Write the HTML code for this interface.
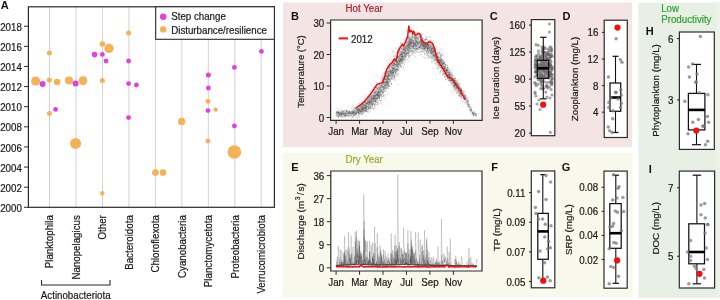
<!DOCTYPE html><html><head><meta charset="utf-8"><style>html,body{margin:0;padding:0;background:#fff;width:720px;height:300px;overflow:hidden}svg{display:block;will-change:transform}text{font-family:"Liberation Sans",sans-serif}</style></head><body>
<svg width="720" height="300" viewBox="0 0 720 300">
<rect width="720" height="300" fill="#fff"/>
<rect x="283" y="2.5" width="349" height="144.5" fill="#F4E4E4"/>
<rect x="283" y="153" width="349.5" height="144" fill="#F8F8EB"/>
<rect x="638.5" y="2.5" width="81.5" height="295.3" fill="#E8F0E6"/>
<rect x="716.3" y="2.5" width="3.7" height="295.3" fill="#EDF3EB"/>
<line x1="49.50" y1="6.8" x2="49.50" y2="207.3" stroke="#d2d2d2" stroke-width="1"/>
<line x1="75.97" y1="6.8" x2="75.97" y2="207.3" stroke="#d2d2d2" stroke-width="1"/>
<line x1="102.44" y1="6.8" x2="102.44" y2="207.3" stroke="#d2d2d2" stroke-width="1"/>
<line x1="128.91" y1="6.8" x2="128.91" y2="207.3" stroke="#d2d2d2" stroke-width="1"/>
<line x1="155.38" y1="6.8" x2="155.38" y2="207.3" stroke="#d2d2d2" stroke-width="1"/>
<line x1="181.85" y1="6.8" x2="181.85" y2="207.3" stroke="#d2d2d2" stroke-width="1"/>
<line x1="208.32" y1="6.8" x2="208.32" y2="207.3" stroke="#d2d2d2" stroke-width="1"/>
<line x1="234.79" y1="6.8" x2="234.79" y2="207.3" stroke="#d2d2d2" stroke-width="1"/>
<line x1="261.26" y1="6.8" x2="261.26" y2="207.3" stroke="#d2d2d2" stroke-width="1"/>
<line x1="24" y1="207.30" x2="28.4" y2="207.30" stroke="#2b2b2b" stroke-width="1"/>
<text transform="translate(21.8 211.9) scale(1 1.03)" font-size="9.75" text-anchor="end" fill="#1a1a1a" stroke="#1a1a1a" stroke-width="0.2" >2000</text>
<line x1="24" y1="187.18" x2="28.4" y2="187.18" stroke="#2b2b2b" stroke-width="1"/>
<text transform="translate(21.8 191.78) scale(1 1.03)" font-size="9.75" text-anchor="end" fill="#1a1a1a" stroke="#1a1a1a" stroke-width="0.2" >2002</text>
<line x1="24" y1="167.06" x2="28.4" y2="167.06" stroke="#2b2b2b" stroke-width="1"/>
<text transform="translate(21.8 171.66) scale(1 1.03)" font-size="9.75" text-anchor="end" fill="#1a1a1a" stroke="#1a1a1a" stroke-width="0.2" >2004</text>
<line x1="24" y1="146.94" x2="28.4" y2="146.94" stroke="#2b2b2b" stroke-width="1"/>
<text transform="translate(21.8 151.54) scale(1 1.03)" font-size="9.75" text-anchor="end" fill="#1a1a1a" stroke="#1a1a1a" stroke-width="0.2" >2006</text>
<line x1="24" y1="126.82" x2="28.4" y2="126.82" stroke="#2b2b2b" stroke-width="1"/>
<text transform="translate(21.8 131.42000000000002) scale(1 1.03)" font-size="9.75" text-anchor="end" fill="#1a1a1a" stroke="#1a1a1a" stroke-width="0.2" >2008</text>
<line x1="24" y1="106.70" x2="28.4" y2="106.70" stroke="#2b2b2b" stroke-width="1"/>
<text transform="translate(21.8 111.3) scale(1 1.03)" font-size="9.75" text-anchor="end" fill="#1a1a1a" stroke="#1a1a1a" stroke-width="0.2" >2010</text>
<line x1="24" y1="86.58" x2="28.4" y2="86.58" stroke="#2b2b2b" stroke-width="1"/>
<text transform="translate(21.8 91.18) scale(1 1.03)" font-size="9.75" text-anchor="end" fill="#1a1a1a" stroke="#1a1a1a" stroke-width="0.2" >2012</text>
<line x1="24" y1="66.46" x2="28.4" y2="66.46" stroke="#2b2b2b" stroke-width="1"/>
<text transform="translate(21.8 71.06) scale(1 1.03)" font-size="9.75" text-anchor="end" fill="#1a1a1a" stroke="#1a1a1a" stroke-width="0.2" >2014</text>
<line x1="24" y1="46.34" x2="28.4" y2="46.34" stroke="#2b2b2b" stroke-width="1"/>
<text transform="translate(21.8 50.940000000000005) scale(1 1.03)" font-size="9.75" text-anchor="end" fill="#1a1a1a" stroke="#1a1a1a" stroke-width="0.2" >2016</text>
<line x1="24" y1="26.22" x2="28.4" y2="26.22" stroke="#2b2b2b" stroke-width="1"/>
<text transform="translate(21.8 30.82) scale(1 1.03)" font-size="9.75" text-anchor="end" fill="#1a1a1a" stroke="#1a1a1a" stroke-width="0.2" >2018</text>
<text transform="translate(0.8 8.7)" font-size="11" text-anchor="start" fill="#111" font-weight="bold" >A</text>
<circle cx="49.4" cy="53" r="2.5" fill="#F6B156"/>
<circle cx="35.6" cy="81" r="4.5" fill="#F6B156"/>
<circle cx="42.6" cy="84" r="3" fill="#E23FDB"/>
<circle cx="49.4" cy="80" r="2.5" fill="#F6B156"/>
<circle cx="57" cy="82" r="3.3" fill="#F6B156"/>
<circle cx="69" cy="80.4" r="4" fill="#F6B156"/>
<circle cx="75.6" cy="83.6" r="3" fill="#E23FDB"/>
<circle cx="83" cy="80.6" r="4.3" fill="#F6B156"/>
<circle cx="102.4" cy="44" r="2.8" fill="#F6B156"/>
<circle cx="109" cy="48.4" r="4.6" fill="#F6B156"/>
<circle cx="94.6" cy="54.6" r="2.8" fill="#E23FDB"/>
<circle cx="102.4" cy="54.4" r="2.4" fill="#E23FDB"/>
<circle cx="106" cy="61" r="2.4" fill="#E23FDB"/>
<circle cx="102.4" cy="80.4" r="2.5" fill="#F6B156"/>
<circle cx="128.6" cy="61" r="2.4" fill="#E23FDB"/>
<circle cx="128.6" cy="83.6" r="2.4" fill="#E23FDB"/>
<circle cx="136.4" cy="85" r="2.4" fill="#E23FDB"/>
<circle cx="128.6" cy="33" r="2.5" fill="#F6B156"/>
<circle cx="55.6" cy="109.4" r="2.4" fill="#E23FDB"/>
<circle cx="49.4" cy="113.6" r="2.5" fill="#F6B156"/>
<circle cx="75.6" cy="143.4" r="5.5" fill="#F6B156"/>
<circle cx="128.6" cy="117.6" r="2.4" fill="#E23FDB"/>
<circle cx="102.3" cy="193.2" r="2.2" fill="#F6B156"/>
<circle cx="155.4" cy="172.6" r="3.3" fill="#F6B156"/>
<circle cx="163" cy="172.6" r="3.3" fill="#F6B156"/>
<circle cx="181.6" cy="121.4" r="3.6" fill="#F6B156"/>
<circle cx="208" cy="101.4" r="2.4" fill="#F6B156"/>
<circle cx="208" cy="110.6" r="2.4" fill="#E23FDB"/>
<circle cx="215.6" cy="109.6" r="2.2" fill="#F6B156"/>
<circle cx="208" cy="141" r="2.4" fill="#F6B156"/>
<circle cx="234.4" cy="67.4" r="2.4" fill="#E23FDB"/>
<circle cx="208.4" cy="75" r="2.5" fill="#E23FDB"/>
<circle cx="208.4" cy="88" r="2.4" fill="#E23FDB"/>
<circle cx="261.4" cy="51.4" r="2.4" fill="#E23FDB"/>
<circle cx="234.4" cy="126" r="2.4" fill="#E23FDB"/>
<circle cx="234.4" cy="152" r="6.8" fill="#F6B156"/>
<rect x="28.4" y="6.8" width="246.00" height="200.50" fill="none" stroke="#2b2b2b" stroke-width="1.2"/>
<rect x="155.7" y="6.8" width="118.70" height="32.50" fill="#fff" stroke="#2b2b2b" stroke-width="1.1"/>
<circle cx="163.2" cy="16.7" r="3.2" fill="#E23FDB"/>
<circle cx="163.2" cy="29.4" r="3.2" fill="#F6B156"/>
<text transform="translate(171.2 19.6) scale(1 1.03)" font-size="9.75" text-anchor="start" fill="#1a1a1a" stroke="#1a1a1a" stroke-width="0.2" >Step change</text>
<text transform="translate(171.2 33.5) scale(1 1.03)" font-size="9.75" text-anchor="start" fill="#1a1a1a" stroke="#1a1a1a" stroke-width="0.2" >Disturbance/resilience</text>
<text transform="translate(53.25 215.2) rotate(-90) scale(1 1.03)" font-size="9.75" text-anchor="end" fill="#1a1a1a" stroke="#1a1a1a" stroke-width="0.2" >Planktophila</text>
<text transform="translate(79.72 215.2) rotate(-90) scale(1 1.03)" font-size="9.75" text-anchor="end" fill="#1a1a1a" stroke="#1a1a1a" stroke-width="0.2" >Nanopelagicus</text>
<text transform="translate(106.19 215.2) rotate(-90) scale(1 1.03)" font-size="9.75" text-anchor="end" fill="#1a1a1a" stroke="#1a1a1a" stroke-width="0.2" >Other</text>
<text transform="translate(132.66 215.2) rotate(-90) scale(1 1.03)" font-size="9.75" text-anchor="end" fill="#1a1a1a" stroke="#1a1a1a" stroke-width="0.2" >Bacteroidota</text>
<text transform="translate(159.13 215.2) rotate(-90) scale(1 1.03)" font-size="9.75" text-anchor="end" fill="#1a1a1a" stroke="#1a1a1a" stroke-width="0.2" >Chloroflexota</text>
<text transform="translate(185.6 215.2) rotate(-90) scale(1 1.03)" font-size="9.75" text-anchor="end" fill="#1a1a1a" stroke="#1a1a1a" stroke-width="0.2" >Cyanobacteria</text>
<text transform="translate(212.07 215.2) rotate(-90) scale(1 1.03)" font-size="9.75" text-anchor="end" fill="#1a1a1a" stroke="#1a1a1a" stroke-width="0.2" >Planctomycetota</text>
<text transform="translate(238.54 215.2) rotate(-90) scale(1 1.03)" font-size="9.75" text-anchor="end" fill="#1a1a1a" stroke="#1a1a1a" stroke-width="0.2" >Proteobacteria</text>
<text transform="translate(265.01 215.2) rotate(-90) scale(1 1.03)" font-size="9.75" text-anchor="end" fill="#1a1a1a" stroke="#1a1a1a" stroke-width="0.2" >Verrucomicrobiota</text>
<path d="M41.5 280 V285 H110 V280" fill="none" stroke="#2b2b2b" stroke-width="1.1"/>
<text transform="translate(75.7 298.6) scale(1 1.03)" font-size="9.75" text-anchor="middle" fill="#1a1a1a" stroke="#1a1a1a" stroke-width="0.2" >Actinobacteriota</text>
<rect x="330.6" y="20.0" width="151.50" height="100.30" fill="#fff"/>
<g fill="#4a4a4a" fill-opacity="0.23"><circle cx="399.8" cy="65.2" r="0.6"/><circle cx="407.6" cy="45.0" r="0.6"/><circle cx="362.0" cy="105.4" r="0.6"/><circle cx="450.2" cy="72.5" r="0.6"/><circle cx="422.8" cy="49.3" r="0.6"/><circle cx="398.1" cy="62.7" r="0.6"/><circle cx="409.2" cy="37.3" r="0.6"/><circle cx="400.5" cy="58.5" r="0.6"/><circle cx="380.5" cy="90.4" r="0.6"/><circle cx="444.0" cy="69.2" r="0.6"/><circle cx="455.4" cy="90.3" r="0.6"/><circle cx="336.1" cy="112.6" r="0.6"/><circle cx="402.3" cy="54.0" r="0.6"/><circle cx="424.8" cy="46.3" r="0.6"/><circle cx="374.0" cy="92.5" r="0.6"/><circle cx="442.9" cy="75.2" r="0.6"/><circle cx="370.7" cy="108.3" r="0.6"/><circle cx="361.1" cy="111.5" r="0.6"/><circle cx="399.1" cy="60.2" r="0.6"/><circle cx="426.8" cy="44.2" r="0.6"/><circle cx="395.3" cy="64.2" r="0.6"/><circle cx="449.3" cy="84.9" r="0.6"/><circle cx="460.8" cy="87.4" r="0.6"/><circle cx="426.5" cy="51.4" r="0.6"/><circle cx="444.9" cy="68.7" r="0.6"/><circle cx="370.3" cy="103.7" r="0.6"/><circle cx="388.4" cy="83.7" r="0.6"/><circle cx="417.0" cy="41.7" r="0.6"/><circle cx="361.8" cy="113.5" r="0.6"/><circle cx="371.2" cy="97.2" r="0.6"/><circle cx="460.4" cy="90.2" r="0.6"/><circle cx="369.6" cy="103.7" r="0.6"/><circle cx="420.1" cy="45.6" r="0.6"/><circle cx="345.7" cy="115.9" r="0.6"/><circle cx="456.2" cy="84.1" r="0.6"/><circle cx="364.8" cy="113.8" r="0.6"/><circle cx="374.0" cy="100.8" r="0.6"/><circle cx="388.0" cy="79.1" r="0.6"/><circle cx="354.6" cy="115.2" r="0.6"/><circle cx="433.5" cy="52.2" r="0.6"/><circle cx="471.8" cy="108.7" r="0.6"/><circle cx="381.0" cy="91.0" r="0.6"/><circle cx="439.9" cy="64.2" r="0.6"/><circle cx="385.6" cy="69.5" r="0.6"/><circle cx="394.8" cy="72.1" r="0.6"/><circle cx="424.1" cy="40.7" r="0.6"/><circle cx="418.2" cy="48.3" r="0.6"/><circle cx="438.7" cy="62.9" r="0.6"/><circle cx="439.6" cy="53.5" r="0.6"/><circle cx="403.8" cy="57.4" r="0.6"/><circle cx="434.5" cy="46.9" r="0.6"/><circle cx="372.1" cy="94.1" r="0.6"/><circle cx="378.4" cy="94.3" r="0.6"/><circle cx="398.3" cy="65.1" r="0.6"/><circle cx="382.1" cy="89.9" r="0.6"/><circle cx="460.1" cy="94.0" r="0.6"/><circle cx="418.2" cy="46.2" r="0.6"/><circle cx="375.0" cy="101.1" r="0.6"/><circle cx="399.5" cy="61.2" r="0.6"/><circle cx="424.2" cy="49.2" r="0.6"/><circle cx="380.5" cy="96.6" r="0.6"/><circle cx="346.5" cy="113.3" r="0.6"/><circle cx="416.5" cy="43.3" r="0.6"/><circle cx="453.0" cy="80.3" r="0.6"/><circle cx="355.9" cy="108.8" r="0.6"/><circle cx="428.4" cy="49.4" r="0.6"/><circle cx="364.1" cy="107.4" r="0.6"/><circle cx="402.6" cy="56.1" r="0.6"/><circle cx="361.3" cy="107.1" r="0.6"/><circle cx="409.4" cy="52.1" r="0.6"/><circle cx="442.6" cy="68.0" r="0.6"/><circle cx="437.9" cy="49.7" r="0.6"/><circle cx="399.9" cy="64.0" r="0.6"/><circle cx="416.2" cy="40.7" r="0.6"/><circle cx="401.4" cy="59.7" r="0.6"/><circle cx="451.4" cy="83.9" r="0.6"/><circle cx="437.2" cy="67.8" r="0.6"/><circle cx="447.5" cy="66.9" r="0.6"/><circle cx="385.1" cy="76.0" r="0.6"/><circle cx="444.3" cy="70.0" r="0.6"/><circle cx="360.4" cy="110.5" r="0.6"/><circle cx="357.0" cy="110.2" r="0.6"/><circle cx="410.3" cy="43.1" r="0.6"/><circle cx="409.7" cy="36.9" r="0.6"/><circle cx="415.0" cy="36.5" r="0.6"/><circle cx="463.0" cy="98.9" r="0.6"/><circle cx="416.8" cy="37.8" r="0.6"/><circle cx="421.3" cy="42.2" r="0.6"/><circle cx="392.5" cy="63.9" r="0.6"/><circle cx="433.4" cy="51.0" r="0.6"/><circle cx="412.0" cy="55.2" r="0.6"/><circle cx="374.0" cy="95.5" r="0.6"/><circle cx="353.9" cy="114.2" r="0.6"/><circle cx="380.7" cy="86.9" r="0.6"/><circle cx="432.9" cy="48.4" r="0.6"/><circle cx="371.3" cy="105.5" r="0.6"/><circle cx="410.8" cy="40.1" r="0.6"/><circle cx="410.6" cy="48.0" r="0.6"/><circle cx="364.8" cy="104.1" r="0.6"/><circle cx="456.0" cy="82.2" r="0.6"/><circle cx="456.8" cy="86.0" r="0.6"/><circle cx="466.1" cy="96.0" r="0.6"/><circle cx="461.1" cy="92.9" r="0.6"/><circle cx="372.6" cy="106.5" r="0.6"/><circle cx="453.3" cy="81.8" r="0.6"/><circle cx="392.8" cy="66.9" r="0.6"/><circle cx="338.5" cy="117.3" r="0.6"/><circle cx="442.9" cy="60.4" r="0.6"/><circle cx="432.7" cy="53.8" r="0.6"/><circle cx="408.6" cy="47.4" r="0.6"/><circle cx="443.8" cy="62.7" r="0.6"/><circle cx="396.6" cy="65.7" r="0.6"/><circle cx="455.0" cy="78.7" r="0.6"/><circle cx="393.1" cy="72.3" r="0.6"/><circle cx="359.3" cy="116.1" r="0.6"/><circle cx="449.0" cy="76.0" r="0.6"/><circle cx="457.4" cy="83.6" r="0.6"/><circle cx="407.1" cy="52.8" r="0.6"/><circle cx="449.5" cy="80.8" r="0.6"/><circle cx="393.2" cy="64.1" r="0.6"/><circle cx="444.2" cy="62.7" r="0.6"/><circle cx="345.9" cy="115.0" r="0.6"/><circle cx="337.5" cy="112.6" r="0.6"/><circle cx="383.6" cy="82.5" r="0.6"/><circle cx="416.3" cy="27.9" r="0.6"/><circle cx="426.6" cy="58.0" r="0.6"/><circle cx="440.2" cy="60.8" r="0.6"/><circle cx="363.6" cy="108.2" r="0.6"/><circle cx="349.9" cy="111.6" r="0.6"/><circle cx="450.1" cy="75.6" r="0.6"/><circle cx="420.3" cy="51.9" r="0.6"/><circle cx="358.6" cy="112.5" r="0.6"/><circle cx="359.8" cy="109.9" r="0.6"/><circle cx="469.3" cy="105.9" r="0.6"/><circle cx="420.3" cy="41.3" r="0.6"/><circle cx="415.1" cy="50.2" r="0.6"/><circle cx="437.0" cy="61.0" r="0.6"/><circle cx="342.0" cy="113.6" r="0.6"/><circle cx="391.0" cy="72.7" r="0.6"/><circle cx="396.6" cy="62.5" r="0.6"/><circle cx="473.2" cy="115.5" r="0.6"/><circle cx="402.0" cy="52.7" r="0.6"/><circle cx="451.2" cy="81.9" r="0.6"/><circle cx="400.3" cy="64.1" r="0.6"/><circle cx="353.5" cy="110.9" r="0.6"/><circle cx="418.1" cy="43.8" r="0.6"/><circle cx="445.7" cy="79.7" r="0.6"/><circle cx="439.5" cy="60.9" r="0.6"/><circle cx="446.6" cy="69.7" r="0.6"/><circle cx="432.6" cy="54.4" r="0.6"/><circle cx="419.4" cy="42.7" r="0.6"/><circle cx="396.0" cy="61.4" r="0.6"/><circle cx="346.2" cy="111.2" r="0.6"/><circle cx="388.6" cy="73.9" r="0.6"/><circle cx="365.7" cy="105.7" r="0.6"/><circle cx="346.5" cy="110.3" r="0.6"/><circle cx="423.9" cy="45.8" r="0.6"/><circle cx="372.4" cy="104.2" r="0.6"/><circle cx="388.0" cy="83.0" r="0.6"/><circle cx="413.4" cy="43.3" r="0.6"/><circle cx="347.1" cy="110.9" r="0.6"/><circle cx="378.1" cy="94.4" r="0.6"/><circle cx="346.7" cy="114.8" r="0.6"/><circle cx="438.2" cy="61.1" r="0.6"/><circle cx="375.9" cy="91.4" r="0.6"/><circle cx="387.7" cy="85.8" r="0.6"/><circle cx="436.0" cy="65.3" r="0.6"/><circle cx="464.8" cy="95.3" r="0.6"/><circle cx="379.0" cy="83.3" r="0.6"/><circle cx="387.5" cy="86.7" r="0.6"/><circle cx="391.8" cy="74.2" r="0.6"/><circle cx="448.4" cy="78.6" r="0.6"/><circle cx="453.9" cy="84.7" r="0.6"/><circle cx="460.2" cy="95.7" r="0.6"/><circle cx="412.7" cy="51.0" r="0.6"/><circle cx="449.4" cy="74.7" r="0.6"/><circle cx="413.1" cy="45.5" r="0.6"/><circle cx="427.5" cy="47.7" r="0.6"/><circle cx="409.5" cy="41.0" r="0.6"/><circle cx="405.6" cy="53.9" r="0.6"/><circle cx="437.7" cy="62.4" r="0.6"/><circle cx="452.5" cy="78.5" r="0.6"/><circle cx="409.9" cy="46.2" r="0.6"/><circle cx="395.3" cy="60.4" r="0.6"/><circle cx="388.9" cy="77.9" r="0.6"/><circle cx="427.4" cy="51.1" r="0.6"/><circle cx="361.3" cy="105.9" r="0.6"/><circle cx="362.0" cy="109.9" r="0.6"/><circle cx="369.2" cy="100.9" r="0.6"/><circle cx="362.1" cy="107.7" r="0.6"/><circle cx="380.0" cy="94.2" r="0.6"/><circle cx="464.9" cy="95.8" r="0.6"/><circle cx="367.2" cy="110.8" r="0.6"/><circle cx="390.3" cy="70.2" r="0.6"/><circle cx="408.7" cy="54.1" r="0.6"/><circle cx="369.5" cy="102.6" r="0.6"/><circle cx="402.6" cy="57.8" r="0.6"/><circle cx="421.5" cy="37.0" r="0.6"/><circle cx="358.1" cy="110.8" r="0.6"/><circle cx="408.8" cy="57.1" r="0.6"/><circle cx="476.0" cy="115.7" r="0.6"/><circle cx="347.6" cy="115.9" r="0.6"/><circle cx="402.1" cy="46.5" r="0.6"/><circle cx="378.8" cy="87.8" r="0.6"/><circle cx="394.8" cy="76.4" r="0.6"/><circle cx="365.4" cy="109.5" r="0.6"/><circle cx="410.1" cy="46.5" r="0.6"/><circle cx="379.8" cy="88.0" r="0.6"/><circle cx="379.1" cy="91.6" r="0.6"/><circle cx="432.9" cy="48.2" r="0.6"/><circle cx="391.6" cy="83.2" r="0.6"/><circle cx="428.2" cy="45.6" r="0.6"/><circle cx="389.2" cy="76.3" r="0.6"/><circle cx="400.6" cy="65.6" r="0.6"/><circle cx="365.1" cy="105.6" r="0.6"/><circle cx="412.1" cy="48.7" r="0.6"/><circle cx="383.6" cy="83.3" r="0.6"/><circle cx="382.4" cy="83.8" r="0.6"/><circle cx="415.4" cy="38.9" r="0.6"/><circle cx="431.6" cy="57.5" r="0.6"/><circle cx="361.4" cy="111.3" r="0.6"/><circle cx="465.8" cy="97.0" r="0.6"/><circle cx="427.3" cy="48.5" r="0.6"/><circle cx="382.7" cy="82.0" r="0.6"/><circle cx="338.2" cy="116.5" r="0.6"/><circle cx="429.1" cy="46.9" r="0.6"/><circle cx="338.6" cy="113.0" r="0.6"/><circle cx="389.2" cy="73.2" r="0.6"/><circle cx="422.2" cy="44.7" r="0.6"/><circle cx="413.3" cy="32.8" r="0.6"/><circle cx="406.6" cy="45.6" r="0.6"/><circle cx="408.8" cy="30.3" r="0.6"/><circle cx="453.8" cy="86.4" r="0.6"/><circle cx="363.9" cy="105.9" r="0.6"/><circle cx="370.5" cy="100.8" r="0.6"/><circle cx="412.6" cy="39.4" r="0.6"/><circle cx="415.0" cy="56.0" r="0.6"/><circle cx="451.3" cy="72.8" r="0.6"/><circle cx="376.7" cy="95.6" r="0.6"/><circle cx="453.1" cy="85.5" r="0.6"/><circle cx="413.2" cy="46.8" r="0.6"/><circle cx="428.8" cy="48.2" r="0.6"/><circle cx="430.6" cy="44.9" r="0.6"/><circle cx="449.3" cy="78.9" r="0.6"/><circle cx="364.1" cy="109.1" r="0.6"/><circle cx="416.3" cy="46.7" r="0.6"/><circle cx="409.3" cy="40.8" r="0.6"/><circle cx="426.5" cy="44.7" r="0.6"/><circle cx="430.6" cy="54.8" r="0.6"/><circle cx="402.3" cy="53.9" r="0.6"/><circle cx="424.0" cy="45.2" r="0.6"/><circle cx="404.5" cy="43.1" r="0.6"/><circle cx="393.7" cy="56.7" r="0.6"/><circle cx="410.2" cy="39.4" r="0.6"/><circle cx="396.9" cy="62.9" r="0.6"/><circle cx="439.2" cy="62.0" r="0.6"/><circle cx="442.0" cy="63.4" r="0.6"/><circle cx="353.5" cy="112.0" r="0.6"/><circle cx="391.9" cy="68.7" r="0.6"/><circle cx="369.7" cy="98.3" r="0.6"/><circle cx="391.8" cy="83.8" r="0.6"/><circle cx="458.2" cy="91.1" r="0.6"/><circle cx="449.5" cy="75.9" r="0.6"/><circle cx="463.4" cy="92.6" r="0.6"/><circle cx="378.2" cy="103.4" r="0.6"/><circle cx="451.0" cy="80.9" r="0.6"/><circle cx="386.3" cy="82.1" r="0.6"/><circle cx="402.6" cy="55.6" r="0.6"/><circle cx="377.6" cy="96.8" r="0.6"/><circle cx="454.1" cy="81.2" r="0.6"/><circle cx="402.6" cy="68.8" r="0.6"/><circle cx="364.5" cy="99.8" r="0.6"/><circle cx="343.1" cy="112.1" r="0.6"/><circle cx="367.5" cy="111.6" r="0.6"/><circle cx="436.2" cy="57.9" r="0.6"/><circle cx="429.7" cy="51.0" r="0.6"/><circle cx="388.5" cy="82.9" r="0.6"/><circle cx="368.3" cy="100.6" r="0.6"/><circle cx="375.0" cy="108.0" r="0.6"/><circle cx="398.1" cy="71.0" r="0.6"/><circle cx="410.8" cy="40.5" r="0.6"/><circle cx="371.4" cy="99.1" r="0.6"/><circle cx="348.3" cy="113.5" r="0.6"/><circle cx="413.3" cy="47.7" r="0.6"/><circle cx="441.8" cy="68.9" r="0.6"/><circle cx="361.4" cy="108.0" r="0.6"/><circle cx="426.9" cy="42.4" r="0.6"/><circle cx="408.9" cy="37.9" r="0.6"/><circle cx="409.4" cy="49.5" r="0.6"/><circle cx="369.2" cy="109.0" r="0.6"/><circle cx="447.5" cy="70.4" r="0.6"/><circle cx="417.8" cy="43.1" r="0.6"/><circle cx="436.8" cy="59.3" r="0.6"/><circle cx="357.4" cy="110.2" r="0.6"/><circle cx="397.3" cy="62.4" r="0.6"/><circle cx="416.2" cy="51.4" r="0.6"/><circle cx="447.6" cy="75.0" r="0.6"/><circle cx="342.0" cy="114.7" r="0.6"/><circle cx="410.1" cy="42.2" r="0.6"/><circle cx="451.7" cy="78.3" r="0.6"/><circle cx="371.9" cy="97.6" r="0.6"/><circle cx="446.9" cy="65.5" r="0.6"/><circle cx="393.9" cy="71.7" r="0.6"/><circle cx="356.4" cy="117.5" r="0.6"/><circle cx="341.5" cy="114.6" r="0.6"/><circle cx="378.0" cy="97.7" r="0.6"/><circle cx="346.8" cy="113.7" r="0.6"/><circle cx="368.4" cy="97.8" r="0.6"/><circle cx="413.8" cy="32.4" r="0.6"/><circle cx="387.3" cy="82.2" r="0.6"/><circle cx="341.6" cy="114.9" r="0.6"/><circle cx="401.2" cy="59.2" r="0.6"/><circle cx="454.9" cy="84.0" r="0.6"/><circle cx="385.0" cy="79.1" r="0.6"/><circle cx="413.5" cy="44.6" r="0.6"/><circle cx="401.9" cy="60.1" r="0.6"/><circle cx="399.0" cy="55.7" r="0.6"/><circle cx="364.8" cy="100.8" r="0.6"/><circle cx="387.2" cy="82.9" r="0.6"/><circle cx="373.0" cy="99.6" r="0.6"/><circle cx="373.9" cy="104.2" r="0.6"/><circle cx="386.7" cy="91.3" r="0.6"/><circle cx="338.9" cy="116.5" r="0.6"/><circle cx="381.9" cy="94.0" r="0.6"/><circle cx="409.2" cy="42.2" r="0.6"/><circle cx="341.8" cy="114.3" r="0.6"/><circle cx="340.5" cy="112.6" r="0.6"/><circle cx="435.6" cy="55.2" r="0.6"/><circle cx="438.3" cy="61.2" r="0.6"/><circle cx="375.5" cy="99.0" r="0.6"/><circle cx="393.1" cy="72.4" r="0.6"/><circle cx="377.2" cy="92.2" r="0.6"/><circle cx="366.4" cy="110.2" r="0.6"/><circle cx="415.8" cy="44.2" r="0.6"/><circle cx="473.6" cy="114.5" r="0.6"/><circle cx="433.2" cy="51.1" r="0.6"/><circle cx="369.1" cy="106.6" r="0.6"/><circle cx="391.3" cy="75.7" r="0.6"/><circle cx="390.1" cy="69.1" r="0.6"/><circle cx="358.4" cy="111.0" r="0.6"/><circle cx="403.0" cy="52.6" r="0.6"/><circle cx="349.1" cy="112.4" r="0.6"/><circle cx="434.9" cy="54.6" r="0.6"/><circle cx="391.2" cy="71.2" r="0.6"/><circle cx="405.9" cy="45.5" r="0.6"/><circle cx="371.7" cy="101.3" r="0.6"/><circle cx="384.9" cy="79.0" r="0.6"/><circle cx="430.2" cy="47.2" r="0.6"/><circle cx="402.2" cy="61.1" r="0.6"/><circle cx="444.8" cy="67.8" r="0.6"/><circle cx="423.5" cy="41.6" r="0.6"/><circle cx="389.8" cy="77.0" r="0.6"/><circle cx="341.4" cy="112.9" r="0.6"/><circle cx="368.2" cy="107.2" r="0.6"/><circle cx="369.1" cy="99.6" r="0.6"/><circle cx="369.7" cy="101.7" r="0.6"/><circle cx="427.7" cy="43.0" r="0.6"/><circle cx="383.0" cy="81.4" r="0.6"/><circle cx="461.0" cy="91.3" r="0.6"/><circle cx="452.2" cy="74.8" r="0.6"/><circle cx="423.6" cy="40.9" r="0.6"/><circle cx="376.3" cy="93.9" r="0.6"/><circle cx="411.3" cy="44.0" r="0.6"/><circle cx="361.1" cy="112.1" r="0.6"/><circle cx="444.9" cy="73.1" r="0.6"/><circle cx="458.6" cy="94.2" r="0.6"/><circle cx="371.8" cy="101.7" r="0.6"/><circle cx="436.9" cy="53.5" r="0.6"/><circle cx="436.9" cy="53.9" r="0.6"/><circle cx="416.0" cy="50.0" r="0.6"/><circle cx="435.7" cy="59.7" r="0.6"/><circle cx="353.7" cy="109.2" r="0.6"/><circle cx="368.6" cy="108.6" r="0.6"/><circle cx="395.1" cy="67.2" r="0.6"/><circle cx="391.9" cy="73.2" r="0.6"/><circle cx="436.6" cy="57.0" r="0.6"/><circle cx="342.0" cy="114.4" r="0.6"/><circle cx="382.5" cy="87.1" r="0.6"/><circle cx="412.5" cy="40.7" r="0.6"/><circle cx="376.0" cy="98.9" r="0.6"/><circle cx="423.1" cy="48.5" r="0.6"/><circle cx="433.9" cy="53.0" r="0.6"/><circle cx="448.8" cy="75.7" r="0.6"/><circle cx="415.8" cy="45.2" r="0.6"/><circle cx="424.2" cy="45.6" r="0.6"/><circle cx="387.6" cy="85.2" r="0.6"/><circle cx="343.2" cy="113.3" r="0.6"/><circle cx="361.7" cy="110.2" r="0.6"/><circle cx="476.6" cy="113.8" r="0.6"/><circle cx="449.8" cy="76.7" r="0.6"/><circle cx="428.6" cy="45.8" r="0.6"/><circle cx="398.5" cy="75.0" r="0.6"/><circle cx="438.2" cy="61.9" r="0.6"/><circle cx="352.7" cy="112.9" r="0.6"/><circle cx="442.3" cy="64.5" r="0.6"/><circle cx="439.7" cy="61.2" r="0.6"/><circle cx="392.7" cy="70.1" r="0.6"/><circle cx="368.0" cy="112.1" r="0.6"/><circle cx="388.1" cy="79.7" r="0.6"/><circle cx="426.0" cy="42.2" r="0.6"/><circle cx="381.3" cy="84.9" r="0.6"/><circle cx="413.0" cy="50.9" r="0.6"/><circle cx="361.0" cy="111.3" r="0.6"/><circle cx="396.7" cy="68.4" r="0.6"/><circle cx="406.9" cy="45.9" r="0.6"/><circle cx="470.3" cy="110.1" r="0.6"/><circle cx="381.2" cy="101.8" r="0.6"/><circle cx="396.6" cy="75.2" r="0.6"/><circle cx="367.0" cy="104.3" r="0.6"/><circle cx="374.5" cy="94.9" r="0.6"/><circle cx="386.4" cy="85.5" r="0.6"/><circle cx="389.3" cy="82.4" r="0.6"/><circle cx="365.9" cy="110.8" r="0.6"/><circle cx="424.6" cy="39.8" r="0.6"/><circle cx="416.1" cy="46.9" r="0.6"/><circle cx="399.9" cy="51.9" r="0.6"/><circle cx="395.1" cy="67.5" r="0.6"/><circle cx="416.8" cy="49.2" r="0.6"/><circle cx="399.0" cy="49.6" r="0.6"/><circle cx="357.4" cy="108.2" r="0.6"/><circle cx="440.1" cy="60.7" r="0.6"/><circle cx="392.7" cy="51.8" r="0.6"/><circle cx="405.2" cy="55.7" r="0.6"/><circle cx="448.5" cy="70.0" r="0.6"/><circle cx="476.1" cy="114.5" r="0.6"/><circle cx="449.8" cy="73.9" r="0.6"/><circle cx="411.6" cy="45.3" r="0.6"/><circle cx="426.8" cy="49.7" r="0.6"/><circle cx="414.3" cy="39.8" r="0.6"/><circle cx="444.7" cy="68.9" r="0.6"/><circle cx="341.2" cy="113.9" r="0.6"/><circle cx="361.6" cy="108.0" r="0.6"/><circle cx="455.7" cy="85.8" r="0.6"/><circle cx="475.3" cy="114.1" r="0.6"/><circle cx="396.7" cy="61.4" r="0.6"/><circle cx="424.8" cy="48.4" r="0.6"/><circle cx="421.0" cy="44.0" r="0.6"/><circle cx="433.8" cy="55.5" r="0.6"/><circle cx="354.2" cy="110.7" r="0.6"/><circle cx="433.5" cy="50.4" r="0.6"/><circle cx="386.8" cy="77.0" r="0.6"/><circle cx="425.0" cy="46.7" r="0.6"/><circle cx="451.6" cy="75.1" r="0.6"/><circle cx="468.8" cy="106.0" r="0.6"/><circle cx="369.1" cy="101.5" r="0.6"/><circle cx="376.4" cy="105.0" r="0.6"/><circle cx="431.4" cy="54.1" r="0.6"/><circle cx="440.8" cy="61.2" r="0.6"/><circle cx="399.2" cy="56.3" r="0.6"/><circle cx="398.2" cy="64.3" r="0.6"/><circle cx="377.3" cy="92.9" r="0.6"/><circle cx="394.0" cy="64.2" r="0.6"/><circle cx="384.2" cy="88.9" r="0.6"/><circle cx="413.0" cy="38.2" r="0.6"/><circle cx="388.8" cy="73.6" r="0.6"/><circle cx="402.2" cy="51.4" r="0.6"/><circle cx="401.5" cy="53.2" r="0.6"/><circle cx="452.8" cy="76.7" r="0.6"/><circle cx="392.6" cy="74.0" r="0.6"/><circle cx="365.5" cy="115.9" r="0.6"/><circle cx="356.2" cy="112.8" r="0.6"/><circle cx="427.5" cy="48.2" r="0.6"/><circle cx="440.6" cy="65.2" r="0.6"/><circle cx="445.4" cy="64.0" r="0.6"/><circle cx="402.1" cy="64.7" r="0.6"/><circle cx="411.6" cy="34.2" r="0.6"/><circle cx="378.5" cy="97.9" r="0.6"/><circle cx="354.3" cy="114.1" r="0.6"/><circle cx="377.4" cy="94.6" r="0.6"/><circle cx="343.7" cy="115.2" r="0.6"/><circle cx="414.7" cy="44.7" r="0.6"/><circle cx="455.9" cy="83.8" r="0.6"/><circle cx="393.3" cy="79.5" r="0.6"/><circle cx="394.3" cy="56.1" r="0.6"/><circle cx="439.6" cy="64.1" r="0.6"/><circle cx="340.0" cy="115.2" r="0.6"/><circle cx="455.5" cy="83.4" r="0.6"/><circle cx="372.8" cy="100.4" r="0.6"/><circle cx="406.6" cy="45.6" r="0.6"/><circle cx="440.2" cy="64.3" r="0.6"/><circle cx="387.9" cy="72.3" r="0.6"/><circle cx="396.7" cy="65.0" r="0.6"/><circle cx="413.2" cy="44.0" r="0.6"/><circle cx="388.4" cy="79.7" r="0.6"/><circle cx="404.2" cy="52.8" r="0.6"/><circle cx="337.3" cy="111.5" r="0.6"/><circle cx="471.5" cy="109.7" r="0.6"/><circle cx="421.9" cy="46.2" r="0.6"/><circle cx="380.4" cy="82.2" r="0.6"/><circle cx="374.1" cy="97.3" r="0.6"/><circle cx="396.0" cy="61.2" r="0.6"/><circle cx="431.9" cy="52.9" r="0.6"/><circle cx="382.3" cy="91.8" r="0.6"/><circle cx="426.6" cy="39.5" r="0.6"/><circle cx="443.7" cy="63.6" r="0.6"/><circle cx="442.1" cy="61.2" r="0.6"/><circle cx="395.0" cy="80.0" r="0.6"/><circle cx="398.1" cy="60.7" r="0.6"/><circle cx="389.3" cy="72.6" r="0.6"/><circle cx="381.1" cy="90.8" r="0.6"/><circle cx="346.1" cy="112.4" r="0.6"/><circle cx="352.0" cy="110.9" r="0.6"/><circle cx="411.6" cy="51.6" r="0.6"/><circle cx="402.6" cy="63.3" r="0.6"/><circle cx="396.9" cy="57.7" r="0.6"/><circle cx="405.6" cy="39.4" r="0.6"/><circle cx="390.7" cy="81.2" r="0.6"/><circle cx="364.5" cy="110.1" r="0.6"/><circle cx="359.1" cy="108.2" r="0.6"/><circle cx="390.8" cy="68.9" r="0.6"/><circle cx="454.8" cy="80.2" r="0.6"/><circle cx="474.3" cy="113.3" r="0.6"/><circle cx="368.9" cy="102.7" r="0.6"/><circle cx="372.2" cy="94.6" r="0.6"/><circle cx="452.3" cy="79.2" r="0.6"/><circle cx="423.1" cy="39.9" r="0.6"/><circle cx="400.3" cy="59.9" r="0.6"/><circle cx="350.4" cy="116.2" r="0.6"/><circle cx="416.1" cy="41.8" r="0.6"/><circle cx="449.6" cy="77.9" r="0.6"/><circle cx="446.6" cy="73.0" r="0.6"/><circle cx="422.0" cy="48.6" r="0.6"/><circle cx="443.8" cy="74.8" r="0.6"/><circle cx="433.2" cy="46.7" r="0.6"/><circle cx="377.0" cy="94.4" r="0.6"/><circle cx="371.1" cy="98.1" r="0.6"/><circle cx="411.7" cy="42.8" r="0.6"/><circle cx="376.2" cy="99.3" r="0.6"/><circle cx="407.8" cy="53.4" r="0.6"/><circle cx="456.5" cy="91.2" r="0.6"/><circle cx="412.7" cy="36.4" r="0.6"/><circle cx="372.6" cy="98.3" r="0.6"/><circle cx="468.1" cy="104.2" r="0.6"/><circle cx="388.2" cy="83.9" r="0.6"/><circle cx="415.8" cy="44.5" r="0.6"/><circle cx="428.7" cy="58.0" r="0.6"/><circle cx="463.1" cy="101.5" r="0.6"/><circle cx="379.6" cy="102.7" r="0.6"/><circle cx="345.6" cy="116.1" r="0.6"/><circle cx="409.5" cy="44.1" r="0.6"/><circle cx="410.3" cy="39.2" r="0.6"/><circle cx="406.4" cy="48.8" r="0.6"/><circle cx="435.4" cy="53.8" r="0.6"/><circle cx="404.7" cy="52.4" r="0.6"/><circle cx="355.0" cy="110.5" r="0.6"/><circle cx="419.3" cy="33.0" r="0.6"/><circle cx="422.4" cy="45.5" r="0.6"/><circle cx="409.2" cy="44.4" r="0.6"/><circle cx="340.5" cy="113.9" r="0.6"/><circle cx="433.1" cy="52.2" r="0.6"/><circle cx="417.8" cy="42.9" r="0.6"/><circle cx="393.5" cy="68.8" r="0.6"/><circle cx="384.9" cy="83.7" r="0.6"/><circle cx="418.6" cy="39.4" r="0.6"/><circle cx="383.3" cy="82.1" r="0.6"/><circle cx="460.3" cy="91.9" r="0.6"/><circle cx="357.1" cy="111.8" r="0.6"/><circle cx="369.6" cy="99.4" r="0.6"/><circle cx="372.7" cy="99.3" r="0.6"/><circle cx="362.0" cy="114.7" r="0.6"/><circle cx="378.5" cy="92.2" r="0.6"/><circle cx="447.4" cy="67.4" r="0.6"/><circle cx="370.5" cy="91.7" r="0.6"/><circle cx="388.3" cy="86.6" r="0.6"/><circle cx="390.6" cy="76.0" r="0.6"/><circle cx="383.7" cy="75.8" r="0.6"/><circle cx="389.5" cy="66.6" r="0.6"/><circle cx="403.1" cy="49.4" r="0.6"/><circle cx="389.6" cy="77.8" r="0.6"/><circle cx="384.2" cy="82.7" r="0.6"/><circle cx="400.0" cy="62.6" r="0.6"/><circle cx="385.0" cy="86.1" r="0.6"/><circle cx="379.3" cy="97.0" r="0.6"/><circle cx="412.2" cy="48.2" r="0.6"/><circle cx="443.5" cy="68.5" r="0.6"/><circle cx="367.4" cy="104.1" r="0.6"/><circle cx="379.6" cy="97.5" r="0.6"/><circle cx="358.6" cy="109.6" r="0.6"/><circle cx="416.1" cy="46.5" r="0.6"/><circle cx="400.8" cy="43.2" r="0.6"/><circle cx="455.3" cy="87.0" r="0.6"/><circle cx="473.9" cy="116.6" r="0.6"/><circle cx="392.5" cy="72.4" r="0.6"/><circle cx="439.8" cy="63.8" r="0.6"/><circle cx="338.8" cy="111.0" r="0.6"/><circle cx="401.6" cy="56.9" r="0.6"/><circle cx="372.7" cy="96.3" r="0.6"/><circle cx="424.0" cy="48.3" r="0.6"/><circle cx="386.3" cy="75.4" r="0.6"/><circle cx="412.2" cy="41.2" r="0.6"/><circle cx="382.9" cy="88.0" r="0.6"/><circle cx="358.9" cy="116.7" r="0.6"/><circle cx="438.0" cy="56.8" r="0.6"/><circle cx="432.9" cy="50.9" r="0.6"/><circle cx="414.9" cy="48.5" r="0.6"/><circle cx="389.4" cy="71.7" r="0.6"/><circle cx="406.0" cy="43.2" r="0.6"/><circle cx="401.2" cy="53.8" r="0.6"/><circle cx="406.1" cy="40.7" r="0.6"/><circle cx="375.5" cy="87.1" r="0.6"/><circle cx="448.5" cy="77.9" r="0.6"/><circle cx="396.1" cy="61.0" r="0.6"/><circle cx="404.0" cy="56.8" r="0.6"/><circle cx="384.3" cy="78.6" r="0.6"/><circle cx="448.4" cy="76.7" r="0.6"/><circle cx="378.8" cy="84.6" r="0.6"/><circle cx="465.7" cy="97.1" r="0.6"/><circle cx="458.9" cy="93.8" r="0.6"/><circle cx="423.8" cy="44.5" r="0.6"/><circle cx="426.1" cy="44.6" r="0.6"/><circle cx="390.2" cy="77.5" r="0.6"/><circle cx="448.2" cy="74.3" r="0.6"/><circle cx="428.2" cy="45.5" r="0.6"/><circle cx="380.6" cy="84.8" r="0.6"/><circle cx="382.6" cy="91.0" r="0.6"/><circle cx="383.0" cy="84.1" r="0.6"/><circle cx="409.7" cy="55.3" r="0.6"/><circle cx="411.5" cy="46.3" r="0.6"/><circle cx="441.0" cy="64.9" r="0.6"/><circle cx="370.0" cy="107.4" r="0.6"/><circle cx="345.9" cy="109.4" r="0.6"/><circle cx="426.2" cy="44.3" r="0.6"/><circle cx="393.4" cy="54.0" r="0.6"/><circle cx="353.2" cy="113.4" r="0.6"/><circle cx="443.5" cy="60.9" r="0.6"/><circle cx="463.3" cy="90.9" r="0.6"/><circle cx="344.0" cy="113.1" r="0.6"/><circle cx="438.5" cy="66.5" r="0.6"/><circle cx="444.1" cy="66.7" r="0.6"/><circle cx="397.0" cy="57.5" r="0.6"/><circle cx="403.0" cy="56.2" r="0.6"/><circle cx="346.0" cy="113.1" r="0.6"/><circle cx="397.7" cy="55.8" r="0.6"/><circle cx="440.9" cy="65.6" r="0.6"/><circle cx="427.6" cy="45.9" r="0.6"/><circle cx="436.2" cy="55.7" r="0.6"/><circle cx="338.4" cy="112.7" r="0.6"/><circle cx="404.6" cy="52.8" r="0.6"/><circle cx="380.5" cy="94.1" r="0.6"/><circle cx="407.7" cy="50.8" r="0.6"/><circle cx="392.2" cy="70.3" r="0.6"/><circle cx="435.8" cy="63.8" r="0.6"/><circle cx="387.6" cy="73.5" r="0.6"/><circle cx="424.0" cy="45.9" r="0.6"/><circle cx="378.8" cy="87.5" r="0.6"/><circle cx="460.0" cy="91.8" r="0.6"/><circle cx="389.0" cy="86.6" r="0.6"/><circle cx="392.6" cy="68.7" r="0.6"/><circle cx="440.5" cy="60.7" r="0.6"/><circle cx="428.5" cy="37.0" r="0.6"/><circle cx="397.4" cy="64.7" r="0.6"/><circle cx="412.0" cy="52.7" r="0.6"/><circle cx="384.2" cy="90.2" r="0.6"/><circle cx="444.1" cy="68.2" r="0.6"/><circle cx="422.5" cy="33.2" r="0.6"/><circle cx="391.2" cy="84.2" r="0.6"/><circle cx="436.4" cy="56.8" r="0.6"/><circle cx="371.5" cy="95.5" r="0.6"/><circle cx="415.1" cy="45.9" r="0.6"/><circle cx="446.1" cy="70.6" r="0.6"/><circle cx="374.7" cy="92.2" r="0.6"/><circle cx="376.8" cy="94.2" r="0.6"/><circle cx="395.2" cy="61.1" r="0.6"/><circle cx="410.7" cy="40.4" r="0.6"/><circle cx="385.7" cy="86.0" r="0.6"/><circle cx="433.6" cy="54.7" r="0.6"/><circle cx="452.8" cy="80.2" r="0.6"/><circle cx="411.8" cy="48.8" r="0.6"/><circle cx="388.8" cy="79.4" r="0.6"/><circle cx="371.2" cy="104.0" r="0.6"/><circle cx="352.6" cy="112.6" r="0.6"/><circle cx="405.0" cy="47.4" r="0.6"/><circle cx="457.2" cy="85.4" r="0.6"/><circle cx="383.5" cy="77.3" r="0.6"/><circle cx="366.8" cy="103.6" r="0.6"/><circle cx="450.5" cy="80.9" r="0.6"/><circle cx="367.5" cy="103.0" r="0.6"/><circle cx="396.8" cy="61.7" r="0.6"/><circle cx="360.2" cy="109.9" r="0.6"/><circle cx="367.9" cy="101.7" r="0.6"/><circle cx="368.3" cy="109.3" r="0.6"/><circle cx="412.6" cy="46.1" r="0.6"/><circle cx="349.4" cy="115.8" r="0.6"/><circle cx="457.6" cy="87.0" r="0.6"/><circle cx="350.4" cy="114.0" r="0.6"/><circle cx="430.1" cy="51.5" r="0.6"/><circle cx="381.5" cy="87.5" r="0.6"/><circle cx="386.2" cy="88.2" r="0.6"/><circle cx="371.1" cy="101.3" r="0.6"/><circle cx="379.8" cy="92.9" r="0.6"/><circle cx="373.9" cy="101.1" r="0.6"/><circle cx="408.2" cy="41.9" r="0.6"/><circle cx="423.8" cy="42.9" r="0.6"/><circle cx="394.3" cy="61.2" r="0.6"/><circle cx="407.1" cy="41.9" r="0.6"/><circle cx="367.6" cy="103.6" r="0.6"/><circle cx="378.4" cy="95.4" r="0.6"/><circle cx="376.3" cy="89.5" r="0.6"/><circle cx="432.4" cy="51.3" r="0.6"/><circle cx="392.0" cy="64.4" r="0.6"/><circle cx="346.5" cy="111.5" r="0.6"/><circle cx="379.7" cy="90.4" r="0.6"/><circle cx="408.9" cy="61.3" r="0.6"/><circle cx="337.9" cy="115.9" r="0.6"/><circle cx="426.2" cy="36.7" r="0.6"/><circle cx="397.4" cy="57.8" r="0.6"/><circle cx="419.5" cy="44.8" r="0.6"/><circle cx="366.6" cy="108.7" r="0.6"/><circle cx="412.6" cy="37.4" r="0.6"/><circle cx="338.5" cy="112.4" r="0.6"/><circle cx="366.2" cy="105.8" r="0.6"/><circle cx="373.0" cy="95.4" r="0.6"/><circle cx="438.1" cy="60.2" r="0.6"/><circle cx="448.5" cy="74.8" r="0.6"/><circle cx="364.4" cy="108.8" r="0.6"/><circle cx="452.7" cy="83.8" r="0.6"/><circle cx="425.6" cy="46.9" r="0.6"/><circle cx="415.4" cy="42.7" r="0.6"/><circle cx="452.1" cy="79.2" r="0.6"/><circle cx="405.8" cy="47.0" r="0.6"/><circle cx="369.8" cy="107.7" r="0.6"/><circle cx="376.9" cy="91.5" r="0.6"/><circle cx="430.4" cy="43.7" r="0.6"/><circle cx="405.6" cy="56.8" r="0.6"/><circle cx="405.4" cy="49.4" r="0.6"/><circle cx="388.3" cy="76.7" r="0.6"/><circle cx="465.0" cy="94.2" r="0.6"/><circle cx="415.7" cy="43.3" r="0.6"/><circle cx="340.7" cy="114.8" r="0.6"/><circle cx="441.2" cy="58.5" r="0.6"/><circle cx="437.9" cy="59.9" r="0.6"/><circle cx="358.9" cy="109.6" r="0.6"/><circle cx="389.7" cy="86.2" r="0.6"/><circle cx="362.9" cy="109.8" r="0.6"/><circle cx="364.3" cy="108.0" r="0.6"/><circle cx="411.5" cy="46.7" r="0.6"/><circle cx="407.6" cy="46.2" r="0.6"/><circle cx="422.7" cy="44.3" r="0.6"/><circle cx="383.3" cy="91.5" r="0.6"/><circle cx="391.3" cy="66.9" r="0.6"/><circle cx="435.8" cy="53.6" r="0.6"/><circle cx="441.8" cy="55.6" r="0.6"/><circle cx="362.2" cy="111.7" r="0.6"/><circle cx="387.1" cy="71.3" r="0.6"/><circle cx="356.3" cy="114.3" r="0.6"/><circle cx="375.4" cy="102.5" r="0.6"/><circle cx="421.6" cy="35.6" r="0.6"/><circle cx="433.8" cy="56.2" r="0.6"/><circle cx="455.7" cy="82.0" r="0.6"/><circle cx="382.3" cy="86.0" r="0.6"/><circle cx="368.8" cy="102.2" r="0.6"/><circle cx="392.0" cy="59.2" r="0.6"/><circle cx="440.6" cy="61.6" r="0.6"/><circle cx="364.6" cy="105.1" r="0.6"/><circle cx="358.9" cy="109.5" r="0.6"/><circle cx="439.0" cy="61.8" r="0.6"/><circle cx="400.8" cy="55.1" r="0.6"/><circle cx="456.7" cy="82.5" r="0.6"/><circle cx="358.8" cy="109.6" r="0.6"/><circle cx="384.6" cy="83.1" r="0.6"/><circle cx="430.6" cy="53.3" r="0.6"/><circle cx="376.5" cy="91.5" r="0.6"/><circle cx="425.2" cy="50.4" r="0.6"/><circle cx="373.1" cy="99.4" r="0.6"/><circle cx="407.8" cy="50.2" r="0.6"/><circle cx="421.6" cy="44.2" r="0.6"/><circle cx="376.9" cy="86.4" r="0.6"/><circle cx="391.6" cy="71.4" r="0.6"/><circle cx="404.2" cy="47.6" r="0.6"/><circle cx="357.2" cy="111.6" r="0.6"/><circle cx="420.9" cy="39.7" r="0.6"/><circle cx="387.9" cy="79.6" r="0.6"/><circle cx="366.1" cy="108.6" r="0.6"/><circle cx="354.7" cy="110.5" r="0.6"/><circle cx="441.6" cy="62.8" r="0.6"/><circle cx="398.9" cy="57.3" r="0.6"/><circle cx="383.3" cy="86.5" r="0.6"/><circle cx="402.3" cy="53.1" r="0.6"/><circle cx="447.5" cy="77.7" r="0.6"/><circle cx="402.3" cy="57.9" r="0.6"/><circle cx="465.3" cy="103.8" r="0.6"/><circle cx="381.2" cy="95.0" r="0.6"/><circle cx="371.1" cy="100.3" r="0.6"/><circle cx="440.9" cy="65.4" r="0.6"/><circle cx="383.5" cy="82.7" r="0.6"/><circle cx="401.4" cy="48.5" r="0.6"/><circle cx="349.5" cy="111.1" r="0.6"/><circle cx="387.4" cy="78.9" r="0.6"/><circle cx="421.4" cy="41.6" r="0.6"/><circle cx="422.5" cy="38.5" r="0.6"/><circle cx="427.4" cy="43.3" r="0.6"/><circle cx="427.3" cy="48.9" r="0.6"/><circle cx="385.6" cy="84.5" r="0.6"/><circle cx="455.0" cy="79.0" r="0.6"/><circle cx="426.6" cy="45.5" r="0.6"/><circle cx="378.7" cy="95.2" r="0.6"/><circle cx="352.5" cy="113.4" r="0.6"/><circle cx="371.9" cy="99.4" r="0.6"/><circle cx="385.7" cy="83.1" r="0.6"/><circle cx="395.9" cy="70.1" r="0.6"/><circle cx="438.8" cy="55.1" r="0.6"/><circle cx="382.0" cy="80.8" r="0.6"/><circle cx="352.9" cy="112.4" r="0.6"/><circle cx="399.9" cy="58.7" r="0.6"/><circle cx="381.0" cy="85.5" r="0.6"/><circle cx="417.0" cy="45.0" r="0.6"/><circle cx="449.9" cy="75.1" r="0.6"/><circle cx="442.9" cy="65.4" r="0.6"/><circle cx="402.7" cy="53.6" r="0.6"/><circle cx="410.7" cy="41.3" r="0.6"/><circle cx="408.7" cy="43.5" r="0.6"/><circle cx="379.6" cy="85.9" r="0.6"/><circle cx="401.6" cy="55.0" r="0.6"/><circle cx="382.8" cy="96.2" r="0.6"/><circle cx="449.3" cy="74.2" r="0.6"/><circle cx="460.6" cy="91.4" r="0.6"/><circle cx="373.7" cy="93.1" r="0.6"/><circle cx="394.2" cy="63.0" r="0.6"/><circle cx="364.7" cy="106.6" r="0.6"/><circle cx="411.1" cy="52.0" r="0.6"/><circle cx="453.8" cy="85.4" r="0.6"/><circle cx="473.7" cy="115.7" r="0.6"/><circle cx="365.4" cy="107.4" r="0.6"/><circle cx="402.8" cy="58.5" r="0.6"/><circle cx="385.7" cy="76.2" r="0.6"/><circle cx="445.4" cy="64.9" r="0.6"/><circle cx="400.4" cy="54.3" r="0.6"/><circle cx="432.6" cy="55.3" r="0.6"/><circle cx="382.0" cy="89.2" r="0.6"/><circle cx="390.6" cy="74.8" r="0.6"/><circle cx="340.6" cy="116.5" r="0.6"/><circle cx="340.3" cy="112.4" r="0.6"/><circle cx="379.9" cy="83.5" r="0.6"/><circle cx="389.8" cy="68.1" r="0.6"/><circle cx="350.8" cy="113.6" r="0.6"/><circle cx="447.5" cy="78.8" r="0.6"/><circle cx="362.6" cy="109.0" r="0.6"/><circle cx="378.7" cy="84.9" r="0.6"/><circle cx="386.1" cy="82.3" r="0.6"/><circle cx="468.3" cy="102.9" r="0.6"/><circle cx="353.1" cy="114.2" r="0.6"/><circle cx="458.0" cy="84.0" r="0.6"/><circle cx="395.0" cy="57.5" r="0.6"/><circle cx="346.1" cy="111.7" r="0.6"/><circle cx="384.0" cy="86.4" r="0.6"/><circle cx="394.1" cy="68.7" r="0.6"/><circle cx="392.4" cy="70.3" r="0.6"/><circle cx="431.1" cy="50.5" r="0.6"/><circle cx="405.3" cy="51.0" r="0.6"/><circle cx="377.8" cy="95.6" r="0.6"/><circle cx="352.2" cy="116.7" r="0.6"/><circle cx="386.8" cy="81.3" r="0.6"/><circle cx="410.1" cy="51.9" r="0.6"/><circle cx="414.5" cy="48.5" r="0.6"/><circle cx="384.5" cy="73.8" r="0.6"/><circle cx="438.3" cy="59.3" r="0.6"/><circle cx="401.1" cy="51.5" r="0.6"/><circle cx="422.9" cy="41.7" r="0.6"/><circle cx="388.9" cy="80.1" r="0.6"/><circle cx="405.0" cy="57.9" r="0.6"/><circle cx="379.3" cy="96.1" r="0.6"/><circle cx="445.6" cy="70.2" r="0.6"/><circle cx="439.1" cy="65.4" r="0.6"/><circle cx="383.7" cy="82.5" r="0.6"/><circle cx="430.8" cy="47.1" r="0.6"/><circle cx="402.7" cy="60.2" r="0.6"/><circle cx="452.9" cy="80.9" r="0.6"/><circle cx="426.7" cy="51.1" r="0.6"/><circle cx="385.3" cy="82.0" r="0.6"/><circle cx="348.8" cy="113.8" r="0.6"/><circle cx="454.5" cy="83.3" r="0.6"/><circle cx="373.1" cy="102.3" r="0.6"/><circle cx="437.0" cy="57.6" r="0.6"/><circle cx="407.8" cy="38.1" r="0.6"/><circle cx="410.0" cy="40.7" r="0.6"/><circle cx="365.8" cy="110.1" r="0.6"/><circle cx="415.9" cy="42.2" r="0.6"/><circle cx="454.1" cy="76.3" r="0.6"/><circle cx="404.8" cy="58.1" r="0.6"/><circle cx="431.2" cy="49.7" r="0.6"/><circle cx="433.8" cy="52.4" r="0.6"/><circle cx="449.2" cy="74.4" r="0.6"/><circle cx="364.9" cy="104.8" r="0.6"/><circle cx="351.3" cy="111.0" r="0.6"/><circle cx="370.5" cy="102.7" r="0.6"/><circle cx="431.4" cy="54.6" r="0.6"/><circle cx="458.3" cy="88.0" r="0.6"/><circle cx="386.0" cy="73.3" r="0.6"/><circle cx="421.5" cy="50.8" r="0.6"/><circle cx="422.3" cy="41.9" r="0.6"/><circle cx="401.2" cy="56.7" r="0.6"/><circle cx="381.9" cy="88.8" r="0.6"/><circle cx="374.7" cy="100.5" r="0.6"/><circle cx="391.7" cy="74.7" r="0.6"/><circle cx="420.3" cy="43.9" r="0.6"/><circle cx="473.8" cy="112.7" r="0.6"/><circle cx="367.9" cy="101.7" r="0.6"/><circle cx="377.1" cy="104.5" r="0.6"/><circle cx="409.9" cy="42.4" r="0.6"/><circle cx="385.3" cy="82.0" r="0.6"/><circle cx="434.8" cy="59.5" r="0.6"/><circle cx="343.8" cy="111.4" r="0.6"/><circle cx="445.3" cy="64.7" r="0.6"/><circle cx="421.3" cy="40.8" r="0.6"/><circle cx="390.3" cy="71.5" r="0.6"/><circle cx="366.8" cy="102.7" r="0.6"/><circle cx="421.6" cy="38.8" r="0.6"/><circle cx="465.9" cy="95.5" r="0.6"/><circle cx="346.7" cy="115.4" r="0.6"/><circle cx="410.3" cy="50.3" r="0.6"/><circle cx="447.8" cy="78.6" r="0.6"/><circle cx="406.0" cy="43.5" r="0.6"/><circle cx="434.9" cy="55.7" r="0.6"/><circle cx="394.3" cy="59.9" r="0.6"/><circle cx="374.9" cy="100.5" r="0.6"/><circle cx="444.7" cy="66.5" r="0.6"/><circle cx="362.8" cy="113.1" r="0.6"/><circle cx="422.3" cy="42.3" r="0.6"/><circle cx="367.2" cy="108.8" r="0.6"/><circle cx="395.2" cy="67.6" r="0.6"/><circle cx="470.1" cy="107.1" r="0.6"/><circle cx="459.3" cy="89.5" r="0.6"/><circle cx="435.0" cy="51.8" r="0.6"/><circle cx="438.5" cy="52.1" r="0.6"/><circle cx="412.3" cy="36.1" r="0.6"/><circle cx="460.1" cy="95.9" r="0.6"/><circle cx="397.1" cy="62.1" r="0.6"/><circle cx="411.3" cy="42.0" r="0.6"/><circle cx="398.3" cy="61.0" r="0.6"/><circle cx="370.4" cy="109.4" r="0.6"/><circle cx="447.7" cy="69.0" r="0.6"/><circle cx="433.9" cy="51.8" r="0.6"/><circle cx="364.1" cy="106.5" r="0.6"/><circle cx="394.7" cy="74.5" r="0.6"/><circle cx="391.0" cy="77.6" r="0.6"/><circle cx="353.8" cy="115.2" r="0.6"/><circle cx="421.5" cy="47.9" r="0.6"/><circle cx="355.3" cy="114.0" r="0.6"/><circle cx="426.7" cy="47.5" r="0.6"/><circle cx="378.9" cy="90.5" r="0.6"/><circle cx="405.3" cy="57.0" r="0.6"/><circle cx="450.0" cy="72.8" r="0.6"/><circle cx="366.5" cy="110.8" r="0.6"/><circle cx="402.8" cy="58.4" r="0.6"/><circle cx="376.8" cy="103.6" r="0.6"/><circle cx="466.2" cy="95.9" r="0.6"/><circle cx="347.3" cy="113.3" r="0.6"/><circle cx="400.5" cy="47.3" r="0.6"/><circle cx="416.3" cy="46.3" r="0.6"/><circle cx="395.9" cy="70.5" r="0.6"/><circle cx="452.7" cy="83.3" r="0.6"/><circle cx="358.5" cy="108.6" r="0.6"/><circle cx="454.4" cy="80.1" r="0.6"/><circle cx="342.8" cy="111.6" r="0.6"/><circle cx="419.3" cy="47.8" r="0.6"/><circle cx="393.7" cy="70.9" r="0.6"/><circle cx="365.1" cy="107.2" r="0.6"/><circle cx="357.7" cy="111.3" r="0.6"/><circle cx="370.8" cy="107.3" r="0.6"/><circle cx="375.5" cy="92.6" r="0.6"/><circle cx="376.8" cy="94.6" r="0.6"/><circle cx="384.7" cy="94.9" r="0.6"/><circle cx="418.1" cy="40.5" r="0.6"/><circle cx="352.0" cy="111.6" r="0.6"/><circle cx="370.1" cy="102.7" r="0.6"/><circle cx="442.4" cy="63.1" r="0.6"/><circle cx="387.2" cy="84.4" r="0.6"/><circle cx="418.1" cy="35.5" r="0.6"/><circle cx="389.5" cy="75.3" r="0.6"/><circle cx="367.7" cy="109.5" r="0.6"/><circle cx="387.7" cy="82.5" r="0.6"/><circle cx="409.0" cy="40.0" r="0.6"/><circle cx="414.0" cy="37.7" r="0.6"/><circle cx="369.3" cy="101.4" r="0.6"/><circle cx="398.0" cy="66.8" r="0.6"/><circle cx="417.0" cy="41.8" r="0.6"/><circle cx="400.0" cy="59.8" r="0.6"/><circle cx="368.1" cy="102.5" r="0.6"/><circle cx="364.6" cy="110.2" r="0.6"/><circle cx="420.6" cy="45.3" r="0.6"/><circle cx="403.7" cy="51.8" r="0.6"/><circle cx="433.1" cy="57.1" r="0.6"/><circle cx="439.4" cy="66.8" r="0.6"/><circle cx="413.4" cy="42.5" r="0.6"/><circle cx="376.7" cy="88.2" r="0.6"/><circle cx="437.4" cy="61.1" r="0.6"/><circle cx="405.9" cy="46.4" r="0.6"/><circle cx="348.3" cy="112.4" r="0.6"/><circle cx="437.3" cy="59.0" r="0.6"/><circle cx="440.6" cy="58.2" r="0.6"/><circle cx="425.4" cy="42.9" r="0.6"/><circle cx="435.2" cy="50.5" r="0.6"/><circle cx="359.5" cy="109.7" r="0.6"/><circle cx="461.3" cy="94.1" r="0.6"/><circle cx="436.4" cy="42.3" r="0.6"/><circle cx="464.1" cy="96.2" r="0.6"/><circle cx="400.8" cy="54.1" r="0.6"/><circle cx="458.6" cy="91.5" r="0.6"/><circle cx="412.0" cy="35.1" r="0.6"/><circle cx="420.5" cy="40.4" r="0.6"/><circle cx="374.2" cy="98.8" r="0.6"/><circle cx="427.4" cy="45.8" r="0.6"/><circle cx="376.6" cy="95.9" r="0.6"/><circle cx="395.5" cy="72.3" r="0.6"/><circle cx="374.1" cy="90.3" r="0.6"/><circle cx="449.4" cy="76.9" r="0.6"/><circle cx="383.2" cy="84.7" r="0.6"/><circle cx="432.4" cy="47.0" r="0.6"/><circle cx="457.3" cy="89.3" r="0.6"/><circle cx="392.5" cy="65.6" r="0.6"/><circle cx="409.7" cy="32.2" r="0.6"/><circle cx="440.7" cy="58.9" r="0.6"/><circle cx="451.4" cy="80.8" r="0.6"/><circle cx="405.8" cy="51.1" r="0.6"/><circle cx="343.5" cy="115.9" r="0.6"/><circle cx="456.5" cy="85.0" r="0.6"/><circle cx="369.8" cy="100.8" r="0.6"/><circle cx="405.3" cy="51.6" r="0.6"/><circle cx="374.5" cy="100.4" r="0.6"/><circle cx="362.4" cy="109.7" r="0.6"/><circle cx="433.0" cy="50.1" r="0.6"/><circle cx="383.0" cy="79.7" r="0.6"/><circle cx="400.2" cy="60.0" r="0.6"/><circle cx="427.0" cy="48.2" r="0.6"/><circle cx="340.9" cy="113.9" r="0.6"/><circle cx="444.2" cy="70.9" r="0.6"/><circle cx="398.8" cy="57.8" r="0.6"/><circle cx="446.8" cy="65.0" r="0.6"/><circle cx="446.0" cy="73.8" r="0.6"/><circle cx="362.0" cy="111.3" r="0.6"/><circle cx="397.1" cy="69.6" r="0.6"/><circle cx="444.4" cy="66.8" r="0.6"/><circle cx="392.3" cy="63.2" r="0.6"/><circle cx="433.0" cy="44.1" r="0.6"/><circle cx="410.0" cy="36.9" r="0.6"/><circle cx="408.2" cy="52.9" r="0.6"/><circle cx="439.2" cy="58.0" r="0.6"/><circle cx="420.2" cy="44.4" r="0.6"/><circle cx="432.4" cy="52.7" r="0.6"/><circle cx="371.7" cy="95.6" r="0.6"/><circle cx="440.2" cy="60.5" r="0.6"/><circle cx="367.2" cy="103.4" r="0.6"/><circle cx="439.5" cy="68.1" r="0.6"/><circle cx="345.5" cy="114.3" r="0.6"/><circle cx="444.2" cy="60.8" r="0.6"/><circle cx="421.1" cy="42.8" r="0.6"/><circle cx="362.1" cy="110.2" r="0.6"/><circle cx="420.0" cy="47.2" r="0.6"/><circle cx="425.7" cy="43.1" r="0.6"/><circle cx="454.7" cy="80.7" r="0.6"/><circle cx="433.3" cy="52.7" r="0.6"/><circle cx="429.2" cy="49.8" r="0.6"/><circle cx="422.3" cy="40.4" r="0.6"/><circle cx="369.8" cy="100.1" r="0.6"/><circle cx="381.0" cy="84.7" r="0.6"/><circle cx="425.2" cy="46.9" r="0.6"/><circle cx="399.3" cy="57.4" r="0.6"/><circle cx="452.9" cy="78.5" r="0.6"/><circle cx="414.5" cy="43.0" r="0.6"/><circle cx="375.2" cy="97.3" r="0.6"/><circle cx="470.1" cy="111.0" r="0.6"/><circle cx="375.4" cy="95.3" r="0.6"/><circle cx="460.2" cy="88.9" r="0.6"/><circle cx="431.0" cy="59.4" r="0.6"/><circle cx="453.5" cy="80.2" r="0.6"/><circle cx="389.4" cy="75.1" r="0.6"/><circle cx="451.2" cy="77.5" r="0.6"/><circle cx="372.2" cy="98.2" r="0.6"/><circle cx="417.9" cy="41.8" r="0.6"/><circle cx="416.1" cy="38.4" r="0.6"/><circle cx="361.3" cy="105.9" r="0.6"/><circle cx="401.9" cy="53.9" r="0.6"/><circle cx="443.5" cy="70.0" r="0.6"/><circle cx="372.0" cy="96.1" r="0.6"/><circle cx="401.7" cy="53.8" r="0.6"/><circle cx="371.7" cy="99.5" r="0.6"/><circle cx="440.0" cy="66.5" r="0.6"/><circle cx="428.8" cy="44.2" r="0.6"/><circle cx="462.7" cy="95.3" r="0.6"/><circle cx="432.3" cy="62.1" r="0.6"/><circle cx="439.2" cy="57.4" r="0.6"/><circle cx="383.2" cy="89.7" r="0.6"/><circle cx="358.6" cy="114.6" r="0.6"/><circle cx="385.9" cy="87.1" r="0.6"/><circle cx="396.3" cy="71.4" r="0.6"/><circle cx="467.2" cy="99.9" r="0.6"/><circle cx="345.7" cy="113.4" r="0.6"/><circle cx="442.3" cy="64.9" r="0.6"/><circle cx="395.6" cy="70.4" r="0.6"/><circle cx="369.2" cy="98.7" r="0.6"/><circle cx="394.3" cy="63.2" r="0.6"/><circle cx="379.7" cy="93.3" r="0.6"/><circle cx="385.1" cy="74.4" r="0.6"/><circle cx="437.9" cy="57.5" r="0.6"/><circle cx="433.4" cy="54.1" r="0.6"/><circle cx="361.0" cy="110.2" r="0.6"/><circle cx="361.7" cy="109.6" r="0.6"/><circle cx="410.0" cy="45.1" r="0.6"/><circle cx="358.5" cy="110.8" r="0.6"/><circle cx="446.7" cy="70.2" r="0.6"/><circle cx="409.8" cy="54.5" r="0.6"/><circle cx="390.9" cy="74.8" r="0.6"/><circle cx="350.9" cy="113.6" r="0.6"/><circle cx="439.3" cy="62.2" r="0.6"/><circle cx="403.3" cy="50.4" r="0.6"/><circle cx="431.7" cy="46.9" r="0.6"/><circle cx="377.5" cy="94.9" r="0.6"/><circle cx="376.4" cy="90.3" r="0.6"/><circle cx="409.4" cy="44.8" r="0.6"/><circle cx="344.5" cy="113.6" r="0.6"/><circle cx="459.9" cy="94.1" r="0.6"/><circle cx="432.1" cy="49.2" r="0.6"/><circle cx="397.5" cy="55.8" r="0.6"/><circle cx="384.4" cy="88.4" r="0.6"/><circle cx="365.3" cy="102.6" r="0.6"/><circle cx="343.8" cy="114.4" r="0.6"/><circle cx="359.4" cy="114.2" r="0.6"/><circle cx="439.5" cy="60.8" r="0.6"/><circle cx="391.8" cy="78.3" r="0.6"/><circle cx="374.3" cy="98.7" r="0.6"/><circle cx="407.5" cy="55.1" r="0.6"/><circle cx="405.1" cy="55.4" r="0.6"/><circle cx="394.1" cy="71.6" r="0.6"/><circle cx="408.7" cy="55.4" r="0.6"/><circle cx="427.8" cy="49.6" r="0.6"/><circle cx="407.7" cy="46.7" r="0.6"/><circle cx="359.4" cy="111.3" r="0.6"/><circle cx="430.0" cy="50.7" r="0.6"/><circle cx="401.7" cy="56.4" r="0.6"/><circle cx="441.5" cy="60.3" r="0.6"/><circle cx="423.7" cy="48.2" r="0.6"/><circle cx="439.3" cy="62.7" r="0.6"/><circle cx="341.4" cy="112.7" r="0.6"/><circle cx="337.4" cy="112.6" r="0.6"/><circle cx="439.5" cy="60.8" r="0.6"/><circle cx="427.6" cy="48.6" r="0.6"/><circle cx="443.1" cy="70.8" r="0.6"/><circle cx="398.9" cy="59.9" r="0.6"/><circle cx="447.1" cy="75.2" r="0.6"/><circle cx="384.8" cy="81.6" r="0.6"/><circle cx="420.8" cy="48.1" r="0.6"/><circle cx="438.1" cy="57.8" r="0.6"/><circle cx="397.8" cy="61.6" r="0.6"/><circle cx="439.6" cy="65.2" r="0.6"/><circle cx="381.2" cy="91.7" r="0.6"/><circle cx="344.9" cy="110.7" r="0.6"/><circle cx="377.9" cy="94.2" r="0.6"/><circle cx="399.6" cy="60.7" r="0.6"/><circle cx="421.2" cy="48.1" r="0.6"/><circle cx="409.7" cy="47.6" r="0.6"/><circle cx="367.5" cy="101.1" r="0.6"/><circle cx="418.5" cy="43.2" r="0.6"/><circle cx="374.9" cy="96.8" r="0.6"/><circle cx="364.8" cy="112.0" r="0.6"/><circle cx="439.8" cy="52.0" r="0.6"/><circle cx="386.6" cy="77.7" r="0.6"/><circle cx="424.3" cy="45.8" r="0.6"/><circle cx="427.8" cy="48.7" r="0.6"/><circle cx="411.0" cy="43.3" r="0.6"/><circle cx="378.0" cy="95.3" r="0.6"/><circle cx="445.2" cy="71.1" r="0.6"/><circle cx="402.7" cy="54.6" r="0.6"/><circle cx="383.7" cy="87.2" r="0.6"/><circle cx="410.8" cy="45.1" r="0.6"/><circle cx="445.6" cy="71.2" r="0.6"/><circle cx="415.8" cy="36.7" r="0.6"/><circle cx="356.2" cy="110.3" r="0.6"/><circle cx="352.9" cy="117.3" r="0.6"/><circle cx="367.0" cy="101.9" r="0.6"/><circle cx="385.3" cy="79.4" r="0.6"/><circle cx="434.1" cy="47.3" r="0.6"/><circle cx="385.8" cy="75.3" r="0.6"/><circle cx="423.6" cy="43.9" r="0.6"/><circle cx="408.5" cy="46.7" r="0.6"/><circle cx="411.9" cy="40.0" r="0.6"/><circle cx="435.1" cy="53.2" r="0.6"/><circle cx="454.6" cy="84.5" r="0.6"/><circle cx="424.5" cy="48.2" r="0.6"/><circle cx="413.1" cy="45.9" r="0.6"/><circle cx="421.2" cy="45.5" r="0.6"/><circle cx="456.6" cy="84.4" r="0.6"/><circle cx="422.8" cy="49.4" r="0.6"/><circle cx="414.0" cy="43.7" r="0.6"/><circle cx="471.2" cy="110.7" r="0.6"/><circle cx="424.0" cy="41.8" r="0.6"/><circle cx="379.6" cy="95.4" r="0.6"/><circle cx="370.3" cy="97.9" r="0.6"/><circle cx="460.9" cy="93.3" r="0.6"/><circle cx="449.0" cy="75.4" r="0.6"/><circle cx="385.6" cy="71.8" r="0.6"/><circle cx="385.5" cy="79.5" r="0.6"/><circle cx="437.2" cy="59.1" r="0.6"/><circle cx="406.2" cy="40.0" r="0.6"/><circle cx="438.3" cy="54.0" r="0.6"/><circle cx="440.5" cy="67.4" r="0.6"/><circle cx="429.2" cy="45.0" r="0.6"/><circle cx="411.3" cy="42.9" r="0.6"/><circle cx="406.7" cy="52.6" r="0.6"/><circle cx="436.7" cy="60.2" r="0.6"/><circle cx="423.3" cy="44.5" r="0.6"/><circle cx="431.9" cy="55.9" r="0.6"/><circle cx="473.3" cy="114.9" r="0.6"/><circle cx="422.5" cy="38.9" r="0.6"/><circle cx="397.3" cy="63.0" r="0.6"/><circle cx="430.1" cy="50.1" r="0.6"/><circle cx="365.9" cy="105.8" r="0.6"/><circle cx="367.9" cy="108.6" r="0.6"/><circle cx="466.2" cy="98.1" r="0.6"/><circle cx="377.1" cy="94.9" r="0.6"/><circle cx="379.2" cy="88.3" r="0.6"/><circle cx="438.3" cy="61.6" r="0.6"/><circle cx="372.5" cy="101.3" r="0.6"/><circle cx="381.5" cy="96.0" r="0.6"/><circle cx="450.9" cy="80.6" r="0.6"/><circle cx="408.4" cy="42.2" r="0.6"/><circle cx="450.3" cy="80.4" r="0.6"/><circle cx="439.8" cy="51.1" r="0.6"/><circle cx="344.7" cy="113.7" r="0.6"/><circle cx="400.9" cy="50.2" r="0.6"/><circle cx="343.3" cy="112.5" r="0.6"/><circle cx="438.2" cy="62.4" r="0.6"/><circle cx="394.5" cy="70.3" r="0.6"/><circle cx="360.0" cy="106.6" r="0.6"/><circle cx="387.4" cy="66.9" r="0.6"/><circle cx="420.4" cy="51.7" r="0.6"/><circle cx="415.0" cy="37.2" r="0.6"/><circle cx="434.5" cy="63.4" r="0.6"/><circle cx="353.8" cy="112.6" r="0.6"/><circle cx="437.0" cy="56.0" r="0.6"/><circle cx="410.8" cy="42.1" r="0.6"/><circle cx="375.7" cy="89.8" r="0.6"/><circle cx="387.8" cy="75.7" r="0.6"/><circle cx="363.1" cy="109.7" r="0.6"/><circle cx="450.7" cy="74.6" r="0.6"/><circle cx="418.0" cy="36.9" r="0.6"/><circle cx="371.7" cy="104.3" r="0.6"/><circle cx="383.7" cy="83.8" r="0.6"/><circle cx="369.6" cy="102.3" r="0.6"/><circle cx="354.7" cy="108.1" r="0.6"/><circle cx="338.4" cy="113.3" r="0.6"/><circle cx="396.4" cy="62.7" r="0.6"/><circle cx="459.2" cy="91.0" r="0.6"/><circle cx="380.9" cy="91.6" r="0.6"/><circle cx="398.0" cy="59.9" r="0.6"/><circle cx="436.7" cy="50.0" r="0.6"/><circle cx="368.0" cy="112.0" r="0.6"/><circle cx="412.8" cy="55.6" r="0.6"/><circle cx="451.2" cy="69.1" r="0.6"/><circle cx="341.4" cy="114.3" r="0.6"/><circle cx="429.3" cy="41.1" r="0.6"/><circle cx="468.1" cy="101.7" r="0.6"/><circle cx="410.2" cy="42.6" r="0.6"/><circle cx="453.7" cy="83.2" r="0.6"/><circle cx="385.2" cy="79.7" r="0.6"/><circle cx="403.6" cy="53.0" r="0.6"/><circle cx="377.4" cy="102.8" r="0.6"/><circle cx="396.2" cy="68.9" r="0.6"/><circle cx="414.5" cy="46.8" r="0.6"/><circle cx="393.4" cy="68.7" r="0.6"/><circle cx="412.8" cy="52.2" r="0.6"/><circle cx="471.2" cy="109.7" r="0.6"/><circle cx="390.6" cy="65.4" r="0.6"/><circle cx="469.3" cy="106.0" r="0.6"/><circle cx="446.1" cy="68.3" r="0.6"/><circle cx="382.9" cy="87.6" r="0.6"/><circle cx="437.9" cy="57.1" r="0.6"/><circle cx="401.3" cy="49.3" r="0.6"/><circle cx="363.4" cy="103.1" r="0.6"/><circle cx="377.2" cy="95.1" r="0.6"/><circle cx="439.9" cy="48.2" r="0.6"/><circle cx="393.5" cy="79.3" r="0.6"/><circle cx="388.6" cy="84.8" r="0.6"/><circle cx="383.5" cy="81.7" r="0.6"/><circle cx="358.2" cy="109.1" r="0.6"/><circle cx="433.0" cy="47.2" r="0.6"/><circle cx="393.9" cy="68.6" r="0.6"/><circle cx="343.8" cy="112.9" r="0.6"/><circle cx="396.9" cy="68.6" r="0.6"/><circle cx="443.1" cy="60.3" r="0.6"/><circle cx="384.4" cy="80.9" r="0.6"/><circle cx="386.1" cy="85.2" r="0.6"/><circle cx="415.1" cy="45.9" r="0.6"/><circle cx="401.4" cy="46.1" r="0.6"/><circle cx="374.3" cy="95.7" r="0.6"/><circle cx="423.6" cy="45.9" r="0.6"/><circle cx="444.8" cy="69.8" r="0.6"/><circle cx="373.9" cy="108.7" r="0.6"/><circle cx="426.4" cy="44.5" r="0.6"/><circle cx="384.3" cy="82.2" r="0.6"/><circle cx="425.1" cy="48.2" r="0.6"/><circle cx="388.1" cy="66.8" r="0.6"/><circle cx="361.8" cy="110.1" r="0.6"/><circle cx="448.6" cy="74.0" r="0.6"/><circle cx="428.4" cy="41.6" r="0.6"/><circle cx="386.8" cy="76.4" r="0.6"/><circle cx="434.2" cy="56.4" r="0.6"/><circle cx="423.9" cy="44.2" r="0.6"/><circle cx="368.1" cy="107.0" r="0.6"/><circle cx="348.4" cy="116.4" r="0.6"/><circle cx="430.3" cy="48.2" r="0.6"/><circle cx="365.1" cy="110.3" r="0.6"/><circle cx="384.7" cy="84.2" r="0.6"/><circle cx="366.8" cy="111.2" r="0.6"/><circle cx="355.3" cy="115.6" r="0.6"/><circle cx="338.2" cy="117.3" r="0.6"/><circle cx="455.1" cy="82.2" r="0.6"/><circle cx="443.5" cy="65.6" r="0.6"/><circle cx="416.6" cy="38.5" r="0.6"/><circle cx="399.1" cy="58.9" r="0.6"/><circle cx="367.6" cy="100.4" r="0.6"/><circle cx="458.6" cy="91.9" r="0.6"/><circle cx="455.6" cy="83.2" r="0.6"/><circle cx="381.1" cy="91.3" r="0.6"/><circle cx="448.2" cy="79.2" r="0.6"/><circle cx="392.6" cy="69.0" r="0.6"/><circle cx="459.0" cy="80.0" r="0.6"/><circle cx="440.3" cy="55.6" r="0.6"/><circle cx="358.2" cy="110.6" r="0.6"/><circle cx="435.7" cy="59.1" r="0.6"/><circle cx="442.7" cy="73.2" r="0.6"/><circle cx="423.8" cy="47.2" r="0.6"/><circle cx="413.5" cy="41.7" r="0.6"/><circle cx="398.6" cy="62.5" r="0.6"/><circle cx="381.1" cy="99.9" r="0.6"/><circle cx="469.9" cy="107.0" r="0.6"/><circle cx="454.3" cy="83.4" r="0.6"/><circle cx="449.0" cy="76.6" r="0.6"/><circle cx="451.1" cy="80.4" r="0.6"/><circle cx="339.2" cy="115.4" r="0.6"/><circle cx="369.8" cy="96.4" r="0.6"/><circle cx="386.4" cy="79.3" r="0.6"/><circle cx="402.2" cy="54.0" r="0.6"/><circle cx="400.8" cy="55.9" r="0.6"/><circle cx="409.3" cy="40.1" r="0.6"/><circle cx="432.0" cy="53.2" r="0.6"/><circle cx="470.1" cy="109.0" r="0.6"/><circle cx="388.0" cy="62.8" r="0.6"/><circle cx="406.7" cy="49.0" r="0.6"/><circle cx="432.5" cy="54.2" r="0.6"/><circle cx="396.4" cy="71.5" r="0.6"/><circle cx="445.2" cy="67.4" r="0.6"/><circle cx="399.4" cy="63.3" r="0.6"/><circle cx="406.9" cy="47.2" r="0.6"/><circle cx="392.4" cy="72.4" r="0.6"/><circle cx="403.6" cy="50.5" r="0.6"/><circle cx="408.7" cy="45.4" r="0.6"/><circle cx="405.6" cy="47.5" r="0.6"/><circle cx="371.3" cy="96.2" r="0.6"/><circle cx="401.3" cy="66.4" r="0.6"/><circle cx="423.1" cy="42.8" r="0.6"/><circle cx="363.8" cy="105.4" r="0.6"/><circle cx="457.7" cy="86.3" r="0.6"/><circle cx="381.5" cy="84.8" r="0.6"/><circle cx="441.7" cy="59.8" r="0.6"/><circle cx="367.8" cy="96.5" r="0.6"/><circle cx="422.1" cy="41.5" r="0.6"/><circle cx="377.0" cy="86.4" r="0.6"/><circle cx="448.8" cy="77.2" r="0.6"/><circle cx="419.3" cy="49.3" r="0.6"/><circle cx="431.5" cy="45.8" r="0.6"/><circle cx="441.0" cy="61.5" r="0.6"/><circle cx="461.6" cy="90.0" r="0.6"/><circle cx="390.6" cy="71.9" r="0.6"/><circle cx="407.8" cy="45.3" r="0.6"/><circle cx="427.4" cy="45.8" r="0.6"/><circle cx="375.5" cy="99.9" r="0.6"/><circle cx="457.7" cy="84.4" r="0.6"/><circle cx="391.1" cy="64.2" r="0.6"/><circle cx="427.8" cy="47.2" r="0.6"/><circle cx="460.2" cy="84.3" r="0.6"/><circle cx="423.0" cy="46.7" r="0.6"/><circle cx="411.6" cy="50.4" r="0.6"/><circle cx="408.1" cy="48.5" r="0.6"/><circle cx="435.5" cy="48.9" r="0.6"/><circle cx="402.3" cy="57.5" r="0.6"/><circle cx="399.8" cy="61.0" r="0.6"/><circle cx="376.8" cy="82.7" r="0.6"/><circle cx="357.7" cy="112.4" r="0.6"/><circle cx="387.1" cy="88.3" r="0.6"/><circle cx="398.4" cy="71.2" r="0.6"/><circle cx="381.8" cy="78.9" r="0.6"/><circle cx="340.1" cy="114.7" r="0.6"/><circle cx="388.1" cy="77.1" r="0.6"/><circle cx="410.4" cy="49.3" r="0.6"/><circle cx="379.0" cy="89.7" r="0.6"/><circle cx="409.1" cy="46.3" r="0.6"/><circle cx="416.9" cy="40.0" r="0.6"/><circle cx="394.8" cy="68.2" r="0.6"/><circle cx="378.7" cy="91.1" r="0.6"/><circle cx="396.8" cy="62.0" r="0.6"/><circle cx="412.5" cy="51.2" r="0.6"/><circle cx="430.0" cy="40.1" r="0.6"/><circle cx="458.6" cy="85.2" r="0.6"/><circle cx="454.1" cy="85.8" r="0.6"/><circle cx="394.3" cy="64.9" r="0.6"/><circle cx="461.8" cy="93.4" r="0.6"/><circle cx="445.5" cy="66.7" r="0.6"/><circle cx="407.3" cy="48.3" r="0.6"/><circle cx="413.5" cy="44.0" r="0.6"/><circle cx="375.2" cy="90.2" r="0.6"/><circle cx="369.5" cy="98.8" r="0.6"/><circle cx="372.8" cy="101.7" r="0.6"/><circle cx="409.1" cy="44.6" r="0.6"/><circle cx="419.8" cy="41.7" r="0.6"/><circle cx="390.0" cy="73.8" r="0.6"/><circle cx="351.1" cy="113.5" r="0.6"/><circle cx="440.3" cy="64.0" r="0.6"/><circle cx="368.2" cy="102.5" r="0.6"/><circle cx="411.1" cy="39.9" r="0.6"/><circle cx="425.1" cy="54.0" r="0.6"/><circle cx="417.0" cy="33.0" r="0.6"/><circle cx="338.1" cy="111.9" r="0.6"/><circle cx="371.9" cy="99.1" r="0.6"/><circle cx="345.2" cy="112.8" r="0.6"/><circle cx="460.2" cy="88.1" r="0.6"/><circle cx="420.3" cy="42.5" r="0.6"/><circle cx="401.7" cy="57.5" r="0.6"/><circle cx="378.5" cy="87.3" r="0.6"/><circle cx="396.3" cy="62.1" r="0.6"/><circle cx="404.1" cy="65.0" r="0.6"/><circle cx="413.0" cy="32.6" r="0.6"/><circle cx="415.3" cy="47.8" r="0.6"/><circle cx="387.2" cy="78.2" r="0.6"/><circle cx="373.2" cy="103.7" r="0.6"/><circle cx="387.5" cy="77.2" r="0.6"/><circle cx="413.5" cy="41.7" r="0.6"/><circle cx="438.0" cy="60.2" r="0.6"/><circle cx="433.1" cy="51.8" r="0.6"/><circle cx="426.6" cy="42.9" r="0.6"/><circle cx="412.1" cy="43.6" r="0.6"/><circle cx="455.3" cy="80.4" r="0.6"/><circle cx="459.2" cy="88.0" r="0.6"/><circle cx="393.6" cy="76.7" r="0.6"/><circle cx="410.8" cy="42.7" r="0.6"/><circle cx="421.2" cy="41.4" r="0.6"/><circle cx="389.3" cy="71.4" r="0.6"/><circle cx="437.6" cy="57.5" r="0.6"/><circle cx="442.5" cy="54.6" r="0.6"/><circle cx="381.3" cy="97.9" r="0.6"/><circle cx="448.3" cy="78.8" r="0.6"/><circle cx="428.1" cy="44.5" r="0.6"/><circle cx="457.1" cy="86.3" r="0.6"/><circle cx="437.3" cy="61.2" r="0.6"/><circle cx="427.7" cy="45.7" r="0.6"/><circle cx="414.8" cy="43.6" r="0.6"/><circle cx="353.4" cy="115.7" r="0.6"/><circle cx="393.7" cy="65.4" r="0.6"/><circle cx="447.4" cy="70.0" r="0.6"/><circle cx="361.1" cy="108.3" r="0.6"/><circle cx="464.7" cy="98.4" r="0.6"/><circle cx="402.1" cy="56.7" r="0.6"/><circle cx="455.1" cy="85.8" r="0.6"/><circle cx="441.3" cy="59.3" r="0.6"/><circle cx="378.7" cy="96.8" r="0.6"/><circle cx="396.7" cy="62.6" r="0.6"/><circle cx="389.5" cy="80.9" r="0.6"/><circle cx="386.5" cy="76.1" r="0.6"/><circle cx="338.3" cy="112.5" r="0.6"/><circle cx="371.7" cy="98.0" r="0.6"/><circle cx="375.3" cy="101.4" r="0.6"/><circle cx="464.1" cy="94.8" r="0.6"/><circle cx="437.6" cy="57.6" r="0.6"/><circle cx="389.7" cy="84.9" r="0.6"/><circle cx="437.7" cy="63.2" r="0.6"/><circle cx="402.8" cy="63.1" r="0.6"/><circle cx="458.1" cy="89.4" r="0.6"/><circle cx="440.4" cy="54.9" r="0.6"/><circle cx="404.3" cy="52.7" r="0.6"/><circle cx="409.7" cy="47.7" r="0.6"/><circle cx="453.7" cy="85.1" r="0.6"/><circle cx="457.7" cy="84.4" r="0.6"/><circle cx="416.9" cy="48.4" r="0.6"/><circle cx="358.0" cy="115.0" r="0.6"/><circle cx="434.1" cy="53.6" r="0.6"/><circle cx="455.0" cy="80.4" r="0.6"/><circle cx="367.7" cy="103.8" r="0.6"/><circle cx="402.6" cy="48.0" r="0.6"/><circle cx="344.7" cy="114.0" r="0.6"/><circle cx="376.7" cy="100.1" r="0.6"/><circle cx="458.6" cy="95.4" r="0.6"/><circle cx="382.5" cy="96.2" r="0.6"/><circle cx="431.9" cy="44.4" r="0.6"/><circle cx="468.8" cy="105.2" r="0.6"/><circle cx="428.8" cy="48.5" r="0.6"/><circle cx="461.2" cy="91.1" r="0.6"/><circle cx="342.7" cy="111.9" r="0.6"/><circle cx="388.7" cy="79.3" r="0.6"/><circle cx="401.2" cy="66.5" r="0.6"/><circle cx="439.8" cy="64.8" r="0.6"/><circle cx="444.6" cy="68.4" r="0.6"/><circle cx="407.5" cy="41.3" r="0.6"/><circle cx="440.4" cy="71.4" r="0.6"/><circle cx="412.1" cy="31.3" r="0.6"/><circle cx="398.5" cy="64.1" r="0.6"/><circle cx="380.8" cy="84.1" r="0.6"/><circle cx="410.1" cy="41.6" r="0.6"/><circle cx="416.5" cy="41.3" r="0.6"/><circle cx="348.2" cy="114.9" r="0.6"/><circle cx="394.2" cy="77.8" r="0.6"/><circle cx="414.2" cy="52.4" r="0.6"/><circle cx="399.4" cy="56.6" r="0.6"/><circle cx="450.9" cy="78.2" r="0.6"/><circle cx="409.6" cy="43.3" r="0.6"/><circle cx="399.7" cy="61.3" r="0.6"/><circle cx="431.1" cy="50.4" r="0.6"/><circle cx="409.1" cy="44.0" r="0.6"/><circle cx="378.3" cy="87.6" r="0.6"/><circle cx="460.7" cy="88.8" r="0.6"/><circle cx="386.7" cy="80.8" r="0.6"/><circle cx="406.7" cy="45.8" r="0.6"/><circle cx="404.4" cy="48.3" r="0.6"/><circle cx="425.3" cy="44.1" r="0.6"/><circle cx="406.2" cy="47.1" r="0.6"/><circle cx="450.3" cy="70.0" r="0.6"/><circle cx="448.8" cy="77.1" r="0.6"/><circle cx="397.4" cy="73.7" r="0.6"/><circle cx="441.0" cy="61.9" r="0.6"/><circle cx="373.6" cy="108.4" r="0.6"/><circle cx="389.8" cy="70.6" r="0.6"/><circle cx="365.2" cy="101.5" r="0.6"/><circle cx="359.4" cy="110.9" r="0.6"/><circle cx="394.4" cy="64.2" r="0.6"/><circle cx="418.1" cy="35.0" r="0.6"/><circle cx="398.8" cy="73.3" r="0.6"/><circle cx="423.4" cy="45.5" r="0.6"/><circle cx="440.4" cy="64.5" r="0.6"/><circle cx="377.2" cy="93.7" r="0.6"/><circle cx="416.3" cy="48.9" r="0.6"/><circle cx="375.5" cy="97.5" r="0.6"/><circle cx="411.7" cy="46.0" r="0.6"/><circle cx="386.2" cy="83.0" r="0.6"/><circle cx="417.0" cy="51.4" r="0.6"/><circle cx="453.7" cy="83.1" r="0.6"/><circle cx="450.7" cy="77.9" r="0.6"/><circle cx="460.8" cy="91.1" r="0.6"/><circle cx="365.6" cy="108.0" r="0.6"/><circle cx="365.7" cy="101.5" r="0.6"/><circle cx="415.0" cy="52.0" r="0.6"/><circle cx="443.2" cy="64.2" r="0.6"/><circle cx="448.8" cy="75.5" r="0.6"/><circle cx="401.4" cy="48.0" r="0.6"/><circle cx="359.1" cy="111.7" r="0.6"/><circle cx="424.9" cy="58.3" r="0.6"/><circle cx="427.0" cy="46.2" r="0.6"/><circle cx="374.2" cy="101.1" r="0.6"/><circle cx="415.7" cy="39.2" r="0.6"/><circle cx="371.1" cy="103.3" r="0.6"/><circle cx="373.8" cy="103.3" r="0.6"/><circle cx="395.2" cy="66.1" r="0.6"/><circle cx="432.6" cy="56.8" r="0.6"/><circle cx="360.5" cy="108.5" r="0.6"/><circle cx="429.1" cy="47.4" r="0.6"/><circle cx="424.5" cy="41.8" r="0.6"/><circle cx="375.3" cy="96.3" r="0.6"/><circle cx="433.5" cy="52.4" r="0.6"/><circle cx="434.3" cy="57.2" r="0.6"/><circle cx="407.8" cy="46.4" r="0.6"/><circle cx="351.7" cy="113.2" r="0.6"/><circle cx="411.1" cy="42.1" r="0.6"/><circle cx="381.1" cy="89.0" r="0.6"/><circle cx="378.2" cy="92.7" r="0.6"/><circle cx="380.6" cy="93.7" r="0.6"/><circle cx="385.7" cy="91.6" r="0.6"/><circle cx="378.1" cy="95.9" r="0.6"/><circle cx="413.6" cy="47.9" r="0.6"/><circle cx="338.4" cy="111.0" r="0.6"/><circle cx="403.1" cy="58.5" r="0.6"/><circle cx="431.2" cy="49.6" r="0.6"/><circle cx="447.7" cy="72.4" r="0.6"/><circle cx="423.8" cy="43.6" r="0.6"/><circle cx="427.5" cy="54.8" r="0.6"/><circle cx="437.0" cy="56.4" r="0.6"/><circle cx="345.0" cy="115.3" r="0.6"/><circle cx="365.5" cy="105.9" r="0.6"/><circle cx="358.7" cy="109.7" r="0.6"/><circle cx="474.0" cy="114.7" r="0.6"/><circle cx="359.1" cy="108.6" r="0.6"/><circle cx="446.5" cy="71.5" r="0.6"/><circle cx="424.7" cy="50.8" r="0.6"/><circle cx="471.2" cy="111.9" r="0.6"/><circle cx="433.7" cy="52.5" r="0.6"/><circle cx="426.0" cy="43.6" r="0.6"/><circle cx="397.8" cy="66.1" r="0.6"/><circle cx="446.4" cy="70.6" r="0.6"/><circle cx="461.3" cy="91.7" r="0.6"/><circle cx="387.9" cy="69.5" r="0.6"/><circle cx="387.1" cy="84.4" r="0.6"/><circle cx="414.7" cy="36.4" r="0.6"/><circle cx="437.5" cy="56.4" r="0.6"/><circle cx="424.3" cy="46.8" r="0.6"/><circle cx="446.9" cy="72.2" r="0.6"/><circle cx="386.2" cy="77.4" r="0.6"/><circle cx="365.7" cy="112.0" r="0.6"/><circle cx="339.4" cy="113.1" r="0.6"/><circle cx="400.1" cy="65.0" r="0.6"/><circle cx="400.7" cy="49.0" r="0.6"/><circle cx="375.6" cy="96.3" r="0.6"/><circle cx="351.6" cy="114.5" r="0.6"/><circle cx="397.8" cy="73.9" r="0.6"/><circle cx="342.1" cy="117.1" r="0.6"/><circle cx="400.2" cy="50.9" r="0.6"/><circle cx="403.9" cy="49.6" r="0.6"/><circle cx="363.9" cy="104.9" r="0.6"/><circle cx="449.4" cy="75.8" r="0.6"/><circle cx="379.1" cy="93.2" r="0.6"/><circle cx="403.6" cy="66.6" r="0.6"/><circle cx="405.1" cy="47.5" r="0.6"/><circle cx="379.5" cy="97.1" r="0.6"/><circle cx="403.5" cy="63.7" r="0.6"/><circle cx="462.0" cy="90.8" r="0.6"/><circle cx="377.6" cy="97.8" r="0.6"/><circle cx="434.3" cy="57.0" r="0.6"/><circle cx="398.5" cy="47.6" r="0.6"/><circle cx="466.5" cy="101.8" r="0.6"/><circle cx="396.6" cy="68.0" r="0.6"/><circle cx="387.8" cy="73.1" r="0.6"/><circle cx="429.7" cy="44.3" r="0.6"/><circle cx="430.7" cy="45.6" r="0.6"/><circle cx="403.5" cy="52.7" r="0.6"/><circle cx="451.7" cy="73.0" r="0.6"/><circle cx="362.5" cy="102.5" r="0.6"/><circle cx="385.4" cy="79.8" r="0.6"/><circle cx="453.1" cy="92.6" r="0.6"/><circle cx="406.5" cy="53.1" r="0.6"/><circle cx="457.5" cy="93.5" r="0.6"/><circle cx="467.3" cy="103.0" r="0.6"/><circle cx="433.1" cy="54.7" r="0.6"/><circle cx="457.9" cy="91.2" r="0.6"/><circle cx="412.0" cy="46.2" r="0.6"/><circle cx="378.9" cy="95.9" r="0.6"/><circle cx="369.2" cy="102.0" r="0.6"/><circle cx="370.7" cy="102.5" r="0.6"/><circle cx="449.6" cy="71.4" r="0.6"/><circle cx="472.8" cy="112.4" r="0.6"/><circle cx="406.7" cy="49.0" r="0.6"/><circle cx="364.6" cy="102.6" r="0.6"/><circle cx="418.0" cy="41.3" r="0.6"/><circle cx="406.3" cy="55.0" r="0.6"/><circle cx="414.5" cy="38.0" r="0.6"/><circle cx="339.3" cy="115.1" r="0.6"/><circle cx="382.5" cy="94.3" r="0.6"/><circle cx="430.3" cy="48.2" r="0.6"/><circle cx="389.6" cy="69.2" r="0.6"/><circle cx="365.1" cy="108.0" r="0.6"/><circle cx="409.4" cy="38.1" r="0.6"/><circle cx="390.9" cy="70.4" r="0.6"/><circle cx="400.2" cy="59.8" r="0.6"/><circle cx="432.8" cy="45.4" r="0.6"/><circle cx="412.5" cy="35.0" r="0.6"/><circle cx="358.0" cy="109.9" r="0.6"/><circle cx="465.1" cy="97.6" r="0.6"/><circle cx="420.3" cy="34.1" r="0.6"/><circle cx="398.1" cy="56.7" r="0.6"/><circle cx="413.0" cy="51.4" r="0.6"/><circle cx="408.6" cy="51.4" r="0.6"/><circle cx="436.0" cy="49.5" r="0.6"/><circle cx="407.5" cy="38.8" r="0.6"/><circle cx="398.1" cy="63.7" r="0.6"/><circle cx="386.7" cy="79.7" r="0.6"/><circle cx="417.5" cy="45.3" r="0.6"/><circle cx="356.8" cy="113.1" r="0.6"/><circle cx="417.9" cy="42.5" r="0.6"/><circle cx="461.8" cy="97.6" r="0.6"/><circle cx="368.7" cy="102.4" r="0.6"/><circle cx="378.5" cy="91.6" r="0.6"/><circle cx="461.4" cy="93.7" r="0.6"/><circle cx="398.7" cy="69.7" r="0.6"/><circle cx="426.9" cy="44.7" r="0.6"/><circle cx="444.8" cy="68.0" r="0.6"/><circle cx="416.9" cy="45.6" r="0.6"/><circle cx="398.1" cy="64.9" r="0.6"/><circle cx="339.8" cy="113.4" r="0.6"/><circle cx="369.4" cy="108.6" r="0.6"/><circle cx="434.1" cy="54.8" r="0.6"/><circle cx="414.2" cy="39.4" r="0.6"/><circle cx="458.5" cy="87.5" r="0.6"/><circle cx="405.2" cy="50.6" r="0.6"/><circle cx="406.3" cy="53.0" r="0.6"/><circle cx="337.3" cy="113.4" r="0.6"/><circle cx="394.6" cy="76.8" r="0.6"/><circle cx="419.2" cy="47.6" r="0.6"/><circle cx="433.9" cy="51.2" r="0.6"/><circle cx="410.6" cy="43.8" r="0.6"/><circle cx="444.6" cy="64.0" r="0.6"/><circle cx="396.8" cy="69.2" r="0.6"/><circle cx="435.0" cy="52.2" r="0.6"/><circle cx="413.8" cy="42.8" r="0.6"/><circle cx="430.7" cy="52.4" r="0.6"/><circle cx="441.3" cy="62.3" r="0.6"/><circle cx="458.8" cy="85.0" r="0.6"/><circle cx="390.0" cy="85.6" r="0.6"/><circle cx="454.9" cy="82.7" r="0.6"/><circle cx="449.6" cy="72.6" r="0.6"/><circle cx="453.1" cy="85.8" r="0.6"/><circle cx="394.2" cy="76.4" r="0.6"/><circle cx="384.9" cy="82.9" r="0.6"/><circle cx="362.4" cy="108.2" r="0.6"/><circle cx="440.9" cy="60.1" r="0.6"/><circle cx="416.7" cy="42.4" r="0.6"/><circle cx="411.8" cy="44.4" r="0.6"/><circle cx="427.3" cy="49.6" r="0.6"/><circle cx="431.2" cy="46.5" r="0.6"/><circle cx="423.9" cy="43.2" r="0.6"/><circle cx="368.3" cy="103.0" r="0.6"/><circle cx="436.6" cy="60.3" r="0.6"/><circle cx="411.0" cy="49.9" r="0.6"/><circle cx="378.1" cy="88.2" r="0.6"/><circle cx="420.0" cy="41.3" r="0.6"/><circle cx="389.4" cy="65.2" r="0.6"/><circle cx="406.1" cy="38.0" r="0.6"/><circle cx="383.7" cy="81.1" r="0.6"/><circle cx="425.8" cy="48.7" r="0.6"/><circle cx="399.5" cy="47.1" r="0.6"/><circle cx="472.6" cy="112.4" r="0.6"/><circle cx="424.8" cy="39.6" r="0.6"/><circle cx="385.1" cy="78.6" r="0.6"/><circle cx="391.9" cy="70.9" r="0.6"/><circle cx="425.8" cy="56.0" r="0.6"/><circle cx="442.6" cy="62.1" r="0.6"/><circle cx="347.3" cy="113.1" r="0.6"/><circle cx="379.7" cy="94.9" r="0.6"/><circle cx="399.1" cy="61.0" r="0.6"/><circle cx="451.6" cy="79.9" r="0.6"/><circle cx="401.8" cy="56.4" r="0.6"/><circle cx="339.4" cy="115.0" r="0.6"/><circle cx="364.9" cy="106.0" r="0.6"/><circle cx="437.2" cy="57.6" r="0.6"/><circle cx="381.3" cy="89.9" r="0.6"/><circle cx="352.0" cy="116.7" r="0.6"/><circle cx="372.4" cy="104.8" r="0.6"/><circle cx="362.7" cy="103.9" r="0.6"/><circle cx="465.4" cy="103.0" r="0.6"/><circle cx="442.3" cy="66.5" r="0.6"/><circle cx="404.1" cy="50.3" r="0.6"/><circle cx="416.0" cy="39.7" r="0.6"/><circle cx="338.2" cy="113.1" r="0.6"/><circle cx="399.1" cy="58.2" r="0.6"/><circle cx="362.5" cy="106.6" r="0.6"/><circle cx="442.0" cy="59.1" r="0.6"/><circle cx="426.2" cy="47.6" r="0.6"/><circle cx="388.1" cy="75.8" r="0.6"/><circle cx="443.3" cy="61.7" r="0.6"/><circle cx="446.6" cy="69.6" r="0.6"/><circle cx="392.9" cy="69.5" r="0.6"/><circle cx="340.3" cy="112.1" r="0.6"/><circle cx="432.8" cy="46.5" r="0.6"/><circle cx="421.0" cy="39.8" r="0.6"/><circle cx="443.2" cy="65.6" r="0.6"/><circle cx="378.0" cy="88.3" r="0.6"/><circle cx="455.6" cy="78.1" r="0.6"/><circle cx="402.0" cy="51.6" r="0.6"/><circle cx="383.8" cy="94.9" r="0.6"/><circle cx="421.8" cy="42.5" r="0.6"/><circle cx="458.6" cy="88.2" r="0.6"/><circle cx="362.3" cy="113.1" r="0.6"/><circle cx="447.1" cy="74.7" r="0.6"/><circle cx="398.4" cy="57.1" r="0.6"/><circle cx="459.9" cy="86.6" r="0.6"/><circle cx="397.4" cy="65.2" r="0.6"/><circle cx="354.5" cy="110.4" r="0.6"/><circle cx="401.1" cy="55.5" r="0.6"/><circle cx="395.9" cy="64.1" r="0.6"/><circle cx="462.2" cy="94.5" r="0.6"/><circle cx="408.4" cy="50.4" r="0.6"/><circle cx="472.9" cy="113.1" r="0.6"/><circle cx="390.1" cy="79.8" r="0.6"/><circle cx="369.8" cy="106.2" r="0.6"/><circle cx="440.9" cy="64.0" r="0.6"/><circle cx="456.7" cy="87.3" r="0.6"/><circle cx="448.0" cy="67.4" r="0.6"/><circle cx="417.9" cy="43.2" r="0.6"/><circle cx="389.0" cy="72.1" r="0.6"/><circle cx="461.0" cy="89.2" r="0.6"/><circle cx="400.9" cy="61.1" r="0.6"/><circle cx="387.6" cy="69.6" r="0.6"/><circle cx="461.7" cy="97.5" r="0.6"/><circle cx="415.4" cy="35.0" r="0.6"/><circle cx="408.9" cy="39.2" r="0.6"/><circle cx="399.1" cy="68.8" r="0.6"/><circle cx="405.7" cy="49.1" r="0.6"/><circle cx="426.1" cy="43.2" r="0.6"/><circle cx="391.3" cy="73.1" r="0.6"/><circle cx="367.7" cy="106.4" r="0.6"/><circle cx="437.5" cy="60.6" r="0.6"/><circle cx="455.3" cy="85.5" r="0.6"/><circle cx="389.1" cy="86.1" r="0.6"/><circle cx="336.1" cy="111.7" r="0.6"/><circle cx="419.2" cy="42.8" r="0.6"/><circle cx="425.0" cy="47.7" r="0.6"/><circle cx="398.9" cy="57.1" r="0.6"/><circle cx="456.1" cy="87.5" r="0.6"/><circle cx="373.5" cy="98.4" r="0.6"/><circle cx="415.2" cy="35.2" r="0.6"/><circle cx="371.5" cy="102.4" r="0.6"/><circle cx="371.9" cy="97.3" r="0.6"/><circle cx="408.2" cy="47.7" r="0.6"/><circle cx="461.3" cy="92.0" r="0.6"/><circle cx="413.5" cy="45.6" r="0.6"/><circle cx="389.8" cy="76.2" r="0.6"/><circle cx="415.4" cy="40.8" r="0.6"/><circle cx="407.9" cy="43.2" r="0.6"/><circle cx="430.3" cy="46.4" r="0.6"/><circle cx="353.5" cy="109.7" r="0.6"/><circle cx="398.1" cy="52.8" r="0.6"/><circle cx="346.4" cy="113.3" r="0.6"/><circle cx="445.2" cy="70.5" r="0.6"/><circle cx="399.1" cy="53.3" r="0.6"/><circle cx="470.8" cy="110.3" r="0.6"/><circle cx="420.8" cy="46.4" r="0.6"/><circle cx="359.3" cy="113.2" r="0.6"/><circle cx="430.4" cy="52.1" r="0.6"/><circle cx="442.9" cy="64.1" r="0.6"/><circle cx="363.3" cy="104.5" r="0.6"/><circle cx="419.4" cy="43.4" r="0.6"/><circle cx="452.1" cy="79.4" r="0.6"/><circle cx="421.7" cy="46.6" r="0.6"/><circle cx="365.8" cy="103.8" r="0.6"/><circle cx="412.7" cy="35.9" r="0.6"/><circle cx="385.9" cy="87.9" r="0.6"/><circle cx="454.2" cy="82.5" r="0.6"/><circle cx="374.9" cy="91.9" r="0.6"/><circle cx="413.8" cy="48.5" r="0.6"/><circle cx="354.1" cy="115.1" r="0.6"/><circle cx="454.1" cy="91.6" r="0.6"/><circle cx="406.9" cy="48.0" r="0.6"/><circle cx="341.3" cy="113.3" r="0.6"/><circle cx="363.7" cy="110.7" r="0.6"/><circle cx="337.5" cy="108.7" r="0.6"/><circle cx="361.5" cy="107.7" r="0.6"/><circle cx="397.2" cy="62.4" r="0.6"/><circle cx="453.6" cy="89.1" r="0.6"/><circle cx="375.1" cy="91.5" r="0.6"/><circle cx="470.8" cy="106.8" r="0.6"/><circle cx="349.5" cy="113.5" r="0.6"/><circle cx="391.9" cy="72.2" r="0.6"/><circle cx="435.0" cy="51.3" r="0.6"/><circle cx="445.4" cy="67.0" r="0.6"/><circle cx="399.0" cy="67.1" r="0.6"/><circle cx="415.9" cy="45.2" r="0.6"/><circle cx="365.0" cy="108.2" r="0.6"/><circle cx="444.2" cy="70.6" r="0.6"/><circle cx="435.4" cy="57.0" r="0.6"/><circle cx="405.7" cy="49.9" r="0.6"/><circle cx="407.3" cy="50.8" r="0.6"/><circle cx="388.1" cy="73.5" r="0.6"/><circle cx="387.6" cy="74.4" r="0.6"/><circle cx="411.3" cy="45.1" r="0.6"/><circle cx="464.0" cy="97.2" r="0.6"/><circle cx="459.7" cy="92.7" r="0.6"/><circle cx="378.7" cy="101.0" r="0.6"/><circle cx="398.1" cy="66.7" r="0.6"/><circle cx="383.8" cy="97.0" r="0.6"/><circle cx="390.1" cy="80.0" r="0.6"/><circle cx="413.3" cy="44.1" r="0.6"/><circle cx="383.0" cy="83.6" r="0.6"/><circle cx="464.4" cy="98.2" r="0.6"/><circle cx="467.1" cy="102.4" r="0.6"/><circle cx="465.2" cy="96.6" r="0.6"/><circle cx="459.5" cy="88.0" r="0.6"/><circle cx="436.1" cy="52.5" r="0.6"/><circle cx="437.3" cy="59.5" r="0.6"/><circle cx="361.1" cy="113.5" r="0.6"/><circle cx="427.4" cy="43.8" r="0.6"/><circle cx="414.6" cy="40.9" r="0.6"/><circle cx="428.9" cy="45.2" r="0.6"/><circle cx="363.6" cy="107.5" r="0.6"/><circle cx="436.2" cy="59.0" r="0.6"/><circle cx="441.0" cy="66.4" r="0.6"/><circle cx="360.0" cy="111.5" r="0.6"/><circle cx="358.1" cy="112.7" r="0.6"/><circle cx="350.4" cy="114.1" r="0.6"/><circle cx="392.9" cy="72.8" r="0.6"/><circle cx="377.9" cy="93.8" r="0.6"/><circle cx="402.1" cy="53.1" r="0.6"/><circle cx="435.3" cy="56.3" r="0.6"/><circle cx="460.8" cy="93.7" r="0.6"/><circle cx="443.6" cy="69.2" r="0.6"/><circle cx="394.9" cy="61.4" r="0.6"/><circle cx="428.0" cy="45.9" r="0.6"/><circle cx="454.8" cy="80.1" r="0.6"/><circle cx="374.1" cy="99.2" r="0.6"/><circle cx="342.6" cy="117.2" r="0.6"/><circle cx="421.5" cy="42.3" r="0.6"/><circle cx="375.1" cy="94.8" r="0.6"/><circle cx="419.6" cy="37.6" r="0.6"/><circle cx="382.5" cy="89.5" r="0.6"/><circle cx="418.5" cy="52.2" r="0.6"/><circle cx="421.3" cy="41.9" r="0.6"/><circle cx="414.8" cy="48.5" r="0.6"/><circle cx="389.0" cy="67.9" r="0.6"/><circle cx="461.4" cy="96.7" r="0.6"/><circle cx="395.5" cy="70.1" r="0.6"/><circle cx="456.7" cy="87.5" r="0.6"/><circle cx="371.1" cy="105.9" r="0.6"/><circle cx="399.5" cy="54.8" r="0.6"/><circle cx="465.3" cy="97.5" r="0.6"/><circle cx="445.3" cy="68.9" r="0.6"/><circle cx="448.0" cy="68.4" r="0.6"/><circle cx="411.2" cy="44.7" r="0.6"/><circle cx="355.8" cy="114.9" r="0.6"/><circle cx="357.5" cy="109.3" r="0.6"/><circle cx="412.1" cy="39.8" r="0.6"/><circle cx="344.7" cy="115.7" r="0.6"/><circle cx="377.2" cy="102.6" r="0.6"/><circle cx="427.1" cy="46.4" r="0.6"/><circle cx="374.6" cy="92.7" r="0.6"/><circle cx="365.1" cy="103.6" r="0.6"/><circle cx="387.7" cy="82.5" r="0.6"/><circle cx="419.2" cy="41.3" r="0.6"/><circle cx="422.7" cy="45.8" r="0.6"/><circle cx="413.4" cy="51.6" r="0.6"/><circle cx="415.4" cy="40.4" r="0.6"/><circle cx="365.1" cy="104.8" r="0.6"/><circle cx="374.6" cy="100.2" r="0.6"/><circle cx="397.5" cy="60.9" r="0.6"/><circle cx="464.4" cy="91.7" r="0.6"/><circle cx="338.9" cy="114.2" r="0.6"/><circle cx="336.6" cy="112.9" r="0.6"/><circle cx="381.5" cy="85.4" r="0.6"/><circle cx="345.1" cy="114.9" r="0.6"/><circle cx="447.0" cy="72.0" r="0.6"/><circle cx="368.3" cy="104.7" r="0.6"/><circle cx="462.2" cy="90.7" r="0.6"/><circle cx="426.7" cy="51.2" r="0.6"/><circle cx="346.5" cy="112.0" r="0.6"/><circle cx="365.4" cy="104.8" r="0.6"/><circle cx="441.4" cy="56.4" r="0.6"/><circle cx="388.0" cy="67.6" r="0.6"/><circle cx="452.8" cy="79.1" r="0.6"/><circle cx="432.0" cy="48.5" r="0.6"/><circle cx="449.5" cy="74.6" r="0.6"/><circle cx="414.8" cy="45.4" r="0.6"/><circle cx="439.9" cy="66.1" r="0.6"/><circle cx="445.1" cy="78.1" r="0.6"/><circle cx="415.3" cy="43.5" r="0.6"/><circle cx="429.6" cy="49.5" r="0.6"/><circle cx="373.0" cy="96.1" r="0.6"/><circle cx="442.7" cy="67.2" r="0.6"/><circle cx="372.6" cy="103.9" r="0.6"/><circle cx="430.3" cy="43.4" r="0.6"/><circle cx="359.5" cy="111.1" r="0.6"/><circle cx="439.2" cy="59.5" r="0.6"/><circle cx="428.2" cy="46.6" r="0.6"/><circle cx="414.7" cy="32.5" r="0.6"/><circle cx="404.8" cy="46.1" r="0.6"/><circle cx="431.8" cy="51.1" r="0.6"/><circle cx="370.1" cy="102.4" r="0.6"/><circle cx="444.5" cy="63.4" r="0.6"/><circle cx="398.9" cy="63.4" r="0.6"/><circle cx="380.5" cy="95.1" r="0.6"/><circle cx="411.1" cy="39.1" r="0.6"/><circle cx="396.8" cy="56.5" r="0.6"/><circle cx="431.8" cy="50.8" r="0.6"/><circle cx="401.0" cy="47.4" r="0.6"/><circle cx="458.9" cy="90.2" r="0.6"/><circle cx="356.8" cy="108.5" r="0.6"/><circle cx="385.0" cy="89.2" r="0.6"/><circle cx="366.3" cy="105.4" r="0.6"/><circle cx="420.6" cy="45.3" r="0.6"/><circle cx="387.4" cy="85.2" r="0.6"/><circle cx="354.3" cy="112.2" r="0.6"/><circle cx="421.0" cy="37.1" r="0.6"/><circle cx="357.0" cy="108.7" r="0.6"/><circle cx="369.7" cy="103.8" r="0.6"/><circle cx="387.9" cy="81.6" r="0.6"/><circle cx="352.7" cy="110.8" r="0.6"/><circle cx="336.4" cy="115.1" r="0.6"/><circle cx="378.8" cy="84.8" r="0.6"/><circle cx="387.3" cy="71.5" r="0.6"/><circle cx="365.1" cy="96.8" r="0.6"/><circle cx="449.0" cy="72.2" r="0.6"/><circle cx="444.7" cy="64.2" r="0.6"/><circle cx="418.1" cy="39.1" r="0.6"/><circle cx="386.2" cy="83.4" r="0.6"/><circle cx="408.6" cy="44.2" r="0.6"/><circle cx="434.8" cy="54.4" r="0.6"/><circle cx="404.3" cy="55.4" r="0.6"/><circle cx="441.1" cy="53.3" r="0.6"/><circle cx="401.2" cy="62.1" r="0.6"/><circle cx="403.7" cy="56.0" r="0.6"/><circle cx="400.6" cy="63.2" r="0.6"/><circle cx="397.5" cy="69.0" r="0.6"/><circle cx="411.4" cy="39.8" r="0.6"/><circle cx="437.3" cy="56.4" r="0.6"/><circle cx="336.4" cy="112.0" r="0.6"/><circle cx="442.0" cy="70.8" r="0.6"/><circle cx="403.7" cy="52.5" r="0.6"/><circle cx="424.9" cy="48.5" r="0.6"/><circle cx="396.7" cy="63.6" r="0.6"/><circle cx="409.7" cy="45.3" r="0.6"/><circle cx="406.1" cy="46.8" r="0.6"/><circle cx="358.4" cy="112.2" r="0.6"/><circle cx="379.7" cy="87.1" r="0.6"/><circle cx="446.0" cy="79.4" r="0.6"/><circle cx="369.1" cy="100.6" r="0.6"/><circle cx="375.6" cy="102.0" r="0.6"/><circle cx="444.1" cy="68.8" r="0.6"/><circle cx="416.8" cy="48.9" r="0.6"/><circle cx="450.6" cy="71.5" r="0.6"/><circle cx="417.1" cy="43.3" r="0.6"/><circle cx="389.8" cy="69.3" r="0.6"/><circle cx="425.7" cy="39.3" r="0.6"/><circle cx="393.1" cy="65.4" r="0.6"/><circle cx="343.0" cy="110.9" r="0.6"/><circle cx="366.5" cy="110.7" r="0.6"/><circle cx="400.2" cy="54.9" r="0.6"/><circle cx="392.7" cy="71.8" r="0.6"/><circle cx="443.7" cy="62.5" r="0.6"/><circle cx="369.3" cy="107.5" r="0.6"/><circle cx="406.6" cy="55.3" r="0.6"/><circle cx="386.1" cy="80.2" r="0.6"/><circle cx="408.1" cy="51.2" r="0.6"/><circle cx="402.2" cy="51.3" r="0.6"/><circle cx="408.1" cy="53.1" r="0.6"/><circle cx="386.9" cy="82.5" r="0.6"/><circle cx="352.1" cy="116.2" r="0.6"/><circle cx="391.4" cy="83.6" r="0.6"/><circle cx="366.0" cy="103.5" r="0.6"/><circle cx="414.2" cy="47.6" r="0.6"/><circle cx="380.6" cy="89.1" r="0.6"/><circle cx="404.9" cy="58.0" r="0.6"/><circle cx="408.4" cy="52.7" r="0.6"/><circle cx="397.9" cy="58.5" r="0.6"/><circle cx="400.2" cy="54.5" r="0.6"/><circle cx="357.0" cy="117.0" r="0.6"/><circle cx="373.6" cy="92.2" r="0.6"/><circle cx="348.1" cy="112.6" r="0.6"/><circle cx="393.8" cy="73.3" r="0.6"/><circle cx="406.7" cy="55.0" r="0.6"/><circle cx="412.8" cy="40.6" r="0.6"/><circle cx="429.2" cy="50.5" r="0.6"/><circle cx="365.9" cy="107.7" r="0.6"/><circle cx="365.5" cy="103.7" r="0.6"/><circle cx="436.0" cy="58.5" r="0.6"/><circle cx="448.2" cy="77.6" r="0.6"/><circle cx="392.8" cy="60.1" r="0.6"/><circle cx="466.8" cy="102.6" r="0.6"/><circle cx="458.4" cy="86.9" r="0.6"/><circle cx="451.7" cy="85.6" r="0.6"/><circle cx="389.5" cy="70.7" r="0.6"/><circle cx="423.3" cy="41.7" r="0.6"/><circle cx="395.0" cy="79.4" r="0.6"/><circle cx="411.5" cy="47.9" r="0.6"/><circle cx="395.2" cy="64.6" r="0.6"/><circle cx="396.0" cy="62.9" r="0.6"/><circle cx="359.1" cy="105.7" r="0.6"/><circle cx="403.7" cy="55.0" r="0.6"/><circle cx="386.2" cy="75.6" r="0.6"/><circle cx="374.6" cy="97.3" r="0.6"/><circle cx="375.7" cy="99.5" r="0.6"/><circle cx="427.5" cy="49.9" r="0.6"/><circle cx="370.5" cy="95.9" r="0.6"/><circle cx="418.6" cy="38.2" r="0.6"/><circle cx="401.4" cy="59.1" r="0.6"/><circle cx="350.2" cy="111.4" r="0.6"/><circle cx="391.4" cy="76.4" r="0.6"/><circle cx="350.4" cy="114.1" r="0.6"/><circle cx="407.8" cy="45.9" r="0.6"/><circle cx="404.8" cy="62.1" r="0.6"/><circle cx="371.3" cy="101.1" r="0.6"/><circle cx="413.4" cy="53.3" r="0.6"/><circle cx="446.1" cy="69.9" r="0.6"/><circle cx="448.8" cy="75.5" r="0.6"/><circle cx="472.0" cy="113.0" r="0.6"/><circle cx="377.5" cy="104.6" r="0.6"/><circle cx="416.6" cy="33.1" r="0.6"/><circle cx="365.8" cy="108.5" r="0.6"/><circle cx="401.1" cy="52.3" r="0.6"/><circle cx="457.9" cy="84.1" r="0.6"/><circle cx="349.0" cy="113.7" r="0.6"/><circle cx="386.5" cy="81.0" r="0.6"/><circle cx="417.0" cy="36.3" r="0.6"/><circle cx="418.1" cy="42.6" r="0.6"/><circle cx="397.0" cy="70.3" r="0.6"/><circle cx="436.1" cy="56.6" r="0.6"/><circle cx="421.4" cy="43.8" r="0.6"/><circle cx="436.4" cy="57.2" r="0.6"/><circle cx="396.4" cy="61.5" r="0.6"/><circle cx="363.6" cy="106.9" r="0.6"/><circle cx="398.3" cy="52.5" r="0.6"/><circle cx="453.7" cy="78.6" r="0.6"/><circle cx="433.6" cy="56.9" r="0.6"/><circle cx="340.5" cy="115.1" r="0.6"/><circle cx="374.2" cy="93.3" r="0.6"/><circle cx="391.1" cy="73.5" r="0.6"/><circle cx="457.8" cy="85.8" r="0.6"/><circle cx="426.8" cy="46.0" r="0.6"/><circle cx="358.1" cy="112.3" r="0.6"/><circle cx="425.1" cy="47.4" r="0.6"/><circle cx="461.5" cy="95.9" r="0.6"/><circle cx="389.4" cy="75.9" r="0.6"/><circle cx="439.4" cy="63.3" r="0.6"/><circle cx="475.0" cy="112.9" r="0.6"/><circle cx="370.9" cy="106.7" r="0.6"/><circle cx="381.6" cy="86.3" r="0.6"/><circle cx="446.3" cy="70.7" r="0.6"/><circle cx="418.5" cy="42.4" r="0.6"/><circle cx="441.3" cy="62.4" r="0.6"/><circle cx="377.0" cy="97.8" r="0.6"/><circle cx="392.0" cy="68.0" r="0.6"/><circle cx="439.1" cy="53.4" r="0.6"/><circle cx="387.0" cy="81.6" r="0.6"/><circle cx="408.3" cy="45.4" r="0.6"/><circle cx="369.1" cy="96.3" r="0.6"/><circle cx="388.6" cy="85.5" r="0.6"/><circle cx="419.6" cy="34.1" r="0.6"/><circle cx="419.0" cy="36.9" r="0.6"/><circle cx="455.5" cy="83.4" r="0.6"/><circle cx="380.0" cy="96.0" r="0.6"/><circle cx="382.4" cy="81.8" r="0.6"/><circle cx="434.4" cy="47.5" r="0.6"/><circle cx="426.9" cy="50.9" r="0.6"/><circle cx="459.9" cy="92.0" r="0.6"/><circle cx="453.1" cy="78.8" r="0.6"/><circle cx="363.5" cy="107.9" r="0.6"/><circle cx="358.9" cy="113.3" r="0.6"/><circle cx="445.8" cy="80.1" r="0.6"/><circle cx="361.8" cy="109.5" r="0.6"/><circle cx="468.1" cy="106.3" r="0.6"/><circle cx="362.2" cy="104.6" r="0.6"/><circle cx="405.7" cy="48.3" r="0.6"/><circle cx="408.9" cy="56.8" r="0.6"/><circle cx="411.7" cy="41.2" r="0.6"/><circle cx="451.1" cy="83.0" r="0.6"/><circle cx="396.9" cy="66.2" r="0.6"/><circle cx="368.6" cy="106.7" r="0.6"/><circle cx="441.6" cy="67.9" r="0.6"/><circle cx="376.4" cy="99.4" r="0.6"/><circle cx="456.8" cy="83.5" r="0.6"/><circle cx="383.3" cy="95.1" r="0.6"/><circle cx="437.8" cy="62.6" r="0.6"/><circle cx="467.8" cy="106.7" r="0.6"/><circle cx="360.9" cy="111.3" r="0.6"/><circle cx="390.5" cy="70.5" r="0.6"/><circle cx="365.7" cy="109.3" r="0.6"/><circle cx="383.7" cy="90.8" r="0.6"/><circle cx="446.5" cy="70.4" r="0.6"/><circle cx="387.5" cy="77.9" r="0.6"/><circle cx="454.5" cy="86.9" r="0.6"/><circle cx="366.6" cy="106.5" r="0.6"/><circle cx="396.2" cy="64.3" r="0.6"/><circle cx="377.4" cy="93.0" r="0.6"/><circle cx="383.8" cy="91.6" r="0.6"/><circle cx="368.9" cy="102.0" r="0.6"/><circle cx="379.8" cy="95.8" r="0.6"/><circle cx="347.4" cy="112.9" r="0.6"/><circle cx="388.4" cy="85.4" r="0.6"/><circle cx="460.3" cy="89.6" r="0.6"/><circle cx="372.0" cy="104.1" r="0.6"/><circle cx="435.4" cy="52.6" r="0.6"/><circle cx="417.1" cy="44.5" r="0.6"/><circle cx="422.4" cy="43.1" r="0.6"/><circle cx="473.0" cy="114.1" r="0.6"/><circle cx="428.8" cy="49.7" r="0.6"/><circle cx="443.9" cy="69.1" r="0.6"/><circle cx="372.1" cy="94.9" r="0.6"/><circle cx="375.8" cy="101.4" r="0.6"/><circle cx="447.9" cy="69.1" r="0.6"/><circle cx="404.4" cy="50.8" r="0.6"/><circle cx="382.6" cy="75.8" r="0.6"/><circle cx="423.3" cy="51.8" r="0.6"/><circle cx="402.1" cy="53.6" r="0.6"/><circle cx="461.5" cy="91.4" r="0.6"/><circle cx="423.2" cy="49.9" r="0.6"/><circle cx="438.8" cy="59.3" r="0.6"/><circle cx="341.4" cy="111.7" r="0.6"/><circle cx="358.0" cy="112.3" r="0.6"/><circle cx="399.4" cy="63.8" r="0.6"/><circle cx="437.4" cy="52.1" r="0.6"/><circle cx="437.2" cy="63.0" r="0.6"/><circle cx="337.9" cy="113.2" r="0.6"/><circle cx="388.4" cy="74.9" r="0.6"/><circle cx="393.6" cy="72.5" r="0.6"/><circle cx="416.3" cy="33.2" r="0.6"/><circle cx="455.0" cy="83.1" r="0.6"/><circle cx="355.2" cy="112.0" r="0.6"/><circle cx="411.1" cy="40.0" r="0.6"/><circle cx="401.1" cy="60.4" r="0.6"/><circle cx="363.1" cy="111.3" r="0.6"/><circle cx="377.5" cy="99.3" r="0.6"/><circle cx="370.3" cy="104.6" r="0.6"/><circle cx="408.7" cy="54.3" r="0.6"/><circle cx="386.2" cy="89.8" r="0.6"/><circle cx="395.9" cy="73.1" r="0.6"/><circle cx="364.4" cy="111.1" r="0.6"/><circle cx="420.6" cy="45.3" r="0.6"/><circle cx="384.2" cy="79.9" r="0.6"/><circle cx="475.2" cy="115.8" r="0.6"/><circle cx="448.4" cy="78.4" r="0.6"/><circle cx="408.0" cy="49.3" r="0.6"/><circle cx="443.3" cy="68.9" r="0.6"/><circle cx="370.5" cy="96.0" r="0.6"/><circle cx="399.8" cy="64.4" r="0.6"/><circle cx="410.6" cy="39.4" r="0.6"/><circle cx="441.4" cy="62.5" r="0.6"/><circle cx="415.4" cy="37.7" r="0.6"/><circle cx="470.1" cy="107.5" r="0.6"/><circle cx="426.1" cy="53.2" r="0.6"/><circle cx="355.6" cy="113.4" r="0.6"/><circle cx="413.9" cy="32.2" r="0.6"/><circle cx="400.7" cy="63.6" r="0.6"/><circle cx="373.6" cy="100.9" r="0.6"/><circle cx="365.8" cy="107.4" r="0.6"/><circle cx="395.4" cy="72.7" r="0.6"/><circle cx="366.0" cy="106.4" r="0.6"/><circle cx="405.3" cy="50.7" r="0.6"/><circle cx="390.4" cy="73.9" r="0.6"/><circle cx="426.1" cy="42.7" r="0.6"/><circle cx="360.3" cy="107.7" r="0.6"/><circle cx="419.2" cy="35.9" r="0.6"/><circle cx="388.0" cy="84.1" r="0.6"/><circle cx="434.0" cy="54.8" r="0.6"/><circle cx="389.2" cy="65.8" r="0.6"/><circle cx="366.3" cy="107.7" r="0.6"/><circle cx="385.0" cy="87.8" r="0.6"/><circle cx="404.2" cy="53.4" r="0.6"/><circle cx="344.0" cy="111.2" r="0.6"/><circle cx="397.1" cy="53.0" r="0.6"/><circle cx="396.5" cy="62.6" r="0.6"/><circle cx="447.0" cy="76.4" r="0.6"/><circle cx="397.2" cy="70.2" r="0.6"/><circle cx="402.4" cy="54.0" r="0.6"/><circle cx="393.8" cy="70.8" r="0.6"/><circle cx="385.9" cy="86.4" r="0.6"/><circle cx="454.9" cy="78.6" r="0.6"/><circle cx="472.5" cy="113.2" r="0.6"/><circle cx="449.1" cy="72.1" r="0.6"/><circle cx="452.2" cy="80.2" r="0.6"/><circle cx="430.5" cy="45.1" r="0.6"/><circle cx="389.2" cy="71.3" r="0.6"/><circle cx="395.8" cy="74.1" r="0.6"/><circle cx="411.0" cy="42.9" r="0.6"/><circle cx="381.3" cy="87.0" r="0.6"/><circle cx="405.6" cy="43.7" r="0.6"/><circle cx="368.3" cy="99.7" r="0.6"/><circle cx="438.8" cy="62.2" r="0.6"/><circle cx="383.3" cy="89.1" r="0.6"/><circle cx="456.6" cy="84.8" r="0.6"/><circle cx="410.3" cy="42.7" r="0.6"/><circle cx="391.2" cy="73.0" r="0.6"/><circle cx="369.0" cy="104.1" r="0.6"/><circle cx="364.8" cy="111.4" r="0.6"/><circle cx="416.0" cy="36.7" r="0.6"/><circle cx="451.2" cy="79.6" r="0.6"/><circle cx="386.4" cy="82.1" r="0.6"/><circle cx="450.9" cy="79.3" r="0.6"/><circle cx="383.5" cy="88.9" r="0.6"/><circle cx="347.3" cy="111.4" r="0.6"/><circle cx="387.8" cy="82.7" r="0.6"/><circle cx="408.4" cy="53.8" r="0.6"/><circle cx="354.1" cy="107.4" r="0.6"/><circle cx="362.7" cy="106.6" r="0.6"/><circle cx="410.8" cy="50.4" r="0.6"/><circle cx="394.1" cy="68.3" r="0.6"/><circle cx="407.8" cy="45.2" r="0.6"/><circle cx="439.3" cy="61.5" r="0.6"/><circle cx="407.0" cy="44.0" r="0.6"/><circle cx="401.4" cy="67.6" r="0.6"/><circle cx="386.9" cy="73.7" r="0.6"/><circle cx="404.6" cy="45.7" r="0.6"/><circle cx="400.8" cy="56.4" r="0.6"/><circle cx="378.1" cy="104.4" r="0.6"/><circle cx="421.2" cy="36.3" r="0.6"/><circle cx="376.0" cy="93.8" r="0.6"/><circle cx="429.5" cy="47.3" r="0.6"/><circle cx="360.8" cy="111.6" r="0.6"/><circle cx="395.3" cy="74.1" r="0.6"/><circle cx="457.8" cy="86.7" r="0.6"/><circle cx="400.9" cy="57.7" r="0.6"/><circle cx="380.5" cy="86.8" r="0.6"/><circle cx="336.1" cy="113.6" r="0.6"/><circle cx="367.0" cy="104.2" r="0.6"/><circle cx="338.7" cy="114.0" r="0.6"/><circle cx="434.5" cy="54.1" r="0.6"/><circle cx="424.3" cy="45.2" r="0.6"/><circle cx="457.2" cy="79.7" r="0.6"/><circle cx="404.2" cy="53.7" r="0.6"/><circle cx="384.5" cy="85.5" r="0.6"/><circle cx="344.2" cy="112.9" r="0.6"/><circle cx="458.1" cy="88.8" r="0.6"/><circle cx="367.6" cy="106.5" r="0.6"/><circle cx="417.8" cy="38.7" r="0.6"/><circle cx="449.0" cy="74.3" r="0.6"/><circle cx="457.7" cy="85.5" r="0.6"/><circle cx="339.6" cy="113.3" r="0.6"/><circle cx="417.0" cy="45.2" r="0.6"/><circle cx="372.7" cy="104.1" r="0.6"/><circle cx="436.4" cy="54.8" r="0.6"/><circle cx="438.3" cy="62.8" r="0.6"/><circle cx="408.7" cy="41.4" r="0.6"/><circle cx="414.3" cy="49.5" r="0.6"/><circle cx="401.7" cy="57.4" r="0.6"/><circle cx="342.8" cy="114.2" r="0.6"/><circle cx="448.8" cy="75.1" r="0.6"/><circle cx="428.3" cy="55.5" r="0.6"/><circle cx="383.7" cy="78.4" r="0.6"/><circle cx="384.7" cy="77.1" r="0.6"/><circle cx="422.7" cy="48.4" r="0.6"/><circle cx="427.5" cy="48.3" r="0.6"/><circle cx="351.1" cy="114.3" r="0.6"/><circle cx="440.8" cy="57.0" r="0.6"/><circle cx="432.5" cy="49.9" r="0.6"/><circle cx="387.2" cy="76.3" r="0.6"/><circle cx="400.8" cy="56.5" r="0.6"/><circle cx="443.3" cy="72.9" r="0.6"/><circle cx="423.7" cy="42.9" r="0.6"/><circle cx="360.1" cy="109.3" r="0.6"/><circle cx="346.3" cy="115.3" r="0.6"/><circle cx="337.2" cy="115.0" r="0.6"/><circle cx="376.7" cy="94.9" r="0.6"/><circle cx="433.2" cy="60.3" r="0.6"/><circle cx="467.3" cy="99.9" r="0.6"/><circle cx="429.1" cy="52.0" r="0.6"/><circle cx="388.4" cy="75.0" r="0.6"/><circle cx="433.2" cy="48.2" r="0.6"/><circle cx="450.0" cy="76.5" r="0.6"/><circle cx="398.0" cy="70.0" r="0.6"/><circle cx="414.1" cy="49.2" r="0.6"/><circle cx="432.0" cy="55.6" r="0.6"/><circle cx="386.3" cy="75.4" r="0.6"/><circle cx="365.0" cy="106.0" r="0.6"/><circle cx="366.7" cy="107.0" r="0.6"/><circle cx="379.5" cy="96.0" r="0.6"/><circle cx="389.0" cy="82.8" r="0.6"/><circle cx="368.6" cy="102.9" r="0.6"/><circle cx="371.7" cy="105.0" r="0.6"/><circle cx="422.9" cy="46.6" r="0.6"/><circle cx="364.5" cy="108.2" r="0.6"/><circle cx="383.3" cy="86.9" r="0.6"/><circle cx="460.7" cy="89.0" r="0.6"/><circle cx="383.5" cy="87.8" r="0.6"/><circle cx="432.1" cy="51.1" r="0.6"/><circle cx="413.9" cy="48.0" r="0.6"/><circle cx="411.2" cy="43.9" r="0.6"/><circle cx="379.6" cy="97.6" r="0.6"/><circle cx="428.5" cy="44.1" r="0.6"/><circle cx="399.3" cy="46.1" r="0.6"/><circle cx="458.5" cy="82.6" r="0.6"/><circle cx="414.5" cy="44.6" r="0.6"/><circle cx="341.1" cy="110.1" r="0.6"/><circle cx="385.5" cy="82.1" r="0.6"/><circle cx="441.4" cy="65.9" r="0.6"/><circle cx="371.2" cy="99.2" r="0.6"/><circle cx="336.8" cy="114.3" r="0.6"/><circle cx="408.8" cy="46.9" r="0.6"/><circle cx="395.4" cy="70.7" r="0.6"/><circle cx="439.2" cy="61.5" r="0.6"/><circle cx="370.5" cy="98.6" r="0.6"/><circle cx="440.2" cy="63.8" r="0.6"/><circle cx="368.8" cy="102.4" r="0.6"/><circle cx="361.0" cy="109.6" r="0.6"/><circle cx="420.8" cy="43.5" r="0.6"/><circle cx="394.1" cy="73.4" r="0.6"/><circle cx="461.2" cy="90.3" r="0.6"/><circle cx="383.3" cy="89.8" r="0.6"/><circle cx="380.4" cy="91.5" r="0.6"/><circle cx="408.4" cy="53.1" r="0.6"/><circle cx="416.0" cy="40.3" r="0.6"/><circle cx="385.9" cy="73.0" r="0.6"/><circle cx="421.3" cy="41.6" r="0.6"/><circle cx="454.0" cy="85.7" r="0.6"/><circle cx="428.7" cy="42.9" r="0.6"/><circle cx="384.9" cy="78.2" r="0.6"/><circle cx="372.7" cy="108.2" r="0.6"/><circle cx="409.4" cy="42.8" r="0.6"/><circle cx="466.3" cy="101.4" r="0.6"/><circle cx="436.3" cy="60.4" r="0.6"/><circle cx="458.8" cy="92.4" r="0.6"/><circle cx="444.6" cy="72.9" r="0.6"/><circle cx="376.8" cy="100.5" r="0.6"/><circle cx="400.6" cy="59.4" r="0.6"/><circle cx="461.5" cy="92.6" r="0.6"/><circle cx="402.9" cy="50.8" r="0.6"/><circle cx="399.0" cy="50.9" r="0.6"/><circle cx="382.7" cy="92.4" r="0.6"/><circle cx="435.4" cy="55.2" r="0.6"/><circle cx="406.6" cy="56.5" r="0.6"/><circle cx="410.6" cy="43.7" r="0.6"/><circle cx="393.1" cy="74.7" r="0.6"/><circle cx="416.9" cy="50.8" r="0.6"/><circle cx="421.3" cy="42.8" r="0.6"/><circle cx="424.7" cy="47.9" r="0.6"/><circle cx="382.3" cy="91.8" r="0.6"/><circle cx="459.9" cy="90.5" r="0.6"/><circle cx="411.5" cy="36.2" r="0.6"/><circle cx="444.2" cy="66.4" r="0.6"/><circle cx="407.9" cy="44.0" r="0.6"/><circle cx="421.7" cy="44.1" r="0.6"/><circle cx="388.6" cy="75.4" r="0.6"/><circle cx="428.8" cy="51.4" r="0.6"/><circle cx="455.8" cy="84.7" r="0.6"/><circle cx="356.0" cy="113.1" r="0.6"/><circle cx="453.3" cy="80.8" r="0.6"/><circle cx="399.9" cy="55.8" r="0.6"/><circle cx="437.2" cy="59.6" r="0.6"/><circle cx="377.8" cy="92.5" r="0.6"/><circle cx="354.2" cy="113.0" r="0.6"/><circle cx="372.8" cy="102.5" r="0.6"/><circle cx="383.8" cy="80.8" r="0.6"/><circle cx="459.8" cy="94.8" r="0.6"/><circle cx="453.7" cy="88.0" r="0.6"/><circle cx="363.9" cy="110.7" r="0.6"/><circle cx="441.2" cy="59.1" r="0.6"/><circle cx="454.8" cy="83.2" r="0.6"/><circle cx="414.8" cy="33.0" r="0.6"/><circle cx="369.3" cy="97.3" r="0.6"/><circle cx="387.7" cy="78.2" r="0.6"/><circle cx="410.3" cy="47.6" r="0.6"/><circle cx="370.4" cy="108.0" r="0.6"/><circle cx="449.2" cy="80.4" r="0.6"/><circle cx="464.5" cy="94.9" r="0.6"/><circle cx="366.0" cy="101.6" r="0.6"/><circle cx="413.5" cy="43.0" r="0.6"/><circle cx="396.0" cy="61.1" r="0.6"/><circle cx="448.1" cy="75.9" r="0.6"/><circle cx="360.1" cy="105.6" r="0.6"/><circle cx="386.2" cy="79.6" r="0.6"/><circle cx="400.4" cy="62.1" r="0.6"/><circle cx="363.4" cy="112.3" r="0.6"/><circle cx="383.7" cy="75.9" r="0.6"/><circle cx="401.7" cy="62.8" r="0.6"/><circle cx="392.3" cy="72.6" r="0.6"/><circle cx="402.4" cy="61.9" r="0.6"/><circle cx="394.9" cy="71.1" r="0.6"/><circle cx="453.3" cy="88.5" r="0.6"/><circle cx="351.7" cy="115.3" r="0.6"/><circle cx="392.3" cy="73.4" r="0.6"/><circle cx="359.6" cy="111.1" r="0.6"/><circle cx="400.0" cy="60.6" r="0.6"/><circle cx="385.0" cy="77.4" r="0.6"/><circle cx="433.5" cy="52.4" r="0.6"/><circle cx="367.5" cy="102.8" r="0.6"/><circle cx="454.6" cy="85.7" r="0.6"/><circle cx="384.8" cy="86.5" r="0.6"/><circle cx="397.6" cy="65.0" r="0.6"/><circle cx="356.0" cy="112.0" r="0.6"/><circle cx="356.5" cy="109.8" r="0.6"/><circle cx="435.5" cy="54.2" r="0.6"/><circle cx="416.3" cy="41.7" r="0.6"/><circle cx="379.4" cy="92.4" r="0.6"/><circle cx="391.3" cy="78.8" r="0.6"/><circle cx="400.9" cy="59.1" r="0.6"/><circle cx="473.8" cy="113.8" r="0.6"/><circle cx="403.2" cy="62.0" r="0.6"/><circle cx="458.6" cy="90.8" r="0.6"/><circle cx="389.0" cy="67.4" r="0.6"/><circle cx="454.7" cy="86.0" r="0.6"/><circle cx="448.4" cy="72.6" r="0.6"/><circle cx="410.3" cy="44.5" r="0.6"/><circle cx="387.2" cy="76.2" r="0.6"/><circle cx="399.8" cy="60.4" r="0.6"/><circle cx="337.0" cy="113.3" r="0.6"/><circle cx="439.9" cy="61.8" r="0.6"/><circle cx="336.6" cy="113.6" r="0.6"/><circle cx="395.2" cy="69.1" r="0.6"/><circle cx="370.3" cy="106.0" r="0.6"/><circle cx="400.0" cy="65.1" r="0.6"/><circle cx="342.1" cy="113.2" r="0.6"/><circle cx="410.4" cy="48.5" r="0.6"/><circle cx="361.2" cy="108.9" r="0.6"/><circle cx="415.7" cy="41.4" r="0.6"/><circle cx="365.8" cy="109.4" r="0.6"/><circle cx="446.5" cy="73.2" r="0.6"/><circle cx="447.3" cy="70.6" r="0.6"/><circle cx="458.0" cy="87.0" r="0.6"/><circle cx="437.4" cy="62.2" r="0.6"/><circle cx="408.2" cy="49.4" r="0.6"/><circle cx="388.3" cy="76.7" r="0.6"/><circle cx="396.8" cy="67.3" r="0.6"/><circle cx="338.6" cy="116.6" r="0.6"/><circle cx="414.5" cy="33.7" r="0.6"/><circle cx="393.8" cy="67.7" r="0.6"/><circle cx="369.5" cy="103.4" r="0.6"/><circle cx="405.3" cy="56.6" r="0.6"/><circle cx="442.3" cy="63.7" r="0.6"/><circle cx="465.9" cy="103.6" r="0.6"/><circle cx="348.6" cy="113.7" r="0.6"/><circle cx="365.9" cy="109.1" r="0.6"/><circle cx="374.5" cy="99.1" r="0.6"/><circle cx="402.9" cy="54.7" r="0.6"/><circle cx="384.0" cy="78.7" r="0.6"/><circle cx="445.7" cy="73.2" r="0.6"/><circle cx="415.4" cy="45.8" r="0.6"/><circle cx="427.1" cy="50.5" r="0.6"/><circle cx="415.3" cy="38.3" r="0.6"/><circle cx="470.0" cy="107.7" r="0.6"/><circle cx="404.7" cy="58.2" r="0.6"/><circle cx="377.9" cy="90.3" r="0.6"/><circle cx="447.8" cy="73.9" r="0.6"/><circle cx="342.1" cy="113.3" r="0.6"/><circle cx="385.2" cy="85.0" r="0.6"/><circle cx="455.3" cy="82.6" r="0.6"/><circle cx="373.1" cy="100.3" r="0.6"/><circle cx="387.5" cy="93.8" r="0.6"/><circle cx="420.3" cy="47.1" r="0.6"/><circle cx="408.2" cy="38.0" r="0.6"/><circle cx="469.3" cy="105.7" r="0.6"/><circle cx="357.2" cy="111.1" r="0.6"/><circle cx="417.8" cy="33.6" r="0.6"/><circle cx="462.3" cy="91.2" r="0.6"/><circle cx="376.1" cy="87.6" r="0.6"/><circle cx="448.4" cy="76.9" r="0.6"/><circle cx="397.8" cy="64.8" r="0.6"/><circle cx="379.5" cy="85.5" r="0.6"/><circle cx="462.0" cy="90.4" r="0.6"/><circle cx="431.5" cy="54.5" r="0.6"/><circle cx="442.3" cy="62.9" r="0.6"/><circle cx="394.2" cy="63.3" r="0.6"/><circle cx="399.5" cy="61.0" r="0.6"/><circle cx="422.3" cy="44.6" r="0.6"/><circle cx="412.8" cy="47.5" r="0.6"/><circle cx="404.7" cy="47.4" r="0.6"/><circle cx="385.1" cy="88.1" r="0.6"/><circle cx="363.4" cy="108.5" r="0.6"/><circle cx="387.9" cy="80.8" r="0.6"/><circle cx="447.8" cy="67.4" r="0.6"/><circle cx="380.8" cy="95.9" r="0.6"/><circle cx="378.4" cy="84.2" r="0.6"/><circle cx="405.1" cy="53.3" r="0.6"/><circle cx="421.2" cy="40.7" r="0.6"/><circle cx="394.5" cy="77.1" r="0.6"/><circle cx="402.8" cy="50.0" r="0.6"/><circle cx="382.3" cy="78.0" r="0.6"/><circle cx="379.9" cy="91.2" r="0.6"/><circle cx="393.0" cy="68.0" r="0.6"/><circle cx="453.0" cy="76.1" r="0.6"/><circle cx="379.6" cy="84.9" r="0.6"/><circle cx="340.4" cy="114.9" r="0.6"/><circle cx="386.7" cy="79.0" r="0.6"/><circle cx="372.3" cy="97.3" r="0.6"/><circle cx="434.7" cy="47.9" r="0.6"/><circle cx="430.0" cy="47.8" r="0.6"/><circle cx="393.6" cy="63.4" r="0.6"/><circle cx="409.2" cy="40.1" r="0.6"/><circle cx="408.7" cy="47.8" r="0.6"/><circle cx="390.9" cy="76.0" r="0.6"/><circle cx="428.0" cy="48.0" r="0.6"/><circle cx="424.7" cy="49.3" r="0.6"/><circle cx="451.1" cy="79.9" r="0.6"/><circle cx="408.5" cy="47.5" r="0.6"/><circle cx="426.1" cy="55.2" r="0.6"/><circle cx="400.8" cy="59.2" r="0.6"/><circle cx="416.2" cy="43.1" r="0.6"/><circle cx="402.4" cy="58.4" r="0.6"/><circle cx="378.7" cy="93.6" r="0.6"/><circle cx="390.7" cy="72.2" r="0.6"/><circle cx="409.8" cy="43.3" r="0.6"/><circle cx="374.8" cy="92.8" r="0.6"/><circle cx="446.0" cy="73.2" r="0.6"/><circle cx="338.1" cy="114.9" r="0.6"/><circle cx="418.2" cy="44.5" r="0.6"/><circle cx="372.8" cy="98.1" r="0.6"/><circle cx="442.2" cy="68.6" r="0.6"/><circle cx="343.9" cy="113.8" r="0.6"/><circle cx="463.7" cy="93.4" r="0.6"/><circle cx="452.9" cy="81.2" r="0.6"/><circle cx="355.6" cy="111.5" r="0.6"/><circle cx="364.0" cy="109.4" r="0.6"/><circle cx="386.9" cy="82.0" r="0.6"/><circle cx="374.4" cy="101.5" r="0.6"/><circle cx="374.5" cy="92.9" r="0.6"/><circle cx="410.1" cy="48.8" r="0.6"/><circle cx="362.5" cy="108.3" r="0.6"/><circle cx="379.3" cy="91.5" r="0.6"/><circle cx="435.9" cy="57.5" r="0.6"/><circle cx="394.6" cy="60.2" r="0.6"/><circle cx="376.9" cy="96.6" r="0.6"/><circle cx="398.8" cy="59.4" r="0.6"/><circle cx="418.8" cy="36.9" r="0.6"/><circle cx="397.8" cy="70.1" r="0.6"/><circle cx="371.1" cy="107.8" r="0.6"/><circle cx="375.9" cy="98.3" r="0.6"/><circle cx="444.5" cy="73.5" r="0.6"/><circle cx="415.3" cy="50.8" r="0.6"/><circle cx="392.8" cy="75.6" r="0.6"/><circle cx="397.5" cy="54.5" r="0.6"/><circle cx="449.2" cy="77.1" r="0.6"/><circle cx="384.6" cy="90.1" r="0.6"/><circle cx="460.8" cy="96.5" r="0.6"/><circle cx="417.3" cy="49.4" r="0.6"/><circle cx="445.7" cy="65.3" r="0.6"/><circle cx="348.2" cy="116.4" r="0.6"/><circle cx="404.3" cy="69.9" r="0.6"/><circle cx="446.0" cy="73.8" r="0.6"/><circle cx="387.6" cy="72.8" r="0.6"/><circle cx="360.5" cy="107.6" r="0.6"/><circle cx="408.7" cy="38.3" r="0.6"/><circle cx="396.6" cy="72.6" r="0.6"/><circle cx="391.4" cy="70.5" r="0.6"/><circle cx="442.4" cy="68.3" r="0.6"/><circle cx="380.9" cy="80.3" r="0.6"/><circle cx="391.7" cy="61.0" r="0.6"/><circle cx="359.4" cy="107.9" r="0.6"/><circle cx="377.7" cy="93.7" r="0.6"/><circle cx="473.9" cy="114.8" r="0.6"/><circle cx="361.7" cy="110.1" r="0.6"/><circle cx="369.3" cy="102.1" r="0.6"/><circle cx="373.9" cy="96.1" r="0.6"/><circle cx="348.8" cy="111.1" r="0.6"/><circle cx="392.2" cy="74.9" r="0.6"/><circle cx="393.1" cy="68.4" r="0.6"/><circle cx="395.3" cy="65.4" r="0.6"/><circle cx="360.5" cy="111.3" r="0.6"/><circle cx="376.2" cy="87.1" r="0.6"/><circle cx="441.5" cy="61.8" r="0.6"/><circle cx="405.1" cy="56.6" r="0.6"/><circle cx="342.2" cy="113.6" r="0.6"/><circle cx="449.4" cy="75.7" r="0.6"/><circle cx="336.9" cy="112.4" r="0.6"/><circle cx="350.5" cy="116.0" r="0.6"/><circle cx="371.7" cy="98.6" r="0.6"/><circle cx="440.9" cy="64.8" r="0.6"/><circle cx="423.3" cy="44.9" r="0.6"/><circle cx="358.6" cy="112.2" r="0.6"/><circle cx="404.1" cy="49.5" r="0.6"/><circle cx="396.9" cy="65.9" r="0.6"/><circle cx="416.8" cy="38.0" r="0.6"/><circle cx="453.8" cy="84.2" r="0.6"/><circle cx="387.2" cy="87.4" r="0.6"/><circle cx="360.4" cy="111.8" r="0.6"/><circle cx="394.5" cy="71.2" r="0.6"/><circle cx="457.4" cy="91.0" r="0.6"/><circle cx="369.9" cy="104.3" r="0.6"/><circle cx="374.5" cy="97.0" r="0.6"/><circle cx="399.8" cy="70.1" r="0.6"/><circle cx="456.7" cy="86.5" r="0.6"/><circle cx="428.9" cy="46.5" r="0.6"/><circle cx="430.7" cy="53.4" r="0.6"/><circle cx="447.3" cy="76.3" r="0.6"/><circle cx="363.1" cy="108.7" r="0.6"/><circle cx="407.7" cy="44.7" r="0.6"/><circle cx="358.3" cy="105.6" r="0.6"/><circle cx="364.0" cy="104.7" r="0.6"/><circle cx="414.1" cy="45.4" r="0.6"/><circle cx="416.5" cy="37.4" r="0.6"/><circle cx="406.3" cy="49.7" r="0.6"/><circle cx="389.7" cy="58.7" r="0.6"/><circle cx="398.5" cy="52.4" r="0.6"/><circle cx="414.3" cy="36.5" r="0.6"/><circle cx="455.5" cy="88.4" r="0.6"/><circle cx="368.8" cy="97.8" r="0.6"/><circle cx="389.8" cy="75.3" r="0.6"/><circle cx="437.4" cy="54.0" r="0.6"/><circle cx="449.6" cy="79.7" r="0.6"/><circle cx="428.0" cy="52.3" r="0.6"/><circle cx="411.4" cy="42.0" r="0.6"/><circle cx="373.5" cy="109.3" r="0.6"/><circle cx="452.8" cy="86.8" r="0.6"/><circle cx="409.0" cy="48.2" r="0.6"/><circle cx="341.2" cy="117.2" r="0.6"/><circle cx="413.6" cy="43.0" r="0.6"/><circle cx="401.4" cy="56.1" r="0.6"/><circle cx="409.3" cy="48.3" r="0.6"/><circle cx="385.2" cy="73.2" r="0.6"/><circle cx="467.9" cy="102.1" r="0.6"/><circle cx="371.1" cy="100.8" r="0.6"/><circle cx="418.4" cy="47.4" r="0.6"/><circle cx="456.7" cy="88.4" r="0.6"/><circle cx="428.0" cy="51.1" r="0.6"/><circle cx="445.5" cy="74.0" r="0.6"/><circle cx="346.1" cy="114.3" r="0.6"/><circle cx="399.4" cy="57.9" r="0.6"/><circle cx="432.0" cy="58.1" r="0.6"/><circle cx="409.4" cy="41.8" r="0.6"/><circle cx="414.6" cy="43.8" r="0.6"/><circle cx="463.1" cy="94.3" r="0.6"/><circle cx="366.5" cy="94.8" r="0.6"/><circle cx="379.7" cy="98.7" r="0.6"/><circle cx="424.6" cy="44.5" r="0.6"/><circle cx="385.6" cy="82.6" r="0.6"/><circle cx="390.1" cy="67.1" r="0.6"/><circle cx="341.5" cy="116.3" r="0.6"/><circle cx="378.1" cy="93.6" r="0.6"/><circle cx="434.0" cy="49.6" r="0.6"/><circle cx="396.7" cy="69.9" r="0.6"/><circle cx="406.4" cy="53.9" r="0.6"/><circle cx="368.0" cy="97.1" r="0.6"/><circle cx="412.3" cy="40.9" r="0.6"/><circle cx="451.9" cy="78.1" r="0.6"/><circle cx="461.6" cy="95.6" r="0.6"/><circle cx="444.3" cy="68.7" r="0.6"/><circle cx="408.5" cy="45.2" r="0.6"/><circle cx="377.3" cy="98.4" r="0.6"/><circle cx="448.6" cy="77.2" r="0.6"/><circle cx="460.3" cy="93.9" r="0.6"/><circle cx="440.0" cy="57.7" r="0.6"/><circle cx="393.4" cy="73.2" r="0.6"/><circle cx="442.3" cy="63.7" r="0.6"/><circle cx="416.7" cy="52.1" r="0.6"/><circle cx="429.5" cy="45.7" r="0.6"/><circle cx="376.7" cy="102.1" r="0.6"/><circle cx="430.6" cy="40.7" r="0.6"/><circle cx="415.7" cy="33.8" r="0.6"/><circle cx="402.9" cy="56.8" r="0.6"/><circle cx="460.4" cy="96.7" r="0.6"/><circle cx="356.3" cy="113.1" r="0.6"/><circle cx="391.9" cy="64.2" r="0.6"/><circle cx="423.1" cy="38.5" r="0.6"/><circle cx="458.1" cy="83.0" r="0.6"/><circle cx="409.5" cy="43.0" r="0.6"/><circle cx="388.3" cy="79.3" r="0.6"/><circle cx="350.5" cy="112.4" r="0.6"/><circle cx="403.3" cy="47.0" r="0.6"/><circle cx="450.3" cy="74.4" r="0.6"/><circle cx="374.8" cy="96.1" r="0.6"/><circle cx="463.3" cy="96.4" r="0.6"/><circle cx="428.1" cy="51.0" r="0.6"/><circle cx="442.2" cy="67.5" r="0.6"/><circle cx="406.9" cy="35.5" r="0.6"/><circle cx="359.0" cy="109.6" r="0.6"/><circle cx="397.2" cy="69.4" r="0.6"/><circle cx="389.0" cy="81.9" r="0.6"/><circle cx="372.2" cy="103.1" r="0.6"/><circle cx="379.1" cy="100.2" r="0.6"/><circle cx="392.2" cy="62.0" r="0.6"/><circle cx="432.3" cy="42.8" r="0.6"/><circle cx="397.3" cy="68.4" r="0.6"/><circle cx="447.6" cy="67.8" r="0.6"/><circle cx="412.0" cy="42.7" r="0.6"/><circle cx="400.2" cy="58.6" r="0.6"/><circle cx="428.0" cy="55.3" r="0.6"/><circle cx="441.3" cy="60.7" r="0.6"/><circle cx="410.2" cy="39.0" r="0.6"/><circle cx="372.5" cy="104.3" r="0.6"/><circle cx="422.8" cy="38.9" r="0.6"/><circle cx="379.0" cy="96.3" r="0.6"/><circle cx="375.1" cy="98.6" r="0.6"/><circle cx="397.2" cy="69.6" r="0.6"/><circle cx="421.3" cy="44.4" r="0.6"/><circle cx="402.8" cy="59.8" r="0.6"/><circle cx="464.0" cy="95.0" r="0.6"/><circle cx="421.0" cy="35.9" r="0.6"/><circle cx="411.1" cy="45.6" r="0.6"/><circle cx="413.1" cy="42.1" r="0.6"/><circle cx="451.7" cy="74.1" r="0.6"/><circle cx="451.1" cy="76.7" r="0.6"/><circle cx="430.4" cy="52.0" r="0.6"/><circle cx="456.5" cy="92.8" r="0.6"/><circle cx="420.1" cy="40.4" r="0.6"/><circle cx="380.0" cy="89.5" r="0.6"/><circle cx="425.1" cy="44.0" r="0.6"/><circle cx="406.1" cy="42.6" r="0.6"/><circle cx="456.3" cy="86.8" r="0.6"/><circle cx="470.2" cy="109.0" r="0.6"/><circle cx="370.7" cy="101.3" r="0.6"/><circle cx="447.1" cy="73.3" r="0.6"/><circle cx="369.3" cy="97.4" r="0.6"/><circle cx="426.4" cy="39.3" r="0.6"/><circle cx="378.0" cy="97.1" r="0.6"/><circle cx="429.5" cy="57.6" r="0.6"/><circle cx="415.0" cy="32.6" r="0.6"/><circle cx="370.7" cy="99.5" r="0.6"/><circle cx="459.6" cy="85.9" r="0.6"/><circle cx="373.6" cy="101.8" r="0.6"/><circle cx="430.4" cy="53.7" r="0.6"/><circle cx="340.5" cy="112.8" r="0.6"/><circle cx="353.5" cy="111.2" r="0.6"/><circle cx="467.0" cy="98.8" r="0.6"/><circle cx="362.5" cy="104.9" r="0.6"/><circle cx="419.8" cy="47.8" r="0.6"/><circle cx="460.8" cy="93.9" r="0.6"/><circle cx="443.4" cy="62.5" r="0.6"/><circle cx="419.4" cy="41.9" r="0.6"/><circle cx="376.3" cy="97.9" r="0.6"/><circle cx="398.5" cy="48.8" r="0.6"/><circle cx="410.3" cy="42.4" r="0.6"/><circle cx="409.1" cy="51.6" r="0.6"/><circle cx="423.7" cy="40.7" r="0.6"/><circle cx="446.3" cy="73.5" r="0.6"/><circle cx="430.7" cy="46.7" r="0.6"/><circle cx="428.9" cy="51.7" r="0.6"/><circle cx="419.3" cy="50.8" r="0.6"/><circle cx="359.7" cy="111.6" r="0.6"/><circle cx="467.6" cy="100.5" r="0.6"/><circle cx="362.0" cy="109.0" r="0.6"/><circle cx="361.4" cy="105.1" r="0.6"/><circle cx="427.8" cy="47.7" r="0.6"/><circle cx="382.1" cy="76.6" r="0.6"/><circle cx="388.8" cy="68.0" r="0.6"/><circle cx="377.5" cy="95.1" r="0.6"/><circle cx="363.6" cy="108.2" r="0.6"/><circle cx="430.5" cy="57.3" r="0.6"/><circle cx="416.3" cy="45.8" r="0.6"/><circle cx="459.1" cy="92.1" r="0.6"/><circle cx="431.7" cy="61.7" r="0.6"/><circle cx="468.1" cy="101.5" r="0.6"/><circle cx="377.5" cy="98.6" r="0.6"/><circle cx="412.8" cy="48.0" r="0.6"/><circle cx="444.0" cy="63.6" r="0.6"/><circle cx="409.4" cy="52.8" r="0.6"/><circle cx="437.1" cy="57.5" r="0.6"/><circle cx="352.6" cy="112.0" r="0.6"/><circle cx="398.3" cy="68.0" r="0.6"/><circle cx="425.8" cy="51.8" r="0.6"/><circle cx="381.5" cy="91.5" r="0.6"/><circle cx="373.8" cy="98.2" r="0.6"/><circle cx="391.4" cy="67.6" r="0.6"/><circle cx="387.1" cy="82.1" r="0.6"/><circle cx="410.1" cy="56.8" r="0.6"/><circle cx="379.9" cy="95.2" r="0.6"/><circle cx="386.8" cy="83.9" r="0.6"/><circle cx="403.1" cy="53.2" r="0.6"/><circle cx="418.8" cy="36.6" r="0.6"/><circle cx="447.3" cy="74.5" r="0.6"/><circle cx="442.6" cy="67.9" r="0.6"/><circle cx="421.3" cy="52.7" r="0.6"/><circle cx="367.0" cy="103.5" r="0.6"/><circle cx="428.3" cy="56.7" r="0.6"/><circle cx="438.5" cy="61.5" r="0.6"/><circle cx="448.8" cy="72.4" r="0.6"/><circle cx="471.3" cy="110.4" r="0.6"/><circle cx="429.1" cy="45.1" r="0.6"/><circle cx="442.6" cy="64.0" r="0.6"/><circle cx="413.0" cy="38.4" r="0.6"/><circle cx="383.8" cy="82.0" r="0.6"/><circle cx="406.0" cy="51.4" r="0.6"/><circle cx="400.1" cy="59.5" r="0.6"/><circle cx="382.3" cy="79.1" r="0.6"/><circle cx="428.5" cy="45.4" r="0.6"/><circle cx="363.5" cy="104.9" r="0.6"/><circle cx="426.8" cy="45.9" r="0.6"/><circle cx="464.8" cy="99.6" r="0.6"/><circle cx="409.8" cy="50.7" r="0.6"/><circle cx="373.3" cy="104.8" r="0.6"/><circle cx="473.3" cy="114.3" r="0.6"/><circle cx="424.1" cy="45.6" r="0.6"/><circle cx="427.3" cy="48.4" r="0.6"/><circle cx="400.1" cy="55.5" r="0.6"/><circle cx="392.1" cy="69.9" r="0.6"/><circle cx="461.8" cy="95.5" r="0.6"/><circle cx="341.2" cy="111.8" r="0.6"/><circle cx="372.0" cy="97.7" r="0.6"/><circle cx="388.8" cy="76.0" r="0.6"/><circle cx="449.2" cy="77.2" r="0.6"/><circle cx="372.3" cy="91.7" r="0.6"/><circle cx="359.8" cy="107.7" r="0.6"/><circle cx="387.1" cy="77.8" r="0.6"/><circle cx="437.5" cy="57.5" r="0.6"/><circle cx="394.9" cy="59.6" r="0.6"/><circle cx="378.0" cy="94.1" r="0.6"/><circle cx="440.0" cy="62.6" r="0.6"/><circle cx="393.5" cy="58.6" r="0.6"/><circle cx="444.3" cy="69.2" r="0.6"/><circle cx="395.0" cy="54.6" r="0.6"/><circle cx="374.1" cy="103.0" r="0.6"/><circle cx="433.2" cy="48.3" r="0.6"/><circle cx="392.6" cy="77.7" r="0.6"/><circle cx="457.7" cy="80.7" r="0.6"/><circle cx="420.8" cy="40.3" r="0.6"/><circle cx="389.1" cy="67.2" r="0.6"/><circle cx="408.1" cy="45.1" r="0.6"/><circle cx="425.7" cy="41.7" r="0.6"/><circle cx="375.4" cy="96.6" r="0.6"/><circle cx="422.6" cy="42.4" r="0.6"/><circle cx="384.0" cy="85.6" r="0.6"/><circle cx="435.0" cy="54.4" r="0.6"/><circle cx="353.4" cy="116.1" r="0.6"/><circle cx="402.4" cy="58.6" r="0.6"/><circle cx="388.3" cy="87.9" r="0.6"/><circle cx="455.3" cy="78.6" r="0.6"/><circle cx="456.0" cy="81.9" r="0.6"/><circle cx="427.4" cy="52.7" r="0.6"/><circle cx="371.3" cy="96.0" r="0.6"/><circle cx="408.5" cy="44.0" r="0.6"/><circle cx="439.1" cy="56.3" r="0.6"/><circle cx="401.0" cy="62.0" r="0.6"/><circle cx="393.2" cy="50.4" r="0.6"/><circle cx="360.0" cy="110.8" r="0.6"/><circle cx="434.7" cy="55.8" r="0.6"/><circle cx="410.2" cy="40.3" r="0.6"/><circle cx="422.6" cy="45.3" r="0.6"/><circle cx="394.8" cy="78.5" r="0.6"/><circle cx="438.0" cy="62.3" r="0.6"/><circle cx="394.1" cy="63.1" r="0.6"/><circle cx="357.8" cy="111.2" r="0.6"/><circle cx="391.0" cy="72.5" r="0.6"/><circle cx="429.4" cy="50.1" r="0.6"/><circle cx="423.3" cy="45.0" r="0.6"/><circle cx="438.0" cy="57.9" r="0.6"/><circle cx="371.8" cy="101.0" r="0.6"/><circle cx="354.7" cy="112.0" r="0.6"/><circle cx="402.4" cy="54.5" r="0.6"/><circle cx="349.3" cy="112.4" r="0.6"/><circle cx="441.3" cy="67.2" r="0.6"/><circle cx="380.4" cy="100.6" r="0.6"/><circle cx="402.7" cy="53.1" r="0.6"/><circle cx="434.7" cy="60.0" r="0.6"/><circle cx="404.1" cy="47.4" r="0.6"/><circle cx="378.1" cy="88.3" r="0.6"/><circle cx="421.0" cy="37.5" r="0.6"/><circle cx="441.4" cy="69.3" r="0.6"/><circle cx="393.5" cy="78.2" r="0.6"/><circle cx="384.8" cy="91.3" r="0.6"/><circle cx="376.9" cy="98.6" r="0.6"/><circle cx="390.6" cy="72.7" r="0.6"/><circle cx="404.4" cy="52.3" r="0.6"/><circle cx="444.9" cy="76.8" r="0.6"/><circle cx="393.5" cy="74.0" r="0.6"/><circle cx="439.7" cy="59.2" r="0.6"/><circle cx="392.4" cy="76.0" r="0.6"/><circle cx="355.7" cy="114.0" r="0.6"/><circle cx="447.8" cy="69.4" r="0.6"/><circle cx="377.6" cy="97.0" r="0.6"/><circle cx="451.2" cy="78.0" r="0.6"/><circle cx="369.9" cy="108.5" r="0.6"/><circle cx="408.6" cy="44.2" r="0.6"/><circle cx="417.0" cy="42.3" r="0.6"/><circle cx="352.3" cy="114.7" r="0.6"/><circle cx="461.2" cy="88.6" r="0.6"/><circle cx="442.1" cy="66.2" r="0.6"/><circle cx="389.2" cy="79.2" r="0.6"/><circle cx="372.9" cy="99.0" r="0.6"/><circle cx="392.4" cy="69.1" r="0.6"/><circle cx="428.3" cy="48.8" r="0.6"/><circle cx="346.8" cy="110.6" r="0.6"/><circle cx="471.3" cy="108.2" r="0.6"/><circle cx="377.9" cy="88.8" r="0.6"/><circle cx="435.5" cy="58.2" r="0.6"/><circle cx="461.9" cy="95.0" r="0.6"/><circle cx="424.4" cy="48.7" r="0.6"/><circle cx="422.9" cy="51.7" r="0.6"/><circle cx="401.9" cy="59.9" r="0.6"/><circle cx="418.6" cy="46.8" r="0.6"/><circle cx="380.1" cy="94.3" r="0.6"/><circle cx="379.5" cy="99.9" r="0.6"/><circle cx="357.0" cy="109.4" r="0.6"/><circle cx="343.3" cy="111.2" r="0.6"/><circle cx="440.8" cy="72.3" r="0.6"/><circle cx="442.4" cy="61.5" r="0.6"/><circle cx="428.1" cy="37.0" r="0.6"/><circle cx="361.5" cy="113.9" r="0.6"/><circle cx="366.5" cy="105.5" r="0.6"/><circle cx="387.5" cy="76.6" r="0.6"/><circle cx="453.2" cy="79.1" r="0.6"/><circle cx="357.3" cy="112.4" r="0.6"/><circle cx="410.7" cy="43.4" r="0.6"/><circle cx="409.3" cy="46.9" r="0.6"/><circle cx="425.0" cy="45.0" r="0.6"/><circle cx="455.2" cy="83.0" r="0.6"/><circle cx="408.1" cy="53.3" r="0.6"/><circle cx="386.3" cy="82.7" r="0.6"/><circle cx="373.0" cy="102.4" r="0.6"/><circle cx="397.3" cy="50.5" r="0.6"/><circle cx="421.4" cy="48.5" r="0.6"/><circle cx="460.7" cy="90.6" r="0.6"/><circle cx="422.2" cy="47.9" r="0.6"/><circle cx="465.6" cy="97.4" r="0.6"/><circle cx="449.5" cy="68.4" r="0.6"/><circle cx="446.4" cy="71.3" r="0.6"/><circle cx="462.1" cy="94.4" r="0.6"/><circle cx="461.3" cy="91.3" r="0.6"/><circle cx="388.6" cy="76.0" r="0.6"/><circle cx="371.8" cy="100.5" r="0.6"/><circle cx="338.5" cy="115.2" r="0.6"/><circle cx="407.2" cy="45.2" r="0.6"/><circle cx="360.1" cy="112.5" r="0.6"/><circle cx="403.4" cy="47.2" r="0.6"/><circle cx="421.8" cy="44.3" r="0.6"/><circle cx="418.4" cy="42.3" r="0.6"/><circle cx="393.8" cy="65.3" r="0.6"/><circle cx="387.3" cy="68.6" r="0.6"/><circle cx="415.5" cy="43.4" r="0.6"/><circle cx="424.8" cy="39.1" r="0.6"/><circle cx="406.9" cy="43.1" r="0.6"/><circle cx="388.1" cy="87.9" r="0.6"/><circle cx="438.9" cy="58.4" r="0.6"/><circle cx="458.8" cy="87.1" r="0.6"/><circle cx="361.3" cy="106.1" r="0.6"/><circle cx="448.4" cy="73.5" r="0.6"/><circle cx="452.0" cy="82.5" r="0.6"/><circle cx="431.3" cy="48.9" r="0.6"/><circle cx="416.6" cy="41.8" r="0.6"/><circle cx="443.0" cy="67.2" r="0.6"/><circle cx="443.4" cy="66.9" r="0.6"/><circle cx="354.8" cy="114.0" r="0.6"/><circle cx="424.2" cy="43.7" r="0.6"/><circle cx="355.1" cy="110.9" r="0.6"/><circle cx="365.6" cy="110.7" r="0.6"/><circle cx="389.0" cy="73.5" r="0.6"/><circle cx="385.5" cy="84.5" r="0.6"/><circle cx="429.6" cy="47.6" r="0.6"/><circle cx="403.4" cy="49.4" r="0.6"/><circle cx="360.9" cy="105.5" r="0.6"/><circle cx="474.9" cy="113.4" r="0.6"/><circle cx="398.9" cy="56.0" r="0.6"/><circle cx="393.5" cy="68.3" r="0.6"/><circle cx="370.5" cy="101.8" r="0.6"/><circle cx="368.7" cy="106.9" r="0.6"/><circle cx="436.9" cy="59.3" r="0.6"/><circle cx="415.9" cy="38.4" r="0.6"/><circle cx="450.1" cy="77.4" r="0.6"/><circle cx="437.8" cy="54.5" r="0.6"/><circle cx="433.7" cy="52.2" r="0.6"/><circle cx="456.3" cy="81.1" r="0.6"/><circle cx="434.6" cy="59.8" r="0.6"/><circle cx="338.6" cy="116.5" r="0.6"/><circle cx="407.1" cy="42.1" r="0.6"/><circle cx="388.9" cy="67.8" r="0.6"/><circle cx="459.3" cy="89.7" r="0.6"/><circle cx="410.5" cy="46.5" r="0.6"/><circle cx="417.4" cy="43.4" r="0.6"/><circle cx="362.9" cy="108.4" r="0.6"/><circle cx="352.1" cy="107.8" r="0.6"/><circle cx="474.6" cy="113.9" r="0.6"/><circle cx="450.1" cy="81.8" r="0.6"/><circle cx="431.5" cy="48.2" r="0.6"/><circle cx="417.6" cy="44.6" r="0.6"/><circle cx="460.5" cy="93.2" r="0.6"/><circle cx="410.1" cy="51.6" r="0.6"/><circle cx="379.5" cy="89.1" r="0.6"/><circle cx="397.4" cy="57.1" r="0.6"/><circle cx="462.3" cy="93.2" r="0.6"/><circle cx="464.7" cy="97.1" r="0.6"/><circle cx="432.0" cy="48.7" r="0.6"/><circle cx="452.6" cy="79.4" r="0.6"/><circle cx="362.6" cy="106.4" r="0.6"/><circle cx="388.6" cy="71.0" r="0.6"/><circle cx="376.3" cy="88.5" r="0.6"/><circle cx="459.7" cy="94.8" r="0.6"/><circle cx="381.8" cy="82.5" r="0.6"/><circle cx="445.1" cy="70.4" r="0.6"/><circle cx="426.0" cy="45.6" r="0.6"/><circle cx="438.4" cy="57.3" r="0.6"/><circle cx="373.3" cy="97.1" r="0.6"/><circle cx="451.9" cy="80.8" r="0.6"/><circle cx="402.1" cy="49.0" r="0.6"/><circle cx="425.1" cy="52.0" r="0.6"/><circle cx="457.3" cy="92.3" r="0.6"/><circle cx="417.0" cy="37.2" r="0.6"/><circle cx="392.4" cy="65.4" r="0.6"/><circle cx="437.8" cy="65.1" r="0.6"/><circle cx="450.4" cy="80.4" r="0.6"/><circle cx="383.2" cy="73.5" r="0.6"/><circle cx="452.4" cy="80.1" r="0.6"/><circle cx="358.9" cy="112.4" r="0.6"/><circle cx="360.5" cy="106.8" r="0.6"/><circle cx="431.9" cy="51.2" r="0.6"/><circle cx="438.0" cy="62.0" r="0.6"/><circle cx="425.1" cy="46.1" r="0.6"/><circle cx="410.5" cy="38.5" r="0.6"/><circle cx="428.5" cy="51.9" r="0.6"/><circle cx="414.6" cy="49.5" r="0.6"/><circle cx="384.2" cy="78.0" r="0.6"/><circle cx="356.4" cy="111.7" r="0.6"/><circle cx="365.8" cy="104.0" r="0.6"/><circle cx="386.5" cy="85.4" r="0.6"/><circle cx="393.4" cy="71.3" r="0.6"/><circle cx="387.9" cy="83.1" r="0.6"/><circle cx="395.5" cy="71.3" r="0.6"/><circle cx="384.0" cy="83.9" r="0.6"/><circle cx="393.4" cy="65.2" r="0.6"/><circle cx="365.5" cy="111.0" r="0.6"/><circle cx="429.3" cy="45.1" r="0.6"/><circle cx="397.7" cy="60.6" r="0.6"/><circle cx="410.4" cy="52.2" r="0.6"/><circle cx="409.0" cy="38.2" r="0.6"/><circle cx="375.4" cy="101.2" r="0.6"/><circle cx="436.7" cy="59.2" r="0.6"/><circle cx="444.7" cy="69.4" r="0.6"/><circle cx="406.7" cy="50.2" r="0.6"/><circle cx="441.0" cy="61.7" r="0.6"/><circle cx="407.0" cy="52.5" r="0.6"/><circle cx="436.3" cy="63.3" r="0.6"/><circle cx="378.0" cy="95.1" r="0.6"/><circle cx="434.8" cy="55.6" r="0.6"/><circle cx="410.3" cy="44.0" r="0.6"/><circle cx="374.8" cy="104.6" r="0.6"/><circle cx="418.4" cy="43.9" r="0.6"/><circle cx="358.4" cy="109.2" r="0.6"/><circle cx="385.0" cy="86.7" r="0.6"/><circle cx="401.0" cy="55.2" r="0.6"/><circle cx="393.1" cy="64.3" r="0.6"/><circle cx="379.0" cy="92.1" r="0.6"/><circle cx="414.1" cy="38.1" r="0.6"/><circle cx="420.9" cy="34.9" r="0.6"/><circle cx="356.5" cy="114.7" r="0.6"/><circle cx="402.6" cy="48.9" r="0.6"/><circle cx="363.2" cy="113.2" r="0.6"/><circle cx="381.5" cy="85.9" r="0.6"/><circle cx="400.5" cy="60.9" r="0.6"/><circle cx="398.0" cy="56.0" r="0.6"/><circle cx="393.0" cy="76.7" r="0.6"/><circle cx="396.0" cy="52.8" r="0.6"/><circle cx="386.7" cy="60.7" r="0.6"/><circle cx="445.4" cy="70.0" r="0.6"/><circle cx="393.2" cy="72.6" r="0.6"/><circle cx="457.3" cy="92.3" r="0.6"/><circle cx="411.8" cy="39.1" r="0.6"/><circle cx="438.5" cy="65.9" r="0.6"/><circle cx="430.9" cy="49.5" r="0.6"/><circle cx="345.2" cy="113.5" r="0.6"/><circle cx="454.5" cy="83.2" r="0.6"/><circle cx="437.7" cy="56.7" r="0.6"/><circle cx="388.7" cy="80.9" r="0.6"/><circle cx="349.5" cy="113.8" r="0.6"/><circle cx="456.2" cy="83.7" r="0.6"/><circle cx="374.1" cy="95.4" r="0.6"/><circle cx="373.0" cy="97.6" r="0.6"/><circle cx="400.9" cy="56.4" r="0.6"/><circle cx="391.4" cy="79.2" r="0.6"/><circle cx="388.8" cy="68.7" r="0.6"/><circle cx="366.2" cy="103.4" r="0.6"/><circle cx="375.1" cy="92.4" r="0.6"/><circle cx="393.0" cy="67.7" r="0.6"/><circle cx="362.4" cy="107.6" r="0.6"/><circle cx="400.1" cy="62.5" r="0.6"/><circle cx="390.2" cy="72.7" r="0.6"/><circle cx="368.0" cy="101.1" r="0.6"/><circle cx="365.9" cy="105.8" r="0.6"/><circle cx="431.7" cy="47.1" r="0.6"/><circle cx="345.5" cy="112.9" r="0.6"/><circle cx="455.5" cy="81.7" r="0.6"/><circle cx="447.6" cy="72.2" r="0.6"/><circle cx="461.4" cy="90.8" r="0.6"/><circle cx="358.4" cy="113.1" r="0.6"/><circle cx="440.8" cy="55.4" r="0.6"/><circle cx="461.5" cy="97.1" r="0.6"/><circle cx="465.7" cy="96.0" r="0.6"/><circle cx="413.0" cy="46.5" r="0.6"/><circle cx="453.8" cy="86.1" r="0.6"/><circle cx="353.9" cy="112.0" r="0.6"/><circle cx="340.1" cy="112.7" r="0.6"/><circle cx="373.7" cy="97.1" r="0.6"/><circle cx="389.5" cy="65.5" r="0.6"/><circle cx="388.5" cy="78.4" r="0.6"/><circle cx="370.6" cy="101.4" r="0.6"/><circle cx="450.2" cy="78.5" r="0.6"/><circle cx="375.4" cy="103.4" r="0.6"/><circle cx="369.7" cy="103.0" r="0.6"/><circle cx="392.6" cy="73.2" r="0.6"/><circle cx="421.9" cy="39.6" r="0.6"/><circle cx="456.0" cy="88.9" r="0.6"/><circle cx="386.1" cy="75.1" r="0.6"/><circle cx="392.2" cy="60.4" r="0.6"/><circle cx="387.3" cy="80.9" r="0.6"/><circle cx="420.3" cy="48.9" r="0.6"/><circle cx="440.9" cy="68.1" r="0.6"/><circle cx="372.2" cy="101.0" r="0.6"/><circle cx="422.3" cy="51.7" r="0.6"/><circle cx="363.4" cy="108.7" r="0.6"/><circle cx="386.8" cy="82.1" r="0.6"/><circle cx="425.3" cy="35.5" r="0.6"/><circle cx="436.2" cy="61.5" r="0.6"/><circle cx="390.7" cy="70.9" r="0.6"/><circle cx="409.4" cy="51.0" r="0.6"/><circle cx="393.8" cy="68.8" r="0.6"/><circle cx="384.1" cy="82.3" r="0.6"/><circle cx="444.4" cy="62.4" r="0.6"/><circle cx="413.3" cy="30.3" r="0.6"/><circle cx="343.0" cy="112.0" r="0.6"/><circle cx="348.5" cy="111.9" r="0.6"/><circle cx="407.6" cy="48.6" r="0.6"/><circle cx="388.5" cy="88.5" r="0.6"/><circle cx="413.8" cy="46.3" r="0.6"/><circle cx="369.9" cy="104.9" r="0.6"/><circle cx="455.1" cy="85.0" r="0.6"/><circle cx="415.4" cy="48.7" r="0.6"/><circle cx="397.3" cy="76.3" r="0.6"/><circle cx="427.9" cy="46.1" r="0.6"/><circle cx="367.8" cy="104.7" r="0.6"/><circle cx="409.5" cy="48.0" r="0.6"/><circle cx="441.8" cy="66.1" r="0.6"/><circle cx="371.8" cy="108.1" r="0.6"/><circle cx="389.0" cy="79.2" r="0.6"/><circle cx="427.0" cy="53.7" r="0.6"/><circle cx="447.3" cy="70.4" r="0.6"/><circle cx="445.5" cy="65.7" r="0.6"/><circle cx="391.3" cy="63.5" r="0.6"/><circle cx="384.1" cy="78.3" r="0.6"/><circle cx="404.8" cy="54.3" r="0.6"/><circle cx="373.4" cy="94.2" r="0.6"/><circle cx="377.6" cy="94.7" r="0.6"/><circle cx="372.0" cy="96.0" r="0.6"/><circle cx="422.3" cy="46.6" r="0.6"/><circle cx="435.9" cy="57.3" r="0.6"/><circle cx="384.2" cy="88.2" r="0.6"/><circle cx="354.2" cy="114.2" r="0.6"/><circle cx="373.5" cy="95.5" r="0.6"/><circle cx="458.1" cy="89.1" r="0.6"/><circle cx="473.0" cy="113.5" r="0.6"/><circle cx="412.2" cy="43.4" r="0.6"/><circle cx="406.6" cy="50.3" r="0.6"/><circle cx="368.4" cy="107.5" r="0.6"/><circle cx="444.5" cy="68.5" r="0.6"/><circle cx="458.1" cy="87.6" r="0.6"/><circle cx="407.0" cy="47.4" r="0.6"/><circle cx="363.5" cy="98.2" r="0.6"/><circle cx="410.7" cy="48.3" r="0.6"/><circle cx="440.6" cy="53.8" r="0.6"/><circle cx="400.1" cy="51.5" r="0.6"/><circle cx="371.7" cy="103.1" r="0.6"/><circle cx="424.0" cy="45.0" r="0.6"/><circle cx="344.2" cy="115.0" r="0.6"/><circle cx="403.1" cy="54.7" r="0.6"/><circle cx="395.0" cy="66.2" r="0.6"/><circle cx="450.7" cy="74.7" r="0.6"/><circle cx="426.5" cy="39.6" r="0.6"/><circle cx="427.1" cy="42.9" r="0.6"/><circle cx="410.2" cy="41.3" r="0.6"/><circle cx="365.2" cy="110.2" r="0.6"/><circle cx="402.4" cy="59.2" r="0.6"/><circle cx="408.1" cy="52.3" r="0.6"/><circle cx="451.3" cy="79.1" r="0.6"/><circle cx="341.9" cy="113.9" r="0.6"/><circle cx="420.5" cy="46.6" r="0.6"/><circle cx="367.7" cy="101.3" r="0.6"/><circle cx="419.8" cy="46.7" r="0.6"/><circle cx="392.4" cy="71.1" r="0.6"/><circle cx="450.6" cy="75.6" r="0.6"/><circle cx="341.7" cy="113.9" r="0.6"/><circle cx="433.0" cy="45.3" r="0.6"/><circle cx="428.4" cy="50.5" r="0.6"/><circle cx="423.1" cy="41.8" r="0.6"/><circle cx="413.8" cy="45.6" r="0.6"/><circle cx="448.0" cy="70.8" r="0.6"/><circle cx="425.6" cy="40.1" r="0.6"/><circle cx="400.6" cy="60.8" r="0.6"/><circle cx="363.7" cy="106.2" r="0.6"/><circle cx="454.9" cy="88.0" r="0.6"/><circle cx="411.7" cy="40.2" r="0.6"/><circle cx="428.4" cy="46.5" r="0.6"/><circle cx="372.8" cy="105.0" r="0.6"/><circle cx="438.5" cy="54.0" r="0.6"/><circle cx="393.6" cy="75.0" r="0.6"/><circle cx="388.9" cy="78.8" r="0.6"/><circle cx="418.8" cy="41.9" r="0.6"/><circle cx="363.6" cy="112.4" r="0.6"/><circle cx="408.1" cy="44.4" r="0.6"/><circle cx="343.7" cy="114.2" r="0.6"/><circle cx="372.5" cy="103.2" r="0.6"/><circle cx="394.8" cy="66.9" r="0.6"/><circle cx="403.9" cy="60.1" r="0.6"/><circle cx="390.0" cy="75.0" r="0.6"/><circle cx="373.5" cy="97.9" r="0.6"/><circle cx="410.2" cy="44.0" r="0.6"/><circle cx="386.1" cy="78.6" r="0.6"/><circle cx="391.2" cy="71.1" r="0.6"/><circle cx="418.3" cy="37.9" r="0.6"/><circle cx="347.9" cy="114.9" r="0.6"/><circle cx="426.3" cy="46.9" r="0.6"/><circle cx="392.5" cy="75.6" r="0.6"/><circle cx="338.0" cy="113.9" r="0.6"/><circle cx="409.6" cy="37.4" r="0.6"/><circle cx="405.9" cy="42.3" r="0.6"/><circle cx="426.0" cy="46.4" r="0.6"/><circle cx="466.7" cy="99.0" r="0.6"/><circle cx="422.4" cy="44.7" r="0.6"/><circle cx="431.8" cy="50.0" r="0.6"/><circle cx="438.7" cy="61.0" r="0.6"/><circle cx="452.9" cy="82.0" r="0.6"/><circle cx="407.3" cy="49.0" r="0.6"/><circle cx="386.8" cy="74.9" r="0.6"/><circle cx="408.0" cy="50.2" r="0.6"/><circle cx="430.8" cy="52.0" r="0.6"/><circle cx="372.3" cy="106.0" r="0.6"/><circle cx="391.3" cy="74.3" r="0.6"/><circle cx="343.4" cy="116.1" r="0.6"/><circle cx="475.7" cy="113.6" r="0.6"/><circle cx="435.3" cy="62.5" r="0.6"/><circle cx="431.9" cy="53.9" r="0.6"/><circle cx="451.2" cy="80.3" r="0.6"/><circle cx="420.9" cy="47.8" r="0.6"/><circle cx="434.8" cy="51.4" r="0.6"/><circle cx="424.0" cy="45.4" r="0.6"/><circle cx="437.6" cy="57.7" r="0.6"/><circle cx="400.6" cy="54.7" r="0.6"/><circle cx="357.3" cy="117.4" r="0.6"/><circle cx="450.0" cy="76.3" r="0.6"/><circle cx="451.3" cy="78.2" r="0.6"/><circle cx="438.4" cy="56.8" r="0.6"/><circle cx="456.0" cy="89.9" r="0.6"/><circle cx="425.4" cy="46.4" r="0.6"/><circle cx="431.5" cy="50.3" r="0.6"/><circle cx="375.0" cy="106.7" r="0.6"/><circle cx="461.7" cy="98.6" r="0.6"/><circle cx="404.9" cy="54.6" r="0.6"/><circle cx="409.7" cy="45.6" r="0.6"/><circle cx="449.3" cy="80.3" r="0.6"/><circle cx="360.7" cy="108.2" r="0.6"/><circle cx="455.6" cy="84.3" r="0.6"/><circle cx="463.1" cy="95.9" r="0.6"/><circle cx="454.1" cy="85.4" r="0.6"/><circle cx="402.1" cy="60.2" r="0.6"/><circle cx="396.1" cy="64.6" r="0.6"/><circle cx="381.1" cy="89.6" r="0.6"/><circle cx="416.2" cy="46.7" r="0.6"/><circle cx="395.0" cy="61.2" r="0.6"/><circle cx="412.1" cy="40.5" r="0.6"/><circle cx="459.6" cy="88.2" r="0.6"/><circle cx="400.2" cy="51.8" r="0.6"/><circle cx="416.2" cy="40.7" r="0.6"/><circle cx="375.1" cy="95.0" r="0.6"/><circle cx="445.8" cy="71.0" r="0.6"/><circle cx="422.8" cy="38.4" r="0.6"/><circle cx="409.8" cy="45.9" r="0.6"/><circle cx="404.7" cy="56.5" r="0.6"/><circle cx="336.0" cy="112.0" r="0.6"/><circle cx="395.7" cy="59.7" r="0.6"/><circle cx="467.5" cy="103.0" r="0.6"/><circle cx="392.2" cy="75.0" r="0.6"/><circle cx="431.6" cy="48.8" r="0.6"/><circle cx="377.9" cy="100.3" r="0.6"/><circle cx="406.4" cy="53.8" r="0.6"/><circle cx="342.6" cy="113.5" r="0.6"/><circle cx="390.2" cy="74.7" r="0.6"/><circle cx="387.6" cy="82.6" r="0.6"/><circle cx="409.0" cy="57.1" r="0.6"/><circle cx="386.7" cy="82.6" r="0.6"/><circle cx="437.3" cy="52.2" r="0.6"/><circle cx="370.4" cy="105.2" r="0.6"/><circle cx="377.8" cy="92.0" r="0.6"/><circle cx="438.7" cy="65.4" r="0.6"/><circle cx="354.2" cy="111.6" r="0.6"/><circle cx="440.7" cy="56.2" r="0.6"/><circle cx="390.1" cy="69.8" r="0.6"/><circle cx="366.2" cy="102.1" r="0.6"/><circle cx="409.0" cy="56.2" r="0.6"/><circle cx="412.4" cy="37.3" r="0.6"/><circle cx="425.9" cy="44.8" r="0.6"/><circle cx="464.3" cy="95.9" r="0.6"/><circle cx="366.0" cy="109.0" r="0.6"/><circle cx="401.4" cy="61.4" r="0.6"/><circle cx="386.5" cy="81.7" r="0.6"/><circle cx="374.3" cy="98.1" r="0.6"/><circle cx="391.5" cy="77.3" r="0.6"/><circle cx="431.0" cy="53.1" r="0.6"/><circle cx="414.4" cy="50.9" r="0.6"/><circle cx="439.7" cy="62.4" r="0.6"/><circle cx="365.8" cy="108.2" r="0.6"/><circle cx="444.0" cy="67.2" r="0.6"/><circle cx="427.0" cy="52.2" r="0.6"/><circle cx="375.7" cy="91.7" r="0.6"/><circle cx="441.5" cy="61.2" r="0.6"/><circle cx="405.0" cy="56.5" r="0.6"/><circle cx="413.8" cy="47.0" r="0.6"/><circle cx="386.1" cy="74.9" r="0.6"/><circle cx="454.2" cy="86.9" r="0.6"/><circle cx="379.4" cy="92.5" r="0.6"/><circle cx="347.0" cy="111.3" r="0.6"/><circle cx="363.1" cy="107.5" r="0.6"/><circle cx="423.4" cy="40.8" r="0.6"/><circle cx="375.8" cy="98.2" r="0.6"/><circle cx="404.0" cy="59.7" r="0.6"/><circle cx="394.2" cy="69.4" r="0.6"/><circle cx="394.7" cy="80.8" r="0.6"/><circle cx="384.2" cy="82.0" r="0.6"/><circle cx="394.2" cy="62.2" r="0.6"/><circle cx="389.1" cy="78.5" r="0.6"/><circle cx="442.6" cy="66.5" r="0.6"/><circle cx="358.0" cy="109.8" r="0.6"/><circle cx="453.6" cy="81.8" r="0.6"/><circle cx="465.1" cy="94.4" r="0.6"/><circle cx="412.5" cy="36.8" r="0.6"/><circle cx="431.2" cy="52.1" r="0.6"/><circle cx="456.1" cy="87.9" r="0.6"/><circle cx="380.8" cy="91.8" r="0.6"/><circle cx="353.1" cy="113.5" r="0.6"/><circle cx="456.1" cy="89.5" r="0.6"/><circle cx="382.7" cy="85.2" r="0.6"/><circle cx="444.6" cy="62.2" r="0.6"/><circle cx="460.6" cy="93.0" r="0.6"/><circle cx="410.2" cy="38.5" r="0.6"/><circle cx="458.6" cy="86.7" r="0.6"/><circle cx="400.5" cy="52.8" r="0.6"/><circle cx="434.7" cy="56.4" r="0.6"/><circle cx="343.5" cy="113.8" r="0.6"/><circle cx="432.4" cy="44.4" r="0.6"/><circle cx="453.0" cy="75.7" r="0.6"/><circle cx="419.4" cy="46.6" r="0.6"/><circle cx="433.1" cy="49.3" r="0.6"/><circle cx="378.1" cy="95.1" r="0.6"/><circle cx="438.8" cy="60.0" r="0.6"/><circle cx="435.1" cy="47.8" r="0.6"/><circle cx="382.7" cy="92.6" r="0.6"/><circle cx="457.2" cy="88.5" r="0.6"/><circle cx="378.4" cy="92.2" r="0.6"/><circle cx="387.9" cy="76.3" r="0.6"/><circle cx="424.3" cy="50.0" r="0.6"/><circle cx="375.2" cy="104.7" r="0.6"/><circle cx="416.1" cy="36.3" r="0.6"/><circle cx="359.2" cy="109.5" r="0.6"/><circle cx="392.0" cy="78.9" r="0.6"/><circle cx="374.7" cy="103.8" r="0.6"/><circle cx="434.3" cy="59.2" r="0.6"/><circle cx="426.0" cy="42.9" r="0.6"/><circle cx="386.8" cy="75.6" r="0.6"/><circle cx="430.6" cy="46.9" r="0.6"/><circle cx="380.2" cy="90.1" r="0.6"/><circle cx="358.1" cy="115.3" r="0.6"/><circle cx="379.7" cy="93.7" r="0.6"/><circle cx="425.9" cy="46.6" r="0.6"/><circle cx="427.5" cy="47.4" r="0.6"/><circle cx="385.0" cy="81.4" r="0.6"/><circle cx="428.0" cy="45.0" r="0.6"/><circle cx="360.5" cy="110.7" r="0.6"/><circle cx="402.4" cy="56.0" r="0.6"/><circle cx="408.5" cy="51.3" r="0.6"/><circle cx="376.1" cy="99.9" r="0.6"/><circle cx="440.4" cy="57.7" r="0.6"/><circle cx="414.7" cy="38.1" r="0.6"/><circle cx="459.7" cy="84.3" r="0.6"/><circle cx="427.5" cy="49.1" r="0.6"/><circle cx="416.1" cy="39.7" r="0.6"/><circle cx="394.9" cy="62.4" r="0.6"/><circle cx="452.8" cy="77.6" r="0.6"/><circle cx="450.8" cy="77.5" r="0.6"/><circle cx="457.9" cy="85.2" r="0.6"/><circle cx="379.4" cy="93.1" r="0.6"/><circle cx="370.9" cy="100.8" r="0.6"/><circle cx="386.3" cy="87.9" r="0.6"/><circle cx="401.2" cy="56.8" r="0.6"/><circle cx="459.4" cy="89.8" r="0.6"/><circle cx="394.5" cy="75.9" r="0.6"/><circle cx="459.9" cy="87.7" r="0.6"/><circle cx="457.5" cy="88.2" r="0.6"/><circle cx="392.6" cy="66.5" r="0.6"/><circle cx="383.3" cy="93.2" r="0.6"/><circle cx="388.1" cy="71.3" r="0.6"/><circle cx="433.2" cy="54.5" r="0.6"/><circle cx="398.0" cy="56.2" r="0.6"/><circle cx="447.4" cy="75.6" r="0.6"/><circle cx="377.0" cy="91.9" r="0.6"/><circle cx="455.1" cy="85.1" r="0.6"/><circle cx="377.2" cy="94.6" r="0.6"/><circle cx="406.2" cy="53.9" r="0.6"/><circle cx="405.0" cy="51.4" r="0.6"/><circle cx="406.6" cy="47.1" r="0.6"/><circle cx="469.5" cy="104.1" r="0.6"/><circle cx="402.9" cy="56.0" r="0.6"/><circle cx="447.2" cy="74.6" r="0.6"/><circle cx="422.5" cy="43.5" r="0.6"/><circle cx="371.2" cy="102.2" r="0.6"/><circle cx="400.4" cy="65.6" r="0.6"/><circle cx="396.3" cy="64.6" r="0.6"/><circle cx="386.2" cy="78.8" r="0.6"/><circle cx="371.3" cy="99.6" r="0.6"/><circle cx="389.2" cy="86.3" r="0.6"/><circle cx="370.4" cy="106.0" r="0.6"/><circle cx="429.0" cy="53.3" r="0.6"/><circle cx="459.6" cy="85.8" r="0.6"/><circle cx="401.7" cy="53.9" r="0.6"/><circle cx="428.4" cy="53.5" r="0.6"/><circle cx="404.5" cy="53.7" r="0.6"/><circle cx="445.8" cy="70.4" r="0.6"/><circle cx="362.0" cy="104.6" r="0.6"/><circle cx="443.9" cy="66.7" r="0.6"/><circle cx="420.7" cy="38.5" r="0.6"/><circle cx="421.5" cy="50.7" r="0.6"/><circle cx="402.9" cy="49.1" r="0.6"/><circle cx="364.9" cy="108.8" r="0.6"/><circle cx="337.1" cy="116.6" r="0.6"/><circle cx="419.8" cy="47.0" r="0.6"/><circle cx="448.4" cy="70.3" r="0.6"/><circle cx="342.1" cy="111.0" r="0.6"/><circle cx="377.5" cy="87.8" r="0.6"/><circle cx="457.0" cy="81.1" r="0.6"/><circle cx="388.5" cy="71.0" r="0.6"/><circle cx="403.1" cy="48.8" r="0.6"/><circle cx="390.4" cy="65.9" r="0.6"/><circle cx="376.3" cy="95.5" r="0.6"/><circle cx="387.7" cy="84.1" r="0.6"/><circle cx="380.7" cy="92.8" r="0.6"/><circle cx="385.1" cy="72.6" r="0.6"/><circle cx="427.6" cy="53.4" r="0.6"/><circle cx="375.5" cy="90.2" r="0.6"/><circle cx="438.7" cy="60.2" r="0.6"/><circle cx="414.2" cy="45.4" r="0.6"/><circle cx="371.5" cy="104.1" r="0.6"/><circle cx="446.6" cy="74.4" r="0.6"/><circle cx="454.1" cy="77.9" r="0.6"/><circle cx="394.4" cy="64.6" r="0.6"/><circle cx="472.0" cy="110.6" r="0.6"/><circle cx="362.1" cy="110.1" r="0.6"/><circle cx="355.0" cy="109.6" r="0.6"/><circle cx="379.5" cy="88.8" r="0.6"/><circle cx="387.4" cy="86.0" r="0.6"/><circle cx="423.9" cy="49.2" r="0.6"/><circle cx="398.0" cy="70.0" r="0.6"/><circle cx="355.0" cy="113.1" r="0.6"/><circle cx="452.8" cy="82.0" r="0.6"/><circle cx="423.0" cy="46.2" r="0.6"/><circle cx="419.4" cy="35.1" r="0.6"/><circle cx="344.9" cy="114.9" r="0.6"/><circle cx="373.5" cy="96.7" r="0.6"/><circle cx="455.8" cy="82.7" r="0.6"/><circle cx="410.1" cy="42.2" r="0.6"/><circle cx="367.0" cy="107.1" r="0.6"/><circle cx="428.9" cy="53.5" r="0.6"/><circle cx="359.3" cy="117.0" r="0.6"/><circle cx="438.5" cy="59.9" r="0.6"/><circle cx="452.7" cy="82.7" r="0.6"/><circle cx="425.4" cy="45.1" r="0.6"/><circle cx="407.9" cy="31.7" r="0.6"/><circle cx="439.9" cy="58.2" r="0.6"/><circle cx="367.4" cy="99.3" r="0.6"/><circle cx="434.9" cy="49.6" r="0.6"/><circle cx="425.9" cy="47.8" r="0.6"/><circle cx="360.0" cy="113.6" r="0.6"/><circle cx="412.0" cy="37.0" r="0.6"/><circle cx="404.6" cy="53.5" r="0.6"/><circle cx="353.0" cy="112.9" r="0.6"/><circle cx="380.5" cy="87.8" r="0.6"/><circle cx="442.4" cy="54.7" r="0.6"/><circle cx="443.1" cy="67.3" r="0.6"/><circle cx="352.0" cy="113.6" r="0.6"/><circle cx="417.6" cy="37.8" r="0.6"/><circle cx="446.3" cy="69.6" r="0.6"/><circle cx="377.9" cy="89.5" r="0.6"/><circle cx="430.1" cy="46.6" r="0.6"/><circle cx="385.7" cy="84.3" r="0.6"/><circle cx="351.3" cy="112.1" r="0.6"/><circle cx="358.3" cy="113.1" r="0.6"/><circle cx="410.2" cy="39.6" r="0.6"/><circle cx="455.9" cy="83.2" r="0.6"/><circle cx="460.5" cy="92.6" r="0.6"/><circle cx="437.9" cy="67.6" r="0.6"/><circle cx="377.7" cy="83.2" r="0.6"/><circle cx="397.8" cy="74.6" r="0.6"/><circle cx="456.2" cy="84.4" r="0.6"/><circle cx="384.3" cy="90.5" r="0.6"/><circle cx="423.1" cy="44.9" r="0.6"/><circle cx="377.0" cy="96.5" r="0.6"/><circle cx="363.1" cy="101.1" r="0.6"/><circle cx="413.2" cy="35.1" r="0.6"/><circle cx="453.2" cy="79.8" r="0.6"/><circle cx="419.5" cy="43.1" r="0.6"/><circle cx="425.6" cy="44.2" r="0.6"/><circle cx="439.6" cy="72.7" r="0.6"/><circle cx="391.0" cy="73.1" r="0.6"/><circle cx="445.1" cy="64.5" r="0.6"/><circle cx="403.1" cy="44.2" r="0.6"/><circle cx="393.6" cy="71.9" r="0.6"/><circle cx="338.6" cy="111.8" r="0.6"/><circle cx="370.7" cy="107.3" r="0.6"/><circle cx="374.8" cy="105.5" r="0.6"/><circle cx="456.8" cy="85.5" r="0.6"/><circle cx="379.8" cy="93.1" r="0.6"/><circle cx="404.3" cy="38.9" r="0.6"/><circle cx="392.4" cy="70.5" r="0.6"/><circle cx="386.8" cy="95.5" r="0.6"/><circle cx="353.1" cy="113.3" r="0.6"/><circle cx="434.9" cy="53.4" r="0.6"/><circle cx="445.9" cy="72.3" r="0.6"/><circle cx="365.8" cy="104.6" r="0.6"/><circle cx="383.3" cy="82.9" r="0.6"/><circle cx="393.3" cy="61.4" r="0.6"/><circle cx="395.8" cy="69.8" r="0.6"/><circle cx="389.9" cy="81.3" r="0.6"/><circle cx="356.1" cy="113.4" r="0.6"/><circle cx="441.6" cy="65.0" r="0.6"/><circle cx="441.7" cy="67.6" r="0.6"/><circle cx="444.7" cy="68.4" r="0.6"/><circle cx="345.9" cy="115.2" r="0.6"/><circle cx="473.5" cy="113.2" r="0.6"/><circle cx="434.1" cy="50.3" r="0.6"/><circle cx="375.2" cy="98.4" r="0.6"/><circle cx="358.7" cy="110.5" r="0.6"/><circle cx="401.9" cy="59.4" r="0.6"/><circle cx="373.7" cy="97.1" r="0.6"/><circle cx="363.3" cy="110.9" r="0.6"/><circle cx="387.7" cy="78.7" r="0.6"/><circle cx="452.0" cy="76.1" r="0.6"/><circle cx="423.0" cy="47.9" r="0.6"/><circle cx="381.0" cy="95.2" r="0.6"/><circle cx="439.0" cy="52.2" r="0.6"/><circle cx="462.0" cy="90.4" r="0.6"/><circle cx="446.0" cy="75.1" r="0.6"/><circle cx="365.2" cy="104.7" r="0.6"/><circle cx="384.4" cy="86.7" r="0.6"/><circle cx="424.9" cy="47.4" r="0.6"/><circle cx="424.2" cy="46.4" r="0.6"/><circle cx="384.0" cy="88.6" r="0.6"/><circle cx="415.6" cy="40.9" r="0.6"/><circle cx="399.9" cy="53.4" r="0.6"/><circle cx="405.3" cy="50.9" r="0.6"/><circle cx="459.7" cy="87.7" r="0.6"/><circle cx="408.8" cy="48.9" r="0.6"/><circle cx="377.5" cy="94.9" r="0.6"/><circle cx="401.1" cy="60.0" r="0.6"/><circle cx="359.4" cy="113.3" r="0.6"/><circle cx="371.8" cy="99.2" r="0.6"/><circle cx="433.9" cy="57.6" r="0.6"/><circle cx="414.8" cy="38.4" r="0.6"/><circle cx="365.3" cy="105.1" r="0.6"/><circle cx="381.6" cy="93.6" r="0.6"/><circle cx="366.7" cy="106.0" r="0.6"/><circle cx="341.5" cy="112.6" r="0.6"/><circle cx="393.4" cy="64.2" r="0.6"/><circle cx="440.8" cy="61.8" r="0.6"/><circle cx="468.1" cy="100.2" r="0.6"/><circle cx="435.6" cy="55.7" r="0.6"/><circle cx="345.4" cy="115.9" r="0.6"/><circle cx="384.5" cy="87.6" r="0.6"/><circle cx="403.6" cy="48.4" r="0.6"/><circle cx="411.1" cy="38.2" r="0.6"/><circle cx="345.0" cy="114.6" r="0.6"/><circle cx="435.4" cy="50.6" r="0.6"/><circle cx="404.4" cy="60.0" r="0.6"/><circle cx="377.7" cy="102.1" r="0.6"/><circle cx="362.6" cy="103.8" r="0.6"/><circle cx="388.4" cy="75.7" r="0.6"/><circle cx="408.1" cy="49.7" r="0.6"/><circle cx="394.7" cy="61.6" r="0.6"/><circle cx="403.5" cy="56.1" r="0.6"/><circle cx="391.8" cy="65.4" r="0.6"/><circle cx="370.8" cy="97.1" r="0.6"/><circle cx="414.4" cy="44.7" r="0.6"/><circle cx="380.9" cy="86.3" r="0.6"/><circle cx="346.2" cy="110.3" r="0.6"/><circle cx="394.1" cy="65.4" r="0.6"/><circle cx="463.1" cy="93.1" r="0.6"/><circle cx="390.4" cy="71.7" r="0.6"/><circle cx="415.8" cy="41.6" r="0.6"/><circle cx="405.8" cy="45.5" r="0.6"/><circle cx="444.6" cy="74.7" r="0.6"/><circle cx="455.1" cy="81.7" r="0.6"/><circle cx="388.8" cy="81.3" r="0.6"/><circle cx="404.2" cy="42.7" r="0.6"/><circle cx="442.6" cy="64.5" r="0.6"/><circle cx="449.6" cy="71.2" r="0.6"/><circle cx="357.0" cy="107.2" r="0.6"/><circle cx="395.6" cy="74.9" r="0.6"/><circle cx="382.3" cy="92.2" r="0.6"/><circle cx="344.3" cy="110.9" r="0.6"/><circle cx="395.9" cy="58.8" r="0.6"/><circle cx="455.6" cy="84.7" r="0.6"/><circle cx="342.6" cy="115.7" r="0.6"/><circle cx="433.7" cy="50.6" r="0.6"/><circle cx="419.0" cy="47.9" r="0.6"/><circle cx="394.3" cy="64.0" r="0.6"/><circle cx="441.1" cy="67.5" r="0.6"/><circle cx="461.3" cy="94.8" r="0.6"/><circle cx="391.3" cy="66.5" r="0.6"/><circle cx="385.5" cy="79.2" r="0.6"/><circle cx="451.1" cy="82.4" r="0.6"/><circle cx="430.8" cy="53.4" r="0.6"/><circle cx="399.8" cy="63.8" r="0.6"/><circle cx="435.4" cy="60.5" r="0.6"/><circle cx="415.9" cy="48.5" r="0.6"/><circle cx="415.8" cy="50.1" r="0.6"/><circle cx="362.1" cy="102.4" r="0.6"/><circle cx="387.9" cy="68.6" r="0.6"/><circle cx="440.3" cy="59.4" r="0.6"/><circle cx="462.8" cy="101.5" r="0.6"/><circle cx="386.8" cy="79.8" r="0.6"/><circle cx="383.0" cy="83.2" r="0.6"/><circle cx="430.0" cy="49.1" r="0.6"/><circle cx="425.1" cy="45.8" r="0.6"/><circle cx="417.4" cy="48.0" r="0.6"/><circle cx="403.5" cy="57.2" r="0.6"/><circle cx="376.8" cy="97.6" r="0.6"/><circle cx="399.5" cy="50.2" r="0.6"/><circle cx="376.1" cy="92.6" r="0.6"/><circle cx="376.0" cy="87.3" r="0.6"/><circle cx="430.0" cy="52.3" r="0.6"/><circle cx="426.3" cy="37.2" r="0.6"/><circle cx="356.9" cy="110.5" r="0.6"/><circle cx="357.5" cy="111.8" r="0.6"/><circle cx="424.4" cy="54.6" r="0.6"/><circle cx="422.1" cy="37.7" r="0.6"/><circle cx="424.0" cy="45.8" r="0.6"/><circle cx="400.8" cy="60.0" r="0.6"/><circle cx="367.6" cy="103.5" r="0.6"/><circle cx="369.2" cy="100.5" r="0.6"/><circle cx="434.5" cy="51.3" r="0.6"/><circle cx="471.0" cy="114.7" r="0.6"/><circle cx="383.8" cy="87.3" r="0.6"/><circle cx="366.2" cy="103.8" r="0.6"/><circle cx="446.9" cy="78.0" r="0.6"/><circle cx="405.2" cy="57.0" r="0.6"/><circle cx="404.0" cy="52.3" r="0.6"/><circle cx="336.2" cy="115.6" r="0.6"/><circle cx="411.2" cy="43.3" r="0.6"/><circle cx="445.3" cy="67.0" r="0.6"/><circle cx="450.1" cy="73.2" r="0.6"/><circle cx="405.3" cy="60.5" r="0.6"/><circle cx="437.0" cy="56.9" r="0.6"/><circle cx="451.9" cy="80.2" r="0.6"/><circle cx="378.7" cy="96.9" r="0.6"/><circle cx="414.6" cy="43.3" r="0.6"/><circle cx="453.0" cy="84.0" r="0.6"/><circle cx="392.7" cy="69.5" r="0.6"/><circle cx="382.0" cy="95.5" r="0.6"/><circle cx="339.1" cy="113.2" r="0.6"/><circle cx="377.3" cy="89.0" r="0.6"/><circle cx="347.5" cy="114.1" r="0.6"/><circle cx="405.5" cy="53.4" r="0.6"/><circle cx="400.8" cy="56.0" r="0.6"/><circle cx="453.9" cy="83.1" r="0.6"/><circle cx="449.6" cy="74.4" r="0.6"/><circle cx="464.0" cy="98.1" r="0.6"/><circle cx="437.8" cy="64.2" r="0.6"/><circle cx="369.4" cy="101.6" r="0.6"/><circle cx="452.0" cy="80.2" r="0.6"/><circle cx="384.6" cy="72.1" r="0.6"/><circle cx="402.3" cy="57.0" r="0.6"/><circle cx="400.9" cy="58.7" r="0.6"/><circle cx="412.5" cy="46.4" r="0.6"/><circle cx="443.7" cy="63.7" r="0.6"/><circle cx="390.9" cy="79.3" r="0.6"/><circle cx="431.0" cy="57.4" r="0.6"/><circle cx="381.9" cy="85.1" r="0.6"/><circle cx="429.5" cy="40.4" r="0.6"/><circle cx="387.5" cy="81.4" r="0.6"/><circle cx="392.0" cy="67.3" r="0.6"/><circle cx="394.1" cy="55.6" r="0.6"/><circle cx="413.8" cy="43.0" r="0.6"/><circle cx="345.4" cy="113.3" r="0.6"/><circle cx="425.9" cy="44.2" r="0.6"/><circle cx="413.8" cy="45.9" r="0.6"/><circle cx="396.5" cy="66.3" r="0.6"/><circle cx="452.6" cy="70.4" r="0.6"/><circle cx="382.0" cy="81.2" r="0.6"/><circle cx="433.1" cy="56.8" r="0.6"/><circle cx="415.3" cy="42.4" r="0.6"/><circle cx="367.7" cy="107.0" r="0.6"/><circle cx="472.4" cy="111.5" r="0.6"/><circle cx="404.2" cy="49.4" r="0.6"/><circle cx="387.7" cy="78.9" r="0.6"/><circle cx="401.8" cy="44.0" r="0.6"/><circle cx="451.8" cy="79.8" r="0.6"/><circle cx="405.7" cy="54.8" r="0.6"/><circle cx="427.5" cy="44.8" r="0.6"/><circle cx="358.0" cy="105.2" r="0.6"/><circle cx="406.1" cy="47.3" r="0.6"/><circle cx="426.1" cy="44.5" r="0.6"/><circle cx="395.5" cy="72.0" r="0.6"/><circle cx="440.7" cy="65.8" r="0.6"/><circle cx="413.9" cy="42.4" r="0.6"/><circle cx="397.3" cy="63.8" r="0.6"/><circle cx="395.6" cy="58.1" r="0.6"/><circle cx="447.4" cy="65.2" r="0.6"/><circle cx="385.4" cy="77.4" r="0.6"/><circle cx="384.9" cy="83.0" r="0.6"/><circle cx="379.4" cy="96.4" r="0.6"/><circle cx="361.1" cy="111.9" r="0.6"/><circle cx="419.6" cy="46.7" r="0.6"/><circle cx="382.4" cy="86.6" r="0.6"/><circle cx="371.0" cy="100.2" r="0.6"/><circle cx="451.3" cy="75.4" r="0.6"/><circle cx="453.6" cy="87.5" r="0.6"/><circle cx="355.7" cy="111.7" r="0.6"/><circle cx="426.7" cy="46.5" r="0.6"/><circle cx="390.9" cy="65.3" r="0.6"/><circle cx="413.7" cy="43.6" r="0.6"/><circle cx="437.7" cy="58.6" r="0.6"/><circle cx="387.0" cy="87.4" r="0.6"/><circle cx="438.5" cy="60.4" r="0.6"/><circle cx="467.5" cy="105.0" r="0.6"/><circle cx="374.7" cy="90.5" r="0.6"/><circle cx="412.0" cy="41.5" r="0.6"/><circle cx="394.9" cy="73.0" r="0.6"/><circle cx="450.8" cy="73.1" r="0.6"/><circle cx="356.9" cy="112.9" r="0.6"/><circle cx="373.1" cy="104.1" r="0.6"/><circle cx="447.8" cy="72.8" r="0.6"/><circle cx="381.9" cy="90.0" r="0.6"/><circle cx="374.7" cy="110.5" r="0.6"/><circle cx="398.8" cy="62.6" r="0.6"/><circle cx="375.6" cy="94.1" r="0.6"/><circle cx="421.7" cy="36.0" r="0.6"/><circle cx="460.3" cy="92.3" r="0.6"/><circle cx="409.4" cy="44.6" r="0.6"/><circle cx="436.0" cy="64.0" r="0.6"/><circle cx="410.1" cy="43.0" r="0.6"/><circle cx="376.4" cy="95.4" r="0.6"/><circle cx="405.8" cy="47.9" r="0.6"/><circle cx="343.4" cy="113.1" r="0.6"/><circle cx="416.0" cy="42.8" r="0.6"/><circle cx="415.6" cy="53.4" r="0.6"/><circle cx="354.1" cy="112.9" r="0.6"/><circle cx="438.2" cy="56.9" r="0.6"/><circle cx="452.0" cy="80.6" r="0.6"/><circle cx="356.4" cy="110.9" r="0.6"/><circle cx="439.7" cy="60.9" r="0.6"/><circle cx="397.6" cy="62.7" r="0.6"/><circle cx="458.4" cy="86.8" r="0.6"/><circle cx="459.9" cy="90.0" r="0.6"/><circle cx="419.9" cy="47.5" r="0.6"/><circle cx="386.3" cy="80.7" r="0.6"/><circle cx="397.9" cy="56.6" r="0.6"/><circle cx="431.5" cy="48.0" r="0.6"/><circle cx="382.5" cy="86.7" r="0.6"/><circle cx="461.2" cy="89.9" r="0.6"/><circle cx="405.6" cy="54.9" r="0.6"/><circle cx="467.9" cy="104.8" r="0.6"/><circle cx="354.0" cy="112.4" r="0.6"/><circle cx="391.1" cy="70.7" r="0.6"/><circle cx="379.3" cy="96.9" r="0.6"/><circle cx="475.8" cy="115.7" r="0.6"/><circle cx="383.5" cy="93.2" r="0.6"/><circle cx="368.7" cy="108.5" r="0.6"/><circle cx="437.5" cy="55.2" r="0.6"/><circle cx="361.4" cy="106.6" r="0.6"/><circle cx="361.2" cy="109.8" r="0.6"/><circle cx="451.6" cy="82.1" r="0.6"/><circle cx="364.3" cy="111.0" r="0.6"/><circle cx="416.8" cy="48.2" r="0.6"/><circle cx="431.9" cy="48.7" r="0.6"/><circle cx="386.5" cy="82.2" r="0.6"/><circle cx="375.6" cy="95.5" r="0.6"/><circle cx="421.6" cy="45.3" r="0.6"/><circle cx="400.1" cy="66.9" r="0.6"/><circle cx="372.1" cy="97.8" r="0.6"/><circle cx="417.5" cy="47.1" r="0.6"/><circle cx="351.2" cy="112.6" r="0.6"/><circle cx="431.8" cy="50.3" r="0.6"/><circle cx="356.5" cy="114.1" r="0.6"/><circle cx="344.9" cy="115.2" r="0.6"/><circle cx="433.7" cy="55.6" r="0.6"/><circle cx="468.8" cy="107.3" r="0.6"/><circle cx="361.1" cy="112.3" r="0.6"/><circle cx="457.1" cy="86.4" r="0.6"/><circle cx="392.0" cy="65.7" r="0.6"/><circle cx="392.7" cy="67.6" r="0.6"/><circle cx="399.4" cy="61.9" r="0.6"/><circle cx="359.0" cy="110.3" r="0.6"/><circle cx="403.0" cy="56.3" r="0.6"/><circle cx="435.5" cy="61.6" r="0.6"/><circle cx="355.1" cy="112.5" r="0.6"/><circle cx="368.7" cy="106.1" r="0.6"/><circle cx="418.6" cy="47.7" r="0.6"/><circle cx="433.4" cy="48.7" r="0.6"/><circle cx="407.4" cy="54.8" r="0.6"/><circle cx="402.5" cy="60.0" r="0.6"/><circle cx="390.6" cy="79.2" r="0.6"/><circle cx="467.7" cy="104.4" r="0.6"/><circle cx="389.0" cy="79.7" r="0.6"/><circle cx="382.5" cy="86.9" r="0.6"/><circle cx="416.7" cy="45.0" r="0.6"/><circle cx="381.1" cy="77.4" r="0.6"/><circle cx="437.0" cy="59.7" r="0.6"/><circle cx="392.5" cy="70.8" r="0.6"/><circle cx="417.8" cy="37.2" r="0.6"/><circle cx="426.3" cy="46.6" r="0.6"/><circle cx="435.9" cy="56.8" r="0.6"/><circle cx="432.2" cy="58.7" r="0.6"/><circle cx="363.4" cy="107.4" r="0.6"/><circle cx="411.4" cy="48.1" r="0.6"/><circle cx="411.2" cy="42.4" r="0.6"/><circle cx="433.7" cy="50.5" r="0.6"/><circle cx="373.4" cy="98.4" r="0.6"/><circle cx="441.5" cy="63.0" r="0.6"/><circle cx="468.4" cy="105.3" r="0.6"/><circle cx="336.2" cy="116.9" r="0.6"/><circle cx="385.2" cy="91.1" r="0.6"/><circle cx="397.9" cy="66.7" r="0.6"/><circle cx="430.3" cy="44.3" r="0.6"/><circle cx="404.9" cy="51.7" r="0.6"/><circle cx="370.4" cy="106.0" r="0.6"/><circle cx="410.0" cy="44.2" r="0.6"/><circle cx="421.7" cy="45.0" r="0.6"/><circle cx="443.2" cy="63.9" r="0.6"/><circle cx="464.9" cy="96.8" r="0.6"/><circle cx="439.2" cy="61.8" r="0.6"/><circle cx="360.2" cy="107.7" r="0.6"/><circle cx="456.9" cy="88.4" r="0.6"/><circle cx="447.8" cy="72.6" r="0.6"/><circle cx="373.4" cy="99.1" r="0.6"/><circle cx="402.5" cy="57.1" r="0.6"/><circle cx="414.6" cy="45.3" r="0.6"/><circle cx="408.5" cy="43.4" r="0.6"/><circle cx="449.4" cy="75.1" r="0.6"/><circle cx="402.8" cy="51.5" r="0.6"/><circle cx="397.9" cy="71.9" r="0.6"/><circle cx="425.6" cy="46.6" r="0.6"/><circle cx="454.6" cy="84.3" r="0.6"/><circle cx="339.8" cy="114.1" r="0.6"/><circle cx="435.5" cy="48.3" r="0.6"/><circle cx="459.9" cy="97.0" r="0.6"/><circle cx="401.4" cy="56.5" r="0.6"/><circle cx="407.7" cy="42.5" r="0.6"/><circle cx="359.0" cy="113.7" r="0.6"/><circle cx="415.8" cy="38.2" r="0.6"/><circle cx="391.3" cy="63.9" r="0.6"/><circle cx="341.7" cy="114.2" r="0.6"/><circle cx="465.5" cy="101.1" r="0.6"/><circle cx="402.9" cy="45.4" r="0.6"/><circle cx="424.7" cy="39.0" r="0.6"/><circle cx="380.4" cy="94.6" r="0.6"/><circle cx="449.8" cy="73.0" r="0.6"/><circle cx="366.2" cy="107.2" r="0.6"/><circle cx="394.1" cy="68.7" r="0.6"/><circle cx="463.6" cy="92.3" r="0.6"/><circle cx="410.5" cy="55.7" r="0.6"/><circle cx="357.3" cy="107.8" r="0.6"/><circle cx="349.6" cy="111.1" r="0.6"/><circle cx="412.5" cy="47.6" r="0.6"/><circle cx="402.0" cy="61.1" r="0.6"/><circle cx="451.2" cy="83.8" r="0.6"/><circle cx="339.5" cy="113.8" r="0.6"/><circle cx="442.6" cy="63.3" r="0.6"/><circle cx="388.1" cy="83.8" r="0.6"/><circle cx="340.9" cy="116.1" r="0.6"/><circle cx="407.7" cy="48.6" r="0.6"/><circle cx="460.4" cy="95.1" r="0.6"/><circle cx="434.7" cy="50.2" r="0.6"/><circle cx="460.6" cy="93.5" r="0.6"/><circle cx="356.0" cy="112.4" r="0.6"/><circle cx="363.5" cy="101.8" r="0.6"/><circle cx="366.7" cy="106.3" r="0.6"/><circle cx="426.2" cy="44.7" r="0.6"/><circle cx="450.5" cy="76.3" r="0.6"/><circle cx="441.1" cy="62.4" r="0.6"/><circle cx="362.2" cy="114.6" r="0.6"/><circle cx="439.0" cy="62.0" r="0.6"/><circle cx="404.5" cy="48.2" r="0.6"/><circle cx="394.2" cy="75.3" r="0.6"/><circle cx="388.9" cy="75.7" r="0.6"/><circle cx="443.0" cy="74.9" r="0.6"/><circle cx="437.1" cy="53.6" r="0.6"/><circle cx="419.2" cy="44.6" r="0.6"/><circle cx="394.9" cy="70.2" r="0.6"/><circle cx="453.7" cy="83.1" r="0.6"/><circle cx="437.4" cy="62.2" r="0.6"/><circle cx="435.3" cy="49.8" r="0.6"/><circle cx="340.1" cy="115.6" r="0.6"/><circle cx="365.3" cy="109.2" r="0.6"/><circle cx="393.3" cy="72.1" r="0.6"/><circle cx="366.0" cy="106.7" r="0.6"/><circle cx="336.3" cy="115.1" r="0.6"/><circle cx="382.9" cy="87.9" r="0.6"/><circle cx="465.8" cy="98.8" r="0.6"/><circle cx="461.1" cy="101.1" r="0.6"/><circle cx="427.7" cy="40.0" r="0.6"/><circle cx="408.0" cy="40.3" r="0.6"/><circle cx="385.6" cy="71.0" r="0.6"/><circle cx="362.6" cy="105.3" r="0.6"/><circle cx="378.6" cy="91.1" r="0.6"/><circle cx="340.2" cy="112.5" r="0.6"/><circle cx="389.3" cy="75.9" r="0.6"/><circle cx="370.4" cy="100.4" r="0.6"/><circle cx="375.6" cy="97.0" r="0.6"/><circle cx="381.4" cy="85.7" r="0.6"/><circle cx="396.6" cy="70.2" r="0.6"/><circle cx="382.2" cy="96.7" r="0.6"/><circle cx="411.1" cy="37.6" r="0.6"/><circle cx="342.1" cy="111.1" r="0.6"/><circle cx="376.6" cy="90.6" r="0.6"/><circle cx="438.4" cy="62.8" r="0.6"/><circle cx="421.4" cy="41.4" r="0.6"/><circle cx="394.2" cy="69.3" r="0.6"/><circle cx="374.4" cy="95.2" r="0.6"/><circle cx="386.1" cy="88.6" r="0.6"/><circle cx="425.0" cy="49.2" r="0.6"/><circle cx="375.4" cy="94.2" r="0.6"/><circle cx="365.5" cy="107.0" r="0.6"/><circle cx="434.7" cy="56.2" r="0.6"/><circle cx="414.8" cy="44.1" r="0.6"/><circle cx="415.0" cy="46.1" r="0.6"/><circle cx="375.2" cy="86.3" r="0.6"/><circle cx="375.8" cy="95.0" r="0.6"/><circle cx="449.1" cy="70.9" r="0.6"/><circle cx="452.2" cy="80.2" r="0.6"/><circle cx="367.6" cy="100.4" r="0.6"/><circle cx="382.8" cy="86.2" r="0.6"/><circle cx="418.6" cy="49.4" r="0.6"/><circle cx="385.6" cy="87.7" r="0.6"/><circle cx="349.9" cy="112.4" r="0.6"/><circle cx="378.9" cy="93.5" r="0.6"/><circle cx="395.0" cy="64.1" r="0.6"/><circle cx="376.7" cy="87.9" r="0.6"/><circle cx="420.9" cy="41.8" r="0.6"/><circle cx="451.2" cy="76.3" r="0.6"/><circle cx="459.0" cy="96.2" r="0.6"/><circle cx="460.8" cy="88.6" r="0.6"/><circle cx="452.3" cy="78.9" r="0.6"/><circle cx="363.2" cy="105.0" r="0.6"/><circle cx="427.5" cy="54.0" r="0.6"/><circle cx="399.7" cy="53.6" r="0.6"/><circle cx="368.6" cy="104.0" r="0.6"/><circle cx="345.1" cy="116.1" r="0.6"/><circle cx="428.4" cy="48.3" r="0.6"/><circle cx="457.9" cy="87.2" r="0.6"/><circle cx="393.8" cy="63.6" r="0.6"/><circle cx="448.5" cy="76.9" r="0.6"/><circle cx="381.6" cy="91.6" r="0.6"/><circle cx="428.2" cy="44.9" r="0.6"/><circle cx="381.0" cy="87.6" r="0.6"/><circle cx="359.5" cy="110.7" r="0.6"/><circle cx="376.7" cy="100.8" r="0.6"/><circle cx="342.0" cy="109.8" r="0.6"/><circle cx="424.5" cy="44.0" r="0.6"/><circle cx="386.5" cy="68.8" r="0.6"/><circle cx="439.7" cy="63.5" r="0.6"/><circle cx="391.6" cy="67.5" r="0.6"/><circle cx="430.6" cy="46.4" r="0.6"/><circle cx="374.2" cy="92.5" r="0.6"/><circle cx="401.7" cy="54.0" r="0.6"/><circle cx="423.4" cy="47.5" r="0.6"/><circle cx="451.1" cy="77.1" r="0.6"/><circle cx="370.1" cy="98.6" r="0.6"/><circle cx="368.4" cy="104.8" r="0.6"/><circle cx="348.8" cy="115.3" r="0.6"/><circle cx="454.7" cy="84.7" r="0.6"/><circle cx="422.2" cy="43.7" r="0.6"/><circle cx="445.5" cy="68.3" r="0.6"/><circle cx="372.7" cy="100.7" r="0.6"/><circle cx="439.3" cy="62.8" r="0.6"/><circle cx="369.0" cy="100.0" r="0.6"/><circle cx="450.0" cy="75.8" r="0.6"/><circle cx="375.3" cy="100.2" r="0.6"/><circle cx="387.7" cy="74.8" r="0.6"/><circle cx="444.6" cy="66.9" r="0.6"/><circle cx="362.1" cy="107.3" r="0.6"/><circle cx="434.6" cy="58.4" r="0.6"/><circle cx="403.1" cy="58.6" r="0.6"/><circle cx="440.9" cy="60.0" r="0.6"/><circle cx="409.3" cy="35.8" r="0.6"/><circle cx="368.2" cy="111.9" r="0.6"/><circle cx="361.6" cy="103.4" r="0.6"/><circle cx="395.2" cy="55.8" r="0.6"/><circle cx="432.3" cy="51.8" r="0.6"/><circle cx="354.6" cy="115.4" r="0.6"/><circle cx="390.5" cy="72.5" r="0.6"/><circle cx="391.7" cy="61.7" r="0.6"/><circle cx="428.3" cy="44.3" r="0.6"/><circle cx="348.2" cy="112.9" r="0.6"/><circle cx="465.8" cy="98.9" r="0.6"/><circle cx="424.9" cy="43.6" r="0.6"/><circle cx="368.9" cy="108.7" r="0.6"/><circle cx="397.0" cy="66.2" r="0.6"/><circle cx="408.5" cy="40.8" r="0.6"/><circle cx="407.9" cy="59.2" r="0.6"/><circle cx="434.9" cy="57.5" r="0.6"/><circle cx="398.2" cy="66.9" r="0.6"/><circle cx="418.1" cy="44.6" r="0.6"/><circle cx="371.4" cy="102.0" r="0.6"/><circle cx="349.3" cy="113.5" r="0.6"/><circle cx="457.2" cy="91.0" r="0.6"/><circle cx="413.0" cy="42.9" r="0.6"/><circle cx="446.8" cy="71.6" r="0.6"/><circle cx="434.2" cy="60.0" r="0.6"/><circle cx="361.9" cy="108.5" r="0.6"/><circle cx="398.5" cy="55.9" r="0.6"/><circle cx="369.8" cy="96.5" r="0.6"/><circle cx="396.2" cy="53.0" r="0.6"/><circle cx="363.8" cy="107.2" r="0.6"/><circle cx="384.7" cy="85.5" r="0.6"/><circle cx="375.3" cy="92.9" r="0.6"/><circle cx="368.1" cy="101.8" r="0.6"/><circle cx="421.5" cy="43.2" r="0.6"/><circle cx="380.6" cy="90.9" r="0.6"/><circle cx="405.5" cy="59.2" r="0.6"/><circle cx="438.6" cy="64.2" r="0.6"/><circle cx="474.1" cy="111.9" r="0.6"/><circle cx="386.1" cy="85.9" r="0.6"/><circle cx="371.6" cy="103.9" r="0.6"/><circle cx="377.0" cy="98.1" r="0.6"/><circle cx="421.9" cy="49.8" r="0.6"/><circle cx="379.5" cy="82.3" r="0.6"/><circle cx="415.0" cy="43.4" r="0.6"/><circle cx="420.4" cy="45.6" r="0.6"/><circle cx="443.2" cy="68.3" r="0.6"/><circle cx="424.4" cy="44.8" r="0.6"/><circle cx="372.1" cy="103.0" r="0.6"/><circle cx="399.7" cy="53.3" r="0.6"/><circle cx="404.1" cy="56.1" r="0.6"/><circle cx="436.8" cy="59.2" r="0.6"/><circle cx="358.9" cy="109.3" r="0.6"/><circle cx="417.0" cy="48.6" r="0.6"/><circle cx="441.9" cy="62.6" r="0.6"/><circle cx="413.5" cy="41.1" r="0.6"/><circle cx="438.7" cy="59.6" r="0.6"/><circle cx="382.3" cy="82.4" r="0.6"/><circle cx="391.0" cy="68.5" r="0.6"/><circle cx="382.0" cy="82.1" r="0.6"/><circle cx="394.4" cy="63.3" r="0.6"/><circle cx="391.5" cy="56.2" r="0.6"/><circle cx="452.6" cy="80.3" r="0.6"/><circle cx="426.6" cy="39.5" r="0.6"/><circle cx="388.1" cy="72.6" r="0.6"/><circle cx="362.9" cy="110.0" r="0.6"/><circle cx="366.1" cy="107.9" r="0.6"/><circle cx="401.5" cy="53.0" r="0.6"/><circle cx="448.0" cy="70.1" r="0.6"/><circle cx="436.2" cy="60.8" r="0.6"/><circle cx="410.0" cy="41.3" r="0.6"/><circle cx="416.9" cy="45.1" r="0.6"/><circle cx="399.9" cy="58.8" r="0.6"/><circle cx="374.1" cy="95.1" r="0.6"/><circle cx="368.9" cy="104.8" r="0.6"/><circle cx="402.5" cy="55.8" r="0.6"/><circle cx="366.2" cy="108.4" r="0.6"/><circle cx="408.2" cy="46.3" r="0.6"/><circle cx="346.5" cy="115.6" r="0.6"/><circle cx="368.0" cy="101.7" r="0.6"/><circle cx="378.3" cy="95.5" r="0.6"/><circle cx="411.5" cy="50.7" r="0.6"/><circle cx="352.8" cy="111.3" r="0.6"/><circle cx="442.5" cy="71.0" r="0.6"/><circle cx="389.3" cy="73.8" r="0.6"/><circle cx="401.8" cy="61.6" r="0.6"/><circle cx="390.0" cy="71.6" r="0.6"/><circle cx="414.2" cy="37.0" r="0.6"/><circle cx="362.9" cy="107.8" r="0.6"/><circle cx="337.7" cy="111.2" r="0.6"/><circle cx="408.4" cy="45.5" r="0.6"/><circle cx="381.2" cy="89.9" r="0.6"/><circle cx="394.1" cy="75.2" r="0.6"/><circle cx="377.8" cy="89.9" r="0.6"/><circle cx="401.8" cy="59.7" r="0.6"/><circle cx="422.4" cy="44.1" r="0.6"/><circle cx="420.3" cy="40.2" r="0.6"/><circle cx="339.0" cy="114.6" r="0.6"/><circle cx="454.6" cy="85.8" r="0.6"/><circle cx="455.3" cy="88.4" r="0.6"/><circle cx="409.9" cy="49.2" r="0.6"/><circle cx="445.1" cy="68.0" r="0.6"/><circle cx="442.3" cy="59.0" r="0.6"/><circle cx="398.4" cy="56.4" r="0.6"/><circle cx="419.7" cy="47.0" r="0.6"/><circle cx="374.9" cy="98.4" r="0.6"/><circle cx="431.9" cy="52.4" r="0.6"/><circle cx="406.7" cy="57.3" r="0.6"/><circle cx="355.7" cy="112.3" r="0.6"/><circle cx="362.1" cy="110.9" r="0.6"/><circle cx="432.2" cy="58.9" r="0.6"/><circle cx="349.0" cy="111.7" r="0.6"/><circle cx="454.8" cy="80.9" r="0.6"/><circle cx="413.3" cy="47.2" r="0.6"/><circle cx="436.9" cy="58.0" r="0.6"/><circle cx="374.8" cy="105.7" r="0.6"/><circle cx="444.4" cy="62.4" r="0.6"/><circle cx="371.7" cy="102.4" r="0.6"/><circle cx="427.9" cy="47.3" r="0.6"/><circle cx="404.5" cy="49.2" r="0.6"/><circle cx="361.9" cy="113.4" r="0.6"/><circle cx="372.3" cy="98.9" r="0.6"/><circle cx="433.6" cy="49.7" r="0.6"/><circle cx="362.2" cy="109.9" r="0.6"/><circle cx="350.0" cy="112.3" r="0.6"/><circle cx="353.6" cy="112.0" r="0.6"/><circle cx="423.2" cy="43.5" r="0.6"/><circle cx="390.7" cy="72.2" r="0.6"/><circle cx="419.0" cy="47.5" r="0.6"/><circle cx="376.4" cy="92.9" r="0.6"/><circle cx="385.4" cy="85.6" r="0.6"/><circle cx="376.0" cy="101.8" r="0.6"/><circle cx="368.8" cy="99.7" r="0.6"/><circle cx="437.8" cy="61.0" r="0.6"/><circle cx="398.5" cy="63.2" r="0.6"/><circle cx="420.3" cy="36.6" r="0.6"/><circle cx="427.5" cy="44.6" r="0.6"/><circle cx="415.1" cy="45.4" r="0.6"/><circle cx="434.5" cy="61.5" r="0.6"/><circle cx="407.8" cy="39.1" r="0.6"/><circle cx="390.9" cy="71.0" r="0.6"/><circle cx="423.2" cy="41.9" r="0.6"/><circle cx="397.8" cy="56.9" r="0.6"/><circle cx="421.1" cy="55.2" r="0.6"/><circle cx="424.9" cy="47.8" r="0.6"/><circle cx="338.5" cy="112.3" r="0.6"/><circle cx="438.1" cy="60.6" r="0.6"/><circle cx="459.6" cy="89.4" r="0.6"/><circle cx="364.0" cy="105.3" r="0.6"/><circle cx="449.9" cy="77.6" r="0.6"/><circle cx="382.9" cy="92.7" r="0.6"/><circle cx="412.0" cy="54.3" r="0.6"/><circle cx="352.9" cy="114.3" r="0.6"/><circle cx="408.8" cy="46.9" r="0.6"/><circle cx="364.3" cy="103.6" r="0.6"/><circle cx="460.9" cy="89.6" r="0.6"/><circle cx="454.6" cy="86.9" r="0.6"/><circle cx="413.2" cy="51.3" r="0.6"/><circle cx="374.8" cy="106.5" r="0.6"/><circle cx="422.4" cy="44.0" r="0.6"/><circle cx="455.9" cy="85.9" r="0.6"/><circle cx="442.2" cy="60.8" r="0.6"/><circle cx="467.4" cy="102.0" r="0.6"/><circle cx="428.0" cy="57.4" r="0.6"/><circle cx="368.6" cy="107.2" r="0.6"/><circle cx="432.8" cy="52.7" r="0.6"/><circle cx="456.3" cy="89.1" r="0.6"/><circle cx="435.6" cy="52.0" r="0.6"/><circle cx="384.7" cy="79.6" r="0.6"/><circle cx="380.5" cy="91.9" r="0.6"/><circle cx="448.9" cy="80.4" r="0.6"/><circle cx="447.2" cy="68.6" r="0.6"/><circle cx="440.7" cy="70.9" r="0.6"/><circle cx="426.5" cy="51.9" r="0.6"/><circle cx="358.5" cy="113.4" r="0.6"/><circle cx="398.2" cy="64.1" r="0.6"/><circle cx="363.6" cy="108.9" r="0.6"/><circle cx="447.1" cy="71.9" r="0.6"/><circle cx="432.1" cy="47.9" r="0.6"/><circle cx="404.7" cy="62.4" r="0.6"/><circle cx="356.2" cy="108.9" r="0.6"/><circle cx="471.1" cy="109.7" r="0.6"/><circle cx="451.5" cy="83.1" r="0.6"/><circle cx="393.3" cy="70.8" r="0.6"/><circle cx="372.5" cy="94.3" r="0.6"/><circle cx="399.3" cy="61.9" r="0.6"/><circle cx="377.4" cy="94.2" r="0.6"/><circle cx="376.6" cy="98.5" r="0.6"/><circle cx="401.7" cy="54.6" r="0.6"/><circle cx="364.3" cy="101.8" r="0.6"/><circle cx="392.5" cy="66.6" r="0.6"/><circle cx="391.1" cy="77.7" r="0.6"/><circle cx="413.4" cy="42.4" r="0.6"/><circle cx="404.6" cy="56.0" r="0.6"/><circle cx="339.7" cy="110.2" r="0.6"/><circle cx="389.6" cy="60.8" r="0.6"/><circle cx="460.1" cy="91.2" r="0.6"/><circle cx="444.7" cy="69.7" r="0.6"/><circle cx="378.1" cy="89.1" r="0.6"/><circle cx="456.7" cy="82.3" r="0.6"/><circle cx="409.2" cy="38.8" r="0.6"/><circle cx="405.6" cy="41.5" r="0.6"/><circle cx="470.3" cy="110.0" r="0.6"/><circle cx="443.2" cy="63.3" r="0.6"/><circle cx="473.3" cy="114.0" r="0.6"/><circle cx="401.2" cy="53.2" r="0.6"/><circle cx="377.6" cy="94.5" r="0.6"/><circle cx="360.6" cy="106.5" r="0.6"/><circle cx="352.6" cy="112.8" r="0.6"/><circle cx="436.6" cy="60.4" r="0.6"/><circle cx="402.5" cy="45.6" r="0.6"/><circle cx="373.9" cy="96.7" r="0.6"/><circle cx="440.3" cy="70.5" r="0.6"/><circle cx="446.6" cy="70.2" r="0.6"/><circle cx="434.1" cy="55.5" r="0.6"/><circle cx="434.6" cy="55.3" r="0.6"/><circle cx="349.9" cy="111.8" r="0.6"/><circle cx="437.6" cy="65.1" r="0.6"/><circle cx="413.1" cy="46.1" r="0.6"/><circle cx="408.0" cy="47.4" r="0.6"/><circle cx="401.8" cy="49.0" r="0.6"/><circle cx="444.9" cy="76.4" r="0.6"/><circle cx="348.6" cy="114.0" r="0.6"/><circle cx="441.6" cy="59.8" r="0.6"/><circle cx="456.9" cy="84.6" r="0.6"/><circle cx="432.2" cy="48.9" r="0.6"/><circle cx="377.9" cy="96.4" r="0.6"/><circle cx="368.0" cy="104.3" r="0.6"/><circle cx="362.7" cy="106.3" r="0.6"/><circle cx="431.4" cy="44.8" r="0.6"/><circle cx="354.7" cy="107.7" r="0.6"/><circle cx="447.6" cy="70.0" r="0.6"/><circle cx="395.0" cy="66.0" r="0.6"/><circle cx="412.1" cy="39.6" r="0.6"/><circle cx="467.9" cy="104.5" r="0.6"/><circle cx="401.3" cy="55.0" r="0.6"/><circle cx="425.8" cy="47.0" r="0.6"/><circle cx="417.8" cy="38.2" r="0.6"/><circle cx="347.9" cy="115.7" r="0.6"/><circle cx="410.1" cy="45.2" r="0.6"/><circle cx="390.2" cy="80.2" r="0.6"/><circle cx="456.7" cy="83.1" r="0.6"/><circle cx="429.4" cy="49.6" r="0.6"/><circle cx="437.3" cy="53.7" r="0.6"/><circle cx="399.9" cy="58.3" r="0.6"/><circle cx="418.8" cy="40.4" r="0.6"/><circle cx="440.2" cy="54.8" r="0.6"/><circle cx="422.3" cy="39.6" r="0.6"/><circle cx="406.1" cy="45.5" r="0.6"/><circle cx="460.8" cy="94.7" r="0.6"/><circle cx="431.3" cy="56.7" r="0.6"/><circle cx="384.3" cy="85.2" r="0.6"/><circle cx="420.4" cy="36.2" r="0.6"/><circle cx="367.9" cy="103.0" r="0.6"/><circle cx="409.5" cy="41.6" r="0.6"/><circle cx="425.8" cy="37.9" r="0.6"/><circle cx="401.9" cy="59.0" r="0.6"/><circle cx="388.3" cy="63.1" r="0.6"/><circle cx="420.5" cy="40.0" r="0.6"/><circle cx="348.2" cy="112.0" r="0.6"/><circle cx="374.4" cy="95.0" r="0.6"/><circle cx="425.8" cy="39.7" r="0.6"/><circle cx="454.7" cy="85.4" r="0.6"/><circle cx="388.0" cy="81.4" r="0.6"/><circle cx="415.3" cy="38.7" r="0.6"/><circle cx="413.1" cy="42.6" r="0.6"/><circle cx="453.7" cy="79.1" r="0.6"/><circle cx="461.8" cy="90.5" r="0.6"/><circle cx="362.1" cy="110.8" r="0.6"/><circle cx="394.6" cy="69.1" r="0.6"/><circle cx="403.5" cy="59.7" r="0.6"/><circle cx="393.2" cy="73.2" r="0.6"/><circle cx="381.5" cy="87.5" r="0.6"/><circle cx="435.0" cy="56.0" r="0.6"/><circle cx="349.6" cy="113.7" r="0.6"/><circle cx="403.5" cy="59.1" r="0.6"/><circle cx="419.9" cy="47.7" r="0.6"/><circle cx="405.1" cy="60.3" r="0.6"/><circle cx="364.4" cy="107.4" r="0.6"/><circle cx="405.1" cy="47.8" r="0.6"/><circle cx="471.2" cy="109.4" r="0.6"/><circle cx="439.7" cy="60.1" r="0.6"/><circle cx="414.2" cy="43.4" r="0.6"/><circle cx="398.3" cy="58.9" r="0.6"/><circle cx="379.4" cy="95.2" r="0.6"/><circle cx="397.3" cy="66.3" r="0.6"/><circle cx="428.9" cy="55.0" r="0.6"/><circle cx="422.9" cy="51.5" r="0.6"/><circle cx="453.3" cy="81.7" r="0.6"/><circle cx="412.5" cy="34.9" r="0.6"/><circle cx="337.7" cy="114.7" r="0.6"/><circle cx="439.0" cy="64.0" r="0.6"/><circle cx="363.1" cy="109.4" r="0.6"/><circle cx="368.6" cy="106.0" r="0.6"/><circle cx="388.6" cy="75.0" r="0.6"/><circle cx="399.3" cy="65.1" r="0.6"/><circle cx="443.7" cy="65.3" r="0.6"/><circle cx="453.0" cy="77.8" r="0.6"/><circle cx="391.5" cy="72.9" r="0.6"/><circle cx="463.7" cy="97.6" r="0.6"/><circle cx="379.7" cy="94.1" r="0.6"/><circle cx="406.6" cy="37.5" r="0.6"/><circle cx="439.7" cy="59.1" r="0.6"/><circle cx="412.4" cy="43.7" r="0.6"/><circle cx="461.2" cy="90.3" r="0.6"/><circle cx="424.7" cy="48.6" r="0.6"/><circle cx="386.9" cy="83.7" r="0.6"/><circle cx="432.1" cy="56.9" r="0.6"/><circle cx="356.1" cy="109.3" r="0.6"/><circle cx="384.5" cy="73.0" r="0.6"/><circle cx="348.5" cy="112.1" r="0.6"/><circle cx="395.2" cy="60.8" r="0.6"/><circle cx="383.9" cy="86.6" r="0.6"/><circle cx="405.8" cy="52.0" r="0.6"/><circle cx="454.4" cy="79.9" r="0.6"/><circle cx="394.4" cy="67.1" r="0.6"/><circle cx="389.3" cy="78.6" r="0.6"/><circle cx="425.1" cy="57.3" r="0.6"/><circle cx="461.3" cy="89.0" r="0.6"/><circle cx="382.9" cy="78.2" r="0.6"/><circle cx="404.8" cy="57.1" r="0.6"/><circle cx="407.0" cy="52.5" r="0.6"/><circle cx="415.2" cy="35.2" r="0.6"/><circle cx="344.3" cy="112.2" r="0.6"/><circle cx="440.3" cy="70.9" r="0.6"/><circle cx="387.3" cy="76.3" r="0.6"/><circle cx="382.7" cy="83.0" r="0.6"/><circle cx="448.0" cy="71.5" r="0.6"/><circle cx="379.9" cy="89.1" r="0.6"/><circle cx="370.1" cy="94.5" r="0.6"/><circle cx="340.8" cy="111.6" r="0.6"/><circle cx="475.4" cy="115.5" r="0.6"/><circle cx="382.1" cy="79.3" r="0.6"/><circle cx="436.9" cy="53.9" r="0.6"/><circle cx="393.1" cy="74.1" r="0.6"/><circle cx="399.0" cy="58.8" r="0.6"/><circle cx="387.6" cy="80.4" r="0.6"/><circle cx="469.0" cy="106.7" r="0.6"/><circle cx="380.3" cy="91.6" r="0.6"/><circle cx="336.8" cy="112.5" r="0.6"/><circle cx="392.4" cy="62.0" r="0.6"/><circle cx="393.2" cy="67.2" r="0.6"/><circle cx="447.4" cy="76.1" r="0.6"/><circle cx="374.8" cy="101.2" r="0.6"/><circle cx="393.8" cy="51.4" r="0.6"/><circle cx="383.8" cy="78.8" r="0.6"/><circle cx="415.9" cy="44.1" r="0.6"/><circle cx="424.5" cy="43.9" r="0.6"/><circle cx="441.1" cy="64.7" r="0.6"/><circle cx="378.6" cy="92.0" r="0.6"/><circle cx="428.4" cy="41.2" r="0.6"/><circle cx="367.8" cy="106.5" r="0.6"/><circle cx="393.8" cy="66.2" r="0.6"/><circle cx="418.5" cy="48.8" r="0.6"/><circle cx="403.2" cy="52.3" r="0.6"/><circle cx="341.5" cy="114.9" r="0.6"/><circle cx="370.2" cy="97.4" r="0.6"/><circle cx="378.3" cy="91.8" r="0.6"/><circle cx="445.2" cy="65.7" r="0.6"/><circle cx="362.0" cy="109.7" r="0.6"/><circle cx="407.9" cy="49.2" r="0.6"/><circle cx="396.0" cy="70.2" r="0.6"/><circle cx="418.1" cy="43.0" r="0.6"/><circle cx="449.5" cy="79.4" r="0.6"/><circle cx="420.3" cy="43.5" r="0.6"/><circle cx="414.1" cy="40.5" r="0.6"/><circle cx="394.9" cy="60.5" r="0.6"/><circle cx="436.4" cy="47.9" r="0.6"/><circle cx="417.2" cy="34.8" r="0.6"/><circle cx="407.4" cy="53.5" r="0.6"/><circle cx="443.5" cy="68.2" r="0.6"/><circle cx="423.9" cy="46.4" r="0.6"/><circle cx="454.6" cy="85.3" r="0.6"/><circle cx="450.1" cy="77.1" r="0.6"/><circle cx="429.7" cy="43.5" r="0.6"/><circle cx="415.0" cy="57.0" r="0.6"/><circle cx="423.4" cy="46.5" r="0.6"/><circle cx="354.8" cy="112.1" r="0.6"/><circle cx="434.9" cy="48.8" r="0.6"/><circle cx="436.9" cy="67.9" r="0.6"/><circle cx="387.4" cy="82.4" r="0.6"/><circle cx="358.3" cy="111.1" r="0.6"/><circle cx="388.4" cy="83.7" r="0.6"/><circle cx="437.8" cy="68.5" r="0.6"/><circle cx="393.4" cy="75.3" r="0.6"/><circle cx="415.5" cy="44.7" r="0.6"/><circle cx="422.7" cy="47.1" r="0.6"/><circle cx="378.3" cy="102.0" r="0.6"/><circle cx="476.0" cy="115.4" r="0.6"/><circle cx="400.6" cy="42.6" r="0.6"/><circle cx="449.2" cy="80.2" r="0.6"/><circle cx="431.6" cy="51.7" r="0.6"/><circle cx="366.4" cy="102.7" r="0.6"/><circle cx="420.8" cy="44.0" r="0.6"/><circle cx="406.0" cy="54.0" r="0.6"/><circle cx="402.9" cy="50.2" r="0.6"/><circle cx="395.8" cy="47.8" r="0.6"/><circle cx="393.3" cy="60.0" r="0.6"/><circle cx="344.0" cy="114.3" r="0.6"/><circle cx="411.8" cy="42.5" r="0.6"/><circle cx="388.7" cy="75.2" r="0.6"/><circle cx="458.4" cy="86.6" r="0.6"/><circle cx="401.5" cy="63.1" r="0.6"/><circle cx="391.3" cy="66.0" r="0.6"/><circle cx="443.1" cy="63.2" r="0.6"/><circle cx="426.4" cy="48.2" r="0.6"/><circle cx="474.6" cy="111.6" r="0.6"/><circle cx="404.7" cy="53.8" r="0.6"/><circle cx="458.2" cy="83.3" r="0.6"/><circle cx="463.6" cy="98.1" r="0.6"/><circle cx="446.7" cy="67.2" r="0.6"/><circle cx="393.7" cy="68.0" r="0.6"/><circle cx="423.6" cy="44.3" r="0.6"/><circle cx="416.5" cy="35.7" r="0.6"/><circle cx="371.0" cy="103.6" r="0.6"/><circle cx="448.3" cy="74.1" r="0.6"/><circle cx="375.8" cy="87.0" r="0.6"/><circle cx="371.4" cy="108.5" r="0.6"/><circle cx="433.3" cy="45.8" r="0.6"/><circle cx="421.9" cy="42.7" r="0.6"/><circle cx="431.4" cy="52.1" r="0.6"/><circle cx="388.0" cy="73.4" r="0.6"/><circle cx="377.4" cy="94.4" r="0.6"/><circle cx="362.5" cy="114.5" r="0.6"/><circle cx="436.2" cy="55.5" r="0.6"/><circle cx="367.3" cy="99.3" r="0.6"/><circle cx="420.6" cy="38.6" r="0.6"/><circle cx="420.9" cy="46.3" r="0.6"/><circle cx="388.6" cy="74.8" r="0.6"/><circle cx="416.3" cy="48.4" r="0.6"/><circle cx="338.3" cy="112.3" r="0.6"/><circle cx="399.6" cy="65.6" r="0.6"/><circle cx="418.0" cy="41.7" r="0.6"/><circle cx="458.7" cy="82.6" r="0.6"/><circle cx="374.9" cy="104.3" r="0.6"/><circle cx="413.1" cy="45.9" r="0.6"/><circle cx="379.9" cy="88.2" r="0.6"/><circle cx="404.5" cy="51.2" r="0.6"/><circle cx="443.7" cy="72.0" r="0.6"/><circle cx="375.9" cy="96.7" r="0.6"/><circle cx="383.9" cy="80.3" r="0.6"/><circle cx="416.3" cy="42.0" r="0.6"/><circle cx="383.9" cy="89.2" r="0.6"/><circle cx="352.2" cy="112.6" r="0.6"/><circle cx="366.0" cy="107.4" r="0.6"/><circle cx="424.9" cy="41.2" r="0.6"/><circle cx="435.0" cy="52.0" r="0.6"/><circle cx="351.1" cy="111.5" r="0.6"/><circle cx="373.8" cy="105.0" r="0.6"/><circle cx="418.3" cy="45.5" r="0.6"/><circle cx="469.2" cy="104.6" r="0.6"/><circle cx="398.9" cy="64.4" r="0.6"/><circle cx="395.5" cy="71.9" r="0.6"/><circle cx="413.3" cy="45.4" r="0.6"/><circle cx="377.8" cy="86.5" r="0.6"/><circle cx="400.6" cy="58.3" r="0.6"/><circle cx="425.4" cy="45.1" r="0.6"/><circle cx="428.6" cy="52.0" r="0.6"/><circle cx="383.0" cy="91.8" r="0.6"/><circle cx="454.7" cy="78.7" r="0.6"/><circle cx="338.1" cy="113.2" r="0.6"/><circle cx="398.3" cy="66.9" r="0.6"/><circle cx="411.4" cy="37.6" r="0.6"/><circle cx="407.2" cy="43.0" r="0.6"/><circle cx="395.7" cy="48.8" r="0.6"/><circle cx="435.5" cy="50.9" r="0.6"/><circle cx="475.9" cy="116.7" r="0.6"/><circle cx="352.2" cy="115.1" r="0.6"/><circle cx="341.8" cy="112.5" r="0.6"/><circle cx="431.7" cy="52.8" r="0.6"/><circle cx="350.4" cy="112.6" r="0.6"/><circle cx="385.4" cy="73.5" r="0.6"/><circle cx="451.5" cy="79.2" r="0.6"/><circle cx="444.4" cy="76.6" r="0.6"/><circle cx="373.3" cy="95.9" r="0.6"/><circle cx="456.4" cy="87.7" r="0.6"/><circle cx="351.2" cy="113.3" r="0.6"/><circle cx="385.3" cy="76.8" r="0.6"/><circle cx="468.5" cy="103.8" r="0.6"/><circle cx="373.6" cy="96.6" r="0.6"/><circle cx="351.1" cy="115.3" r="0.6"/><circle cx="409.9" cy="47.6" r="0.6"/><circle cx="414.4" cy="40.9" r="0.6"/><circle cx="366.7" cy="105.5" r="0.6"/><circle cx="438.8" cy="63.3" r="0.6"/><circle cx="446.0" cy="68.5" r="0.6"/><circle cx="392.6" cy="78.3" r="0.6"/><circle cx="338.2" cy="112.2" r="0.6"/><circle cx="417.9" cy="49.4" r="0.6"/><circle cx="447.2" cy="70.7" r="0.6"/><circle cx="457.0" cy="83.4" r="0.6"/><circle cx="415.9" cy="41.9" r="0.6"/><circle cx="351.9" cy="113.2" r="0.6"/><circle cx="422.7" cy="45.8" r="0.6"/><circle cx="385.5" cy="81.5" r="0.6"/><circle cx="427.2" cy="49.6" r="0.6"/><circle cx="397.3" cy="57.2" r="0.6"/><circle cx="395.0" cy="75.9" r="0.6"/><circle cx="456.3" cy="80.8" r="0.6"/><circle cx="374.6" cy="94.0" r="0.6"/><circle cx="389.8" cy="73.5" r="0.6"/><circle cx="386.7" cy="85.1" r="0.6"/><circle cx="414.0" cy="43.9" r="0.6"/><circle cx="441.4" cy="58.9" r="0.6"/><circle cx="451.6" cy="90.8" r="0.6"/><circle cx="459.5" cy="94.1" r="0.6"/><circle cx="441.6" cy="64.4" r="0.6"/><circle cx="401.2" cy="58.5" r="0.6"/><circle cx="352.1" cy="112.2" r="0.6"/><circle cx="448.1" cy="73.9" r="0.6"/><circle cx="469.6" cy="109.1" r="0.6"/><circle cx="359.4" cy="103.3" r="0.6"/><circle cx="375.7" cy="95.4" r="0.6"/><circle cx="427.2" cy="46.0" r="0.6"/><circle cx="401.0" cy="66.4" r="0.6"/><circle cx="461.3" cy="88.4" r="0.6"/><circle cx="391.1" cy="75.6" r="0.6"/><circle cx="368.2" cy="108.0" r="0.6"/><circle cx="455.2" cy="85.2" r="0.6"/><circle cx="417.1" cy="45.4" r="0.6"/><circle cx="388.1" cy="84.3" r="0.6"/><circle cx="381.5" cy="85.1" r="0.6"/><circle cx="459.4" cy="92.7" r="0.6"/><circle cx="368.8" cy="104.7" r="0.6"/><circle cx="428.8" cy="46.5" r="0.6"/><circle cx="449.2" cy="76.4" r="0.6"/><circle cx="358.7" cy="112.5" r="0.6"/><circle cx="360.7" cy="112.8" r="0.6"/><circle cx="439.9" cy="59.6" r="0.6"/><circle cx="396.9" cy="65.9" r="0.6"/><circle cx="355.2" cy="113.9" r="0.6"/><circle cx="476.2" cy="115.0" r="0.6"/><circle cx="378.5" cy="98.0" r="0.6"/><circle cx="369.4" cy="103.3" r="0.6"/><circle cx="382.7" cy="91.6" r="0.6"/><circle cx="380.7" cy="100.4" r="0.6"/><circle cx="406.0" cy="59.0" r="0.6"/><circle cx="457.6" cy="84.6" r="0.6"/><circle cx="410.8" cy="36.4" r="0.6"/><circle cx="404.3" cy="48.7" r="0.6"/><circle cx="420.5" cy="45.0" r="0.6"/><circle cx="393.0" cy="68.7" r="0.6"/><circle cx="423.8" cy="42.9" r="0.6"/><circle cx="417.4" cy="39.4" r="0.6"/><circle cx="404.1" cy="59.4" r="0.6"/><circle cx="455.5" cy="85.0" r="0.6"/><circle cx="437.2" cy="61.9" r="0.6"/><circle cx="366.1" cy="102.3" r="0.6"/><circle cx="350.5" cy="112.9" r="0.6"/><circle cx="400.1" cy="60.2" r="0.6"/><circle cx="352.3" cy="110.9" r="0.6"/><circle cx="387.9" cy="71.6" r="0.6"/><circle cx="445.0" cy="75.2" r="0.6"/><circle cx="445.8" cy="72.0" r="0.6"/><circle cx="465.3" cy="99.6" r="0.6"/><circle cx="401.2" cy="61.2" r="0.6"/><circle cx="392.3" cy="71.2" r="0.6"/><circle cx="418.5" cy="52.4" r="0.6"/><circle cx="399.5" cy="62.5" r="0.6"/><circle cx="390.0" cy="73.7" r="0.6"/><circle cx="336.7" cy="111.6" r="0.6"/><circle cx="364.6" cy="102.3" r="0.6"/><circle cx="412.9" cy="42.0" r="0.6"/><circle cx="403.3" cy="50.2" r="0.6"/><circle cx="363.6" cy="111.3" r="0.6"/><circle cx="408.6" cy="41.4" r="0.6"/><circle cx="458.2" cy="90.2" r="0.6"/><circle cx="339.5" cy="113.3" r="0.6"/><circle cx="397.5" cy="50.5" r="0.6"/><circle cx="367.6" cy="103.9" r="0.6"/><circle cx="367.1" cy="109.0" r="0.6"/><circle cx="435.0" cy="55.5" r="0.6"/><circle cx="448.9" cy="73.2" r="0.6"/><circle cx="420.7" cy="44.0" r="0.6"/><circle cx="398.4" cy="60.9" r="0.6"/><circle cx="398.1" cy="55.8" r="0.6"/><circle cx="466.7" cy="100.0" r="0.6"/><circle cx="383.5" cy="96.2" r="0.6"/><circle cx="452.3" cy="78.4" r="0.6"/><circle cx="443.7" cy="55.9" r="0.6"/><circle cx="445.8" cy="70.9" r="0.6"/><circle cx="378.9" cy="85.0" r="0.6"/><circle cx="428.3" cy="42.5" r="0.6"/><circle cx="369.9" cy="101.7" r="0.6"/><circle cx="384.8" cy="87.8" r="0.6"/><circle cx="402.1" cy="61.7" r="0.6"/><circle cx="392.9" cy="70.3" r="0.6"/><circle cx="413.4" cy="37.0" r="0.6"/><circle cx="433.9" cy="55.4" r="0.6"/><circle cx="398.4" cy="50.0" r="0.6"/><circle cx="393.9" cy="69.6" r="0.6"/><circle cx="413.9" cy="52.5" r="0.6"/><circle cx="411.0" cy="41.6" r="0.6"/><circle cx="405.6" cy="55.2" r="0.6"/><circle cx="459.1" cy="87.6" r="0.6"/><circle cx="396.8" cy="61.2" r="0.6"/><circle cx="411.8" cy="51.5" r="0.6"/><circle cx="440.4" cy="65.3" r="0.6"/><circle cx="358.8" cy="113.7" r="0.6"/><circle cx="387.7" cy="77.0" r="0.6"/><circle cx="411.6" cy="60.1" r="0.6"/><circle cx="418.7" cy="45.4" r="0.6"/><circle cx="373.5" cy="98.3" r="0.6"/><circle cx="395.3" cy="64.5" r="0.6"/><circle cx="396.9" cy="63.4" r="0.6"/><circle cx="359.1" cy="109.7" r="0.6"/><circle cx="453.9" cy="80.1" r="0.6"/><circle cx="468.4" cy="101.4" r="0.6"/><circle cx="435.0" cy="54.5" r="0.6"/><circle cx="430.6" cy="51.2" r="0.6"/><circle cx="367.9" cy="110.4" r="0.6"/><circle cx="379.2" cy="87.5" r="0.6"/><circle cx="461.9" cy="93.5" r="0.6"/><circle cx="476.6" cy="114.8" r="0.6"/><circle cx="465.2" cy="100.9" r="0.6"/><circle cx="350.2" cy="114.8" r="0.6"/><circle cx="371.5" cy="96.6" r="0.6"/><circle cx="375.7" cy="87.0" r="0.6"/><circle cx="408.7" cy="44.6" r="0.6"/><circle cx="405.5" cy="49.4" r="0.6"/><circle cx="406.5" cy="51.3" r="0.6"/><circle cx="432.0" cy="48.6" r="0.6"/><circle cx="372.8" cy="97.2" r="0.6"/><circle cx="421.3" cy="42.8" r="0.6"/><circle cx="409.0" cy="55.3" r="0.6"/><circle cx="408.6" cy="39.5" r="0.6"/><circle cx="413.5" cy="40.9" r="0.6"/><circle cx="438.9" cy="60.8" r="0.6"/><circle cx="406.0" cy="53.7" r="0.6"/><circle cx="378.2" cy="92.3" r="0.6"/><circle cx="467.7" cy="100.7" r="0.6"/><circle cx="372.6" cy="104.9" r="0.6"/><circle cx="408.9" cy="37.2" r="0.6"/><circle cx="429.9" cy="48.3" r="0.6"/><circle cx="419.2" cy="34.6" r="0.6"/><circle cx="375.9" cy="95.2" r="0.6"/><circle cx="423.3" cy="47.6" r="0.6"/><circle cx="376.0" cy="101.6" r="0.6"/><circle cx="407.2" cy="52.2" r="0.6"/><circle cx="383.1" cy="92.6" r="0.6"/><circle cx="408.3" cy="37.6" r="0.6"/><circle cx="410.7" cy="42.9" r="0.6"/><circle cx="454.4" cy="82.3" r="0.6"/><circle cx="396.6" cy="65.9" r="0.6"/><circle cx="384.2" cy="84.9" r="0.6"/><circle cx="452.2" cy="80.3" r="0.6"/><circle cx="439.6" cy="64.5" r="0.6"/><circle cx="399.3" cy="60.8" r="0.6"/><circle cx="431.2" cy="52.2" r="0.6"/><circle cx="375.1" cy="92.4" r="0.6"/><circle cx="398.9" cy="68.4" r="0.6"/><circle cx="424.7" cy="50.8" r="0.6"/><circle cx="374.1" cy="98.7" r="0.6"/><circle cx="342.7" cy="112.8" r="0.6"/><circle cx="455.5" cy="87.0" r="0.6"/><circle cx="404.2" cy="50.8" r="0.6"/><circle cx="374.0" cy="101.0" r="0.6"/><circle cx="395.8" cy="64.4" r="0.6"/><circle cx="377.8" cy="98.0" r="0.6"/><circle cx="460.3" cy="92.6" r="0.6"/><circle cx="470.8" cy="108.2" r="0.6"/><circle cx="409.3" cy="58.4" r="0.6"/><circle cx="462.8" cy="93.4" r="0.6"/><circle cx="407.2" cy="43.8" r="0.6"/><circle cx="402.4" cy="46.2" r="0.6"/><circle cx="401.4" cy="51.5" r="0.6"/><circle cx="394.8" cy="63.1" r="0.6"/><circle cx="377.5" cy="89.2" r="0.6"/><circle cx="379.5" cy="98.4" r="0.6"/><circle cx="423.6" cy="48.4" r="0.6"/><circle cx="468.5" cy="104.1" r="0.6"/><circle cx="461.5" cy="95.1" r="0.6"/><circle cx="431.9" cy="44.6" r="0.6"/><circle cx="433.0" cy="52.1" r="0.6"/><circle cx="429.8" cy="50.1" r="0.6"/><circle cx="363.3" cy="104.7" r="0.6"/><circle cx="423.9" cy="48.6" r="0.6"/><circle cx="423.1" cy="42.4" r="0.6"/><circle cx="445.6" cy="73.1" r="0.6"/><circle cx="427.8" cy="48.9" r="0.6"/><circle cx="420.6" cy="42.1" r="0.6"/><circle cx="425.9" cy="42.4" r="0.6"/><circle cx="388.4" cy="74.7" r="0.6"/><circle cx="427.8" cy="50.5" r="0.6"/><circle cx="394.8" cy="61.2" r="0.6"/><circle cx="345.1" cy="112.8" r="0.6"/><circle cx="397.2" cy="58.2" r="0.6"/><circle cx="453.9" cy="79.3" r="0.6"/><circle cx="401.6" cy="52.1" r="0.6"/><circle cx="448.6" cy="76.1" r="0.6"/><circle cx="339.4" cy="116.7" r="0.6"/><circle cx="426.8" cy="45.2" r="0.6"/><circle cx="456.2" cy="83.5" r="0.6"/><circle cx="377.7" cy="97.8" r="0.6"/><circle cx="391.3" cy="71.0" r="0.6"/><circle cx="422.1" cy="39.4" r="0.6"/><circle cx="346.8" cy="113.8" r="0.6"/><circle cx="339.5" cy="114.6" r="0.6"/><circle cx="398.3" cy="57.6" r="0.6"/><circle cx="362.6" cy="109.9" r="0.6"/><circle cx="404.9" cy="55.6" r="0.6"/><circle cx="445.2" cy="76.8" r="0.6"/><circle cx="395.2" cy="64.1" r="0.6"/><circle cx="459.0" cy="95.5" r="0.6"/><circle cx="393.7" cy="63.2" r="0.6"/><circle cx="402.7" cy="56.5" r="0.6"/><circle cx="468.7" cy="104.1" r="0.6"/><circle cx="411.7" cy="45.9" r="0.6"/><circle cx="406.3" cy="53.9" r="0.6"/><circle cx="398.6" cy="63.8" r="0.6"/><circle cx="374.2" cy="97.8" r="0.6"/><circle cx="401.3" cy="53.8" r="0.6"/><circle cx="412.4" cy="47.0" r="0.6"/><circle cx="397.0" cy="64.5" r="0.6"/><circle cx="413.2" cy="40.6" r="0.6"/><circle cx="455.1" cy="82.7" r="0.6"/><circle cx="362.4" cy="111.7" r="0.6"/><circle cx="426.3" cy="46.5" r="0.6"/><circle cx="459.7" cy="91.2" r="0.6"/><circle cx="409.7" cy="42.5" r="0.6"/><circle cx="428.5" cy="55.8" r="0.6"/><circle cx="355.8" cy="113.1" r="0.6"/><circle cx="377.5" cy="97.6" r="0.6"/><circle cx="454.9" cy="80.6" r="0.6"/><circle cx="413.2" cy="42.2" r="0.6"/><circle cx="407.2" cy="47.0" r="0.6"/><circle cx="385.2" cy="77.1" r="0.6"/><circle cx="423.2" cy="50.9" r="0.6"/><circle cx="423.9" cy="43.4" r="0.6"/><circle cx="405.3" cy="48.9" r="0.6"/><circle cx="472.4" cy="113.2" r="0.6"/><circle cx="430.5" cy="50.4" r="0.6"/><circle cx="365.7" cy="111.2" r="0.6"/><circle cx="403.0" cy="48.2" r="0.6"/><circle cx="372.7" cy="106.3" r="0.6"/><circle cx="375.9" cy="98.8" r="0.6"/><circle cx="454.5" cy="80.7" r="0.6"/><circle cx="362.5" cy="109.2" r="0.6"/><circle cx="336.1" cy="115.5" r="0.6"/><circle cx="442.3" cy="63.6" r="0.6"/><circle cx="406.4" cy="40.8" r="0.6"/><circle cx="416.6" cy="32.0" r="0.6"/><circle cx="415.6" cy="46.1" r="0.6"/><circle cx="350.0" cy="113.0" r="0.6"/><circle cx="452.2" cy="84.0" r="0.6"/><circle cx="366.9" cy="107.2" r="0.6"/><circle cx="464.0" cy="96.4" r="0.6"/><circle cx="434.2" cy="50.3" r="0.6"/><circle cx="353.9" cy="107.9" r="0.6"/><circle cx="466.6" cy="98.4" r="0.6"/><circle cx="404.0" cy="45.7" r="0.6"/><circle cx="442.8" cy="65.9" r="0.6"/><circle cx="449.0" cy="81.1" r="0.6"/><circle cx="446.3" cy="76.8" r="0.6"/><circle cx="404.1" cy="53.1" r="0.6"/><circle cx="342.4" cy="114.5" r="0.6"/><circle cx="422.5" cy="40.7" r="0.6"/><circle cx="410.1" cy="43.0" r="0.6"/><circle cx="443.5" cy="71.8" r="0.6"/><circle cx="419.5" cy="42.4" r="0.6"/><circle cx="375.4" cy="92.2" r="0.6"/><circle cx="414.5" cy="34.9" r="0.6"/><circle cx="365.7" cy="103.3" r="0.6"/><circle cx="343.0" cy="114.2" r="0.6"/><circle cx="421.0" cy="48.0" r="0.6"/><circle cx="369.5" cy="103.8" r="0.6"/><circle cx="414.9" cy="47.3" r="0.6"/><circle cx="378.3" cy="92.3" r="0.6"/><circle cx="453.3" cy="81.0" r="0.6"/><circle cx="340.9" cy="114.3" r="0.6"/><circle cx="473.1" cy="114.7" r="0.6"/><circle cx="463.8" cy="97.8" r="0.6"/><circle cx="353.4" cy="112.9" r="0.6"/><circle cx="431.3" cy="49.7" r="0.6"/><circle cx="417.3" cy="38.0" r="0.6"/><circle cx="442.0" cy="68.1" r="0.6"/><circle cx="424.9" cy="45.7" r="0.6"/><circle cx="373.8" cy="87.7" r="0.6"/><circle cx="449.9" cy="73.7" r="0.6"/><circle cx="380.7" cy="88.3" r="0.6"/><circle cx="368.6" cy="101.1" r="0.6"/><circle cx="398.9" cy="61.9" r="0.6"/><circle cx="340.1" cy="115.0" r="0.6"/><circle cx="413.6" cy="49.8" r="0.6"/><circle cx="373.7" cy="108.4" r="0.6"/><circle cx="449.1" cy="73.2" r="0.6"/><circle cx="379.3" cy="88.5" r="0.6"/><circle cx="398.3" cy="60.9" r="0.6"/><circle cx="374.4" cy="95.7" r="0.6"/><circle cx="445.8" cy="68.3" r="0.6"/><circle cx="396.3" cy="64.6" r="0.6"/><circle cx="408.7" cy="42.1" r="0.6"/><circle cx="417.5" cy="47.9" r="0.6"/><circle cx="381.4" cy="91.3" r="0.6"/><circle cx="385.3" cy="70.7" r="0.6"/><circle cx="408.8" cy="50.3" r="0.6"/><circle cx="370.2" cy="102.4" r="0.6"/><circle cx="397.8" cy="66.2" r="0.6"/><circle cx="400.6" cy="65.9" r="0.6"/><circle cx="386.7" cy="78.0" r="0.6"/><circle cx="435.2" cy="57.7" r="0.6"/><circle cx="405.2" cy="52.3" r="0.6"/><circle cx="415.0" cy="35.3" r="0.6"/><circle cx="348.3" cy="112.9" r="0.6"/><circle cx="424.5" cy="53.4" r="0.6"/><circle cx="355.4" cy="113.5" r="0.6"/><circle cx="346.4" cy="111.8" r="0.6"/><circle cx="374.0" cy="87.8" r="0.6"/><circle cx="401.3" cy="61.6" r="0.6"/><circle cx="365.6" cy="102.5" r="0.6"/><circle cx="402.6" cy="60.8" r="0.6"/><circle cx="398.1" cy="63.8" r="0.6"/><circle cx="380.0" cy="86.2" r="0.6"/><circle cx="407.3" cy="46.3" r="0.6"/><circle cx="373.6" cy="92.9" r="0.6"/><circle cx="364.4" cy="110.4" r="0.6"/><circle cx="413.9" cy="43.8" r="0.6"/><circle cx="385.8" cy="80.0" r="0.6"/><circle cx="426.9" cy="41.0" r="0.6"/><circle cx="389.8" cy="66.6" r="0.6"/><circle cx="362.5" cy="105.8" r="0.6"/><circle cx="356.4" cy="113.7" r="0.6"/><circle cx="374.3" cy="98.2" r="0.6"/><circle cx="399.9" cy="51.3" r="0.6"/><circle cx="399.1" cy="61.2" r="0.6"/><circle cx="407.8" cy="50.0" r="0.6"/><circle cx="337.5" cy="115.7" r="0.6"/><circle cx="411.7" cy="43.0" r="0.6"/><circle cx="415.5" cy="36.8" r="0.6"/><circle cx="389.9" cy="69.5" r="0.6"/><circle cx="432.6" cy="47.2" r="0.6"/><circle cx="389.1" cy="71.4" r="0.6"/><circle cx="410.4" cy="49.7" r="0.6"/><circle cx="392.1" cy="74.6" r="0.6"/><circle cx="382.7" cy="86.6" r="0.6"/><circle cx="363.4" cy="102.2" r="0.6"/><circle cx="404.7" cy="48.9" r="0.6"/><circle cx="357.8" cy="109.2" r="0.6"/><circle cx="391.9" cy="77.6" r="0.6"/><circle cx="382.2" cy="87.0" r="0.6"/><circle cx="403.4" cy="52.4" r="0.6"/><circle cx="416.6" cy="49.1" r="0.6"/><circle cx="360.4" cy="112.4" r="0.6"/><circle cx="386.0" cy="84.5" r="0.6"/><circle cx="391.9" cy="72.3" r="0.6"/><circle cx="368.7" cy="98.1" r="0.6"/><circle cx="395.5" cy="66.1" r="0.6"/><circle cx="431.6" cy="49.3" r="0.6"/><circle cx="382.6" cy="75.8" r="0.6"/><circle cx="401.7" cy="63.8" r="0.6"/><circle cx="376.3" cy="98.0" r="0.6"/><circle cx="441.2" cy="61.7" r="0.6"/><circle cx="390.8" cy="82.9" r="0.6"/><circle cx="382.3" cy="83.5" r="0.6"/><circle cx="384.7" cy="78.3" r="0.6"/><circle cx="443.2" cy="65.1" r="0.6"/><circle cx="383.5" cy="90.3" r="0.6"/><circle cx="472.6" cy="113.4" r="0.6"/><circle cx="429.0" cy="54.9" r="0.6"/><circle cx="460.1" cy="89.1" r="0.6"/><circle cx="393.1" cy="69.0" r="0.6"/><circle cx="428.1" cy="48.4" r="0.6"/><circle cx="384.6" cy="85.0" r="0.6"/><circle cx="373.8" cy="97.6" r="0.6"/><circle cx="443.0" cy="60.2" r="0.6"/><circle cx="410.3" cy="45.8" r="0.6"/><circle cx="358.9" cy="108.5" r="0.6"/><circle cx="353.6" cy="117.2" r="0.6"/><circle cx="379.9" cy="89.3" r="0.6"/><circle cx="356.8" cy="109.6" r="0.6"/><circle cx="452.1" cy="79.7" r="0.6"/><circle cx="412.9" cy="48.8" r="0.6"/><circle cx="387.2" cy="77.2" r="0.6"/><circle cx="405.4" cy="48.3" r="0.6"/><circle cx="408.4" cy="41.9" r="0.6"/><circle cx="435.4" cy="52.0" r="0.6"/><circle cx="390.5" cy="73.7" r="0.6"/><circle cx="409.3" cy="50.0" r="0.6"/><circle cx="412.4" cy="42.6" r="0.6"/><circle cx="348.1" cy="114.0" r="0.6"/><circle cx="352.8" cy="112.1" r="0.6"/><circle cx="365.3" cy="108.7" r="0.6"/><circle cx="364.5" cy="108.2" r="0.6"/><circle cx="388.6" cy="78.8" r="0.6"/><circle cx="360.7" cy="106.3" r="0.6"/><circle cx="454.9" cy="90.0" r="0.6"/><circle cx="366.1" cy="111.6" r="0.6"/><circle cx="411.4" cy="39.5" r="0.6"/><circle cx="458.9" cy="90.0" r="0.6"/><circle cx="405.2" cy="49.3" r="0.6"/><circle cx="395.7" cy="56.4" r="0.6"/><circle cx="428.7" cy="47.2" r="0.6"/><circle cx="341.6" cy="115.9" r="0.6"/><circle cx="341.9" cy="112.6" r="0.6"/><circle cx="374.0" cy="96.1" r="0.6"/><circle cx="443.9" cy="68.5" r="0.6"/><circle cx="468.4" cy="101.4" r="0.6"/><circle cx="430.0" cy="47.9" r="0.6"/><circle cx="375.1" cy="96.7" r="0.6"/><circle cx="409.8" cy="46.6" r="0.6"/><circle cx="442.8" cy="71.5" r="0.6"/><circle cx="407.4" cy="53.6" r="0.6"/><circle cx="378.6" cy="90.0" r="0.6"/><circle cx="399.6" cy="54.9" r="0.6"/><circle cx="358.7" cy="110.8" r="0.6"/><circle cx="432.6" cy="55.1" r="0.6"/><circle cx="401.2" cy="53.9" r="0.6"/><circle cx="437.9" cy="60.7" r="0.6"/><circle cx="416.6" cy="37.8" r="0.6"/><circle cx="363.0" cy="105.1" r="0.6"/><circle cx="339.5" cy="115.0" r="0.6"/><circle cx="387.9" cy="77.2" r="0.6"/><circle cx="403.2" cy="59.4" r="0.6"/><circle cx="475.9" cy="113.1" r="0.6"/><circle cx="435.7" cy="59.0" r="0.6"/><circle cx="386.8" cy="88.0" r="0.6"/><circle cx="437.5" cy="58.3" r="0.6"/><circle cx="452.8" cy="82.1" r="0.6"/><circle cx="408.2" cy="46.1" r="0.6"/><circle cx="452.3" cy="74.4" r="0.6"/><circle cx="456.3" cy="93.5" r="0.6"/><circle cx="417.0" cy="41.6" r="0.6"/><circle cx="429.1" cy="48.5" r="0.6"/><circle cx="414.2" cy="39.6" r="0.6"/><circle cx="439.3" cy="61.7" r="0.6"/><circle cx="419.2" cy="36.3" r="0.6"/><circle cx="395.4" cy="69.3" r="0.6"/><circle cx="422.2" cy="46.0" r="0.6"/><circle cx="441.7" cy="56.0" r="0.6"/><circle cx="424.9" cy="53.6" r="0.6"/><circle cx="373.7" cy="98.9" r="0.6"/><circle cx="430.7" cy="48.3" r="0.6"/><circle cx="432.9" cy="49.4" r="0.6"/><circle cx="420.1" cy="43.3" r="0.6"/><circle cx="372.2" cy="99.2" r="0.6"/><circle cx="463.3" cy="99.5" r="0.6"/><circle cx="412.4" cy="45.0" r="0.6"/><circle cx="406.7" cy="48.1" r="0.6"/><circle cx="380.4" cy="87.0" r="0.6"/><circle cx="382.4" cy="101.3" r="0.6"/><circle cx="429.3" cy="47.8" r="0.6"/><circle cx="381.1" cy="98.4" r="0.6"/><circle cx="457.4" cy="86.1" r="0.6"/><circle cx="418.8" cy="39.7" r="0.6"/><circle cx="426.3" cy="48.5" r="0.6"/><circle cx="439.0" cy="52.8" r="0.6"/><circle cx="392.0" cy="75.5" r="0.6"/><circle cx="427.9" cy="44.8" r="0.6"/><circle cx="418.3" cy="47.0" r="0.6"/><circle cx="407.4" cy="37.0" r="0.6"/><circle cx="398.0" cy="61.9" r="0.6"/><circle cx="375.8" cy="100.8" r="0.6"/><circle cx="382.4" cy="85.0" r="0.6"/><circle cx="378.4" cy="95.9" r="0.6"/><circle cx="386.9" cy="85.2" r="0.6"/><circle cx="392.5" cy="73.0" r="0.6"/><circle cx="415.5" cy="50.1" r="0.6"/><circle cx="397.7" cy="64.5" r="0.6"/><circle cx="387.3" cy="71.9" r="0.6"/><circle cx="428.8" cy="56.4" r="0.6"/><circle cx="374.7" cy="100.9" r="0.6"/><circle cx="405.2" cy="42.5" r="0.6"/><circle cx="433.6" cy="59.5" r="0.6"/><circle cx="412.3" cy="39.1" r="0.6"/><circle cx="417.7" cy="39.9" r="0.6"/><circle cx="423.2" cy="42.2" r="0.6"/><circle cx="370.0" cy="103.5" r="0.6"/><circle cx="393.7" cy="61.6" r="0.6"/><circle cx="415.0" cy="36.4" r="0.6"/><circle cx="406.9" cy="43.8" r="0.6"/><circle cx="446.6" cy="64.8" r="0.6"/><circle cx="375.3" cy="99.0" r="0.6"/><circle cx="429.3" cy="45.4" r="0.6"/><circle cx="381.0" cy="103.4" r="0.6"/><circle cx="392.9" cy="70.5" r="0.6"/><circle cx="369.5" cy="105.9" r="0.6"/><circle cx="431.9" cy="45.3" r="0.6"/><circle cx="456.7" cy="90.1" r="0.6"/><circle cx="452.2" cy="74.9" r="0.6"/><circle cx="337.8" cy="113.5" r="0.6"/><circle cx="347.2" cy="114.7" r="0.6"/><circle cx="414.4" cy="36.7" r="0.6"/><circle cx="393.2" cy="65.1" r="0.6"/><circle cx="468.0" cy="106.4" r="0.6"/><circle cx="387.5" cy="85.1" r="0.6"/><circle cx="358.9" cy="108.2" r="0.6"/><circle cx="443.9" cy="73.9" r="0.6"/><circle cx="441.1" cy="64.5" r="0.6"/><circle cx="358.5" cy="109.7" r="0.6"/><circle cx="383.7" cy="82.2" r="0.6"/><circle cx="357.2" cy="110.0" r="0.6"/><circle cx="438.6" cy="68.5" r="0.6"/><circle cx="455.0" cy="78.0" r="0.6"/><circle cx="340.9" cy="114.4" r="0.6"/><circle cx="354.7" cy="113.3" r="0.6"/><circle cx="403.4" cy="61.1" r="0.6"/><circle cx="353.9" cy="113.0" r="0.6"/><circle cx="430.2" cy="37.3" r="0.6"/><circle cx="376.0" cy="108.1" r="0.6"/><circle cx="446.3" cy="72.1" r="0.6"/><circle cx="425.4" cy="49.9" r="0.6"/><circle cx="378.4" cy="92.6" r="0.6"/><circle cx="351.7" cy="108.1" r="0.6"/><circle cx="464.8" cy="102.3" r="0.6"/><circle cx="431.2" cy="48.0" r="0.6"/><circle cx="372.6" cy="90.6" r="0.6"/><circle cx="397.8" cy="84.5" r="0.6"/><circle cx="379.0" cy="97.9" r="0.6"/><circle cx="374.8" cy="75.1" r="0.6"/><circle cx="385.5" cy="97.0" r="0.6"/><circle cx="385.6" cy="99.7" r="0.6"/><circle cx="471.0" cy="111.5" r="0.6"/><circle cx="392.2" cy="52.6" r="0.6"/><circle cx="433.3" cy="58.5" r="0.6"/><circle cx="471.3" cy="110.8" r="0.6"/><circle cx="407.8" cy="60.2" r="0.6"/><circle cx="378.8" cy="97.9" r="0.6"/><circle cx="430.0" cy="57.2" r="0.6"/><circle cx="352.4" cy="106.5" r="0.6"/><circle cx="470.8" cy="109.3" r="0.6"/><circle cx="423.9" cy="42.8" r="0.6"/><circle cx="370.8" cy="98.3" r="0.6"/><circle cx="451.3" cy="77.7" r="0.6"/><circle cx="458.7" cy="85.6" r="0.6"/><circle cx="450.1" cy="79.9" r="0.6"/><circle cx="422.3" cy="49.3" r="0.6"/><circle cx="348.1" cy="110.4" r="0.6"/><circle cx="383.7" cy="77.6" r="0.6"/><circle cx="349.4" cy="115.8" r="0.6"/><circle cx="400.8" cy="60.5" r="0.6"/><circle cx="456.7" cy="83.5" r="0.6"/><circle cx="398.8" cy="48.4" r="0.6"/><circle cx="463.0" cy="98.5" r="0.6"/><circle cx="355.6" cy="115.1" r="0.6"/><circle cx="353.3" cy="112.1" r="0.6"/><circle cx="368.3" cy="110.5" r="0.6"/><circle cx="461.4" cy="98.9" r="0.6"/><circle cx="345.1" cy="116.2" r="0.6"/><circle cx="384.5" cy="73.8" r="0.6"/><circle cx="346.9" cy="111.3" r="0.6"/><circle cx="386.4" cy="71.6" r="0.6"/><circle cx="362.5" cy="107.8" r="0.6"/><circle cx="446.3" cy="70.4" r="0.6"/><circle cx="345.4" cy="117.3" r="0.6"/><circle cx="341.4" cy="107.0" r="0.6"/><circle cx="438.7" cy="55.8" r="0.6"/><circle cx="411.8" cy="53.6" r="0.6"/><circle cx="344.4" cy="115.7" r="0.6"/><circle cx="475.7" cy="114.0" r="0.6"/><circle cx="353.2" cy="111.5" r="0.6"/><circle cx="468.1" cy="104.2" r="0.6"/><circle cx="442.7" cy="73.7" r="0.6"/><circle cx="403.5" cy="67.2" r="0.6"/><circle cx="455.4" cy="85.5" r="0.6"/><circle cx="377.3" cy="75.9" r="0.6"/><circle cx="378.0" cy="90.6" r="0.6"/><circle cx="360.6" cy="115.1" r="0.6"/><circle cx="385.4" cy="84.3" r="0.6"/><circle cx="445.9" cy="77.1" r="0.6"/><circle cx="475.6" cy="113.6" r="0.6"/><circle cx="455.9" cy="85.5" r="0.6"/><circle cx="416.7" cy="40.5" r="0.6"/><circle cx="395.5" cy="77.4" r="0.6"/><circle cx="346.2" cy="111.7" r="0.6"/><circle cx="401.8" cy="57.7" r="0.6"/><circle cx="406.8" cy="53.5" r="0.6"/><circle cx="453.9" cy="82.5" r="0.6"/><circle cx="441.8" cy="49.9" r="0.6"/><circle cx="401.0" cy="60.7" r="0.6"/><circle cx="423.5" cy="56.3" r="0.6"/><circle cx="390.8" cy="65.8" r="0.6"/><circle cx="425.2" cy="47.2" r="0.6"/><circle cx="348.1" cy="106.5" r="0.6"/><circle cx="395.7" cy="68.7" r="0.6"/><circle cx="473.3" cy="112.7" r="0.6"/><circle cx="433.0" cy="69.0" r="0.6"/><circle cx="408.6" cy="44.7" r="0.6"/><circle cx="391.2" cy="84.1" r="0.6"/><circle cx="376.9" cy="92.2" r="0.6"/><circle cx="359.1" cy="103.5" r="0.6"/><circle cx="464.4" cy="91.4" r="0.6"/><circle cx="429.0" cy="41.7" r="0.6"/><circle cx="455.0" cy="75.4" r="0.6"/><circle cx="430.8" cy="40.7" r="0.6"/><circle cx="400.1" cy="54.4" r="0.6"/><circle cx="361.3" cy="108.6" r="0.6"/><circle cx="463.7" cy="106.3" r="0.6"/><circle cx="442.9" cy="74.4" r="0.6"/><circle cx="344.2" cy="116.7" r="0.6"/><circle cx="351.4" cy="118.4" r="0.6"/><circle cx="352.1" cy="110.1" r="0.6"/><circle cx="454.3" cy="90.0" r="0.6"/><circle cx="415.7" cy="38.7" r="0.6"/><circle cx="384.3" cy="73.1" r="0.6"/><circle cx="462.4" cy="91.3" r="0.6"/><circle cx="404.6" cy="64.3" r="0.6"/><circle cx="421.4" cy="34.7" r="0.6"/><circle cx="420.4" cy="54.2" r="0.6"/><circle cx="472.1" cy="112.0" r="0.6"/><circle cx="349.1" cy="113.2" r="0.6"/><circle cx="440.4" cy="57.1" r="0.6"/><circle cx="432.3" cy="61.8" r="0.6"/><circle cx="413.2" cy="53.2" r="0.6"/><circle cx="440.1" cy="59.5" r="0.6"/><circle cx="458.2" cy="85.3" r="0.6"/><circle cx="357.4" cy="106.8" r="0.6"/><circle cx="442.9" cy="54.0" r="0.6"/><circle cx="468.0" cy="99.9" r="0.6"/><circle cx="389.2" cy="105.5" r="0.6"/><circle cx="392.9" cy="68.0" r="0.6"/><circle cx="364.6" cy="101.9" r="0.6"/><circle cx="370.2" cy="111.3" r="0.6"/><circle cx="467.5" cy="97.4" r="0.6"/><circle cx="387.9" cy="72.4" r="0.6"/><circle cx="362.3" cy="111.7" r="0.6"/><circle cx="395.8" cy="72.6" r="0.6"/><circle cx="472.3" cy="112.5" r="0.6"/><circle cx="371.2" cy="84.7" r="0.6"/><circle cx="445.9" cy="71.6" r="0.6"/><circle cx="444.0" cy="66.5" r="0.6"/><circle cx="381.1" cy="93.9" r="0.6"/><circle cx="469.0" cy="109.7" r="0.6"/><circle cx="452.4" cy="72.3" r="0.6"/><circle cx="350.2" cy="112.5" r="0.6"/><circle cx="470.2" cy="110.1" r="0.6"/><circle cx="456.1" cy="87.3" r="0.6"/><circle cx="467.0" cy="102.3" r="0.6"/><circle cx="392.1" cy="76.9" r="0.6"/><circle cx="382.9" cy="104.5" r="0.6"/><circle cx="407.3" cy="31.8" r="0.6"/><circle cx="360.1" cy="107.3" r="0.6"/><circle cx="360.3" cy="109.9" r="0.6"/><circle cx="426.8" cy="38.7" r="0.6"/><circle cx="451.7" cy="76.1" r="0.6"/><circle cx="396.8" cy="52.6" r="0.6"/><circle cx="473.6" cy="115.1" r="0.6"/><circle cx="375.3" cy="102.6" r="0.6"/><circle cx="354.3" cy="110.2" r="0.6"/><circle cx="354.7" cy="114.6" r="0.6"/><circle cx="473.6" cy="113.1" r="0.6"/><circle cx="460.4" cy="93.2" r="0.6"/><circle cx="403.4" cy="47.7" r="0.6"/><circle cx="382.3" cy="73.2" r="0.6"/></g>
<polyline points="355.5,108.7 363.6,102.4 370.6,94 372,92 377,84.4 382.4,82.6 384.3,78 387,68.9 389.8,64.3 392.5,62.4 394.4,58.8 396.2,60.6 398,51.5 400.2,47.7 402.5,44 403.7,46.2 406.2,40.2 407.7,36.5 408.8,26 410,32 411.5,30.5 413,34.2 413.7,31.2 415.2,35 417.5,34.2 419,33.2 420.5,35 421.2,39.5 422.7,41.7 425,43.2 427.2,44 428.7,41.7 431.7,42.5 433.2,44.7 435.5,52.2 437.7,60.5 440,64 444,70.7 448,77.3 452,78.7 457.3,86.7 461.3,92 465.3,100" fill="none" stroke="#EE1111" stroke-width="1.5" stroke-linejoin="round"/>
<line x1="338.6" y1="38.4" x2="348" y2="38.4" stroke="#EE1111" stroke-width="2"/>
<text transform="translate(351 42.8) scale(1 1.03)" font-size="9.75" text-anchor="start" fill="#1a1a1a" stroke="#1a1a1a" stroke-width="0.2" >2012</text>
<path d="M330.6 20.0 V120.3 H482.1 V20.0 Z" fill="none" stroke="#2b2b2b" stroke-width="1.2"/>
<line x1="326.6" y1="117.50" x2="330.6" y2="117.50" stroke="#2b2b2b" stroke-width="1"/>
<text transform="translate(324.2 121.5) scale(1 1.03)" font-size="9.75" text-anchor="end" fill="#1a1a1a" stroke="#1a1a1a" stroke-width="0.2" >0</text>
<line x1="326.6" y1="86.00" x2="330.6" y2="86.00" stroke="#2b2b2b" stroke-width="1"/>
<text transform="translate(324.2 90.0) scale(1 1.03)" font-size="9.75" text-anchor="end" fill="#1a1a1a" stroke="#1a1a1a" stroke-width="0.2" >10</text>
<line x1="326.6" y1="54.50" x2="330.6" y2="54.50" stroke="#2b2b2b" stroke-width="1"/>
<text transform="translate(324.2 58.5) scale(1 1.03)" font-size="9.75" text-anchor="end" fill="#1a1a1a" stroke="#1a1a1a" stroke-width="0.2" >20</text>
<line x1="326.6" y1="23.00" x2="330.6" y2="23.00" stroke="#2b2b2b" stroke-width="1"/>
<text transform="translate(324.2 27.0) scale(1 1.03)" font-size="9.75" text-anchor="end" fill="#1a1a1a" stroke="#1a1a1a" stroke-width="0.2" >30</text>
<line x1="336.10" y1="120.3" x2="336.10" y2="123.8" stroke="#2b2b2b" stroke-width="1"/>
<text transform="translate(336.1 134.6) scale(1 1.03)" font-size="9.75" text-anchor="middle" fill="#1a1a1a" stroke="#1a1a1a" stroke-width="0.2" >Jan</text>
<line x1="359.56" y1="120.3" x2="359.56" y2="123.8" stroke="#2b2b2b" stroke-width="1"/>
<text transform="translate(359.56 134.6) scale(1 1.03)" font-size="9.75" text-anchor="middle" fill="#1a1a1a" stroke="#1a1a1a" stroke-width="0.2" >Mar</text>
<line x1="383.02" y1="120.3" x2="383.02" y2="123.8" stroke="#2b2b2b" stroke-width="1"/>
<text transform="translate(383.02000000000004 134.6) scale(1 1.03)" font-size="9.75" text-anchor="middle" fill="#1a1a1a" stroke="#1a1a1a" stroke-width="0.2" >May</text>
<line x1="406.48" y1="120.3" x2="406.48" y2="123.8" stroke="#2b2b2b" stroke-width="1"/>
<text transform="translate(406.48 134.6) scale(1 1.03)" font-size="9.75" text-anchor="middle" fill="#1a1a1a" stroke="#1a1a1a" stroke-width="0.2" >Jul</text>
<line x1="429.94" y1="120.3" x2="429.94" y2="123.8" stroke="#2b2b2b" stroke-width="1"/>
<text transform="translate(429.94000000000005 134.6) scale(1 1.03)" font-size="9.75" text-anchor="middle" fill="#1a1a1a" stroke="#1a1a1a" stroke-width="0.2" >Sep</text>
<line x1="453.40" y1="120.3" x2="453.40" y2="123.8" stroke="#2b2b2b" stroke-width="1"/>
<text transform="translate(453.40000000000003 134.6) scale(1 1.03)" font-size="9.75" text-anchor="middle" fill="#1a1a1a" stroke="#1a1a1a" stroke-width="0.2" >Nov</text>
<text transform="translate(303.5 71.5) rotate(-90)" font-size="9.45" text-anchor="middle" fill="#1a1a1a" stroke="#1a1a1a" stroke-width="0.2" >Temperature (°C)</text>
<text transform="translate(291.0 20.2)" font-size="11" text-anchor="start" fill="#111" font-weight="bold" >B</text>
<text transform="translate(345.5 11.6) scale(1 1.03)" font-size="9.75" text-anchor="start" fill="#A82530" stroke="#A82530" stroke-width="0.2" >Hot Year</text>
<rect x="330.8" y="171.0" width="151.20" height="100.00" fill="#fff"/>
<polyline points="336.0,266.0 336.4,265.9 336.8,265.6 337.2,266.1 337.5,265.9 337.9,265.2 338.3,265.3 338.7,265.4 339.1,265.4 339.5,265.5 339.9,257.4 340.2,261.4 340.6,263.9 341.0,264.4 341.4,264.5 341.8,264.7 342.2,264.9 342.6,264.8 343.0,265.6 343.3,265.4 343.7,265.2 344.1,265.3 344.5,265.2 344.9,265.0 345.3,264.7 345.7,264.7 346.0,264.6 346.4,265.3 346.8,264.6 347.2,264.9 347.6,265.2 348.0,264.9 348.4,265.3 348.7,251.3 349.1,258.4 349.5,261.8 349.9,254.9 350.3,260.4 350.7,262.6 351.1,263.2 351.5,263.8 351.8,264.9 352.2,265.0 352.6,264.8 353.0,246.7 353.4,255.7 353.8,259.8 354.2,262.4 354.5,263.4 354.9,264.0 355.3,264.0 355.7,264.6 356.1,264.8 356.5,264.1 356.9,259.3 357.2,252.4 357.6,248.6 358.0,256.6 358.4,260.7 358.8,261.7 359.2,263.0 359.6,264.0 360.0,264.0 360.3,264.4 360.7,264.5 361.1,264.6 361.5,255.7 361.9,260.1 362.3,262.7 362.7,263.7 363.0,264.1 363.4,264.7 363.8,264.6 364.2,264.6 364.6,264.9 365.0,264.5 365.4,264.7 365.7,265.0 366.1,265.0 366.5,264.4 366.9,264.9 367.3,264.6 367.7,264.9 368.1,265.0 368.4,265.0 368.8,264.9 369.2,264.9 369.6,240.7 370.0,252.3 370.4,258.8 370.8,261.5 371.2,263.2 371.5,264.0 371.9,264.8 372.3,257.9 372.7,261.5 373.1,263.6 373.5,263.9 373.9,264.2 374.2,254.3 374.6,260.0 375.0,262.3 375.4,263.8 375.8,264.3 376.2,265.0 376.6,264.9 376.9,265.1 377.3,265.0 377.7,265.3 378.1,264.7 378.5,257.2 378.9,258.5 379.3,262.1 379.7,263.6 380.0,263.6 380.4,264.8 380.8,265.1 381.2,259.2 381.6,262.4 382.0,263.8 382.4,264.2 382.7,264.9 383.1,265.2 383.5,264.7 383.9,265.3 384.3,265.1 384.7,264.7 385.1,264.7 385.4,265.0 385.8,265.0 386.2,265.0 386.6,265.0 387.0,264.9 387.4,265.3 387.8,265.0 388.2,264.6 388.5,264.6 388.9,265.2 389.3,265.3 389.7,264.8 390.1,264.7 390.5,264.7 390.9,265.3 391.2,265.4 391.6,263.9 392.0,264.9 392.4,249.8 392.8,257.5 393.2,260.9 393.6,262.5 393.9,251.2 394.3,258.1 394.7,261.8 395.1,259.3 395.5,262.2 395.9,263.7 396.3,264.4 396.6,264.2 397.0,264.7 397.4,264.8 397.8,265.0 398.2,264.3 398.6,264.5 399.0,264.5 399.4,264.5 399.7,264.7 400.1,264.3 400.5,265.0 400.9,264.2 401.3,264.6 401.7,264.9 402.1,264.8 402.4,264.7 402.8,264.4 403.2,264.7 403.6,264.6 404.0,264.4 404.4,258.0 404.8,261.2 405.1,262.9 405.5,263.4 405.9,263.6 406.3,264.2 406.7,264.1 407.1,264.5 407.5,264.4 407.9,264.7 408.2,264.2 408.6,264.9 409.0,264.5 409.4,264.3 409.8,264.9 410.2,264.9 410.6,264.5 410.9,264.4 411.3,264.4 411.7,264.8 412.1,249.4 412.5,257.1 412.9,260.8 413.3,263.3 413.6,263.9 414.0,264.7 414.4,264.2 414.8,264.8 415.2,265.1 415.6,265.3 416.0,264.6 416.4,264.6 416.7,264.8 417.1,265.2 417.5,264.9 417.9,265.3 418.3,264.7 418.7,265.1 419.1,265.1 419.4,264.9 419.8,265.1 420.2,265.0 420.6,265.4 421.0,265.0 421.4,264.8 421.8,265.3 422.1,265.1 422.5,265.0 422.9,265.3 423.3,265.6 423.7,265.0 424.1,265.0 424.5,265.4 424.8,260.1 425.2,263.1 425.6,264.2 426.0,264.7 426.4,264.7 426.8,264.8 427.2,265.4 427.6,265.6 427.9,265.1 428.3,265.6 428.7,265.1 429.1,265.1 429.5,265.6 429.9,265.6 430.3,265.3 430.6,265.6 431.0,265.8 431.4,265.0 431.8,265.5 432.2,265.3 432.6,265.0 433.0,265.6 433.3,265.4 433.7,256.6 434.1,260.9 434.5,263.2 434.9,264.6 435.3,265.3 435.7,265.0 436.1,265.3 436.4,265.0 436.8,265.2 437.2,265.9 437.6,265.7 438.0,265.5 438.4,265.7 438.8,265.3 439.1,265.2 439.5,265.1 439.9,265.3 440.3,265.3 440.7,265.2 441.1,265.3 441.5,219.1 441.8,245.9 442.2,258.1 442.6,265.5 443.0,265.5 443.4,265.6 443.8,265.7 444.2,265.3 444.6,265.8 444.9,265.6 445.3,264.8 445.7,264.9 446.1,265.5 446.5,265.8 446.9,265.7 447.3,266.1 447.6,266.0 448.0,263.6 448.4,264.6 448.8,265.5 449.2,251.7 449.6,258.9 450.0,262.3 450.3,263.9 450.7,265.3 451.1,265.2 451.5,265.3 451.9,265.3 452.3,266.0 452.7,265.5 453.0,266.0 453.4,265.7 453.8,265.7 454.2,266.2 454.6,266.3 455.0,265.8 455.4,266.2 455.8,265.9 456.1,265.6 456.5,266.3 456.9,265.8 457.3,266.3 457.7,265.6 458.1,266.0 458.5,265.8 458.8,266.2 459.2,265.7 459.6,265.9 460.0,266.1 460.4,266.2 460.8,266.0 461.2,266.3 461.5,265.9 461.9,266.1 462.3,266.3 462.7,266.4 463.1,265.8 463.5,266.4 463.9,265.7 464.3,265.7 464.6,266.1 465.0,265.8 465.4,266.1 465.8,266.1 466.2,266.4 466.6,266.4 467.0,265.9 467.3,266.4 467.7,265.9 468.1,266.5 468.5,265.6 468.9,266.0 469.3,265.8 469.7,265.8 470.0,266.3 470.4,266.4 470.8,257.2 471.2,261.7 471.6,264.1 472.0,265.2 472.4,265.4 472.8,265.6 473.1,266.1 473.5,266.1 473.9,265.8 474.3,265.8 474.7,266.1 475.1,265.9 475.5,266.2 475.8,266.5 476.2,265.9 476.6,266.0 477.0,266.4" fill="none" stroke="#3a3a3a" stroke-opacity="0.27" stroke-width="0.7" stroke-linejoin="miter"/>
<polyline points="336.0,265.3 336.4,265.8 336.8,266.0 337.2,265.3 337.5,265.3 337.9,265.5 338.3,265.6 338.7,265.2 339.1,265.1 339.5,265.3 339.9,265.0 340.2,265.6 340.6,265.7 341.0,265.2 341.4,265.3 341.8,265.7 342.2,265.5 342.6,265.4 343.0,265.0 343.3,265.6 343.7,264.1 344.1,264.3 344.5,264.4 344.9,264.6 345.3,265.3 345.7,265.0 346.0,265.0 346.4,264.7 346.8,265.0 347.2,264.7 347.6,265.2 348.0,265.4 348.4,264.9 348.7,263.3 349.1,263.7 349.5,264.0 349.9,262.5 350.3,264.3 350.7,257.7 351.1,261.6 351.5,263.2 351.8,264.0 352.2,264.7 352.6,264.4 353.0,264.3 353.4,264.9 353.8,264.5 354.2,264.7 354.5,264.6 354.9,255.3 355.3,259.4 355.7,262.2 356.1,263.0 356.5,263.9 356.9,264.3 357.2,264.7 357.6,264.0 358.0,264.6 358.4,264.5 358.8,264.5 359.2,264.8 359.6,264.5 360.0,264.1 360.3,264.1 360.7,264.9 361.1,264.5 361.5,264.7 361.9,253.1 362.3,259.1 362.7,261.4 363.0,263.1 363.4,263.5 363.8,264.4 364.2,264.6 364.6,264.2 365.0,264.8 365.4,264.9 365.7,264.9 366.1,265.1 366.5,258.2 366.9,261.1 367.3,262.9 367.7,264.4 368.1,261.2 368.4,263.2 368.8,261.7 369.2,262.9 369.6,263.7 370.0,264.0 370.4,264.6 370.8,265.2 371.2,265.2 371.5,264.6 371.9,265.3 372.3,264.9 372.7,265.3 373.1,264.6 373.5,265.3 373.9,265.4 374.2,263.0 374.6,263.9 375.0,264.2 375.4,265.0 375.8,265.0 376.2,262.0 376.6,263.2 376.9,264.2 377.3,264.6 377.7,264.8 378.1,265.2 378.5,264.6 378.9,265.3 379.3,264.7 379.7,265.2 380.0,265.4 380.4,265.1 380.8,249.6 381.2,256.9 381.6,260.9 382.0,256.8 382.4,261.1 382.7,262.9 383.1,264.0 383.5,264.7 383.9,264.7 384.3,264.5 384.7,264.6 385.1,264.5 385.4,265.3 385.8,264.8 386.2,264.8 386.6,264.5 387.0,265.0 387.4,264.6 387.8,264.9 388.2,260.4 388.5,262.4 388.9,264.2 389.3,264.5 389.7,264.8 390.1,264.8 390.5,264.9 390.9,264.7 391.2,265.1 391.6,265.0 392.0,264.8 392.4,264.8 392.8,265.1 393.2,264.8 393.6,265.2 393.9,258.4 394.3,261.2 394.7,263.0 395.1,263.7 395.5,264.4 395.9,264.9 396.3,264.8 396.6,264.4 397.0,265.0 397.4,264.4 397.8,248.3 398.2,256.7 398.6,260.6 399.0,262.7 399.4,263.5 399.7,264.5 400.1,258.6 400.5,261.5 400.9,257.2 401.3,260.8 401.7,262.3 402.1,263.7 402.4,263.7 402.8,254.1 403.2,259.7 403.6,261.9 404.0,263.5 404.4,263.8 404.8,264.1 405.1,263.9 405.5,264.4 405.9,264.6 406.3,264.8 406.7,264.4 407.1,264.3 407.5,264.3 407.9,259.3 408.2,262.0 408.6,262.9 409.0,263.7 409.4,264.7 409.8,264.6 410.2,258.5 410.6,261.6 410.9,258.2 411.3,261.7 411.7,263.4 412.1,263.8 412.5,264.8 412.9,264.7 413.3,265.0 413.6,265.1 414.0,264.8 414.4,264.7 414.8,264.9 415.2,264.8 415.6,265.4 416.0,264.7 416.4,264.9 416.7,264.7 417.1,265.3 417.5,264.6 417.9,264.6 418.3,265.4 418.7,265.2 419.1,265.0 419.4,265.1 419.8,265.1 420.2,264.8 420.6,265.1 421.0,264.8 421.4,265.5 421.8,265.1 422.1,264.8 422.5,265.1 422.9,264.9 423.3,257.5 423.7,261.1 424.1,263.3 424.5,264.4 424.8,264.7 425.2,265.3 425.6,265.3 426.0,265.5 426.4,265.5 426.8,265.2 427.2,265.7 427.6,265.5 427.9,265.6 428.3,265.3 428.7,265.0 429.1,263.3 429.5,264.5 429.9,265.2 430.3,265.1 430.6,265.4 431.0,265.6 431.4,265.3 431.8,265.6 432.2,265.1 432.6,265.0 433.0,265.2 433.3,265.6 433.7,265.0 434.1,265.2 434.5,265.3 434.9,265.4 435.3,265.1 435.7,265.4 436.1,265.5 436.4,265.7 436.8,265.4 437.2,265.9 437.6,265.4 438.0,265.3 438.4,265.1 438.8,265.3 439.1,265.9 439.5,265.3 439.9,265.8 440.3,265.1 440.7,265.6 441.1,265.9 441.5,265.4 441.8,265.9 442.2,265.5 442.6,265.5 443.0,265.1 443.4,265.6 443.8,265.5 444.2,263.9 444.6,264.7 444.9,265.7 445.3,265.6 445.7,265.9 446.1,265.7 446.5,265.7 446.9,265.9 447.3,265.8 447.6,265.9 448.0,265.8 448.4,265.9 448.8,265.7 449.2,265.8 449.6,265.9 450.0,265.7 450.3,265.5 450.7,265.7 451.1,265.8 451.5,266.0 451.9,265.6 452.3,266.2 452.7,265.8 453.0,265.9 453.4,265.4 453.8,266.0 454.2,266.2 454.6,265.9 455.0,265.5 455.4,266.4 455.8,266.4 456.1,265.6 456.5,266.3 456.9,266.1 457.3,266.1 457.7,266.3 458.1,266.3 458.5,266.4 458.8,266.2 459.2,265.7 459.6,265.7 460.0,265.8 460.4,265.8 460.8,265.3 461.2,265.7 461.5,266.0 461.9,265.9 462.3,266.0 462.7,266.4 463.1,265.8 463.5,266.0 463.9,266.1 464.3,265.8 464.6,266.0 465.0,266.2 465.4,266.2 465.8,265.9 466.2,266.3 466.6,266.3 467.0,266.2 467.3,266.0 467.7,266.1 468.1,265.8 468.5,266.2 468.9,266.2 469.3,266.3 469.7,266.0 470.0,265.9 470.4,265.8 470.8,266.2 471.2,266.1 471.6,266.2 472.0,265.9 472.4,266.3 472.8,265.8 473.1,265.7 473.5,265.8 473.9,266.4 474.3,265.7 474.7,265.8 475.1,266.2 475.5,266.4 475.8,266.2 476.2,266.2 476.6,259.0 477.0,262.6" fill="none" stroke="#3a3a3a" stroke-opacity="0.27" stroke-width="0.7" stroke-linejoin="miter"/>
<polyline points="336.0,265.3 336.4,266.1 336.8,265.9 337.2,265.3 337.5,265.3 337.9,265.8 338.3,265.5 338.7,265.6 339.1,265.7 339.5,265.1 339.9,265.2 340.2,265.7 340.6,265.7 341.0,265.0 341.4,265.3 341.8,250.6 342.2,258.1 342.6,261.2 343.0,263.0 343.3,264.1 343.7,264.4 344.1,265.0 344.5,264.9 344.9,265.4 345.3,265.5 345.7,265.2 346.0,265.2 346.4,265.2 346.8,265.1 347.2,265.2 347.6,264.7 348.0,264.7 348.4,265.3 348.7,264.6 349.1,265.0 349.5,264.6 349.9,265.0 350.3,265.3 350.7,264.9 351.1,264.9 351.5,264.6 351.8,264.4 352.2,264.4 352.6,264.5 353.0,265.1 353.4,264.4 353.8,264.4 354.2,265.1 354.5,265.0 354.9,264.7 355.3,264.4 355.7,264.5 356.1,243.2 356.5,237.1 356.9,250.8 357.2,258.0 357.6,253.8 358.0,258.8 358.4,261.7 358.8,263.1 359.2,261.5 359.6,263.0 360.0,264.0 360.3,264.4 360.7,264.4 361.1,264.3 361.5,264.3 361.9,264.2 362.3,264.8 362.7,264.2 363.0,264.7 363.4,264.4 363.8,264.8 364.2,264.4 364.6,265.0 365.0,264.5 365.4,264.8 365.7,264.8 366.1,265.1 366.5,264.6 366.9,264.3 367.3,264.8 367.7,264.7 368.1,264.8 368.4,264.8 368.8,265.1 369.2,265.0 369.6,265.2 370.0,264.9 370.4,265.2 370.8,265.2 371.2,263.2 371.5,264.4 371.9,264.6 372.3,264.9 372.7,264.6 373.1,265.4 373.5,252.9 373.9,259.1 374.2,261.9 374.6,263.5 375.0,264.3 375.4,265.1 375.8,265.0 376.2,264.8 376.6,265.2 376.9,264.6 377.3,265.2 377.7,254.4 378.1,260.0 378.5,262.7 378.9,263.9 379.3,264.1 379.7,265.0 380.0,245.2 380.4,254.9 380.8,259.9 381.2,262.1 381.6,264.0 382.0,264.7 382.4,265.1 382.7,264.9 383.1,264.7 383.5,262.2 383.9,263.9 384.3,264.2 384.7,264.5 385.1,264.7 385.4,264.9 385.8,264.7 386.2,265.1 386.6,265.2 387.0,265.4 387.4,265.0 387.8,264.9 388.2,264.5 388.5,264.9 388.9,264.6 389.3,264.6 389.7,264.5 390.1,265.0 390.5,264.8 390.9,264.7 391.2,233.5 391.6,252.4 392.0,260.9 392.4,264.9 392.8,264.8 393.2,265.1 393.6,264.5 393.9,265.0 394.3,264.6 394.7,264.7 395.1,264.6 395.5,264.9 395.9,264.8 396.3,264.5 396.6,265.1 397.0,264.3 397.4,264.7 397.8,265.1 398.2,264.6 398.6,264.9 399.0,265.0 399.4,264.9 399.7,264.4 400.1,264.4 400.5,264.6 400.9,264.3 401.3,247.6 401.7,256.6 402.1,255.0 402.4,259.4 402.8,262.3 403.2,263.4 403.6,227.7 404.0,246.4 404.4,246.9 404.8,255.5 405.1,260.3 405.5,262.0 405.9,263.3 406.3,264.1 406.7,261.7 407.1,263.6 407.5,264.2 407.9,264.0 408.2,264.0 408.6,264.2 409.0,264.9 409.4,264.7 409.8,265.1 410.2,264.6 410.6,264.4 410.9,260.9 411.3,262.5 411.7,264.1 412.1,264.2 412.5,246.5 412.9,255.8 413.3,258.9 413.6,260.7 414.0,262.6 414.4,263.6 414.8,264.4 415.2,264.5 415.6,264.1 416.0,264.8 416.4,265.1 416.7,264.8 417.1,264.6 417.5,264.7 417.9,265.3 418.3,264.8 418.7,264.8 419.1,265.0 419.4,265.3 419.8,264.9 420.2,239.4 420.6,252.7 421.0,258.5 421.4,262.0 421.8,263.8 422.1,264.7 422.5,244.8 422.9,253.1 423.3,259.5 423.7,262.0 424.1,263.6 424.5,264.2 424.8,264.9 425.2,265.3 425.6,265.4 426.0,265.4 426.4,265.2 426.8,265.6 427.2,265.1 427.6,265.1 427.9,265.4 428.3,265.2 428.7,265.3 429.1,265.1 429.5,265.3 429.9,265.4 430.3,265.0 430.6,265.1 431.0,265.2 431.4,263.8 431.8,264.4 432.2,264.9 432.6,265.3 433.0,265.3 433.3,265.3 433.7,265.6 434.1,265.3 434.5,265.1 434.9,265.0 435.3,265.6 435.7,265.8 436.1,265.1 436.4,265.1 436.8,265.8 437.2,265.5 437.6,265.7 438.0,265.4 438.4,265.2 438.8,265.4 439.1,265.9 439.5,265.5 439.9,265.6 440.3,265.3 440.7,266.0 441.1,265.6 441.5,265.9 441.8,265.9 442.2,265.4 442.6,265.5 443.0,265.3 443.4,265.5 443.8,265.5 444.2,265.6 444.6,265.4 444.9,265.5 445.3,266.1 445.7,265.2 446.1,265.4 446.5,266.1 446.9,266.2 447.3,265.9 447.6,265.4 448.0,265.8 448.4,265.5 448.8,266.1 449.2,265.4 449.6,265.9 450.0,265.7 450.3,238.6 450.7,254.7 451.1,262.0 451.5,265.5 451.9,265.5 452.3,266.0 452.7,266.2 453.0,265.9 453.4,266.2 453.8,265.6 454.2,265.8 454.6,265.9 455.0,266.0 455.4,265.6 455.8,265.9 456.1,265.6 456.5,266.2 456.9,265.6 457.3,266.3 457.7,266.3 458.1,265.5 458.5,265.7 458.8,265.6 459.2,266.4 459.6,265.6 460.0,266.0 460.4,266.1 460.8,265.7 461.2,265.5 461.5,265.7 461.9,266.3 462.3,265.9 462.7,265.9 463.1,266.3 463.5,266.1 463.9,265.6 464.3,265.8 464.6,266.3 465.0,265.7 465.4,265.6 465.8,265.7 466.2,266.1 466.6,266.3 467.0,266.1 467.3,266.3 467.7,266.2 468.1,266.4 468.5,265.7 468.9,266.3 469.3,266.4 469.7,266.5 470.0,265.7 470.4,266.3 470.8,263.5 471.2,265.0 471.6,265.6 472.0,265.4 472.4,266.1 472.8,265.8 473.1,266.3 473.5,266.1 473.9,265.9 474.3,265.7 474.7,266.3 475.1,266.4 475.5,265.8 475.8,266.2 476.2,265.7 476.6,266.3 477.0,266.1" fill="none" stroke="#3a3a3a" stroke-opacity="0.27" stroke-width="0.7" stroke-linejoin="miter"/>
<polyline points="336.0,265.9 336.4,266.0 336.8,265.6 337.2,265.7 337.5,256.8 337.9,261.3 338.3,263.0 338.7,261.6 339.1,263.6 339.5,264.8 339.9,265.2 340.2,265.2 340.6,265.0 341.0,265.7 341.4,265.7 341.8,264.9 342.2,265.1 342.6,265.5 343.0,265.3 343.3,265.6 343.7,265.2 344.1,264.8 344.5,265.0 344.9,265.1 345.3,265.5 345.7,265.0 346.0,265.3 346.4,265.1 346.8,265.2 347.2,265.1 347.6,265.1 348.0,264.9 348.4,265.3 348.7,265.1 349.1,264.5 349.5,264.7 349.9,265.2 350.3,264.5 350.7,264.7 351.1,264.8 351.5,264.7 351.8,264.5 352.2,265.0 352.6,264.7 353.0,264.4 353.4,264.6 353.8,264.5 354.2,264.4 354.5,264.3 354.9,264.9 355.3,264.6 355.7,244.6 356.1,254.7 356.5,259.4 356.9,262.1 357.2,260.4 357.6,261.3 358.0,262.7 358.4,263.8 358.8,263.9 359.2,244.8 359.6,254.9 360.0,259.8 360.3,262.2 360.7,263.4 361.1,263.6 361.5,264.0 361.9,264.6 362.3,264.1 362.7,264.9 363.0,264.2 363.4,264.3 363.8,264.4 364.2,264.7 364.6,264.5 365.0,264.0 365.4,264.4 365.7,264.3 366.1,264.4 366.5,264.8 366.9,264.4 367.3,264.5 367.7,264.5 368.1,261.5 368.4,263.6 368.8,263.9 369.2,260.8 369.6,262.7 370.0,260.9 370.4,263.5 370.8,263.9 371.2,245.0 371.5,255.3 371.9,260.1 372.3,262.7 372.7,264.0 373.1,264.4 373.5,264.8 373.9,265.0 374.2,264.7 374.6,264.7 375.0,264.7 375.4,264.4 375.8,264.5 376.2,264.7 376.6,264.9 376.9,264.9 377.3,265.3 377.7,264.7 378.1,265.2 378.5,264.8 378.9,264.7 379.3,264.8 379.7,265.1 380.0,265.1 380.4,265.5 380.8,264.3 381.2,264.9 381.6,264.7 382.0,264.9 382.4,265.1 382.7,265.0 383.1,264.8 383.5,265.3 383.9,264.8 384.3,265.0 384.7,259.0 385.1,261.5 385.4,263.0 385.8,263.8 386.2,264.8 386.6,264.4 387.0,264.6 387.4,264.9 387.8,264.6 388.2,265.1 388.5,264.5 388.9,265.4 389.3,264.8 389.7,264.6 390.1,264.8 390.5,264.9 390.9,264.6 391.2,265.1 391.6,263.9 392.0,264.9 392.4,264.9 392.8,264.5 393.2,265.3 393.6,264.6 393.9,264.5 394.3,264.7 394.7,264.8 395.1,265.0 395.5,264.9 395.9,264.4 396.3,264.5 396.6,262.7 397.0,264.0 397.4,255.0 397.8,260.2 398.2,262.7 398.6,263.8 399.0,264.2 399.4,264.4 399.7,264.2 400.1,264.5 400.5,264.1 400.9,265.0 401.3,264.2 401.7,264.7 402.1,264.8 402.4,264.8 402.8,264.7 403.2,264.3 403.6,264.5 404.0,264.7 404.4,264.4 404.8,264.7 405.1,264.5 405.5,264.5 405.9,264.8 406.3,264.5 406.7,264.6 407.1,264.7 407.5,264.1 407.9,264.8 408.2,263.3 408.6,264.6 409.0,264.4 409.4,264.9 409.8,264.2 410.2,264.3 410.6,264.9 410.9,264.9 411.3,264.5 411.7,264.2 412.1,264.4 412.5,264.8 412.9,264.5 413.3,264.8 413.6,264.6 414.0,265.3 414.4,264.6 414.8,264.8 415.2,265.1 415.6,265.3 416.0,264.9 416.4,264.8 416.7,265.2 417.1,264.8 417.5,265.0 417.9,264.9 418.3,265.3 418.7,264.9 419.1,264.7 419.4,265.1 419.8,265.0 420.2,265.0 420.6,265.1 421.0,265.0 421.4,264.7 421.8,264.8 422.1,251.3 422.5,258.5 422.9,261.9 423.3,263.6 423.7,264.3 424.1,264.5 424.5,264.6 424.8,264.9 425.2,265.0 425.6,265.5 426.0,265.1 426.4,255.0 426.8,259.8 427.2,263.1 427.6,263.8 427.9,264.5 428.3,263.1 428.7,263.8 429.1,264.4 429.5,265.3 429.9,264.8 430.3,265.4 430.6,265.4 431.0,265.5 431.4,265.2 431.8,265.7 432.2,265.2 432.6,265.3 433.0,265.2 433.3,265.2 433.7,265.5 434.1,265.5 434.5,265.2 434.9,265.4 435.3,265.3 435.7,265.2 436.1,265.9 436.4,265.8 436.8,265.0 437.2,265.7 437.6,265.1 438.0,265.1 438.4,265.6 438.8,265.6 439.1,265.6 439.5,265.7 439.9,265.5 440.3,265.6 440.7,265.5 441.1,265.4 441.5,263.2 441.8,263.9 442.2,264.8 442.6,265.0 443.0,265.7 443.4,265.8 443.8,266.0 444.2,265.4 444.6,266.0 444.9,265.9 445.3,265.6 445.7,265.6 446.1,265.9 446.5,265.3 446.9,266.1 447.3,265.7 447.6,265.4 448.0,266.0 448.4,265.6 448.8,266.0 449.2,265.8 449.6,265.5 450.0,266.1 450.3,265.7 450.7,265.9 451.1,265.9 451.5,266.1 451.9,265.7 452.3,266.3 452.7,266.3 453.0,266.2 453.4,266.1 453.8,266.1 454.2,266.2 454.6,265.5 455.0,265.5 455.4,265.8 455.8,265.5 456.1,265.7 456.5,266.3 456.9,265.7 457.3,265.9 457.7,265.6 458.1,266.0 458.5,261.2 458.8,263.3 459.2,264.5 459.6,265.3 460.0,265.4 460.4,265.9 460.8,266.2 461.2,265.6 461.5,265.6 461.9,266.2 462.3,266.2 462.7,266.1 463.1,265.8 463.5,265.7 463.9,265.7 464.3,266.1 464.6,265.6 465.0,265.9 465.4,266.4 465.8,265.9 466.2,266.3 466.6,265.8 467.0,266.2 467.3,265.8 467.7,266.1 468.1,265.3 468.5,265.9 468.9,266.1 469.3,266.1 469.7,266.4 470.0,266.0 470.4,265.9 470.8,266.5 471.2,266.3 471.6,266.4 472.0,265.9 472.4,263.9 472.8,264.7 473.1,265.7 473.5,265.6 473.9,265.5 474.3,265.8 474.7,265.6 475.1,266.0 475.5,265.8 475.8,266.4 476.2,266.4 476.6,266.1 477.0,266.2" fill="none" stroke="#3a3a3a" stroke-opacity="0.27" stroke-width="0.7" stroke-linejoin="miter"/>
<polyline points="336.0,265.8 336.4,265.8 336.8,265.4 337.2,265.5 337.5,265.7 337.9,265.7 338.3,265.8 338.7,265.7 339.1,265.2 339.5,265.9 339.9,265.5 340.2,265.5 340.6,265.1 341.0,265.1 341.4,265.5 341.8,265.7 342.2,265.5 342.6,265.1 343.0,265.4 343.3,261.7 343.7,263.5 344.1,263.9 344.5,254.2 344.9,259.8 345.3,262.1 345.7,263.9 346.0,264.0 346.4,264.8 346.8,265.3 347.2,264.6 347.6,264.8 348.0,264.7 348.4,264.7 348.7,265.3 349.1,264.5 349.5,264.9 349.9,264.4 350.3,264.5 350.7,265.0 351.1,264.5 351.5,264.8 351.8,265.1 352.2,264.8 352.6,264.6 353.0,264.8 353.4,265.1 353.8,264.3 354.2,264.8 354.5,264.7 354.9,264.9 355.3,264.8 355.7,260.3 356.1,262.5 356.5,230.4 356.9,247.8 357.2,256.0 357.6,260.4 358.0,262.6 358.4,263.8 358.8,264.0 359.2,264.4 359.6,264.0 360.0,264.0 360.3,264.2 360.7,264.5 361.1,264.6 361.5,264.1 361.9,264.9 362.3,264.5 362.7,265.0 363.0,264.7 363.4,264.7 363.8,264.7 364.2,264.3 364.6,264.9 365.0,264.9 365.4,239.9 365.7,251.8 366.1,242.1 366.5,253.4 366.9,259.2 367.3,261.7 367.7,263.7 368.1,263.7 368.4,264.8 368.8,265.0 369.2,264.5 369.6,264.9 370.0,264.5 370.4,265.3 370.8,264.8 371.2,264.5 371.5,263.8 371.9,264.6 372.3,264.7 372.7,265.2 373.1,265.1 373.5,264.9 373.9,265.3 374.2,265.2 374.6,265.1 375.0,265.2 375.4,265.0 375.8,265.4 376.2,264.9 376.6,265.3 376.9,264.8 377.3,233.2 377.7,248.8 378.1,256.8 378.5,260.9 378.9,262.9 379.3,264.1 379.7,264.3 380.0,262.7 380.4,263.6 380.8,264.8 381.2,254.1 381.6,259.5 382.0,262.0 382.4,263.3 382.7,264.0 383.1,264.5 383.5,249.3 383.9,257.5 384.3,260.8 384.7,262.7 385.1,264.4 385.4,264.7 385.8,264.8 386.2,264.8 386.6,264.7 387.0,265.2 387.4,265.3 387.8,265.2 388.2,264.9 388.5,264.6 388.9,265.1 389.3,264.7 389.7,264.8 390.1,264.9 390.5,264.6 390.9,264.7 391.2,265.1 391.6,261.8 392.0,263.6 392.4,264.1 392.8,264.6 393.2,265.0 393.6,263.8 393.9,264.7 394.3,264.8 394.7,264.7 395.1,265.2 395.5,264.9 395.9,265.1 396.3,261.1 396.6,263.3 397.0,264.3 397.4,264.2 397.8,264.4 398.2,264.1 398.6,264.8 399.0,264.7 399.4,264.5 399.7,264.6 400.1,264.7 400.5,264.2 400.9,264.6 401.3,264.3 401.7,264.7 402.1,264.7 402.4,261.5 402.8,262.6 403.2,259.8 403.6,262.3 404.0,263.0 404.4,264.1 404.8,263.8 405.1,264.2 405.5,264.2 405.9,264.5 406.3,264.7 406.7,264.6 407.1,264.6 407.5,264.8 407.9,264.2 408.2,264.4 408.6,264.9 409.0,264.3 409.4,249.2 409.8,253.8 410.2,259.2 410.6,262.3 410.9,263.2 411.3,264.2 411.7,264.9 412.1,264.8 412.5,264.4 412.9,265.0 413.3,260.6 413.6,262.9 414.0,263.5 414.4,253.6 414.8,259.4 415.2,262.0 415.6,263.3 416.0,264.4 416.4,264.8 416.7,265.2 417.1,265.1 417.5,265.4 417.9,265.2 418.3,264.7 418.7,265.3 419.1,265.0 419.4,264.7 419.8,265.2 420.2,265.3 420.6,265.5 421.0,265.3 421.4,265.6 421.8,265.0 422.1,264.9 422.5,264.8 422.9,264.9 423.3,265.3 423.7,265.4 424.1,265.2 424.5,265.3 424.8,264.8 425.2,265.2 425.6,265.2 426.0,264.8 426.4,264.9 426.8,265.3 427.2,264.8 427.6,265.5 427.9,262.5 428.3,263.8 428.7,264.8 429.1,265.1 429.5,265.1 429.9,265.5 430.3,264.9 430.6,265.3 431.0,265.8 431.4,264.9 431.8,265.4 432.2,265.8 432.6,265.6 433.0,265.1 433.3,265.1 433.7,265.3 434.1,265.6 434.5,265.4 434.9,265.5 435.3,265.7 435.7,265.8 436.1,265.5 436.4,265.5 436.8,265.7 437.2,265.8 437.6,265.3 438.0,265.3 438.4,265.9 438.8,265.2 439.1,265.1 439.5,265.6 439.9,265.2 440.3,265.6 440.7,265.8 441.1,265.2 441.5,265.9 441.8,265.6 442.2,265.7 442.6,265.4 443.0,265.2 443.4,264.6 443.8,264.9 444.2,265.7 444.6,265.9 444.9,265.8 445.3,265.5 445.7,265.3 446.1,265.9 446.5,265.5 446.9,260.5 447.3,262.9 447.6,264.3 448.0,265.2 448.4,265.6 448.8,265.3 449.2,265.3 449.6,265.4 450.0,266.2 450.3,266.2 450.7,265.9 451.1,266.1 451.5,265.8 451.9,266.2 452.3,266.3 452.7,265.4 453.0,265.6 453.4,265.6 453.8,266.3 454.2,265.6 454.6,259.3 455.0,262.9 455.4,264.3 455.8,255.9 456.1,260.6 456.5,263.3 456.9,264.7 457.3,265.2 457.7,265.3 458.1,266.1 458.5,266.1 458.8,265.6 459.2,265.9 459.6,266.2 460.0,265.5 460.4,265.8 460.8,266.1 461.2,266.4 461.5,265.5 461.9,266.2 462.3,266.0 462.7,265.9 463.1,266.1 463.5,266.3 463.9,265.7 464.3,265.9 464.6,264.9 465.0,265.2 465.4,265.7 465.8,266.2 466.2,266.0 466.6,266.0 467.0,266.1 467.3,265.7 467.7,266.2 468.1,265.8 468.5,265.9 468.9,265.8 469.3,265.7 469.7,266.4 470.0,266.0 470.4,265.8 470.8,266.2 471.2,266.0 471.6,266.4 472.0,266.3 472.4,266.2 472.8,265.7 473.1,262.8 473.5,264.5 473.9,265.4 474.3,265.7 474.7,266.0 475.1,265.7 475.5,266.1 475.8,266.1 476.2,265.7 476.6,265.9 477.0,265.8" fill="none" stroke="#3a3a3a" stroke-opacity="0.27" stroke-width="0.7" stroke-linejoin="miter"/>
<polyline points="336.0,258.5 336.4,261.6 336.8,263.9 337.2,264.7 337.5,264.0 337.9,265.2 338.3,264.9 338.7,265.4 339.1,265.8 339.5,265.6 339.9,265.6 340.2,265.1 340.6,265.1 341.0,265.6 341.4,265.7 341.8,264.9 342.2,265.4 342.6,264.9 343.0,265.0 343.3,264.9 343.7,264.8 344.1,265.0 344.5,264.8 344.9,265.2 345.3,265.0 345.7,264.8 346.0,264.7 346.4,264.8 346.8,265.3 347.2,264.6 347.6,265.0 348.0,264.6 348.4,265.2 348.7,264.6 349.1,264.7 349.5,265.0 349.9,264.7 350.3,264.6 350.7,265.2 351.1,265.1 351.5,265.2 351.8,264.8 352.2,264.4 352.6,264.6 353.0,264.4 353.4,264.9 353.8,264.8 354.2,265.0 354.5,265.1 354.9,264.9 355.3,264.9 355.7,264.4 356.1,264.3 356.5,264.9 356.9,264.1 357.2,264.5 357.6,264.2 358.0,239.6 358.4,255.1 358.8,262.2 359.2,241.6 359.6,252.9 360.0,258.6 360.3,250.9 360.7,258.3 361.1,260.9 361.5,263.0 361.9,263.5 362.3,264.1 362.7,264.2 363.0,264.9 363.4,264.1 363.8,265.0 364.2,220.9 364.6,243.2 365.0,253.6 365.4,259.4 365.7,261.9 366.1,263.0 366.5,263.8 366.9,264.5 367.3,264.2 367.7,264.4 368.1,265.1 368.4,264.4 368.8,264.5 369.2,264.6 369.6,258.5 370.0,262.2 370.4,263.0 370.8,263.7 371.2,264.5 371.5,264.8 371.9,265.0 372.3,265.1 372.7,265.2 373.1,258.7 373.5,261.4 373.9,263.4 374.2,264.5 374.6,264.8 375.0,265.3 375.4,264.9 375.8,265.2 376.2,265.2 376.6,265.5 376.9,264.7 377.3,264.9 377.7,265.4 378.1,265.0 378.5,265.0 378.9,265.1 379.3,256.5 379.7,261.3 380.0,263.2 380.4,264.2 380.8,264.5 381.2,264.8 381.6,264.9 382.0,264.6 382.4,265.3 382.7,264.8 383.1,264.9 383.5,265.2 383.9,264.7 384.3,265.4 384.7,265.1 385.1,264.8 385.4,265.2 385.8,265.3 386.2,264.9 386.6,265.3 387.0,265.3 387.4,264.9 387.8,265.4 388.2,265.4 388.5,264.9 388.9,265.2 389.3,265.2 389.7,264.5 390.1,265.2 390.5,265.0 390.9,264.7 391.2,264.8 391.6,264.9 392.0,264.5 392.4,265.1 392.8,265.1 393.2,264.9 393.6,265.0 393.9,265.0 394.3,265.0 394.7,261.4 395.1,262.8 395.5,257.8 395.9,261.5 396.3,263.5 396.6,264.0 397.0,264.3 397.4,264.5 397.8,265.0 398.2,264.9 398.6,264.6 399.0,264.2 399.4,264.5 399.7,264.9 400.1,264.8 400.5,264.9 400.9,261.2 401.3,262.4 401.7,263.6 402.1,263.2 402.4,264.2 402.8,251.8 403.2,258.1 403.6,261.2 404.0,263.3 404.4,263.7 404.8,264.4 405.1,258.8 405.5,261.6 405.9,263.2 406.3,263.8 406.7,264.3 407.1,264.7 407.5,264.8 407.9,264.6 408.2,264.8 408.6,264.9 409.0,264.5 409.4,264.2 409.8,265.0 410.2,265.1 410.6,264.3 410.9,265.2 411.3,264.9 411.7,264.5 412.1,264.8 412.5,264.4 412.9,264.9 413.3,264.9 413.6,265.0 414.0,265.3 414.4,264.5 414.8,264.7 415.2,264.7 415.6,265.3 416.0,264.9 416.4,258.1 416.7,261.4 417.1,263.7 417.5,264.1 417.9,265.0 418.3,262.2 418.7,263.3 419.1,262.5 419.4,264.3 419.8,264.5 420.2,264.5 420.6,265.3 421.0,265.5 421.4,265.2 421.8,264.8 422.1,265.1 422.5,264.8 422.9,265.4 423.3,264.8 423.7,264.8 424.1,265.5 424.5,265.5 424.8,265.3 425.2,265.3 425.6,264.9 426.0,264.8 426.4,265.6 426.8,265.3 427.2,261.1 427.6,263.4 427.9,263.9 428.3,265.1 428.7,265.3 429.1,265.5 429.5,265.1 429.9,265.2 430.3,265.7 430.6,265.7 431.0,265.2 431.4,265.6 431.8,265.2 432.2,265.5 432.6,265.1 433.0,265.1 433.3,265.6 433.7,265.6 434.1,265.5 434.5,265.3 434.9,265.6 435.3,265.7 435.7,265.8 436.1,261.5 436.4,263.5 436.8,264.6 437.2,264.5 437.6,263.3 438.0,264.5 438.4,264.9 438.8,265.5 439.1,265.0 439.5,265.1 439.9,265.3 440.3,265.4 440.7,265.4 441.1,265.5 441.5,265.3 441.8,265.8 442.2,266.0 442.6,265.9 443.0,265.9 443.4,265.9 443.8,253.8 444.2,259.7 444.6,262.6 444.9,260.9 445.3,263.7 445.7,264.7 446.1,265.4 446.5,265.0 446.9,265.2 447.3,265.3 447.6,265.2 448.0,265.9 448.4,266.0 448.8,265.5 449.2,266.2 449.6,266.1 450.0,265.8 450.3,265.5 450.7,266.0 451.1,265.4 451.5,265.4 451.9,265.6 452.3,266.1 452.7,266.0 453.0,265.9 453.4,265.7 453.8,266.3 454.2,265.6 454.6,266.1 455.0,266.2 455.4,266.1 455.8,265.7 456.1,266.0 456.5,262.2 456.9,263.7 457.3,264.9 457.7,265.3 458.1,265.3 458.5,265.4 458.8,266.1 459.2,266.1 459.6,265.7 460.0,265.9 460.4,265.6 460.8,266.3 461.2,266.4 461.5,266.3 461.9,265.7 462.3,266.0 462.7,265.8 463.1,265.8 463.5,266.1 463.9,266.3 464.3,266.1 464.6,266.3 465.0,265.7 465.4,266.0 465.8,266.4 466.2,265.9 466.6,265.6 467.0,265.6 467.3,265.9 467.7,265.7 468.1,266.2 468.5,264.3 468.9,265.0 469.3,265.7 469.7,265.8 470.0,266.4 470.4,265.7 470.8,265.6 471.2,266.0 471.6,265.7 472.0,265.8 472.4,266.3 472.8,266.5 473.1,265.8 473.5,266.0 473.9,266.1 474.3,266.1 474.7,266.5 475.1,266.1 475.5,265.7 475.8,265.8 476.2,265.7 476.6,266.5 477.0,266.0" fill="none" stroke="#3a3a3a" stroke-opacity="0.27" stroke-width="0.7" stroke-linejoin="miter"/>
<polyline points="336.0,266.0 336.4,265.4 336.8,265.8 337.2,265.8 337.5,265.9 337.9,266.0 338.3,266.0 338.7,265.3 339.1,265.5 339.5,265.3 339.9,264.8 340.2,264.9 340.6,264.8 341.0,265.5 341.4,264.9 341.8,260.0 342.2,263.0 342.6,264.2 343.0,264.2 343.3,264.8 343.7,265.0 344.1,264.7 344.5,258.9 344.9,261.6 345.3,263.3 345.7,264.4 346.0,264.3 346.4,265.2 346.8,264.8 347.2,265.0 347.6,264.7 348.0,265.2 348.4,265.3 348.7,264.8 349.1,264.9 349.5,265.1 349.9,264.5 350.3,264.7 350.7,264.8 351.1,265.1 351.5,265.2 351.8,252.7 352.2,258.7 352.6,261.4 353.0,262.9 353.4,263.5 353.8,264.3 354.2,264.2 354.5,264.8 354.9,264.8 355.3,264.6 355.7,264.8 356.1,264.8 356.5,265.0 356.9,264.5 357.2,264.2 357.6,264.8 358.0,264.6 358.4,264.5 358.8,264.7 359.2,264.9 359.6,264.6 360.0,264.8 360.3,264.8 360.7,264.8 361.1,264.3 361.5,264.2 361.9,264.2 362.3,264.6 362.7,264.3 363.0,264.8 363.4,264.2 363.8,250.0 364.2,257.4 364.6,261.3 365.0,262.5 365.4,264.2 365.7,264.4 366.1,264.9 366.5,264.8 366.9,264.7 367.3,264.9 367.7,264.6 368.1,264.5 368.4,259.1 368.8,261.9 369.2,263.6 369.6,252.2 370.0,258.3 370.4,261.9 370.8,262.9 371.2,264.4 371.5,262.9 371.9,263.4 372.3,264.6 372.7,264.6 373.1,262.0 373.5,264.0 373.9,264.1 374.2,265.1 374.6,264.6 375.0,264.6 375.4,265.0 375.8,265.4 376.2,265.2 376.6,261.6 376.9,263.2 377.3,263.9 377.7,264.9 378.1,265.0 378.5,264.8 378.9,265.4 379.3,265.3 379.7,264.7 380.0,265.4 380.4,265.4 380.8,265.3 381.2,264.9 381.6,265.1 382.0,265.4 382.4,265.2 382.7,264.9 383.1,265.1 383.5,254.4 383.9,260.0 384.3,262.5 384.7,263.5 385.1,264.0 385.4,263.6 385.8,263.8 386.2,264.7 386.6,264.9 387.0,265.1 387.4,264.0 387.8,264.9 388.2,264.6 388.5,264.9 388.9,264.6 389.3,264.9 389.7,264.8 390.1,265.1 390.5,265.2 390.9,265.1 391.2,265.0 391.6,264.5 392.0,254.8 392.4,259.4 392.8,262.2 393.2,263.4 393.6,264.2 393.9,264.5 394.3,264.6 394.7,264.9 395.1,264.9 395.5,264.8 395.9,264.2 396.3,251.4 396.6,258.2 397.0,261.5 397.4,263.0 397.8,174.8 398.2,226.0 398.6,249.2 399.0,264.9 399.4,264.9 399.7,264.9 400.1,264.3 400.5,264.8 400.9,248.6 401.3,256.6 401.7,260.4 402.1,260.3 402.4,263.0 402.8,263.9 403.2,264.4 403.6,264.6 404.0,264.7 404.4,264.6 404.8,264.0 405.1,264.5 405.5,253.1 405.9,259.1 406.3,261.6 406.7,263.3 407.1,263.8 407.5,264.5 407.9,264.1 408.2,264.8 408.6,254.0 409.0,259.1 409.4,262.0 409.8,263.4 410.2,255.4 410.6,260.5 410.9,262.9 411.3,258.7 411.7,261.7 412.1,263.7 412.5,264.2 412.9,264.1 413.3,264.4 413.6,264.3 414.0,264.5 414.4,264.7 414.8,264.7 415.2,265.2 415.6,264.9 416.0,264.6 416.4,265.0 416.7,264.9 417.1,265.0 417.5,264.6 417.9,265.4 418.3,264.9 418.7,265.3 419.1,264.8 419.4,265.5 419.8,265.2 420.2,265.3 420.6,265.3 421.0,264.8 421.4,265.3 421.8,265.1 422.1,265.0 422.5,265.5 422.9,264.9 423.3,265.5 423.7,264.9 424.1,265.4 424.5,265.0 424.8,265.3 425.2,257.6 425.6,261.5 426.0,263.4 426.4,240.8 426.8,250.6 427.2,258.2 427.6,261.6 427.9,263.7 428.3,264.7 428.7,251.6 429.1,252.5 429.5,258.9 429.9,262.1 430.3,264.1 430.6,264.8 431.0,264.9 431.4,265.1 431.8,265.4 432.2,265.5 432.6,265.0 433.0,265.5 433.3,265.6 433.7,265.0 434.1,265.8 434.5,265.4 434.9,265.1 435.3,265.8 435.7,265.6 436.1,265.2 436.4,265.8 436.8,262.9 437.2,264.7 437.6,265.4 438.0,246.4 438.4,256.1 438.8,260.5 439.1,263.2 439.5,264.5 439.9,265.3 440.3,265.2 440.7,265.0 441.1,265.4 441.5,265.3 441.8,265.6 442.2,265.4 442.6,265.5 443.0,265.7 443.4,265.4 443.8,265.8 444.2,265.4 444.6,265.9 444.9,265.8 445.3,266.1 445.7,265.6 446.1,264.1 446.5,264.9 446.9,265.4 447.3,246.6 447.6,256.7 448.0,261.4 448.4,263.0 448.8,264.5 449.2,264.9 449.6,265.5 450.0,265.3 450.3,265.7 450.7,265.9 451.1,266.2 451.5,265.0 451.9,265.2 452.3,265.7 452.7,265.7 453.0,266.2 453.4,265.8 453.8,265.9 454.2,265.8 454.6,265.7 455.0,265.5 455.4,265.6 455.8,266.1 456.1,266.1 456.5,266.1 456.9,265.5 457.3,265.9 457.7,265.7 458.1,266.0 458.5,265.7 458.8,266.0 459.2,264.0 459.6,265.4 460.0,265.1 460.4,265.8 460.8,266.1 461.2,266.0 461.5,266.2 461.9,266.4 462.3,266.1 462.7,266.2 463.1,265.7 463.5,265.8 463.9,265.6 464.3,265.9 464.6,266.1 465.0,266.3 465.4,266.3 465.8,265.7 466.2,266.5 466.6,266.4 467.0,261.5 467.3,263.6 467.7,264.8 468.1,265.7 468.5,265.6 468.9,266.2 469.3,265.8 469.7,265.8 470.0,266.2 470.4,265.6 470.8,266.2 471.2,266.1 471.6,266.1 472.0,266.0 472.4,266.4 472.8,266.2 473.1,266.2 473.5,266.3 473.9,265.7 474.3,265.8 474.7,266.5 475.1,266.2 475.5,265.8 475.8,265.7 476.2,266.2 476.6,266.3 477.0,266.2" fill="none" stroke="#3a3a3a" stroke-opacity="0.27" stroke-width="0.7" stroke-linejoin="miter"/>
<polyline points="336.0,265.8 336.4,265.8 336.8,265.5 337.2,265.7 337.5,265.4 337.9,265.2 338.3,265.3 338.7,265.7 339.1,265.5 339.5,265.8 339.9,265.6 340.2,265.4 340.6,265.0 341.0,265.2 341.4,265.3 341.8,265.5 342.2,265.5 342.6,264.8 343.0,265.3 343.3,264.8 343.7,265.0 344.1,265.5 344.5,264.8 344.9,265.3 345.3,264.8 345.7,256.0 346.0,260.8 346.4,260.0 346.8,262.6 347.2,263.9 347.6,264.3 348.0,264.9 348.4,265.2 348.7,264.5 349.1,264.5 349.5,264.9 349.9,264.9 350.3,259.5 350.7,262.5 351.1,263.5 351.5,264.4 351.8,264.1 352.2,264.5 352.6,265.1 353.0,264.8 353.4,264.5 353.8,261.5 354.2,263.3 354.5,264.3 354.9,264.5 355.3,264.3 355.7,264.4 356.1,264.8 356.5,264.3 356.9,264.5 357.2,264.6 357.6,264.4 358.0,264.8 358.4,264.8 358.8,264.5 359.2,264.2 359.6,264.4 360.0,264.5 360.3,264.6 360.7,264.5 361.1,264.6 361.5,264.9 361.9,264.3 362.3,264.7 362.7,264.7 363.0,264.5 363.4,264.7 363.8,264.9 364.2,236.8 364.6,251.2 365.0,257.9 365.4,261.4 365.7,263.4 366.1,263.5 366.5,264.1 366.9,264.4 367.3,264.4 367.7,264.5 368.1,265.2 368.4,264.3 368.8,265.1 369.2,264.4 369.6,251.2 370.0,258.4 370.4,261.5 370.8,263.6 371.2,263.7 371.5,264.2 371.9,264.9 372.3,265.1 372.7,256.9 373.1,261.3 373.5,262.7 373.9,264.2 374.2,264.8 374.6,226.9 375.0,245.7 375.4,255.2 375.8,259.9 376.2,262.3 376.6,263.5 376.9,264.2 377.3,264.8 377.7,264.9 378.1,265.0 378.5,265.4 378.9,265.5 379.3,265.2 379.7,265.2 380.0,264.9 380.4,265.0 380.8,265.1 381.2,264.6 381.6,260.4 382.0,263.0 382.4,264.0 382.7,264.9 383.1,265.1 383.5,264.5 383.9,264.7 384.3,264.6 384.7,264.9 385.1,265.0 385.4,265.4 385.8,265.4 386.2,256.6 386.6,260.6 387.0,262.8 387.4,264.0 387.8,264.8 388.2,265.0 388.5,264.9 388.9,264.4 389.3,265.0 389.7,258.4 390.1,261.7 390.5,263.4 390.9,264.1 391.2,253.1 391.6,259.0 392.0,261.6 392.4,263.8 392.8,264.6 393.2,264.4 393.6,264.8 393.9,264.4 394.3,264.8 394.7,245.7 395.1,255.6 395.5,260.1 395.9,262.3 396.3,263.1 396.6,264.0 397.0,264.7 397.4,264.4 397.8,264.7 398.2,265.0 398.6,264.3 399.0,265.0 399.4,264.9 399.7,264.5 400.1,260.9 400.5,262.3 400.9,263.6 401.3,262.0 401.7,259.1 402.1,261.9 402.4,263.2 402.8,263.8 403.2,264.1 403.6,264.4 404.0,264.7 404.4,264.0 404.8,264.3 405.1,264.9 405.5,264.6 405.9,252.5 406.3,258.8 406.7,261.9 407.1,263.3 407.5,264.2 407.9,243.5 408.2,248.1 408.6,256.8 409.0,260.3 409.4,262.3 409.8,263.6 410.2,264.5 410.6,264.1 410.9,264.9 411.3,243.7 411.7,254.6 412.1,259.8 412.5,262.2 412.9,263.5 413.3,264.4 413.6,264.1 414.0,264.4 414.4,262.1 414.8,263.8 415.2,264.5 415.6,250.5 416.0,258.0 416.4,261.5 416.7,263.3 417.1,264.3 417.5,264.7 417.9,264.7 418.3,264.8 418.7,264.9 419.1,265.1 419.4,264.8 419.8,265.0 420.2,265.3 420.6,264.9 421.0,263.3 421.4,264.2 421.8,264.9 422.1,265.1 422.5,265.2 422.9,265.2 423.3,265.1 423.7,265.1 424.1,264.8 424.5,230.4 424.8,251.0 425.2,260.3 425.6,265.2 426.0,265.6 426.4,265.0 426.8,265.1 427.2,264.9 427.6,265.0 427.9,265.1 428.3,265.1 428.7,265.1 429.1,265.2 429.5,265.1 429.9,265.6 430.3,265.1 430.6,265.3 431.0,265.6 431.4,265.4 431.8,265.0 432.2,265.5 432.6,265.7 433.0,265.5 433.3,265.5 433.7,265.2 434.1,265.4 434.5,265.7 434.9,265.8 435.3,265.5 435.7,265.5 436.1,265.7 436.4,265.3 436.8,265.7 437.2,265.4 437.6,265.2 438.0,265.8 438.4,265.7 438.8,265.7 439.1,265.2 439.5,265.7 439.9,265.3 440.3,265.3 440.7,265.1 441.1,265.7 441.5,265.5 441.8,265.9 442.2,265.2 442.6,265.4 443.0,265.8 443.4,265.4 443.8,265.9 444.2,265.3 444.6,265.6 444.9,266.1 445.3,266.1 445.7,265.3 446.1,265.6 446.5,265.3 446.9,266.0 447.3,265.6 447.6,258.3 448.0,261.8 448.4,264.2 448.8,264.5 449.2,264.9 449.6,265.6 450.0,266.1 450.3,266.1 450.7,265.3 451.1,265.5 451.5,265.9 451.9,265.4 452.3,266.1 452.7,265.5 453.0,266.1 453.4,265.9 453.8,265.9 454.2,265.9 454.6,266.0 455.0,266.0 455.4,266.2 455.8,266.1 456.1,265.8 456.5,265.6 456.9,265.8 457.3,265.6 457.7,265.6 458.1,266.3 458.5,265.5 458.8,266.2 459.2,265.1 459.6,265.5 460.0,265.7 460.4,265.9 460.8,265.7 461.2,265.9 461.5,265.6 461.9,266.0 462.3,265.5 462.7,265.6 463.1,265.6 463.5,266.0 463.9,266.1 464.3,265.7 464.6,265.7 465.0,265.7 465.4,266.1 465.8,266.2 466.2,266.0 466.6,266.5 467.0,265.6 467.3,266.4 467.7,266.4 468.1,265.8 468.5,266.4 468.9,265.8 469.3,265.7 469.7,266.2 470.0,266.5 470.4,266.3 470.8,265.9 471.2,265.8 471.6,266.5 472.0,265.8 472.4,266.3 472.8,266.1 473.1,265.9 473.5,266.3 473.9,266.0 474.3,266.4 474.7,266.4 475.1,266.1 475.5,266.3 475.8,266.3 476.2,266.0 476.6,265.7 477.0,266.5" fill="none" stroke="#3a3a3a" stroke-opacity="0.27" stroke-width="0.7" stroke-linejoin="miter"/>
<polyline points="336.0,266.1 336.4,265.7 336.8,265.4 337.2,265.6 337.5,265.9 337.9,265.7 338.3,265.5 338.7,265.1 339.1,265.3 339.5,265.7 339.9,265.4 340.2,265.2 340.6,264.8 341.0,264.9 341.4,264.9 341.8,264.9 342.2,262.1 342.6,263.7 343.0,264.4 343.3,264.8 343.7,264.9 344.1,265.0 344.5,265.1 344.9,265.4 345.3,264.6 345.7,265.3 346.0,264.8 346.4,265.3 346.8,265.4 347.2,265.0 347.6,265.3 348.0,265.2 348.4,265.3 348.7,265.2 349.1,265.3 349.5,264.8 349.9,264.5 350.3,265.3 350.7,264.9 351.1,235.8 351.5,253.4 351.8,261.4 352.2,264.4 352.6,264.8 353.0,264.8 353.4,264.9 353.8,264.6 354.2,264.3 354.5,264.6 354.9,262.2 355.3,241.1 355.7,252.5 356.1,258.7 356.5,262.0 356.9,263.5 357.2,263.9 357.6,263.9 358.0,264.4 358.4,264.4 358.8,255.4 359.2,260.4 359.6,262.5 360.0,263.5 360.3,254.5 360.7,259.5 361.1,252.8 361.5,259.2 361.9,261.6 362.3,259.6 362.7,262.2 363.0,262.9 363.4,264.0 363.8,229.0 364.2,247.3 364.6,255.9 365.0,260.6 365.4,262.9 365.7,259.7 366.1,256.5 366.5,260.8 366.9,262.3 367.3,256.6 367.7,260.4 368.1,262.6 368.4,263.4 368.8,264.6 369.2,264.8 369.6,265.0 370.0,264.7 370.4,265.1 370.8,264.9 371.2,264.7 371.5,264.5 371.9,264.8 372.3,265.0 372.7,242.5 373.1,253.9 373.5,259.5 373.9,262.6 374.2,263.9 374.6,264.1 375.0,265.1 375.4,264.5 375.8,264.7 376.2,263.4 376.6,263.9 376.9,264.6 377.3,264.9 377.7,265.1 378.1,265.0 378.5,264.8 378.9,265.1 379.3,265.0 379.7,265.3 380.0,264.8 380.4,265.1 380.8,264.9 381.2,265.4 381.6,264.8 382.0,265.3 382.4,265.0 382.7,265.4 383.1,264.9 383.5,264.8 383.9,265.2 384.3,265.4 384.7,264.7 385.1,265.3 385.4,265.3 385.8,264.7 386.2,265.1 386.6,265.0 387.0,265.2 387.4,265.0 387.8,253.5 388.2,258.9 388.5,260.7 388.9,262.5 389.3,264.0 389.7,264.7 390.1,264.5 390.5,264.6 390.9,265.1 391.2,265.2 391.6,265.0 392.0,265.1 392.4,264.6 392.8,264.8 393.2,264.7 393.6,264.7 393.9,264.8 394.3,264.7 394.7,265.2 395.1,264.5 395.5,264.7 395.9,265.0 396.3,259.4 396.6,262.4 397.0,251.0 397.4,255.8 397.8,260.6 398.2,262.6 398.6,263.2 399.0,264.2 399.4,264.6 399.7,264.7 400.1,264.6 400.5,264.5 400.9,264.7 401.3,264.7 401.7,265.0 402.1,264.4 402.4,264.2 402.8,264.2 403.2,264.1 403.6,264.5 404.0,264.7 404.4,250.2 404.8,257.8 405.1,260.8 405.5,262.5 405.9,264.1 406.3,263.9 406.7,262.3 407.1,263.6 407.5,263.8 407.9,264.2 408.2,264.6 408.6,264.8 409.0,264.9 409.4,264.7 409.8,264.4 410.2,264.4 410.6,265.1 410.9,265.0 411.3,265.2 411.7,264.8 412.1,247.7 412.5,256.0 412.9,260.6 413.3,255.5 413.6,260.7 414.0,262.3 414.4,257.8 414.8,261.0 415.2,263.6 415.6,260.3 416.0,262.6 416.4,263.6 416.7,264.6 417.1,264.5 417.5,264.9 417.9,264.7 418.3,264.7 418.7,265.4 419.1,265.1 419.4,265.1 419.8,265.2 420.2,264.8 420.6,265.2 421.0,265.6 421.4,265.2 421.8,265.1 422.1,265.6 422.5,264.8 422.9,264.9 423.3,265.5 423.7,250.2 424.1,257.6 424.5,261.5 424.8,263.6 425.2,264.0 425.6,265.0 426.0,264.9 426.4,264.8 426.8,264.9 427.2,249.5 427.6,257.2 427.9,260.9 428.3,263.7 428.7,264.7 429.1,264.9 429.5,265.2 429.9,265.5 430.3,265.5 430.6,264.9 431.0,265.8 431.4,265.3 431.8,264.9 432.2,265.3 432.6,265.6 433.0,265.6 433.3,265.8 433.7,265.2 434.1,265.3 434.5,265.3 434.9,265.2 435.3,263.6 435.7,264.8 436.1,264.5 436.4,258.2 436.8,261.9 437.2,263.3 437.6,264.5 438.0,264.6 438.4,265.4 438.8,263.0 439.1,264.3 439.5,265.0 439.9,265.3 440.3,265.6 440.7,265.2 441.1,265.9 441.5,265.9 441.8,265.4 442.2,261.4 442.6,263.1 443.0,264.5 443.4,265.1 443.8,265.8 444.2,265.1 444.6,265.2 444.9,265.7 445.3,265.2 445.7,265.9 446.1,265.8 446.5,265.8 446.9,263.5 447.3,264.6 447.6,265.0 448.0,265.8 448.4,266.0 448.8,265.3 449.2,265.8 449.6,265.7 450.0,266.2 450.3,265.8 450.7,265.9 451.1,266.1 451.5,265.9 451.9,265.9 452.3,266.2 452.7,266.1 453.0,265.8 453.4,266.2 453.8,266.2 454.2,265.8 454.6,266.1 455.0,265.7 455.4,265.6 455.8,263.3 456.1,264.6 456.5,265.4 456.9,266.0 457.3,266.1 457.7,266.2 458.1,266.2 458.5,266.1 458.8,266.2 459.2,265.7 459.6,266.0 460.0,266.1 460.4,266.3 460.8,265.7 461.2,266.1 461.5,265.8 461.9,266.3 462.3,265.7 462.7,265.6 463.1,266.3 463.5,266.1 463.9,266.0 464.3,266.1 464.6,265.8 465.0,266.4 465.4,266.1 465.8,266.1 466.2,265.6 466.6,266.3 467.0,265.9 467.3,266.0 467.7,265.6 468.1,266.1 468.5,266.0 468.9,248.1 469.3,256.9 469.7,261.5 470.0,263.8 470.4,265.1 470.8,265.6 471.2,265.8 471.6,265.7 472.0,265.6 472.4,266.5 472.8,265.7 473.1,266.1 473.5,266.5 473.9,266.3 474.3,265.8 474.7,266.5 475.1,265.7 475.5,266.0 475.8,265.8 476.2,265.7 476.6,266.4 477.0,265.8" fill="none" stroke="#3a3a3a" stroke-opacity="0.27" stroke-width="0.7" stroke-linejoin="miter"/>
<polyline points="336.0,265.9 336.4,265.3 336.8,265.3 337.2,265.8 337.5,265.9 337.9,265.8 338.3,246.2 338.7,255.7 339.1,261.0 339.5,262.8 339.9,264.3 340.2,264.5 340.6,264.9 341.0,265.1 341.4,265.5 341.8,265.6 342.2,262.9 342.6,263.8 343.0,264.6 343.3,265.3 343.7,265.1 344.1,252.9 344.5,257.2 344.9,260.9 345.3,263.3 345.7,263.7 346.0,265.0 346.4,264.3 346.8,264.8 347.2,249.3 347.6,257.5 348.0,259.9 348.4,262.3 348.7,263.7 349.1,263.9 349.5,264.4 349.9,264.9 350.3,265.0 350.7,264.4 351.1,264.6 351.5,265.0 351.8,264.9 352.2,262.9 352.6,263.6 353.0,264.5 353.4,264.7 353.8,264.2 354.2,264.7 354.5,257.1 354.9,260.6 355.3,231.9 355.7,251.7 356.1,260.6 356.5,264.4 356.9,264.4 357.2,264.3 357.6,264.1 358.0,264.1 358.4,264.7 358.8,264.6 359.2,256.1 359.6,260.2 360.0,262.6 360.3,263.2 360.7,260.2 361.1,262.2 361.5,263.8 361.9,263.8 362.3,264.6 362.7,264.4 363.0,264.9 363.4,264.2 363.8,264.8 364.2,264.2 364.6,264.7 365.0,260.3 365.4,262.1 365.7,263.9 366.1,263.8 366.5,264.6 366.9,264.8 367.3,264.4 367.7,264.4 368.1,265.0 368.4,265.1 368.8,265.2 369.2,264.6 369.6,264.9 370.0,264.6 370.4,265.1 370.8,264.7 371.2,265.0 371.5,265.3 371.9,264.8 372.3,263.4 372.7,256.2 373.1,260.8 373.5,263.0 373.9,263.5 374.2,264.2 374.6,264.5 375.0,265.1 375.4,265.2 375.8,265.3 376.2,264.7 376.6,264.7 376.9,265.3 377.3,247.2 377.7,256.3 378.1,260.5 378.5,262.9 378.9,263.6 379.3,264.8 379.7,264.3 380.0,265.2 380.4,264.8 380.8,265.1 381.2,264.8 381.6,255.2 382.0,260.0 382.4,262.5 382.7,264.0 383.1,264.6 383.5,265.0 383.9,264.7 384.3,265.1 384.7,265.2 385.1,250.7 385.4,257.4 385.8,261.2 386.2,263.4 386.6,264.3 387.0,264.2 387.4,265.0 387.8,264.4 388.2,264.7 388.5,265.3 388.9,264.9 389.3,264.5 389.7,264.6 390.1,265.1 390.5,264.9 390.9,264.5 391.2,265.1 391.6,264.7 392.0,264.8 392.4,264.8 392.8,264.6 393.2,265.0 393.6,265.3 393.9,264.6 394.3,264.9 394.7,265.0 395.1,265.1 395.5,264.5 395.9,264.5 396.3,264.4 396.6,265.2 397.0,264.4 397.4,264.6 397.8,264.6 398.2,264.9 398.6,264.4 399.0,265.0 399.4,264.8 399.7,264.5 400.1,264.8 400.5,264.6 400.9,264.6 401.3,265.0 401.7,264.8 402.1,264.6 402.4,264.2 402.8,264.3 403.2,264.3 403.6,264.6 404.0,264.7 404.4,264.6 404.8,264.1 405.1,264.0 405.5,264.3 405.9,264.5 406.3,261.6 406.7,262.9 407.1,263.8 407.5,264.7 407.9,264.0 408.2,264.6 408.6,264.6 409.0,264.7 409.4,265.1 409.8,264.8 410.2,265.0 410.6,264.6 410.9,265.0 411.3,264.8 411.7,264.7 412.1,265.1 412.5,264.8 412.9,265.0 413.3,264.4 413.6,265.0 414.0,264.6 414.4,264.9 414.8,264.9 415.2,265.2 415.6,265.3 416.0,264.7 416.4,265.3 416.7,265.2 417.1,264.9 417.5,261.1 417.9,263.6 418.3,264.1 418.7,264.7 419.1,265.3 419.4,265.1 419.8,264.9 420.2,265.4 420.6,264.9 421.0,265.4 421.4,265.4 421.8,265.1 422.1,265.4 422.5,264.8 422.9,264.8 423.3,264.9 423.7,265.2 424.1,265.2 424.5,265.1 424.8,265.1 425.2,265.6 425.6,265.0 426.0,264.8 426.4,263.3 426.8,264.8 427.2,264.4 427.6,265.3 427.9,265.4 428.3,265.6 428.7,257.5 429.1,261.4 429.5,263.0 429.9,264.1 430.3,264.4 430.6,264.8 431.0,265.4 431.4,265.2 431.8,265.5 432.2,258.5 432.6,261.6 433.0,263.7 433.3,264.1 433.7,264.7 434.1,265.6 434.5,264.9 434.9,265.6 435.3,265.0 435.7,265.6 436.1,265.2 436.4,264.9 436.8,264.9 437.2,265.2 437.6,265.5 438.0,261.7 438.4,263.5 438.8,264.8 439.1,265.1 439.5,265.3 439.9,265.6 440.3,265.9 440.7,265.8 441.1,265.6 441.5,265.2 441.8,265.9 442.2,265.7 442.6,264.2 443.0,265.0 443.4,265.4 443.8,265.3 444.2,265.5 444.6,265.2 444.9,265.6 445.3,265.3 445.7,265.3 446.1,265.8 446.5,265.6 446.9,265.5 447.3,265.5 447.6,265.5 448.0,266.0 448.4,265.7 448.8,265.5 449.2,266.2 449.6,265.4 450.0,265.4 450.3,265.4 450.7,265.8 451.1,265.9 451.5,266.1 451.9,266.0 452.3,265.5 452.7,266.2 453.0,265.9 453.4,266.1 453.8,265.6 454.2,266.0 454.6,266.1 455.0,265.6 455.4,266.1 455.8,265.5 456.1,266.3 456.5,263.4 456.9,264.4 457.3,265.6 457.7,265.4 458.1,265.8 458.5,265.5 458.8,265.7 459.2,263.1 459.6,264.6 460.0,265.6 460.4,265.5 460.8,265.6 461.2,263.7 461.5,264.9 461.9,265.4 462.3,265.2 462.7,266.0 463.1,266.2 463.5,266.0 463.9,266.0 464.3,266.1 464.6,265.6 465.0,266.4 465.4,266.0 465.8,266.0 466.2,266.2 466.6,265.9 467.0,265.7 467.3,266.1 467.7,265.6 468.1,265.8 468.5,266.4 468.9,258.5 469.3,262.4 469.7,264.4 470.0,264.9 470.4,265.6 470.8,265.5 471.2,266.3 471.6,265.7 472.0,265.6 472.4,266.2 472.8,266.0 473.1,266.1 473.5,265.8 473.9,265.8 474.3,266.4 474.7,266.5 475.1,266.5 475.5,266.4 475.8,265.8 476.2,265.7 476.6,265.7 477.0,265.9" fill="none" stroke="#3a3a3a" stroke-opacity="0.27" stroke-width="0.7" stroke-linejoin="miter"/>
<polyline points="336.0,265.3 336.4,265.8 336.8,265.7 337.2,266.1 337.5,265.5 337.9,265.4 338.3,265.6 338.7,265.9 339.1,265.1 339.5,263.8 339.9,265.1 340.2,249.2 340.6,257.3 341.0,261.6 341.4,263.4 341.8,264.7 342.2,265.1 342.6,265.2 343.0,264.9 343.3,264.8 343.7,265.3 344.1,265.2 344.5,251.5 344.9,258.4 345.3,262.0 345.7,263.0 346.0,264.1 346.4,264.8 346.8,264.8 347.2,264.9 347.6,264.5 348.0,264.7 348.4,264.9 348.7,265.2 349.1,264.6 349.5,258.4 349.9,261.9 350.3,263.6 350.7,264.2 351.1,264.7 351.5,264.4 351.8,264.9 352.2,264.7 352.6,265.1 353.0,264.6 353.4,264.3 353.8,264.6 354.2,264.4 354.5,265.0 354.9,264.5 355.3,262.9 355.7,263.6 356.1,263.9 356.5,264.4 356.9,264.9 357.2,264.4 357.6,264.8 358.0,264.5 358.4,264.8 358.8,264.6 359.2,246.8 359.6,255.1 360.0,260.0 360.3,262.1 360.7,262.9 361.1,256.7 361.5,260.5 361.9,262.4 362.3,263.1 362.7,263.7 363.0,264.0 363.4,264.9 363.8,194.3 364.2,234.7 364.6,253.1 365.0,264.4 365.4,265.0 365.7,264.8 366.1,264.4 366.5,264.7 366.9,264.9 367.3,265.1 367.7,264.6 368.1,264.8 368.4,264.9 368.8,264.5 369.2,264.6 369.6,264.7 370.0,264.5 370.4,264.6 370.8,264.8 371.2,265.0 371.5,264.6 371.9,264.6 372.3,264.8 372.7,264.9 373.1,265.2 373.5,264.7 373.9,264.6 374.2,265.2 374.6,265.2 375.0,264.7 375.4,264.6 375.8,265.2 376.2,265.2 376.6,264.9 376.9,265.0 377.3,264.9 377.7,265.3 378.1,264.9 378.5,265.2 378.9,265.2 379.3,265.4 379.7,264.9 380.0,265.4 380.4,264.7 380.8,264.9 381.2,265.0 381.6,264.6 382.0,264.8 382.4,264.7 382.7,265.4 383.1,265.1 383.5,264.9 383.9,265.4 384.3,264.6 384.7,264.7 385.1,264.9 385.4,265.2 385.8,264.6 386.2,265.3 386.6,265.1 387.0,265.1 387.4,265.2 387.8,264.6 388.2,265.0 388.5,265.3 388.9,265.1 389.3,262.2 389.7,263.9 390.1,264.4 390.5,253.7 390.9,253.8 391.2,259.0 391.6,261.8 392.0,263.3 392.4,264.0 392.8,264.3 393.2,265.0 393.6,265.2 393.9,264.5 394.3,264.8 394.7,264.5 395.1,234.5 395.5,252.8 395.9,261.1 396.3,264.8 396.6,264.4 397.0,265.1 397.4,249.1 397.8,257.0 398.2,261.0 398.6,262.6 399.0,246.0 399.4,255.0 399.7,259.8 400.1,262.0 400.5,263.7 400.9,264.2 401.3,264.7 401.7,264.9 402.1,264.8 402.4,264.1 402.8,254.6 403.2,259.9 403.6,262.3 404.0,263.3 404.4,263.6 404.8,264.3 405.1,264.7 405.5,264.6 405.9,264.9 406.3,264.2 406.7,251.9 407.1,258.1 407.5,261.2 407.9,230.4 408.2,251.0 408.6,260.3 409.0,264.8 409.4,264.3 409.8,264.7 410.2,265.0 410.6,264.5 410.9,264.9 411.3,239.5 411.7,251.8 412.1,258.4 412.5,260.3 412.9,262.6 413.3,251.3 413.6,257.7 414.0,261.9 414.4,263.0 414.8,264.4 415.2,264.7 415.6,264.3 416.0,264.9 416.4,265.3 416.7,265.1 417.1,265.3 417.5,265.0 417.9,265.2 418.3,264.8 418.7,265.0 419.1,265.3 419.4,265.5 419.8,254.8 420.2,259.7 420.6,259.1 421.0,261.8 421.4,263.7 421.8,264.0 422.1,265.2 422.5,265.0 422.9,264.9 423.3,265.6 423.7,265.2 424.1,265.0 424.5,264.8 424.8,265.3 425.2,264.8 425.6,264.8 426.0,264.9 426.4,264.9 426.8,265.6 427.2,265.6 427.6,265.6 427.9,264.9 428.3,264.9 428.7,265.4 429.1,264.9 429.5,265.0 429.9,265.1 430.3,263.8 430.6,264.8 431.0,264.6 431.4,265.2 431.8,264.4 432.2,264.9 432.6,265.2 433.0,265.1 433.3,265.1 433.7,265.4 434.1,265.6 434.5,265.3 434.9,265.3 435.3,265.3 435.7,265.1 436.1,265.7 436.4,265.0 436.8,265.6 437.2,265.6 437.6,265.4 438.0,265.7 438.4,265.4 438.8,265.8 439.1,265.3 439.5,265.6 439.9,265.8 440.3,265.7 440.7,265.4 441.1,265.8 441.5,265.9 441.8,265.5 442.2,265.3 442.6,265.6 443.0,265.2 443.4,265.2 443.8,265.9 444.2,265.3 444.6,265.7 444.9,265.8 445.3,265.3 445.7,265.3 446.1,266.0 446.5,265.8 446.9,265.9 447.3,265.9 447.6,266.1 448.0,265.8 448.4,265.8 448.8,266.0 449.2,265.7 449.6,265.4 450.0,265.7 450.3,265.4 450.7,265.8 451.1,266.1 451.5,265.7 451.9,266.3 452.3,265.8 452.7,265.4 453.0,266.0 453.4,265.5 453.8,266.3 454.2,266.1 454.6,265.5 455.0,266.0 455.4,266.1 455.8,265.9 456.1,266.1 456.5,266.3 456.9,266.3 457.3,266.0 457.7,265.8 458.1,266.3 458.5,265.6 458.8,265.9 459.2,265.8 459.6,265.8 460.0,266.2 460.4,266.2 460.8,266.2 461.2,266.4 461.5,265.8 461.9,266.0 462.3,266.2 462.7,266.3 463.1,266.4 463.5,265.8 463.9,266.1 464.3,266.2 464.6,265.6 465.0,265.7 465.4,265.9 465.8,266.3 466.2,265.8 466.6,266.0 467.0,265.7 467.3,265.7 467.7,265.6 468.1,266.4 468.5,265.9 468.9,265.8 469.3,265.7 469.7,266.0 470.0,265.8 470.4,266.4 470.8,266.4 471.2,266.4 471.6,266.5 472.0,266.2 472.4,265.9 472.8,265.9 473.1,266.2 473.5,266.3 473.9,265.9 474.3,266.0 474.7,265.8 475.1,266.0 475.5,266.0 475.8,266.2 476.2,266.3 476.6,266.1 477.0,266.3" fill="none" stroke="#3a3a3a" stroke-opacity="0.27" stroke-width="0.7" stroke-linejoin="miter"/>
<polyline points="336.0,265.6 336.4,266.1 336.8,265.4 337.2,266.1 337.5,265.6 337.9,265.9 338.3,265.6 338.7,265.1 339.1,265.9 339.5,265.9 339.9,265.3 340.2,265.6 340.6,265.8 341.0,265.5 341.4,262.0 341.8,263.7 342.2,264.7 342.6,264.4 343.0,264.7 343.3,265.1 343.7,265.2 344.1,265.2 344.5,261.9 344.9,263.9 345.3,263.9 345.7,264.7 346.0,249.9 346.4,257.8 346.8,261.5 347.2,262.8 347.6,263.6 348.0,264.1 348.4,264.3 348.7,264.8 349.1,264.7 349.5,265.3 349.9,265.1 350.3,264.7 350.7,264.7 351.1,254.6 351.5,259.3 351.8,261.8 352.2,263.5 352.6,264.1 353.0,264.7 353.4,264.4 353.8,264.2 354.2,264.7 354.5,264.4 354.9,262.6 355.3,263.4 355.7,263.6 356.1,264.4 356.5,262.6 356.9,263.6 357.2,263.9 357.6,264.7 358.0,264.7 358.4,264.2 358.8,259.2 359.2,261.7 359.6,263.2 360.0,264.0 360.3,264.1 360.7,264.0 361.1,264.0 361.5,264.3 361.9,264.1 362.3,264.6 362.7,264.6 363.0,264.3 363.4,265.0 363.8,264.5 364.2,258.5 364.6,261.5 365.0,263.3 365.4,263.8 365.7,264.1 366.1,262.6 366.5,263.5 366.9,263.9 367.3,263.8 367.7,263.9 368.1,264.2 368.4,264.7 368.8,264.9 369.2,264.4 369.6,265.2 370.0,265.0 370.4,264.5 370.8,265.3 371.2,264.5 371.5,264.6 371.9,265.4 372.3,265.4 372.7,265.2 373.1,265.2 373.5,265.1 373.9,265.1 374.2,265.1 374.6,264.7 375.0,265.3 375.4,264.6 375.8,265.4 376.2,265.5 376.6,265.3 376.9,265.4 377.3,264.6 377.7,264.9 378.1,265.2 378.5,264.7 378.9,265.4 379.3,264.9 379.7,264.8 380.0,265.4 380.4,265.0 380.8,265.0 381.2,265.1 381.6,265.1 382.0,265.2 382.4,265.1 382.7,265.0 383.1,265.1 383.5,265.1 383.9,264.8 384.3,264.8 384.7,265.1 385.1,264.9 385.4,264.8 385.8,264.8 386.2,264.8 386.6,265.3 387.0,260.5 387.4,262.6 387.8,264.2 388.2,264.7 388.5,265.0 388.9,264.6 389.3,265.1 389.7,264.9 390.1,264.9 390.5,265.2 390.9,265.3 391.2,265.3 391.6,264.8 392.0,265.3 392.4,264.7 392.8,264.7 393.2,257.1 393.6,261.4 393.9,263.0 394.3,264.2 394.7,264.3 395.1,264.7 395.5,261.8 395.9,263.5 396.3,264.0 396.6,264.4 397.0,264.8 397.4,265.0 397.8,264.9 398.2,264.6 398.6,257.9 399.0,261.5 399.4,242.2 399.7,253.4 400.1,259.0 400.5,262.0 400.9,262.8 401.3,263.9 401.7,263.9 402.1,264.6 402.4,264.1 402.8,264.6 403.2,264.7 403.6,264.1 404.0,264.2 404.4,264.1 404.8,264.8 405.1,264.7 405.5,264.8 405.9,264.2 406.3,264.2 406.7,264.3 407.1,264.5 407.5,264.9 407.9,264.1 408.2,264.2 408.6,264.8 409.0,264.5 409.4,264.8 409.8,265.0 410.2,264.3 410.6,264.7 410.9,255.9 411.3,260.1 411.7,262.1 412.1,263.5 412.5,264.7 412.9,264.9 413.3,265.0 413.6,264.4 414.0,264.0 414.4,264.5 414.8,264.2 415.2,265.1 415.6,264.6 416.0,264.9 416.4,264.6 416.7,264.5 417.1,264.6 417.5,265.2 417.9,264.8 418.3,265.2 418.7,265.2 419.1,265.2 419.4,259.4 419.8,262.6 420.2,262.3 420.6,263.8 421.0,264.4 421.4,264.7 421.8,246.1 422.1,256.0 422.5,260.0 422.9,263.2 423.3,264.3 423.7,264.8 424.1,264.5 424.5,265.2 424.8,265.0 425.2,265.0 425.6,264.8 426.0,265.3 426.4,264.9 426.8,265.0 427.2,265.2 427.6,265.6 427.9,265.5 428.3,265.7 428.7,265.0 429.1,265.5 429.5,265.3 429.9,265.6 430.3,260.8 430.6,263.1 431.0,257.1 431.4,261.6 431.8,263.2 432.2,264.2 432.6,265.2 433.0,264.8 433.3,265.4 433.7,265.5 434.1,265.2 434.5,265.8 434.9,265.4 435.3,265.2 435.7,265.5 436.1,265.2 436.4,265.9 436.8,265.5 437.2,265.7 437.6,265.4 438.0,265.8 438.4,265.3 438.8,265.4 439.1,265.8 439.5,265.2 439.9,265.3 440.3,265.2 440.7,266.0 441.1,265.4 441.5,265.9 441.8,265.2 442.2,265.5 442.6,265.2 443.0,266.0 443.4,265.5 443.8,265.5 444.2,265.4 444.6,265.8 444.9,265.5 445.3,265.5 445.7,265.7 446.1,265.5 446.5,266.1 446.9,265.4 447.3,265.8 447.6,265.9 448.0,266.0 448.4,265.5 448.8,265.8 449.2,266.0 449.6,265.7 450.0,262.5 450.3,263.8 450.7,264.7 451.1,264.9 451.5,266.0 451.9,266.0 452.3,265.4 452.7,265.4 453.0,266.2 453.4,265.5 453.8,265.5 454.2,265.9 454.6,265.8 455.0,265.8 455.4,266.3 455.8,265.8 456.1,265.9 456.5,266.0 456.9,266.3 457.3,266.2 457.7,266.3 458.1,265.8 458.5,265.7 458.8,266.3 459.2,265.8 459.6,265.7 460.0,266.2 460.4,266.1 460.8,265.8 461.2,265.7 461.5,256.3 461.9,259.2 462.3,262.8 462.7,264.7 463.1,265.1 463.5,265.4 463.9,265.8 464.3,266.1 464.6,265.5 465.0,265.6 465.4,265.6 465.8,266.1 466.2,266.2 466.6,266.1 467.0,266.1 467.3,265.6 467.7,266.4 468.1,265.9 468.5,266.1 468.9,266.1 469.3,266.1 469.7,265.8 470.0,266.2 470.4,265.9 470.8,266.3 471.2,265.8 471.6,266.5 472.0,266.0 472.4,266.0 472.8,265.7 473.1,265.6 473.5,265.8 473.9,266.3 474.3,266.4 474.7,266.1 475.1,265.7 475.5,266.2 475.8,266.2 476.2,266.5 476.6,266.4 477.0,266.6" fill="none" stroke="#3a3a3a" stroke-opacity="0.27" stroke-width="0.7" stroke-linejoin="miter"/>
<polyline points="336.0,265.7 336.4,266.0 336.8,261.7 337.2,264.0 337.5,264.9 337.9,265.0 338.3,264.9 338.7,265.3 339.1,265.0 339.5,265.6 339.9,265.7 340.2,262.0 340.6,263.9 341.0,264.9 341.4,265.0 341.8,264.9 342.2,265.2 342.6,264.9 343.0,265.5 343.3,265.3 343.7,265.5 344.1,265.2 344.5,236.4 344.9,250.6 345.3,257.9 345.7,261.2 346.0,263.3 346.4,263.8 346.8,264.9 347.2,264.5 347.6,261.2 348.0,262.6 348.4,232.0 348.7,248.4 349.1,256.8 349.5,260.3 349.9,262.9 350.3,264.2 350.7,264.0 351.1,264.7 351.5,264.5 351.8,264.8 352.2,264.7 352.6,264.8 353.0,264.4 353.4,265.0 353.8,264.3 354.2,264.9 354.5,264.7 354.9,265.0 355.3,264.2 355.7,264.6 356.1,260.8 356.5,262.8 356.9,259.8 357.2,262.1 357.6,263.5 358.0,264.1 358.4,264.6 358.8,264.5 359.2,264.2 359.6,240.7 360.0,252.3 360.3,258.9 360.7,261.8 361.1,262.6 361.5,263.9 361.9,263.8 362.3,261.3 362.7,262.5 363.0,264.1 363.4,264.6 363.8,264.2 364.2,264.9 364.6,264.2 365.0,261.9 365.4,263.8 365.7,264.4 366.1,264.2 366.5,264.7 366.9,264.8 367.3,241.0 367.7,252.4 368.1,259.2 368.4,262.1 368.8,262.9 369.2,263.7 369.6,264.4 370.0,264.7 370.4,264.8 370.8,264.7 371.2,265.2 371.5,264.7 371.9,265.4 372.3,264.9 372.7,264.5 373.1,264.8 373.5,265.2 373.9,264.8 374.2,265.1 374.6,264.8 375.0,264.7 375.4,265.4 375.8,265.4 376.2,265.3 376.6,265.2 376.9,265.1 377.3,265.5 377.7,264.6 378.1,265.2 378.5,265.2 378.9,265.4 379.3,264.7 379.7,265.3 380.0,264.6 380.4,265.4 380.8,264.9 381.2,264.9 381.6,264.7 382.0,265.4 382.4,265.4 382.7,263.9 383.1,261.0 383.5,263.1 383.9,264.4 384.3,264.7 384.7,265.0 385.1,264.6 385.4,264.8 385.8,264.6 386.2,264.6 386.6,265.1 387.0,265.0 387.4,264.6 387.8,264.7 388.2,258.1 388.5,261.9 388.9,261.2 389.3,262.7 389.7,264.3 390.1,264.3 390.5,264.2 390.9,265.0 391.2,264.5 391.6,265.1 392.0,265.0 392.4,265.0 392.8,264.7 393.2,264.9 393.6,261.8 393.9,263.2 394.3,264.0 394.7,264.8 395.1,264.3 395.5,264.5 395.9,264.7 396.3,245.2 396.6,248.5 397.0,256.9 397.4,261.1 397.8,262.3 398.2,263.8 398.6,264.1 399.0,264.3 399.4,264.8 399.7,264.3 400.1,264.7 400.5,264.7 400.9,264.2 401.3,264.8 401.7,264.4 402.1,264.5 402.4,264.2 402.8,264.4 403.2,264.4 403.6,264.8 404.0,264.8 404.4,264.4 404.8,264.3 405.1,262.9 405.5,263.8 405.9,263.8 406.3,253.0 406.7,259.4 407.1,261.6 407.5,263.0 407.9,263.9 408.2,264.7 408.6,260.7 409.0,262.7 409.4,263.5 409.8,264.4 410.2,264.8 410.6,264.3 410.9,249.2 411.3,257.0 411.7,260.8 412.1,262.9 412.5,263.4 412.9,264.4 413.3,264.2 413.6,264.5 414.0,264.9 414.4,265.0 414.8,264.6 415.2,264.7 415.6,232.1 416.0,248.4 416.4,256.3 416.7,261.2 417.1,263.4 417.5,264.2 417.9,264.1 418.3,264.6 418.7,265.4 419.1,264.8 419.4,265.5 419.8,265.2 420.2,264.8 420.6,265.5 421.0,265.0 421.4,264.7 421.8,264.9 422.1,265.0 422.5,265.3 422.9,265.4 423.3,265.4 423.7,265.0 424.1,265.1 424.5,265.2 424.8,265.5 425.2,265.0 425.6,264.9 426.0,265.4 426.4,265.1 426.8,265.2 427.2,264.9 427.6,259.8 427.9,262.1 428.3,263.4 428.7,264.2 429.1,264.6 429.5,265.1 429.9,265.3 430.3,265.0 430.6,265.2 431.0,265.5 431.4,265.5 431.8,265.8 432.2,265.0 432.6,265.3 433.0,263.2 433.3,264.1 433.7,265.0 434.1,265.3 434.5,264.8 434.9,265.4 435.3,265.6 435.7,265.6 436.1,265.6 436.4,265.4 436.8,265.5 437.2,265.2 437.6,265.5 438.0,265.1 438.4,265.3 438.8,265.7 439.1,266.0 439.5,265.6 439.9,265.9 440.3,265.5 440.7,265.7 441.1,265.5 441.5,266.0 441.8,265.2 442.2,266.0 442.6,265.4 443.0,265.8 443.4,265.9 443.8,265.8 444.2,259.3 444.6,262.2 444.9,256.3 445.3,260.7 445.7,257.6 446.1,261.5 446.5,264.0 446.9,264.6 447.3,265.6 447.6,265.6 448.0,266.0 448.4,265.8 448.8,266.0 449.2,266.1 449.6,265.8 450.0,265.5 450.3,265.4 450.7,265.6 451.1,265.5 451.5,266.1 451.9,265.5 452.3,265.9 452.7,265.6 453.0,265.5 453.4,266.1 453.8,266.2 454.2,265.8 454.6,265.9 455.0,265.9 455.4,266.1 455.8,258.9 456.1,262.2 456.5,261.5 456.9,263.6 457.3,264.6 457.7,265.7 458.1,265.7 458.5,265.4 458.8,266.1 459.2,266.0 459.6,266.2 460.0,265.9 460.4,266.2 460.8,266.3 461.2,266.4 461.5,265.6 461.9,265.9 462.3,265.9 462.7,265.5 463.1,265.9 463.5,266.0 463.9,266.0 464.3,266.0 464.6,265.8 465.0,265.6 465.4,265.7 465.8,265.6 466.2,266.4 466.6,266.3 467.0,265.7 467.3,266.4 467.7,265.7 468.1,266.2 468.5,265.6 468.9,266.5 469.3,265.6 469.7,266.1 470.0,266.1 470.4,266.0 470.8,266.2 471.2,266.3 471.6,266.5 472.0,266.3 472.4,265.8 472.8,266.4 473.1,266.2 473.5,266.2 473.9,266.5 474.3,266.0 474.7,265.8 475.1,265.7 475.5,266.5 475.8,265.9 476.2,265.9 476.6,266.2 477.0,265.8" fill="none" stroke="#3a3a3a" stroke-opacity="0.27" stroke-width="0.7" stroke-linejoin="miter"/>
<polyline points="336.0,265.1 336.4,265.3 336.8,265.5 337.2,265.3 337.5,265.7 337.9,265.5 338.3,265.7 338.7,265.8 339.1,265.4 339.5,265.3 339.9,265.9 340.2,265.1 340.6,265.6 341.0,265.1 341.4,265.0 341.8,265.4 342.2,265.1 342.6,265.4 343.0,265.0 343.3,265.3 343.7,253.8 344.1,259.7 344.5,262.8 344.9,264.0 345.3,264.3 345.7,264.8 346.0,264.7 346.4,264.6 346.8,265.0 347.2,264.7 347.6,262.8 348.0,264.0 348.4,264.8 348.7,264.2 349.1,247.2 349.5,255.7 349.9,260.8 350.3,262.4 350.7,264.0 351.1,263.9 351.5,264.5 351.8,264.6 352.2,264.5 352.6,264.8 353.0,264.4 353.4,264.9 353.8,264.6 354.2,264.7 354.5,264.7 354.9,265.1 355.3,265.1 355.7,265.0 356.1,265.1 356.5,264.7 356.9,252.7 357.2,258.6 357.6,261.7 358.0,263.5 358.4,263.6 358.8,264.5 359.2,264.0 359.6,264.2 360.0,264.1 360.3,264.3 360.7,264.7 361.1,264.1 361.5,264.3 361.9,264.3 362.3,264.3 362.7,264.2 363.0,265.0 363.4,264.7 363.8,264.3 364.2,264.2 364.6,265.0 365.0,264.9 365.4,264.5 365.7,265.0 366.1,264.3 366.5,263.8 366.9,264.2 367.3,264.9 367.7,264.7 368.1,265.2 368.4,265.1 368.8,264.1 369.2,264.4 369.6,260.0 370.0,262.7 370.4,263.9 370.8,263.9 371.2,264.8 371.5,265.1 371.9,264.8 372.3,265.3 372.7,264.7 373.1,262.4 373.5,263.6 373.9,259.5 374.2,260.3 374.6,262.3 375.0,243.5 375.4,256.9 375.8,262.9 376.2,265.1 376.6,265.2 376.9,265.1 377.3,265.3 377.7,265.5 378.1,261.0 378.5,262.9 378.9,264.4 379.3,264.4 379.7,264.9 380.0,265.2 380.4,251.8 380.8,258.6 381.2,262.1 381.6,263.3 382.0,263.9 382.4,264.6 382.7,264.6 383.1,264.8 383.5,265.1 383.9,265.3 384.3,263.4 384.7,263.7 385.1,264.4 385.4,264.5 385.8,264.5 386.2,265.2 386.6,264.7 387.0,264.6 387.4,265.1 387.8,264.6 388.2,265.2 388.5,264.8 388.9,265.0 389.3,264.8 389.7,264.5 390.1,264.9 390.5,265.1 390.9,265.0 391.2,265.3 391.6,259.3 392.0,262.4 392.4,263.4 392.8,264.4 393.2,264.4 393.6,264.8 393.9,264.9 394.3,264.8 394.7,265.0 395.1,264.8 395.5,264.8 395.9,252.7 396.3,259.2 396.6,262.2 397.0,263.6 397.4,263.9 397.8,264.5 398.2,264.9 398.6,264.4 399.0,264.7 399.4,264.6 399.7,264.3 400.1,264.5 400.5,264.2 400.9,264.6 401.3,264.1 401.7,264.2 402.1,264.8 402.4,265.0 402.8,264.4 403.2,264.7 403.6,264.5 404.0,264.4 404.4,264.7 404.8,264.7 405.1,264.4 405.5,264.2 405.9,264.9 406.3,264.7 406.7,264.2 407.1,264.6 407.5,265.0 407.9,264.9 408.2,264.8 408.6,264.5 409.0,264.3 409.4,264.4 409.8,264.5 410.2,264.6 410.6,265.1 410.9,230.9 411.3,247.7 411.7,254.7 412.1,260.1 412.5,262.7 412.9,264.0 413.3,263.1 413.6,263.7 414.0,253.0 414.4,258.6 414.8,261.6 415.2,263.9 415.6,263.9 416.0,264.5 416.4,264.5 416.7,265.2 417.1,264.6 417.5,264.9 417.9,265.1 418.3,232.5 418.7,248.3 419.1,257.1 419.4,260.6 419.8,263.3 420.2,264.3 420.6,264.3 421.0,264.5 421.4,264.9 421.8,265.2 422.1,265.5 422.5,265.6 422.9,265.4 423.3,265.2 423.7,255.2 424.1,260.1 424.5,263.1 424.8,264.1 425.2,264.4 425.6,264.9 426.0,265.0 426.4,260.8 426.8,238.0 427.2,251.9 427.6,258.6 427.9,261.8 428.3,264.0 428.7,264.5 429.1,264.5 429.5,264.7 429.9,265.2 430.3,265.0 430.6,265.5 431.0,265.5 431.4,265.5 431.8,265.0 432.2,265.0 432.6,265.8 433.0,265.7 433.3,265.0 433.7,265.6 434.1,265.7 434.5,265.1 434.9,265.0 435.3,262.7 435.7,264.0 436.1,260.8 436.4,263.0 436.8,264.4 437.2,264.8 437.6,264.9 438.0,265.3 438.4,265.2 438.8,265.2 439.1,261.5 439.5,263.1 439.9,264.7 440.3,264.6 440.7,265.0 441.1,260.8 441.5,263.2 441.8,254.6 442.2,260.2 442.6,263.1 443.0,264.4 443.4,265.3 443.8,265.0 444.2,265.9 444.6,266.0 444.9,265.6 445.3,265.3 445.7,265.5 446.1,265.4 446.5,265.8 446.9,266.0 447.3,266.1 447.6,265.3 448.0,266.1 448.4,266.0 448.8,265.6 449.2,265.4 449.6,265.7 450.0,265.4 450.3,265.7 450.7,265.4 451.1,265.7 451.5,266.0 451.9,265.7 452.3,265.7 452.7,265.4 453.0,266.2 453.4,266.1 453.8,265.4 454.2,265.9 454.6,266.3 455.0,266.1 455.4,266.3 455.8,265.7 456.1,265.8 456.5,266.0 456.9,265.9 457.3,266.1 457.7,265.8 458.1,265.7 458.5,266.3 458.8,265.6 459.2,265.8 459.6,266.0 460.0,265.7 460.4,266.0 460.8,265.8 461.2,266.2 461.5,265.9 461.9,265.7 462.3,265.7 462.7,266.3 463.1,266.4 463.5,266.4 463.9,266.3 464.3,265.9 464.6,265.7 465.0,265.6 465.4,265.9 465.8,265.9 466.2,266.2 466.6,265.9 467.0,266.2 467.3,265.9 467.7,266.3 468.1,266.0 468.5,265.9 468.9,265.8 469.3,265.7 469.7,266.0 470.0,266.4 470.4,266.2 470.8,265.9 471.2,266.0 471.6,266.0 472.0,265.9 472.4,265.9 472.8,266.1 473.1,266.0 473.5,265.8 473.9,265.8 474.3,265.7 474.7,266.3 475.1,266.0 475.5,266.2 475.8,266.4 476.2,265.9 476.6,266.5 477.0,266.0" fill="none" stroke="#3a3a3a" stroke-opacity="0.27" stroke-width="0.7" stroke-linejoin="miter"/>
<polyline points="336.0,266.7 337.0,266.7 338.0,266.6 339.0,266.5 340.0,266.7 341.0,266.6 342.0,267.0 343.0,266.8 344.0,266.5 345.0,266.7 346.0,266.6 347.0,267.0 348.0,266.8 349.0,266.9 350.0,266.8 351.0,266.7 352.0,267.0 353.0,266.9 354.0,266.9 355.0,266.6 356.0,266.6 357.0,266.9 358.0,266.6 359.0,267.0 360.0,265.9 361.0,264.7 362.0,266.2 363.0,266.6 364.0,266.9 365.0,266.9 366.0,266.5 367.0,266.6 368.0,266.9 369.0,266.5 370.0,266.8 371.0,266.7 372.0,266.9 373.0,266.5 374.0,266.7 375.0,266.5 376.0,266.6 377.0,266.9 378.0,266.8 379.0,266.9 380.0,267.0 381.0,267.0 382.0,266.9 383.0,266.7 384.0,267.0 385.0,266.7 386.0,266.9 387.0,266.9 388.0,266.6 389.0,266.8 390.0,266.9 391.0,266.8 392.0,266.7 393.0,267.0 394.0,266.5 395.0,267.0 396.0,266.6 397.0,266.6 398.0,267.0 399.0,266.6 400.0,266.8 401.0,266.7 402.0,267.0 403.0,267.0 404.0,266.9 405.0,266.5 406.0,266.9 407.0,266.6 408.0,266.6 409.0,266.5 410.0,266.9 411.0,266.8 412.0,266.8 413.0,266.6 414.0,267.0 415.0,266.6 416.0,266.6 417.0,266.6 418.0,267.0 419.0,266.5 420.0,267.0 421.0,266.9 422.0,266.7 423.0,266.6 424.0,266.9 425.0,266.6 426.0,266.8 427.0,266.9 428.0,266.9 429.0,266.9 430.0,267.0 431.0,267.0 432.0,266.7 433.0,266.5 434.0,266.9 435.0,267.0 436.0,266.5 437.0,266.8 438.0,266.8 439.0,266.9 440.0,266.7 441.0,266.6 442.0,266.8 443.0,266.8 444.0,267.0 445.0,266.6 446.0,265.5 447.0,265.2 448.0,265.1 449.0,267.0 450.0,266.7 451.0,266.5 452.0,266.7 453.0,266.6 454.0,267.0 455.0,266.8 456.0,267.0 457.0,266.6 458.0,266.9 459.0,266.8 460.0,266.5 461.0,266.6 462.0,266.5 463.0,266.8 464.0,266.8 465.0,266.7 466.0,266.8 467.0,266.9 468.0,266.8 469.0,267.0 470.0,266.8 471.0,266.5 472.0,266.5 473.0,266.7 474.0,266.8 475.0,266.9 476.0,267.0" fill="none" stroke="#EE1111" stroke-width="1.6"/>
<path d="M330.8 171.0 V271.0 H482.0 V171.0 Z" fill="none" stroke="#2b2b2b" stroke-width="1.2"/>
<line x1="326.8" y1="267.80" x2="330.8" y2="267.80" stroke="#2b2b2b" stroke-width="1"/>
<text transform="translate(324.2 272.0) scale(1 1.03)" font-size="9.75" text-anchor="end" fill="#1a1a1a" stroke="#1a1a1a" stroke-width="0.2" >0</text>
<line x1="326.8" y1="244.75" x2="330.8" y2="244.75" stroke="#2b2b2b" stroke-width="1"/>
<text transform="translate(324.2 248.951) scale(1 1.03)" font-size="9.75" text-anchor="end" fill="#1a1a1a" stroke="#1a1a1a" stroke-width="0.2" >9</text>
<line x1="326.8" y1="221.70" x2="330.8" y2="221.70" stroke="#2b2b2b" stroke-width="1"/>
<text transform="translate(324.2 225.902) scale(1 1.03)" font-size="9.75" text-anchor="end" fill="#1a1a1a" stroke="#1a1a1a" stroke-width="0.2" >18</text>
<line x1="326.8" y1="198.65" x2="330.8" y2="198.65" stroke="#2b2b2b" stroke-width="1"/>
<text transform="translate(324.2 202.853) scale(1 1.03)" font-size="9.75" text-anchor="end" fill="#1a1a1a" stroke="#1a1a1a" stroke-width="0.2" >27</text>
<line x1="326.8" y1="175.60" x2="330.8" y2="175.60" stroke="#2b2b2b" stroke-width="1"/>
<text transform="translate(324.2 179.804) scale(1 1.03)" font-size="9.75" text-anchor="end" fill="#1a1a1a" stroke="#1a1a1a" stroke-width="0.2" >36</text>
<line x1="336.10" y1="271.0" x2="336.10" y2="274.8" stroke="#2b2b2b" stroke-width="1"/>
<text transform="translate(336.1 286.0) scale(1 1.03)" font-size="9.75" text-anchor="middle" fill="#1a1a1a" stroke="#1a1a1a" stroke-width="0.2" >Jan</text>
<line x1="359.56" y1="271.0" x2="359.56" y2="274.8" stroke="#2b2b2b" stroke-width="1"/>
<text transform="translate(359.56 286.0) scale(1 1.03)" font-size="9.75" text-anchor="middle" fill="#1a1a1a" stroke="#1a1a1a" stroke-width="0.2" >Mar</text>
<line x1="383.02" y1="271.0" x2="383.02" y2="274.8" stroke="#2b2b2b" stroke-width="1"/>
<text transform="translate(383.02000000000004 286.0) scale(1 1.03)" font-size="9.75" text-anchor="middle" fill="#1a1a1a" stroke="#1a1a1a" stroke-width="0.2" >May</text>
<line x1="406.48" y1="271.0" x2="406.48" y2="274.8" stroke="#2b2b2b" stroke-width="1"/>
<text transform="translate(406.48 286.0) scale(1 1.03)" font-size="9.75" text-anchor="middle" fill="#1a1a1a" stroke="#1a1a1a" stroke-width="0.2" >Jul</text>
<line x1="429.94" y1="271.0" x2="429.94" y2="274.8" stroke="#2b2b2b" stroke-width="1"/>
<text transform="translate(429.94000000000005 286.0) scale(1 1.03)" font-size="9.75" text-anchor="middle" fill="#1a1a1a" stroke="#1a1a1a" stroke-width="0.2" >Sep</text>
<line x1="453.40" y1="271.0" x2="453.40" y2="274.8" stroke="#2b2b2b" stroke-width="1"/>
<text transform="translate(453.40000000000003 286.0) scale(1 1.03)" font-size="9.75" text-anchor="middle" fill="#1a1a1a" stroke="#1a1a1a" stroke-width="0.2" >Nov</text>
<text transform="translate(303.6 221.3) rotate(-90) scale(1 0.95)" font-size="9.85" text-anchor="middle" fill="#1a1a1a" stroke="#1a1a1a" stroke-width="0.2" >Discharge (m<tspan font-size="6.8" dx="0.6" dy="-4.3">3</tspan><tspan dx="1.3" dy="4.3">/</tspan><tspan dx="1.1">s)</tspan></text>
<text transform="translate(291.3 170.8)" font-size="11" text-anchor="start" fill="#111" font-weight="bold" >E</text>
<text transform="translate(345.5 162.8) scale(1 1.03)" font-size="9.75" text-anchor="start" fill="#9DA82A" stroke="#9DA82A" stroke-width="0.2" >Dry Year</text>
<rect x="531.3" y="19.6" width="23.50" height="116.10" fill="#fff"/>
<g fill="#6a6a6a" fill-opacity="0.6"><circle cx="545.9" cy="59.3" r="1.6"/><circle cx="543.2" cy="53.1" r="1.6"/><circle cx="548.9" cy="64.0" r="1.6"/><circle cx="543.8" cy="48.2" r="1.6"/><circle cx="534.9" cy="76.8" r="1.6"/><circle cx="541.3" cy="68.6" r="1.6"/><circle cx="548.7" cy="72.1" r="1.6"/><circle cx="538.9" cy="70.5" r="1.6"/><circle cx="552.3" cy="67.9" r="1.6"/><circle cx="547.7" cy="64.9" r="1.6"/><circle cx="535.4" cy="57.0" r="1.6"/><circle cx="540.6" cy="79.6" r="1.6"/><circle cx="551.5" cy="74.0" r="1.6"/><circle cx="541.2" cy="68.2" r="1.6"/><circle cx="537.0" cy="56.3" r="1.6"/><circle cx="551.0" cy="50.7" r="1.6"/><circle cx="540.8" cy="82.3" r="1.6"/><circle cx="543.3" cy="64.0" r="1.6"/><circle cx="550.0" cy="67.1" r="1.6"/><circle cx="538.9" cy="65.4" r="1.6"/><circle cx="551.8" cy="66.8" r="1.6"/><circle cx="550.4" cy="76.1" r="1.6"/><circle cx="545.0" cy="67.7" r="1.6"/><circle cx="547.6" cy="87.9" r="1.6"/><circle cx="549.3" cy="58.8" r="1.6"/><circle cx="538.3" cy="59.1" r="1.6"/><circle cx="542.0" cy="46.9" r="1.6"/><circle cx="541.2" cy="79.5" r="1.6"/><circle cx="552.2" cy="79.2" r="1.6"/><circle cx="541.6" cy="64.9" r="1.6"/><circle cx="547.4" cy="63.3" r="1.6"/><circle cx="552.2" cy="67.4" r="1.6"/><circle cx="544.4" cy="81.8" r="1.6"/><circle cx="547.9" cy="68.0" r="1.6"/><circle cx="544.5" cy="65.5" r="1.6"/><circle cx="545.7" cy="52.7" r="1.6"/><circle cx="540.9" cy="65.3" r="1.6"/><circle cx="551.0" cy="61.9" r="1.6"/><circle cx="540.2" cy="77.2" r="1.6"/><circle cx="536.6" cy="55.5" r="1.6"/><circle cx="548.4" cy="48.9" r="1.6"/><circle cx="541.4" cy="59.8" r="1.6"/><circle cx="550.5" cy="75.4" r="1.6"/><circle cx="551.6" cy="84.2" r="1.6"/><circle cx="551.6" cy="49.1" r="1.6"/><circle cx="543.4" cy="88.5" r="1.6"/><circle cx="541.4" cy="81.2" r="1.6"/><circle cx="537.6" cy="67.9" r="1.6"/><circle cx="536.0" cy="44.7" r="1.6"/><circle cx="543.3" cy="61.5" r="1.6"/><circle cx="549.4" cy="87.1" r="1.6"/><circle cx="539.9" cy="59.8" r="1.6"/><circle cx="542.1" cy="65.4" r="1.6"/><circle cx="540.7" cy="66.2" r="1.6"/><circle cx="550.5" cy="64.4" r="1.6"/><circle cx="543.2" cy="49.3" r="1.6"/><circle cx="539.2" cy="70.3" r="1.6"/><circle cx="547.6" cy="54.6" r="1.6"/><circle cx="535.3" cy="71.9" r="1.6"/><circle cx="548.7" cy="63.1" r="1.6"/><circle cx="550.2" cy="46.8" r="1.6"/><circle cx="545.0" cy="78.1" r="1.6"/><circle cx="549.7" cy="75.6" r="1.6"/><circle cx="539.6" cy="73.4" r="1.6"/><circle cx="548.2" cy="54.9" r="1.6"/><circle cx="551.5" cy="50.7" r="1.6"/><circle cx="535.2" cy="67.2" r="1.6"/><circle cx="549.7" cy="82.1" r="1.6"/><circle cx="545.0" cy="77.5" r="1.6"/><circle cx="551.6" cy="68.8" r="1.6"/><circle cx="550.6" cy="56.5" r="1.6"/><circle cx="536.4" cy="64.8" r="1.6"/><circle cx="535.2" cy="64.5" r="1.6"/><circle cx="550.0" cy="74.3" r="1.6"/><circle cx="546.3" cy="66.2" r="1.6"/><circle cx="540.5" cy="58.2" r="1.6"/><circle cx="543.4" cy="58.0" r="1.6"/><circle cx="538.0" cy="67.0" r="1.6"/><circle cx="541.4" cy="61.5" r="1.6"/><circle cx="535.6" cy="71.9" r="1.6"/><circle cx="547.2" cy="82.5" r="1.6"/><circle cx="548.6" cy="54.3" r="1.6"/><circle cx="534.9" cy="82.5" r="1.6"/><circle cx="548.2" cy="72.4" r="1.6"/><circle cx="537.9" cy="67.4" r="1.6"/><circle cx="547.0" cy="70.4" r="1.6"/><circle cx="540.3" cy="76.9" r="1.6"/><circle cx="540.2" cy="57.2" r="1.6"/><circle cx="550.6" cy="65.3" r="1.6"/><circle cx="544.4" cy="72.1" r="1.6"/><circle cx="551.4" cy="55.2" r="1.6"/><circle cx="543.7" cy="55.5" r="1.6"/><circle cx="547.7" cy="59.2" r="1.6"/><circle cx="547.0" cy="58.5" r="1.6"/><circle cx="544.0" cy="70.3" r="1.6"/><circle cx="549.1" cy="72.2" r="1.6"/><circle cx="551.9" cy="69.9" r="1.6"/><circle cx="552.2" cy="74.5" r="1.6"/><circle cx="536.7" cy="60.3" r="1.6"/><circle cx="549.1" cy="64.3" r="1.6"/><circle cx="548.1" cy="66.2" r="1.6"/><circle cx="535.1" cy="83.6" r="1.6"/><circle cx="546.1" cy="63.1" r="1.6"/><circle cx="541.6" cy="81.4" r="1.6"/><circle cx="541.8" cy="63.4" r="1.6"/><circle cx="542.4" cy="67.7" r="1.6"/><circle cx="539.1" cy="64.7" r="1.6"/><circle cx="547.5" cy="74.4" r="1.6"/><circle cx="542.8" cy="88.8" r="1.6"/><circle cx="543.3" cy="67.3" r="1.6"/><circle cx="545.9" cy="56.9" r="1.6"/><circle cx="543.2" cy="63.5" r="1.6"/><circle cx="543.4" cy="69.4" r="1.6"/><circle cx="548.4" cy="73.3" r="1.6"/><circle cx="545.8" cy="92.1" r="1.6"/><circle cx="549.8" cy="67.4" r="1.6"/><circle cx="547.0" cy="85.5" r="1.6"/><circle cx="550.8" cy="71.8" r="1.6"/><circle cx="541.6" cy="76.2" r="1.6"/><circle cx="551.7" cy="84.5" r="1.6"/><circle cx="552.1" cy="82.6" r="1.6"/><circle cx="540.3" cy="58.3" r="1.6"/><circle cx="541.6" cy="67.9" r="1.6"/><circle cx="536.2" cy="59.3" r="1.6"/><circle cx="540.1" cy="56.7" r="1.6"/><circle cx="542.9" cy="50.4" r="1.6"/><circle cx="536.7" cy="74.9" r="1.6"/><circle cx="538.4" cy="50.9" r="1.6"/><circle cx="540.7" cy="73.2" r="1.6"/><circle cx="539.4" cy="79.3" r="1.6"/><circle cx="551.4" cy="81.9" r="1.6"/><circle cx="549.6" cy="72.2" r="1.6"/><circle cx="537.5" cy="60.3" r="1.6"/><circle cx="545.3" cy="71.5" r="1.6"/><circle cx="539.7" cy="75.3" r="1.6"/><circle cx="543.0" cy="88.2" r="1.6"/><circle cx="542.4" cy="49.3" r="1.6"/><circle cx="537.9" cy="75.3" r="1.6"/><circle cx="541.5" cy="74.6" r="1.6"/><circle cx="551.6" cy="69.3" r="1.6"/><circle cx="535.4" cy="60.9" r="1.6"/><circle cx="547.1" cy="58.3" r="1.6"/><circle cx="535.1" cy="93.4" r="1.6"/><circle cx="545.4" cy="71.6" r="1.6"/><circle cx="547.1" cy="68.3" r="1.6"/><circle cx="544.3" cy="68.2" r="1.6"/><circle cx="536.5" cy="66.9" r="1.6"/><circle cx="550.5" cy="72.9" r="1.6"/><circle cx="541.3" cy="56.4" r="1.6"/><circle cx="549.2" cy="54.7" r="1.6"/><circle cx="544.1" cy="52.9" r="1.6"/><circle cx="541.9" cy="61.2" r="1.6"/><circle cx="544.5" cy="66.0" r="1.6"/><circle cx="549.6" cy="65.1" r="1.6"/><circle cx="551.0" cy="47.7" r="1.6"/><circle cx="545.0" cy="66.7" r="1.6"/><circle cx="536.2" cy="69.8" r="1.6"/><circle cx="548.1" cy="52.8" r="1.6"/><circle cx="538.1" cy="79.6" r="1.6"/><circle cx="545.4" cy="48.5" r="1.6"/><circle cx="545.7" cy="60.5" r="1.6"/><circle cx="540.7" cy="88.7" r="1.6"/><circle cx="539.5" cy="64.6" r="1.6"/><circle cx="545.8" cy="74.2" r="1.6"/><circle cx="550.4" cy="60.5" r="1.6"/><circle cx="543.8" cy="64.4" r="1.6"/><circle cx="546.7" cy="66.4" r="1.6"/><circle cx="535.8" cy="64.9" r="1.6"/><circle cx="535.5" cy="59.8" r="1.6"/><circle cx="546.2" cy="85.8" r="1.6"/><circle cx="537.6" cy="67.8" r="1.6"/><circle cx="544.2" cy="47.1" r="1.6"/><circle cx="541.9" cy="52.0" r="1.6"/><circle cx="544.0" cy="75.1" r="1.6"/><circle cx="536.2" cy="85.7" r="1.6"/><circle cx="535.5" cy="64.6" r="1.6"/><circle cx="541.0" cy="75.4" r="1.6"/><circle cx="537.8" cy="84.2" r="1.6"/><circle cx="547.2" cy="71.6" r="1.6"/><circle cx="549.7" cy="75.2" r="1.6"/><circle cx="548.9" cy="68.0" r="1.6"/><circle cx="538.6" cy="53.8" r="1.6"/><circle cx="548.4" cy="78.0" r="1.6"/><circle cx="550.7" cy="56.6" r="1.6"/><circle cx="551.8" cy="76.5" r="1.6"/><circle cx="551.2" cy="89.6" r="1.6"/><circle cx="548.7" cy="50.7" r="1.6"/><circle cx="545.5" cy="57.5" r="1.6"/><circle cx="545.4" cy="67.5" r="1.6"/><circle cx="546.1" cy="55.3" r="1.6"/><circle cx="551.1" cy="80.1" r="1.6"/><circle cx="550.2" cy="64.5" r="1.6"/><circle cx="552.3" cy="78.2" r="1.6"/><circle cx="548.4" cy="63.7" r="1.6"/><circle cx="550.2" cy="56.0" r="1.6"/><circle cx="536.2" cy="71.7" r="1.6"/><circle cx="537.9" cy="69.9" r="1.6"/><circle cx="549.1" cy="64.3" r="1.6"/><circle cx="537.1" cy="71.7" r="1.6"/><circle cx="542.2" cy="85.7" r="1.6"/><circle cx="535.3" cy="62.6" r="1.6"/><circle cx="538.5" cy="59.1" r="1.6"/><circle cx="551.0" cy="82.4" r="1.6"/><circle cx="550.5" cy="65.0" r="1.6"/><circle cx="536.9" cy="65.4" r="1.6"/><circle cx="542.2" cy="76.8" r="1.6"/><circle cx="548.3" cy="60.1" r="1.6"/><circle cx="546.2" cy="55.5" r="1.6"/><circle cx="542.3" cy="76.3" r="1.6"/><circle cx="543.4" cy="71.1" r="1.6"/><circle cx="544.2" cy="75.8" r="1.6"/><circle cx="535.4" cy="67.7" r="1.6"/><circle cx="545.1" cy="52.5" r="1.6"/><circle cx="547.7" cy="53.4" r="1.6"/><circle cx="552.2" cy="56.4" r="1.6"/><circle cx="541.7" cy="71.1" r="1.6"/><circle cx="546.4" cy="86.7" r="1.6"/><circle cx="544.9" cy="62.6" r="1.6"/><circle cx="538.2" cy="45.3" r="1.6"/><circle cx="547.6" cy="77.3" r="1.6"/><circle cx="543.2" cy="53.0" r="1.6"/><circle cx="541.3" cy="84.5" r="1.6"/><circle cx="543.5" cy="52.4" r="1.6"/><circle cx="541.6" cy="67.6" r="1.6"/><circle cx="545.3" cy="60.6" r="1.6"/><circle cx="549.9" cy="57.9" r="1.6"/><circle cx="541.4" cy="55.5" r="1.6"/><circle cx="548.5" cy="76.4" r="1.6"/><circle cx="551.0" cy="53.8" r="1.6"/><circle cx="549.4" cy="24.0" r="1.6"/><circle cx="549.4" cy="32.0" r="1.6"/><circle cx="550.3" cy="132.4" r="1.6"/><circle cx="537.0" cy="104.0" r="1.6"/><circle cx="540.0" cy="109.5" r="1.6"/><circle cx="550.0" cy="98.0" r="1.6"/><circle cx="536.0" cy="96.0" r="1.6"/><circle cx="547.0" cy="97.0" r="1.6"/><circle cx="539.0" cy="100.0" r="1.6"/><circle cx="552.0" cy="95.0" r="1.6"/><circle cx="535.0" cy="92.0" r="1.6"/></g>
<line x1="543.3" y1="37.3" x2="543.3" y2="60.3" stroke="#111" stroke-width="1.1"/>
<line x1="543.3" y1="78.3" x2="543.3" y2="98.8" stroke="#111" stroke-width="1.1"/>
<line x1="540.05" y1="37.3" x2="546.55" y2="37.3" stroke="#111" stroke-width="1.2"/>
<line x1="540.05" y1="98.8" x2="546.55" y2="98.8" stroke="#111" stroke-width="1.2"/>
<rect x="537.3" y="60.3" width="11.40" height="18.00" fill="rgba(110,110,110,0.35)" stroke="#111" stroke-width="1.25"/>
<line x1="537.3" y1="68.3" x2="548.7" y2="68.3" stroke="#000" stroke-width="2.6"/>
<circle cx="543.2" cy="104.7" r="3.1" fill="#EE1111"/>
<rect x="531.3" y="19.6" width="23.50" height="116.10" fill="none" stroke="#2b2b2b" stroke-width="1.2"/>
<line x1="529.0" y1="133.10" x2="531.3" y2="133.10" stroke="#2b2b2b" stroke-width="1.1"/>
<text transform="translate(525.4 137.1) scale(1 1.03)" font-size="9.75" text-anchor="end" fill="#1a1a1a" stroke="#1a1a1a" stroke-width="0.2" >20</text>
<line x1="529.0" y1="106.10" x2="531.3" y2="106.10" stroke="#2b2b2b" stroke-width="1.1"/>
<text transform="translate(525.4 110.1) scale(1 1.03)" font-size="9.75" text-anchor="end" fill="#1a1a1a" stroke="#1a1a1a" stroke-width="0.2" >55</text>
<line x1="529.0" y1="79.10" x2="531.3" y2="79.10" stroke="#2b2b2b" stroke-width="1.1"/>
<text transform="translate(525.4 83.1) scale(1 1.03)" font-size="9.75" text-anchor="end" fill="#1a1a1a" stroke="#1a1a1a" stroke-width="0.2" >90</text>
<line x1="529.0" y1="52.10" x2="531.3" y2="52.10" stroke="#2b2b2b" stroke-width="1.1"/>
<text transform="translate(525.4 56.099999999999994) scale(1 1.03)" font-size="9.75" text-anchor="end" fill="#1a1a1a" stroke="#1a1a1a" stroke-width="0.2" >125</text>
<line x1="529.0" y1="25.10" x2="531.3" y2="25.10" stroke="#2b2b2b" stroke-width="1.1"/>
<text transform="translate(525.4 29.099999999999994) scale(1 1.03)" font-size="9.75" text-anchor="end" fill="#1a1a1a" stroke="#1a1a1a" stroke-width="0.2" >160</text>
<text transform="translate(499.4 78) rotate(-90) scale(1 0.95)" font-size="9.75" text-anchor="middle" fill="#1a1a1a" stroke="#1a1a1a" stroke-width="0.2" >Ice Duration (days)</text>
<text transform="translate(489.8 20.3)" font-size="11" text-anchor="start" fill="#111" font-weight="bold" >C</text>
<rect x="604.2" y="20.2" width="23.10" height="117.30" fill="#fff"/>
<line x1="615.5" y1="56.3" x2="615.5" y2="83.0" stroke="#111" stroke-width="1.1"/>
<line x1="615.5" y1="111.3" x2="615.5" y2="132.5" stroke="#111" stroke-width="1.1"/>
<line x1="612.5" y1="56.3" x2="618.5" y2="56.3" stroke="#111" stroke-width="1.2"/>
<line x1="612.5" y1="132.5" x2="618.5" y2="132.5" stroke="#111" stroke-width="1.2"/>
<rect x="610.0" y="83.0" width="10.70" height="28.30" fill="#fff" stroke="#111" stroke-width="1.25"/>
<line x1="610.0" y1="97.5" x2="620.7" y2="97.5" stroke="#000" stroke-width="2.6"/>
<g fill="#7a7a7a" fill-opacity="0.75"><circle cx="616.1" cy="38.8" r="1.75"/><circle cx="620.3" cy="59.8" r="1.75"/><circle cx="622.0" cy="62.3" r="1.75"/><circle cx="608.5" cy="77.0" r="1.75"/><circle cx="615.7" cy="92.3" r="1.75"/><circle cx="620.8" cy="89.7" r="1.75"/><circle cx="616.0" cy="92.5" r="1.75"/><circle cx="608.8" cy="102.5" r="1.75"/><circle cx="608.8" cy="107.5" r="1.75"/><circle cx="620.5" cy="107.5" r="1.75"/><circle cx="613.0" cy="110.8" r="1.75"/><circle cx="612.7" cy="118.7" r="1.75"/><circle cx="608.3" cy="127.0" r="1.75"/><circle cx="609.7" cy="130.8" r="1.75"/><circle cx="612.2" cy="132.5" r="1.75"/><circle cx="621.3" cy="95.0" r="1.75"/><circle cx="621.3" cy="103.3" r="1.75"/><circle cx="611.0" cy="98.0" r="1.75"/><circle cx="618.0" cy="99.0" r="1.75"/></g>
<circle cx="617.5" cy="27.6" r="3.1" fill="#EE1111"/>
<rect x="604.2" y="20.2" width="23.10" height="117.30" fill="none" stroke="#2b2b2b" stroke-width="1.2"/>
<line x1="601.9000000000001" y1="112.20" x2="604.2" y2="112.20" stroke="#2b2b2b" stroke-width="1.1"/>
<text transform="translate(598.3000000000001 116.2) scale(1 1.03)" font-size="9.75" text-anchor="end" fill="#1a1a1a" stroke="#1a1a1a" stroke-width="0.2" >4</text>
<line x1="601.9000000000001" y1="85.60" x2="604.2" y2="85.60" stroke="#2b2b2b" stroke-width="1.1"/>
<text transform="translate(598.3000000000001 89.6) scale(1 1.03)" font-size="9.75" text-anchor="end" fill="#1a1a1a" stroke="#1a1a1a" stroke-width="0.2" >8</text>
<line x1="601.9000000000001" y1="59.00" x2="604.2" y2="59.00" stroke="#2b2b2b" stroke-width="1.1"/>
<text transform="translate(598.3000000000001 63.0) scale(1 1.03)" font-size="9.75" text-anchor="end" fill="#1a1a1a" stroke="#1a1a1a" stroke-width="0.2" >12</text>
<line x1="601.9000000000001" y1="32.40" x2="604.2" y2="32.40" stroke="#2b2b2b" stroke-width="1.1"/>
<text transform="translate(598.3000000000001 36.39999999999999) scale(1 1.03)" font-size="9.75" text-anchor="end" fill="#1a1a1a" stroke="#1a1a1a" stroke-width="0.2" >16</text>
<text transform="translate(578.0 79) rotate(-90) scale(1 0.95)" font-size="9.75" text-anchor="middle" fill="#1a1a1a" stroke="#1a1a1a" stroke-width="0.2" >Zooplankton (mg/L)</text>
<text transform="translate(562.6 20.3)" font-size="11" text-anchor="start" fill="#111" font-weight="bold" >D</text>
<rect x="531.3" y="171.0" width="23.50" height="116.80" fill="#fff"/>
<line x1="542.8" y1="174.6" x2="542.8" y2="213.4" stroke="#111" stroke-width="1.1"/>
<line x1="542.8" y1="259.3" x2="542.8" y2="280.5" stroke="#111" stroke-width="1.1"/>
<line x1="540.3" y1="174.6" x2="545.3" y2="174.6" stroke="#111" stroke-width="1.2"/>
<line x1="540.3" y1="280.5" x2="545.3" y2="280.5" stroke="#111" stroke-width="1.2"/>
<rect x="537.8" y="213.4" width="10.50" height="45.90" fill="#fff" stroke="#111" stroke-width="1.25"/>
<line x1="537.8" y1="231.4" x2="548.3" y2="231.4" stroke="#000" stroke-width="2.6"/>
<g fill="#7a7a7a" fill-opacity="0.75"><circle cx="546.0" cy="175.4" r="1.75"/><circle cx="550.6" cy="182.0" r="1.75"/><circle cx="538.6" cy="191.6" r="1.75"/><circle cx="546.0" cy="199.4" r="1.75"/><circle cx="535.4" cy="207.4" r="1.75"/><circle cx="536.0" cy="213.4" r="1.75"/><circle cx="542.6" cy="219.0" r="1.75"/><circle cx="538.4" cy="219.3" r="1.75"/><circle cx="545.3" cy="224.3" r="1.75"/><circle cx="551.0" cy="225.7" r="1.75"/><circle cx="544.7" cy="237.0" r="1.75"/><circle cx="548.7" cy="241.4" r="1.75"/><circle cx="550.4" cy="247.7" r="1.75"/><circle cx="547.7" cy="249.0" r="1.75"/><circle cx="540.0" cy="251.0" r="1.75"/><circle cx="544.5" cy="262.7" r="1.75"/><circle cx="538.8" cy="277.7" r="1.75"/><circle cx="547.5" cy="277.0" r="1.75"/><circle cx="550.2" cy="280.7" r="1.75"/></g>
<circle cx="543.3" cy="280.7" r="3.1" fill="#EE1111"/>
<rect x="531.3" y="171.0" width="23.50" height="116.80" fill="none" stroke="#2b2b2b" stroke-width="1.2"/>
<line x1="529.0" y1="281.50" x2="531.3" y2="281.50" stroke="#2b2b2b" stroke-width="1.1"/>
<text transform="translate(525.4 285.5) scale(1 1.03)" font-size="9.75" text-anchor="end" fill="#1a1a1a" stroke="#1a1a1a" stroke-width="0.2" >0.05</text>
<line x1="529.0" y1="251.87" x2="531.3" y2="251.87" stroke="#2b2b2b" stroke-width="1.1"/>
<text transform="translate(525.4 255.87) scale(1 1.03)" font-size="9.75" text-anchor="end" fill="#1a1a1a" stroke="#1a1a1a" stroke-width="0.2" >0.07</text>
<line x1="529.0" y1="222.24" x2="531.3" y2="222.24" stroke="#2b2b2b" stroke-width="1.1"/>
<text transform="translate(525.4 226.24) scale(1 1.03)" font-size="9.75" text-anchor="end" fill="#1a1a1a" stroke="#1a1a1a" stroke-width="0.2" >0.09</text>
<line x1="529.0" y1="192.61" x2="531.3" y2="192.61" stroke="#2b2b2b" stroke-width="1.1"/>
<text transform="translate(525.4 196.61) scale(1 1.03)" font-size="9.75" text-anchor="end" fill="#1a1a1a" stroke="#1a1a1a" stroke-width="0.2" >0.11</text>
<text transform="translate(499.7 229.7) rotate(-90) scale(1 0.95)" font-size="9.75" text-anchor="middle" fill="#1a1a1a" stroke="#1a1a1a" stroke-width="0.2" >TP (mg/L)</text>
<text transform="translate(491.2 170.8)" font-size="11" text-anchor="start" fill="#111" font-weight="bold" >F</text>
<rect x="604.0" y="171.1" width="23.20" height="117.10" fill="#fff"/>
<line x1="615.8" y1="175.2" x2="615.8" y2="203.6" stroke="#111" stroke-width="1.1"/>
<line x1="615.8" y1="248.3" x2="615.8" y2="283.3" stroke="#111" stroke-width="1.1"/>
<line x1="612.55" y1="175.2" x2="619.05" y2="175.2" stroke="#111" stroke-width="1.2"/>
<line x1="612.55" y1="283.3" x2="619.05" y2="283.3" stroke="#111" stroke-width="1.2"/>
<rect x="609.8" y="203.6" width="11.40" height="44.70" fill="#fff" stroke="#111" stroke-width="1.25"/>
<line x1="609.8" y1="233.2" x2="621.2" y2="233.2" stroke="#000" stroke-width="2.6"/>
<g fill="#7a7a7a" fill-opacity="0.75"><circle cx="613.6" cy="174.8" r="1.75"/><circle cx="619.0" cy="186.7" r="1.75"/><circle cx="618.0" cy="188.2" r="1.75"/><circle cx="617.0" cy="198.0" r="1.75"/><circle cx="622.9" cy="197.5" r="1.75"/><circle cx="612.7" cy="200.1" r="1.75"/><circle cx="615.3" cy="211.0" r="1.75"/><circle cx="617.5" cy="212.2" r="1.75"/><circle cx="623.6" cy="211.6" r="1.75"/><circle cx="613.6" cy="223.5" r="1.75"/><circle cx="610.0" cy="226.8" r="1.75"/><circle cx="612.5" cy="226.2" r="1.75"/><circle cx="613.9" cy="242.5" r="1.75"/><circle cx="616.2" cy="243.2" r="1.75"/><circle cx="609.2" cy="248.8" r="1.75"/><circle cx="610.8" cy="266.5" r="1.75"/><circle cx="613.9" cy="267.4" r="1.75"/><circle cx="618.5" cy="276.3" r="1.75"/><circle cx="609.2" cy="283.7" r="1.75"/><circle cx="621.3" cy="230.8" r="1.75"/></g>
<circle cx="617.1" cy="260.4" r="3.1" fill="#EE1111"/>
<rect x="604.0" y="171.1" width="23.20" height="117.10" fill="none" stroke="#2b2b2b" stroke-width="1.2"/>
<line x1="601.7" y1="259.50" x2="604.0" y2="259.50" stroke="#2b2b2b" stroke-width="1.1"/>
<text transform="translate(598.1 263.5) scale(1 1.03)" font-size="9.75" text-anchor="end" fill="#1a1a1a" stroke="#1a1a1a" stroke-width="0.2" >0.02</text>
<line x1="601.7" y1="235.43" x2="604.0" y2="235.43" stroke="#2b2b2b" stroke-width="1.1"/>
<text transform="translate(598.1 239.43) scale(1 1.03)" font-size="9.75" text-anchor="end" fill="#1a1a1a" stroke="#1a1a1a" stroke-width="0.2" >0.04</text>
<line x1="601.7" y1="211.36" x2="604.0" y2="211.36" stroke="#2b2b2b" stroke-width="1.1"/>
<text transform="translate(598.1 215.36) scale(1 1.03)" font-size="9.75" text-anchor="end" fill="#1a1a1a" stroke="#1a1a1a" stroke-width="0.2" >0.06</text>
<line x1="601.7" y1="187.29" x2="604.0" y2="187.29" stroke="#2b2b2b" stroke-width="1.1"/>
<text transform="translate(598.1 191.29) scale(1 1.03)" font-size="9.75" text-anchor="end" fill="#1a1a1a" stroke="#1a1a1a" stroke-width="0.2" >0.08</text>
<text transform="translate(572.4 229.6) rotate(-90) scale(1 0.95)" font-size="9.75" text-anchor="middle" fill="#1a1a1a" stroke="#1a1a1a" stroke-width="0.2" >SRP (mg/L)</text>
<text transform="translate(561.8 170.8)" font-size="11" text-anchor="start" fill="#111" font-weight="bold" >G</text>
<rect x="679.4" y="32.0" width="34.90" height="117.40" fill="#fff"/>
<line x1="696.5" y1="64.4" x2="696.5" y2="93.4" stroke="#111" stroke-width="1.1"/>
<line x1="696.5" y1="129.9" x2="696.5" y2="144.7" stroke="#111" stroke-width="1.1"/>
<line x1="692.0" y1="64.4" x2="701.0" y2="64.4" stroke="#111" stroke-width="1.2"/>
<line x1="692.0" y1="144.7" x2="701.0" y2="144.7" stroke="#111" stroke-width="1.2"/>
<rect x="688.4" y="93.4" width="16.50" height="36.50" fill="#fff" stroke="#111" stroke-width="1.25"/>
<line x1="688.4" y1="109.9" x2="704.9" y2="109.9" stroke="#000" stroke-width="2.6"/>
<g fill="#7a7a7a" fill-opacity="0.75"><circle cx="700.4" cy="36.4" r="1.75"/><circle cx="688.6" cy="67.0" r="1.75"/><circle cx="692.6" cy="64.0" r="1.75"/><circle cx="697.0" cy="74.0" r="1.75"/><circle cx="689.4" cy="77.0" r="1.75"/><circle cx="696.0" cy="82.0" r="1.75"/><circle cx="696.0" cy="82.2" r="1.75"/><circle cx="684.8" cy="101.2" r="1.75"/><circle cx="699.3" cy="93.0" r="1.75"/><circle cx="707.9" cy="94.7" r="1.75"/><circle cx="707.5" cy="116.4" r="1.75"/><circle cx="692.8" cy="122.3" r="1.75"/><circle cx="698.4" cy="119.4" r="1.75"/><circle cx="708.6" cy="122.3" r="1.75"/><circle cx="703.2" cy="125.9" r="1.75"/><circle cx="688.0" cy="133.7" r="1.75"/><circle cx="707.7" cy="141.3" r="1.75"/><circle cx="705.4" cy="144.7" r="1.75"/><circle cx="703.0" cy="126.3" r="1.75"/></g>
<circle cx="696.3" cy="130.6" r="3.1" fill="#EE1111"/>
<rect x="679.4" y="32.0" width="34.90" height="117.40" fill="none" stroke="#2b2b2b" stroke-width="1.2"/>
<line x1="677.1" y1="99.90" x2="679.4" y2="99.90" stroke="#2b2b2b" stroke-width="1.1"/>
<text transform="translate(673.5 103.9) scale(1 1.03)" font-size="9.75" text-anchor="end" fill="#1a1a1a" stroke="#1a1a1a" stroke-width="0.2" >3</text>
<line x1="677.1" y1="38.61" x2="679.4" y2="38.61" stroke="#2b2b2b" stroke-width="1.1"/>
<text transform="translate(673.5 42.61000000000001) scale(1 1.03)" font-size="9.75" text-anchor="end" fill="#1a1a1a" stroke="#1a1a1a" stroke-width="0.2" >6</text>
<text transform="translate(658.9 90.5) rotate(-90) scale(1 0.95)" font-size="9.75" text-anchor="middle" fill="#1a1a1a" stroke="#1a1a1a" stroke-width="0.2" >Phytoplankton (mg/L)</text>
<text transform="translate(645.8 34.7)" font-size="11" text-anchor="start" fill="#111" font-weight="bold" >H</text>
<rect x="679.3" y="171.1" width="35.30" height="116.90" fill="#fff"/>
<line x1="696.9" y1="175.2" x2="696.9" y2="223.8" stroke="#111" stroke-width="1.1"/>
<line x1="696.9" y1="263.8" x2="696.9" y2="283.8" stroke="#111" stroke-width="1.1"/>
<line x1="692.65" y1="175.2" x2="701.15" y2="175.2" stroke="#111" stroke-width="1.2"/>
<line x1="692.65" y1="283.8" x2="701.15" y2="283.8" stroke="#111" stroke-width="1.2"/>
<rect x="688.8" y="223.8" width="15.70" height="40.00" fill="#fff" stroke="#111" stroke-width="1.25"/>
<line x1="688.8" y1="252.0" x2="704.5" y2="252.0" stroke="#000" stroke-width="2.6"/>
<g fill="#7a7a7a" fill-opacity="0.75"><circle cx="701.0" cy="205.1" r="1.75"/><circle cx="704.7" cy="203.6" r="1.75"/><circle cx="701.0" cy="214.8" r="1.75"/><circle cx="705.3" cy="218.1" r="1.75"/><circle cx="708.0" cy="224.6" r="1.75"/><circle cx="707.5" cy="224.5" r="1.75"/><circle cx="705.0" cy="233.0" r="1.75"/><circle cx="690.5" cy="240.5" r="1.75"/><circle cx="706.3" cy="248.0" r="1.75"/><circle cx="687.5" cy="252.0" r="1.75"/><circle cx="690.5" cy="256.3" r="1.75"/><circle cx="690.5" cy="260.5" r="1.75"/><circle cx="707.5" cy="259.5" r="1.75"/><circle cx="694.5" cy="266.3" r="1.75"/><circle cx="696.3" cy="268.8" r="1.75"/><circle cx="703.8" cy="269.5" r="1.75"/><circle cx="704.5" cy="278.0" r="1.75"/><circle cx="688.8" cy="283.8" r="1.75"/></g>
<circle cx="699.5" cy="273.8" r="3.1" fill="#EE1111"/>
<rect x="679.3" y="171.1" width="35.30" height="116.90" fill="none" stroke="#2b2b2b" stroke-width="1.2"/>
<line x1="677.0" y1="256.30" x2="679.3" y2="256.30" stroke="#2b2b2b" stroke-width="1.1"/>
<text transform="translate(673.4 260.3) scale(1 1.03)" font-size="9.75" text-anchor="end" fill="#1a1a1a" stroke="#1a1a1a" stroke-width="0.2" >5</text>
<line x1="677.0" y1="187.80" x2="679.3" y2="187.80" stroke="#2b2b2b" stroke-width="1.1"/>
<text transform="translate(673.4 191.8) scale(1 1.03)" font-size="9.75" text-anchor="end" fill="#1a1a1a" stroke="#1a1a1a" stroke-width="0.2" >7</text>
<text transform="translate(659.0 228.3) rotate(-90) scale(1 0.95)" font-size="9.75" text-anchor="middle" fill="#1a1a1a" stroke="#1a1a1a" stroke-width="0.2" >DOC (mg/L)</text>
<text transform="translate(648.8 173.2)" font-size="11" text-anchor="start" fill="#111" font-weight="bold" >I</text>
<text transform="translate(661.2 11.8) scale(1 1.03)" font-size="9.75" text-anchor="start" fill="#2EA32E" stroke="#2EA32E" stroke-width="0.2" >Low</text>
<text transform="translate(661.2 23.4) scale(1 1.03)" font-size="9.75" text-anchor="start" fill="#2EA32E" stroke="#2EA32E" stroke-width="0.2" >Productivity</text>
</svg></body></html>
